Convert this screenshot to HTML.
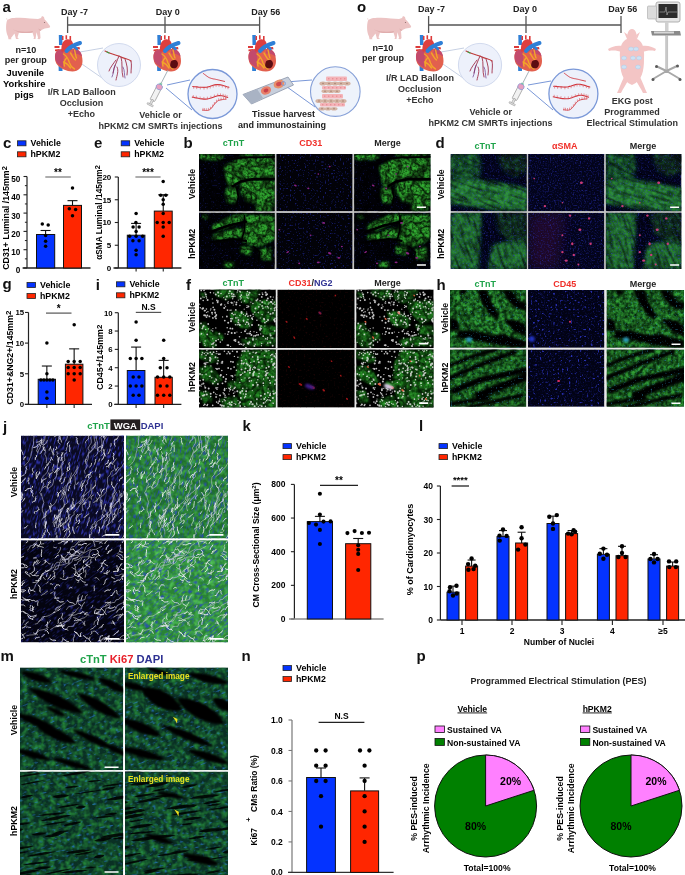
<!DOCTYPE html>
<html><head><meta charset="utf-8"><title>Figure</title>
<style>html,body{margin:0;padding:0;background:#fff;} body{width:685px;height:875px;overflow:hidden;} svg{display:block;will-change:transform;}</style>
</head><body>
<svg width="685" height="875" viewBox="0 0 685 875" font-family='"Liberation Sans", sans-serif'>
<defs><clipPath id="c1"><rect x="199" y="154" width="75.80" height="57.30"/></clipPath><filter id="sp0" x="0" y="0" width="1" height="1" color-interpolation-filters="sRGB"><feTurbulence type="fractalNoise" baseFrequency="0.6" numOctaves="1" seed="11" result="n"/><feColorMatrix in="n" type="matrix" values="0 0 0 0 0 0 0 0 0 0 0 0 0 0 0 6 0 0 0 -3.5" result="a"/><feFlood flood-color="#2a36c8"/><feComposite in2="a" operator="in"/></filter><filter id="bl1" x="-0.2" y="-0.2" width="1.4" height="1.4"><feGaussianBlur stdDeviation="1.6"/></filter><filter id="ti2" x="-0.05" y="-0.05" width="1.1" height="1.1" color-interpolation-filters="sRGB"><feGaussianBlur in="SourceGraphic" stdDeviation="1.3" result="b"/><feTurbulence type="fractalNoise" baseFrequency="0.4" numOctaves="2" seed="3" result="n"/><feColorMatrix in="n" type="matrix" values="0 0 0 0 0 0 0 0 0 0 0 0 0 0 0 2.6 0 0 0 -0.65" result="a"/><feComposite in="b" in2="a" operator="in"/><feGaussianBlur stdDeviation="0.45"/></filter><filter id="vn3" x="0" y="0" width="1" height="1" color-interpolation-filters="sRGB"><feTurbulence type="fractalNoise" baseFrequency="0.09" numOctaves="2" seed="7" result="n"/><feColorMatrix in="n" type="matrix" values="0 0 0 0 0 0 0 0 0 0 0 0 0 0 0 1 0 0 0 0" result="a0"/><feComponentTransfer in="a0" result="a"><feFuncA type="table" tableValues="0 0 0 0 0.2 1 0.2 0 0 0 0"/></feComponentTransfer><feFlood flood-color="#000"/><feComposite in2="a" operator="in"/></filter><filter id="bl4" x="-0.2" y="-0.2" width="1.4" height="1.4"><feGaussianBlur stdDeviation="0.7"/></filter><clipPath id="c2"><rect x="199" y="212.8" width="75.80" height="56.20"/></clipPath><filter id="sp5" x="0" y="0" width="1" height="1" color-interpolation-filters="sRGB"><feTurbulence type="fractalNoise" baseFrequency="0.6" numOctaves="1" seed="12" result="n"/><feColorMatrix in="n" type="matrix" values="0 0 0 0 0 0 0 0 0 0 0 0 0 0 0 6 0 0 0 -3.5" result="a"/><feFlood flood-color="#2a36c8"/><feComposite in2="a" operator="in"/></filter><filter id="ti6" x="-0.05" y="-0.05" width="1.1" height="1.1" color-interpolation-filters="sRGB"><feGaussianBlur in="SourceGraphic" stdDeviation="1.3" result="b"/><feTurbulence type="fractalNoise" baseFrequency="0.4" numOctaves="2" seed="4" result="n"/><feColorMatrix in="n" type="matrix" values="0 0 0 0 0 0 0 0 0 0 0 0 0 0 0 2.6 0 0 0 -0.65" result="a"/><feComposite in="b" in2="a" operator="in"/><feGaussianBlur stdDeviation="0.45"/></filter><filter id="vn7" x="0" y="0" width="1" height="1" color-interpolation-filters="sRGB"><feTurbulence type="fractalNoise" baseFrequency="0.09" numOctaves="2" seed="8" result="n"/><feColorMatrix in="n" type="matrix" values="0 0 0 0 0 0 0 0 0 0 0 0 0 0 0 1 0 0 0 0" result="a0"/><feComponentTransfer in="a0" result="a"><feFuncA type="table" tableValues="0 0 0 0 0.2 1 0.2 0 0 0 0"/></feComponentTransfer><feFlood flood-color="#000"/><feComposite in2="a" operator="in"/></filter><clipPath id="c3"><rect x="276.3" y="154" width="76.30" height="57.30"/></clipPath><filter id="sp8" x="0" y="0" width="1" height="1" color-interpolation-filters="sRGB"><feTurbulence type="fractalNoise" baseFrequency="0.6" numOctaves="1" seed="14" result="n"/><feColorMatrix in="n" type="matrix" values="0 0 0 0 0 0 0 0 0 0 0 0 0 0 0 6 0 0 0 -3.5" result="a"/><feFlood flood-color="#2a36c8"/><feComposite in2="a" operator="in"/></filter><clipPath id="c4"><rect x="276.3" y="212.8" width="76.30" height="56.20"/></clipPath><filter id="sp9" x="0" y="0" width="1" height="1" color-interpolation-filters="sRGB"><feTurbulence type="fractalNoise" baseFrequency="0.6" numOctaves="1" seed="15" result="n"/><feColorMatrix in="n" type="matrix" values="0 0 0 0 0 0 0 0 0 0 0 0 0 0 0 6 0 0 0 -3.5" result="a"/><feFlood flood-color="#2a36c8"/><feComposite in2="a" operator="in"/></filter><clipPath id="c5"><rect x="354.1" y="154" width="76.40" height="57.30"/></clipPath><filter id="sp10" x="0" y="0" width="1" height="1" color-interpolation-filters="sRGB"><feTurbulence type="fractalNoise" baseFrequency="0.6" numOctaves="1" seed="17" result="n"/><feColorMatrix in="n" type="matrix" values="0 0 0 0 0 0 0 0 0 0 0 0 0 0 0 6 0 0 0 -3.5" result="a"/><feFlood flood-color="#2a36c8"/><feComposite in2="a" operator="in"/></filter><clipPath id="c6"><rect x="354.1" y="212.8" width="76.40" height="56.20"/></clipPath><filter id="sp11" x="0" y="0" width="1" height="1" color-interpolation-filters="sRGB"><feTurbulence type="fractalNoise" baseFrequency="0.6" numOctaves="1" seed="18" result="n"/><feColorMatrix in="n" type="matrix" values="0 0 0 0 0 0 0 0 0 0 0 0 0 0 0 6 0 0 0 -3.5" result="a"/><feFlood flood-color="#2a36c8"/><feComposite in2="a" operator="in"/></filter><clipPath id="c7"><rect x="450.6" y="154" width="76.20" height="57.30"/></clipPath><filter id="bl12" x="-0.2" y="-0.2" width="1.4" height="1.4"><feGaussianBlur stdDeviation="2.5"/></filter><filter id="ti13" x="-0.05" y="-0.05" width="1.1" height="1.1" color-interpolation-filters="sRGB"><feGaussianBlur in="SourceGraphic" stdDeviation="1.8" result="b"/><feTurbulence type="fractalNoise" baseFrequency="0.2" numOctaves="2" seed="4" result="n"/><feColorMatrix in="n" type="matrix" values="0 0 0 0 0 0 0 0 0 0 0 0 0 0 0 2.4 0 0 0 -1.1" result="a"/><feComposite in="b" in2="a" operator="in"/><feGaussianBlur stdDeviation="0.45"/></filter><filter id="ti14" x="-0.05" y="-0.05" width="1.1" height="1.1" color-interpolation-filters="sRGB"><feGaussianBlur in="SourceGraphic" stdDeviation="1.5" result="b"/><feTurbulence type="fractalNoise" baseFrequency="0.22" numOctaves="2" seed="5" result="n"/><feColorMatrix in="n" type="matrix" values="0 0 0 0 0 0 0 0 0 0 0 0 0 0 0 2.4 0 0 0 -0.85" result="a"/><feComposite in="b" in2="a" operator="in"/><feGaussianBlur stdDeviation="0.45"/></filter><filter id="bl15" x="-0.2" y="-0.2" width="1.4" height="1.4"><feGaussianBlur stdDeviation="2"/></filter><filter id="ti16" x="-0.05" y="-0.05" width="1.1" height="1.1" color-interpolation-filters="sRGB"><feGaussianBlur in="SourceGraphic" stdDeviation="1.5" result="b"/><feTurbulence type="fractalNoise" baseFrequency="0.22" numOctaves="2" seed="6" result="n"/><feColorMatrix in="n" type="matrix" values="0 0 0 0 0 0 0 0 0 0 0 0 0 0 0 2.4 0 0 0 -0.6" result="a"/><feComposite in="b" in2="a" operator="in"/><feGaussianBlur stdDeviation="0.45"/></filter><filter id="as17" x="0" y="0" width="1" height="1" color-interpolation-filters="sRGB"><feTurbulence type="fractalNoise" baseFrequency="0.05 0.35" numOctaves="1" seed="17" result="n"/><feColorMatrix in="n" type="matrix" values="0 0 0 0 0 0 0 0 0 0 0 0 0 0 0 4 0 0 0 -1.9" result="a"/><feFlood flood-color="#000"/><feComposite in2="a" operator="in"/></filter><filter id="sp18" x="0" y="0" width="1" height="1" color-interpolation-filters="sRGB"><feTurbulence type="fractalNoise" baseFrequency="0.7" numOctaves="1" seed="21" result="n"/><feColorMatrix in="n" type="matrix" values="0 0 0 0 0 0 0 0 0 0 0 0 0 0 0 4 0 0 0 -2.0" result="a"/><feFlood flood-color="#2228b0"/><feComposite in2="a" operator="in"/></filter><filter id="sp19" x="0" y="0" width="1" height="1" color-interpolation-filters="sRGB"><feTurbulence type="fractalNoise" baseFrequency="0.6" numOctaves="1" seed="27" result="n"/><feColorMatrix in="n" type="matrix" values="0 0 0 0 0 0 0 0 0 0 0 0 0 0 0 6 0 0 0 -3.6" result="a"/><feFlood flood-color="#3a44e0"/><feComposite in2="a" operator="in"/></filter><clipPath id="c8"><rect x="450.6" y="212.8" width="76.20" height="56.20"/></clipPath><filter id="ti20" x="-0.05" y="-0.05" width="1.1" height="1.1" color-interpolation-filters="sRGB"><feGaussianBlur in="SourceGraphic" stdDeviation="1.2" result="b"/><feTurbulence type="fractalNoise" baseFrequency="0.25" numOctaves="2" seed="8" result="n"/><feColorMatrix in="n" type="matrix" values="0 0 0 0 0 0 0 0 0 0 0 0 0 0 0 2.4 0 0 0 -1.05" result="a"/><feComposite in="b" in2="a" operator="in"/><feGaussianBlur stdDeviation="0.45"/></filter><filter id="ti21" x="-0.05" y="-0.05" width="1.1" height="1.1" color-interpolation-filters="sRGB"><feGaussianBlur in="SourceGraphic" stdDeviation="1.5" result="b"/><feTurbulence type="fractalNoise" baseFrequency="0.22" numOctaves="2" seed="7" result="n"/><feColorMatrix in="n" type="matrix" values="0 0 0 0 0 0 0 0 0 0 0 0 0 0 0 2.4 0 0 0 -0.65" result="a"/><feComposite in="b" in2="a" operator="in"/><feGaussianBlur stdDeviation="0.45"/></filter><filter id="as22" x="0" y="0" width="1" height="1" color-interpolation-filters="sRGB"><feTurbulence type="fractalNoise" baseFrequency="0.05 0.35" numOctaves="1" seed="18" result="n"/><feColorMatrix in="n" type="matrix" values="0 0 0 0 0 0 0 0 0 0 0 0 0 0 0 4 0 0 0 -1.9" result="a"/><feFlood flood-color="#000"/><feComposite in2="a" operator="in"/></filter><filter id="sp23" x="0" y="0" width="1" height="1" color-interpolation-filters="sRGB"><feTurbulence type="fractalNoise" baseFrequency="0.7" numOctaves="1" seed="22" result="n"/><feColorMatrix in="n" type="matrix" values="0 0 0 0 0 0 0 0 0 0 0 0 0 0 0 4 0 0 0 -2.0" result="a"/><feFlood flood-color="#2228b0"/><feComposite in2="a" operator="in"/></filter><filter id="sp24" x="0" y="0" width="1" height="1" color-interpolation-filters="sRGB"><feTurbulence type="fractalNoise" baseFrequency="0.6" numOctaves="1" seed="28" result="n"/><feColorMatrix in="n" type="matrix" values="0 0 0 0 0 0 0 0 0 0 0 0 0 0 0 6 0 0 0 -3.6" result="a"/><feFlood flood-color="#3a44e0"/><feComposite in2="a" operator="in"/></filter><clipPath id="c9"><rect x="528.1" y="154" width="76.20" height="57.30"/></clipPath><filter id="sp25" x="0" y="0" width="1" height="1" color-interpolation-filters="sRGB"><feTurbulence type="fractalNoise" baseFrequency="0.7" numOctaves="1" seed="24" result="n"/><feColorMatrix in="n" type="matrix" values="0 0 0 0 0 0 0 0 0 0 0 0 0 0 0 4 0 0 0 -2.0" result="a"/><feFlood flood-color="#2228b0"/><feComposite in2="a" operator="in"/></filter><filter id="sp26" x="0" y="0" width="1" height="1" color-interpolation-filters="sRGB"><feTurbulence type="fractalNoise" baseFrequency="0.6" numOctaves="1" seed="30" result="n"/><feColorMatrix in="n" type="matrix" values="0 0 0 0 0 0 0 0 0 0 0 0 0 0 0 6 0 0 0 -3.6" result="a"/><feFlood flood-color="#3a44e0"/><feComposite in2="a" operator="in"/></filter><filter id="bl27" x="-0.2" y="-0.2" width="1.4" height="1.4"><feGaussianBlur stdDeviation="0.6"/></filter><clipPath id="c10"><rect x="528.1" y="212.8" width="76.20" height="56.20"/></clipPath><filter id="bl28" x="-0.2" y="-0.2" width="1.4" height="1.4"><feGaussianBlur stdDeviation="6"/></filter><filter id="sp29" x="0" y="0" width="1" height="1" color-interpolation-filters="sRGB"><feTurbulence type="fractalNoise" baseFrequency="0.7" numOctaves="1" seed="25" result="n"/><feColorMatrix in="n" type="matrix" values="0 0 0 0 0 0 0 0 0 0 0 0 0 0 0 4 0 0 0 -2.0" result="a"/><feFlood flood-color="#2228b0"/><feComposite in2="a" operator="in"/></filter><filter id="sp30" x="0" y="0" width="1" height="1" color-interpolation-filters="sRGB"><feTurbulence type="fractalNoise" baseFrequency="0.6" numOctaves="1" seed="31" result="n"/><feColorMatrix in="n" type="matrix" values="0 0 0 0 0 0 0 0 0 0 0 0 0 0 0 6 0 0 0 -3.6" result="a"/><feFlood flood-color="#3a44e0"/><feComposite in2="a" operator="in"/></filter><clipPath id="c11"><rect x="605.8" y="154" width="75.60" height="57.30"/></clipPath><filter id="sp31" x="0" y="0" width="1" height="1" color-interpolation-filters="sRGB"><feTurbulence type="fractalNoise" baseFrequency="0.7" numOctaves="1" seed="27" result="n"/><feColorMatrix in="n" type="matrix" values="0 0 0 0 0 0 0 0 0 0 0 0 0 0 0 4 0 0 0 -2.0" result="a"/><feFlood flood-color="#2228b0"/><feComposite in2="a" operator="in"/></filter><filter id="sp32" x="0" y="0" width="1" height="1" color-interpolation-filters="sRGB"><feTurbulence type="fractalNoise" baseFrequency="0.6" numOctaves="1" seed="33" result="n"/><feColorMatrix in="n" type="matrix" values="0 0 0 0 0 0 0 0 0 0 0 0 0 0 0 6 0 0 0 -3.6" result="a"/><feFlood flood-color="#3a44e0"/><feComposite in2="a" operator="in"/></filter><clipPath id="c12"><rect x="605.8" y="212.8" width="75.60" height="56.20"/></clipPath><filter id="sp33" x="0" y="0" width="1" height="1" color-interpolation-filters="sRGB"><feTurbulence type="fractalNoise" baseFrequency="0.7" numOctaves="1" seed="28" result="n"/><feColorMatrix in="n" type="matrix" values="0 0 0 0 0 0 0 0 0 0 0 0 0 0 0 4 0 0 0 -2.0" result="a"/><feFlood flood-color="#2228b0"/><feComposite in2="a" operator="in"/></filter><filter id="sp34" x="0" y="0" width="1" height="1" color-interpolation-filters="sRGB"><feTurbulence type="fractalNoise" baseFrequency="0.6" numOctaves="1" seed="34" result="n"/><feColorMatrix in="n" type="matrix" values="0 0 0 0 0 0 0 0 0 0 0 0 0 0 0 6 0 0 0 -3.6" result="a"/><feFlood flood-color="#3a44e0"/><feComposite in2="a" operator="in"/></filter><clipPath id="c13"><rect x="199" y="289.6" width="76.80" height="58.50"/></clipPath><filter id="bl35" x="-0.2" y="-0.2" width="1.4" height="1.4"><feGaussianBlur stdDeviation="1.3"/></filter><filter id="ti36" x="-0.05" y="-0.05" width="1.1" height="1.1" color-interpolation-filters="sRGB"><feGaussianBlur in="SourceGraphic" stdDeviation="0.9" result="b"/><feTurbulence type="fractalNoise" baseFrequency="0.3" numOctaves="2" seed="31" result="n"/><feColorMatrix in="n" type="matrix" values="0 0 0 0 0 0 0 0 0 0 0 0 0 0 0 2.4 0 0 0 -0.75" result="a"/><feComposite in="b" in2="a" operator="in"/><feGaussianBlur stdDeviation="0.45"/></filter><filter id="vn37" x="0" y="0" width="1" height="1" color-interpolation-filters="sRGB"><feTurbulence type="fractalNoise" baseFrequency="0.1" numOctaves="2" seed="37" result="n"/><feColorMatrix in="n" type="matrix" values="0 0 0 0 0 0 0 0 0 0 0 0 0 0 0 1 0 0 0 0" result="a0"/><feComponentTransfer in="a0" result="a"><feFuncA type="table" tableValues="0 0 0 0 0.3 1 0.3 0 0 0 0"/></feComponentTransfer><feFlood flood-color="#000"/><feComposite in2="a" operator="in"/></filter><clipPath id="c14"><rect x="199" y="349.6" width="76.80" height="58.00"/></clipPath><filter id="ti38" x="-0.05" y="-0.05" width="1.1" height="1.1" color-interpolation-filters="sRGB"><feGaussianBlur in="SourceGraphic" stdDeviation="0.9" result="b"/><feTurbulence type="fractalNoise" baseFrequency="0.3" numOctaves="2" seed="32" result="n"/><feColorMatrix in="n" type="matrix" values="0 0 0 0 0 0 0 0 0 0 0 0 0 0 0 2.4 0 0 0 -0.75" result="a"/><feComposite in="b" in2="a" operator="in"/><feGaussianBlur stdDeviation="0.45"/></filter><filter id="vn39" x="0" y="0" width="1" height="1" color-interpolation-filters="sRGB"><feTurbulence type="fractalNoise" baseFrequency="0.1" numOctaves="2" seed="38" result="n"/><feColorMatrix in="n" type="matrix" values="0 0 0 0 0 0 0 0 0 0 0 0 0 0 0 1 0 0 0 0" result="a0"/><feComponentTransfer in="a0" result="a"><feFuncA type="table" tableValues="0 0 0 0 0.3 1 0.3 0 0 0 0"/></feComponentTransfer><feFlood flood-color="#000"/><feComposite in2="a" operator="in"/></filter><clipPath id="c15"><rect x="277.3" y="289.6" width="77.40" height="58.50"/></clipPath><filter id="sp40" x="0" y="0" width="1" height="1" color-interpolation-filters="sRGB"><feTurbulence type="fractalNoise" baseFrequency="0.5" numOctaves="1" seed="51" result="n"/><feColorMatrix in="n" type="matrix" values="0 0 0 0 0 0 0 0 0 0 0 0 0 0 0 5 0 0 0 -3" result="a"/><feFlood flood-color="#300a0a"/><feComposite in2="a" operator="in"/></filter><filter id="bl41" x="-0.2" y="-0.2" width="1.4" height="1.4"><feGaussianBlur stdDeviation="0.9"/></filter><clipPath id="c16"><rect x="277.3" y="349.6" width="77.40" height="58.00"/></clipPath><filter id="sp42" x="0" y="0" width="1" height="1" color-interpolation-filters="sRGB"><feTurbulence type="fractalNoise" baseFrequency="0.5" numOctaves="1" seed="52" result="n"/><feColorMatrix in="n" type="matrix" values="0 0 0 0 0 0 0 0 0 0 0 0 0 0 0 5 0 0 0 -3" result="a"/><feFlood flood-color="#300a0a"/><feComposite in2="a" operator="in"/></filter><clipPath id="c17"><rect x="356.2" y="289.6" width="77.40" height="58.50"/></clipPath><clipPath id="c18"><rect x="356.2" y="349.6" width="77.40" height="58.00"/></clipPath><clipPath id="c19"><rect x="450" y="290" width="76.20" height="57.80"/></clipPath><filter id="ti43" x="-0.05" y="-0.05" width="1.1" height="1.1" color-interpolation-filters="sRGB"><feGaussianBlur in="SourceGraphic" stdDeviation="0.9" result="b"/><feTurbulence type="fractalNoise" baseFrequency="0.28" numOctaves="2" seed="61" result="n"/><feColorMatrix in="n" type="matrix" values="0 0 0 0 0 0 0 0 0 0 0 0 0 0 0 2.6 0 0 0 -0.8" result="a"/><feComposite in="b" in2="a" operator="in"/><feGaussianBlur stdDeviation="0.45"/></filter><filter id="vn44" x="0" y="0" width="1" height="1" color-interpolation-filters="sRGB"><feTurbulence type="fractalNoise" baseFrequency="0.08" numOctaves="2" seed="65" result="n"/><feColorMatrix in="n" type="matrix" values="0 0 0 0 0 0 0 0 0 0 0 0 0 0 0 1 0 0 0 0" result="a0"/><feComponentTransfer in="a0" result="a"><feFuncA type="table" tableValues="0 0 0 0 0.3 1 0.3 0 0 0 0"/></feComponentTransfer><feFlood flood-color="#000"/><feComposite in2="a" operator="in"/></filter><filter id="bl45" x="-0.2" y="-0.2" width="1.4" height="1.4"><feGaussianBlur stdDeviation="0.8"/></filter><filter id="sp46" x="0" y="0" width="1" height="1" color-interpolation-filters="sRGB"><feTurbulence type="fractalNoise" baseFrequency="0.55" numOctaves="1" seed="71" result="n"/><feColorMatrix in="n" type="matrix" values="0 0 0 0 0 0 0 0 0 0 0 0 0 0 0 6 0 0 0 -3.7" result="a"/><feFlood flood-color="#2a8ab8"/><feComposite in2="a" operator="in"/></filter><filter id="bl47" x="-0.2" y="-0.2" width="1.4" height="1.4"><feGaussianBlur stdDeviation="1.0"/></filter><clipPath id="c20"><rect x="450" y="349.5" width="76.20" height="57.30"/></clipPath><filter id="ti48" x="-0.05" y="-0.05" width="1.1" height="1.1" color-interpolation-filters="sRGB"><feGaussianBlur in="SourceGraphic" stdDeviation="0.9" result="b"/><feTurbulence type="fractalNoise" baseFrequency="0.28" numOctaves="2" seed="62" result="n"/><feColorMatrix in="n" type="matrix" values="0 0 0 0 0 0 0 0 0 0 0 0 0 0 0 2.6 0 0 0 -0.8" result="a"/><feComposite in="b" in2="a" operator="in"/><feGaussianBlur stdDeviation="0.45"/></filter><filter id="vn49" x="0" y="0" width="1" height="1" color-interpolation-filters="sRGB"><feTurbulence type="fractalNoise" baseFrequency="0.08" numOctaves="2" seed="66" result="n"/><feColorMatrix in="n" type="matrix" values="0 0 0 0 0 0 0 0 0 0 0 0 0 0 0 1 0 0 0 0" result="a0"/><feComponentTransfer in="a0" result="a"><feFuncA type="table" tableValues="0 0 0 0 0.3 1 0.3 0 0 0 0"/></feComponentTransfer><feFlood flood-color="#000"/><feComposite in2="a" operator="in"/></filter><filter id="sp50" x="0" y="0" width="1" height="1" color-interpolation-filters="sRGB"><feTurbulence type="fractalNoise" baseFrequency="0.55" numOctaves="1" seed="72" result="n"/><feColorMatrix in="n" type="matrix" values="0 0 0 0 0 0 0 0 0 0 0 0 0 0 0 6 0 0 0 -3.7" result="a"/><feFlood flood-color="#2a8ab8"/><feComposite in2="a" operator="in"/></filter><clipPath id="c21"><rect x="528" y="290" width="76.40" height="57.80"/></clipPath><filter id="sp51" x="0" y="0" width="1" height="1" color-interpolation-filters="sRGB"><feTurbulence type="fractalNoise" baseFrequency="0.7" numOctaves="1" seed="81" result="n"/><feColorMatrix in="n" type="matrix" values="0 0 0 0 0 0 0 0 0 0 0 0 0 0 0 4 0 0 0 -2.0" result="a"/><feFlood flood-color="#1c22a0"/><feComposite in2="a" operator="in"/></filter><filter id="sp52" x="0" y="0" width="1" height="1" color-interpolation-filters="sRGB"><feTurbulence type="fractalNoise" baseFrequency="0.45" numOctaves="1" seed="85" result="n"/><feColorMatrix in="n" type="matrix" values="0 0 0 0 0 0 0 0 0 0 0 0 0 0 0 7 0 0 0 -4.3" result="a"/><feFlood flood-color="#3a44f0"/><feComposite in2="a" operator="in"/></filter><filter id="bl53" x="-0.2" y="-0.2" width="1.4" height="1.4"><feGaussianBlur stdDeviation="0.4"/></filter><clipPath id="c22"><rect x="528" y="349.5" width="76.40" height="57.30"/></clipPath><filter id="sp54" x="0" y="0" width="1" height="1" color-interpolation-filters="sRGB"><feTurbulence type="fractalNoise" baseFrequency="0.7" numOctaves="1" seed="82" result="n"/><feColorMatrix in="n" type="matrix" values="0 0 0 0 0 0 0 0 0 0 0 0 0 0 0 4 0 0 0 -2.0" result="a"/><feFlood flood-color="#1c22a0"/><feComposite in2="a" operator="in"/></filter><filter id="sp55" x="0" y="0" width="1" height="1" color-interpolation-filters="sRGB"><feTurbulence type="fractalNoise" baseFrequency="0.45" numOctaves="1" seed="86" result="n"/><feColorMatrix in="n" type="matrix" values="0 0 0 0 0 0 0 0 0 0 0 0 0 0 0 7 0 0 0 -4.3" result="a"/><feFlood flood-color="#3a44f0"/><feComposite in2="a" operator="in"/></filter><clipPath id="c23"><rect x="606.6" y="290" width="77.40" height="57.80"/></clipPath><clipPath id="c24"><rect x="606.6" y="349.5" width="77.40" height="57.30"/></clipPath><clipPath id="c25"><rect x="21" y="435.6" width="103.00" height="102.80"/></clipPath><filter id="as56" x="0" y="0" width="1" height="1" color-interpolation-filters="sRGB"><feTurbulence type="fractalNoise" baseFrequency="0.2 0.7" numOctaves="1" seed="100" result="n"/><feColorMatrix in="n" type="matrix" values="0 0 0 0 0 0 0 0 0 0 0 0 0 0 0 5 0 0 0 -2.5" result="a"/><feFlood flood-color="#3034b0"/><feComposite in2="a" operator="in"/></filter><filter id="bl57" x="-0.2" y="-0.2" width="1.4" height="1.4"><feGaussianBlur stdDeviation="0.25"/></filter><filter id="bl58" x="-0.2" y="-0.2" width="1.4" height="1.4"><feGaussianBlur stdDeviation="0.15"/></filter><clipPath id="c26"><rect x="21" y="540.2" width="103.00" height="102.20"/></clipPath><filter id="as59" x="0" y="0" width="1" height="1" color-interpolation-filters="sRGB"><feTurbulence type="fractalNoise" baseFrequency="0.2 0.7" numOctaves="1" seed="101" result="n"/><feColorMatrix in="n" type="matrix" values="0 0 0 0 0 0 0 0 0 0 0 0 0 0 0 5 0 0 0 -2.7" result="a"/><feFlood flood-color="#2a2e98"/><feComposite in2="a" operator="in"/></filter><clipPath id="c27"><rect x="126" y="435.6" width="102.00" height="102.80"/></clipPath><filter id="ti60" x="-0.05" y="-0.05" width="1.1" height="1.1" color-interpolation-filters="sRGB"><feGaussianBlur in="SourceGraphic" stdDeviation="1.0" result="b"/><feTurbulence type="fractalNoise" baseFrequency="0.2" numOctaves="2" seed="91" result="n"/><feColorMatrix in="n" type="matrix" values="0 0 0 0 0 0 0 0 0 0 0 0 0 0 0 2.2 0 0 0 -0.8" result="a"/><feComposite in="b" in2="a" operator="in"/><feGaussianBlur stdDeviation="0.45"/></filter><filter id="as61" x="0" y="0" width="1" height="1" color-interpolation-filters="sRGB"><feTurbulence type="fractalNoise" baseFrequency="0.2 0.7" numOctaves="1" seed="110" result="n"/><feColorMatrix in="n" type="matrix" values="0 0 0 0 0 0 0 0 0 0 0 0 0 0 0 5 0 0 0 -2.6" result="a"/><feFlood flood-color="#2a48c0"/><feComposite in2="a" operator="in"/></filter><clipPath id="c28"><rect x="126" y="540.2" width="102.00" height="102.20"/></clipPath><filter id="ti62" x="-0.05" y="-0.05" width="1.1" height="1.1" color-interpolation-filters="sRGB"><feGaussianBlur in="SourceGraphic" stdDeviation="1.0" result="b"/><feTurbulence type="fractalNoise" baseFrequency="0.2" numOctaves="2" seed="92" result="n"/><feColorMatrix in="n" type="matrix" values="0 0 0 0 0 0 0 0 0 0 0 0 0 0 0 2.2 0 0 0 -0.8" result="a"/><feComposite in="b" in2="a" operator="in"/><feGaussianBlur stdDeviation="0.45"/></filter><filter id="as63" x="0" y="0" width="1" height="1" color-interpolation-filters="sRGB"><feTurbulence type="fractalNoise" baseFrequency="0.2 0.7" numOctaves="1" seed="111" result="n"/><feColorMatrix in="n" type="matrix" values="0 0 0 0 0 0 0 0 0 0 0 0 0 0 0 5 0 0 0 -2.6" result="a"/><feFlood flood-color="#2a48c0"/><feComposite in2="a" operator="in"/></filter><clipPath id="c29"><rect x="20" y="667.4" width="103.20" height="102.80"/></clipPath><filter id="ti64" x="-0.05" y="-0.05" width="1.1" height="1.1" color-interpolation-filters="sRGB"><feGaussianBlur in="SourceGraphic" stdDeviation="1.2" result="b"/><feTurbulence type="fractalNoise" baseFrequency="0.18" numOctaves="2" seed="121" result="n"/><feColorMatrix in="n" type="matrix" values="0 0 0 0 0 0 0 0 0 0 0 0 0 0 0 2.2 0 0 0 -0.8" result="a"/><feComposite in="b" in2="a" operator="in"/><feGaussianBlur stdDeviation="0.45"/></filter><filter id="as65" x="0" y="0" width="1" height="1" color-interpolation-filters="sRGB"><feTurbulence type="fractalNoise" baseFrequency="0.25 0.5" numOctaves="1" seed="131" result="n"/><feColorMatrix in="n" type="matrix" values="0 0 0 0 0 0 0 0 0 0 0 0 0 0 0 6 0 0 0 -3.6" result="a"/><feFlood flood-color="#2a7ad8"/><feComposite in2="a" operator="in"/></filter><clipPath id="c30"><rect x="20" y="771.6" width="103.20" height="103.40"/></clipPath><filter id="ti66" x="-0.05" y="-0.05" width="1.1" height="1.1" color-interpolation-filters="sRGB"><feGaussianBlur in="SourceGraphic" stdDeviation="1.2" result="b"/><feTurbulence type="fractalNoise" baseFrequency="0.18" numOctaves="2" seed="122" result="n"/><feColorMatrix in="n" type="matrix" values="0 0 0 0 0 0 0 0 0 0 0 0 0 0 0 2.2 0 0 0 -0.8" result="a"/><feComposite in="b" in2="a" operator="in"/><feGaussianBlur stdDeviation="0.45"/></filter><filter id="as67" x="0" y="0" width="1" height="1" color-interpolation-filters="sRGB"><feTurbulence type="fractalNoise" baseFrequency="0.25 0.5" numOctaves="1" seed="132" result="n"/><feColorMatrix in="n" type="matrix" values="0 0 0 0 0 0 0 0 0 0 0 0 0 0 0 6 0 0 0 -3.6" result="a"/><feFlood flood-color="#2a7ad8"/><feComposite in2="a" operator="in"/></filter><clipPath id="c31"><rect x="125" y="667.4" width="103.00" height="102.80"/></clipPath><filter id="ti68" x="-0.05" y="-0.05" width="1.1" height="1.1" color-interpolation-filters="sRGB"><feGaussianBlur in="SourceGraphic" stdDeviation="1.2" result="b"/><feTurbulence type="fractalNoise" baseFrequency="0.18" numOctaves="2" seed="123" result="n"/><feColorMatrix in="n" type="matrix" values="0 0 0 0 0 0 0 0 0 0 0 0 0 0 0 2.2 0 0 0 -0.8" result="a"/><feComposite in="b" in2="a" operator="in"/><feGaussianBlur stdDeviation="0.45"/></filter><filter id="as69" x="0" y="0" width="1" height="1" color-interpolation-filters="sRGB"><feTurbulence type="fractalNoise" baseFrequency="0.25 0.5" numOctaves="1" seed="133" result="n"/><feColorMatrix in="n" type="matrix" values="0 0 0 0 0 0 0 0 0 0 0 0 0 0 0 6 0 0 0 -3.6" result="a"/><feFlood flood-color="#2a7ad8"/><feComposite in2="a" operator="in"/></filter><clipPath id="c32"><rect x="125" y="771.6" width="103.00" height="103.40"/></clipPath><filter id="ti70" x="-0.05" y="-0.05" width="1.1" height="1.1" color-interpolation-filters="sRGB"><feGaussianBlur in="SourceGraphic" stdDeviation="1.2" result="b"/><feTurbulence type="fractalNoise" baseFrequency="0.18" numOctaves="2" seed="124" result="n"/><feColorMatrix in="n" type="matrix" values="0 0 0 0 0 0 0 0 0 0 0 0 0 0 0 2.2 0 0 0 -0.8" result="a"/><feComposite in="b" in2="a" operator="in"/><feGaussianBlur stdDeviation="0.45"/></filter><filter id="as71" x="0" y="0" width="1" height="1" color-interpolation-filters="sRGB"><feTurbulence type="fractalNoise" baseFrequency="0.25 0.5" numOctaves="1" seed="134" result="n"/><feColorMatrix in="n" type="matrix" values="0 0 0 0 0 0 0 0 0 0 0 0 0 0 0 6 0 0 0 -3.6" result="a"/><feFlood flood-color="#2a7ad8"/><feComposite in2="a" operator="in"/></filter></defs><rect width="685" height="875" fill="#fff"/>
<rect x="17.5" y="140.8" width="8.5" height="5" fill="#0433FF" stroke="#222" stroke-width="0.8" />
<rect x="17.5" y="151.8" width="8.5" height="5" fill="#FF2600" stroke="#222" stroke-width="0.8" />
<text x="30.5" y="146.4" font-size="8.8" font-weight="bold" fill="#000" text-anchor="start" >Vehicle</text>
<text x="30.5" y="157.4" font-size="8.8" font-weight="bold" fill="#000" text-anchor="start" >hPKM2</text>
<line x1="27" y1="176.5" x2="27" y2="268" stroke="#222" stroke-width="1.2"/>
<line x1="23.5" y1="268.0" x2="27" y2="268.0" stroke="#222" stroke-width="1.1"/>
<line x1="23.5" y1="249.7" x2="27" y2="249.7" stroke="#222" stroke-width="1.1"/>
<line x1="23.5" y1="231.4" x2="27" y2="231.4" stroke="#222" stroke-width="1.1"/>
<line x1="23.5" y1="213.1" x2="27" y2="213.1" stroke="#222" stroke-width="1.1"/>
<line x1="23.5" y1="194.8" x2="27" y2="194.8" stroke="#222" stroke-width="1.1"/>
<line x1="23.5" y1="176.5" x2="27" y2="176.5" stroke="#222" stroke-width="1.1"/>
<line x1="24.9" y1="258.85" x2="27" y2="258.85" stroke="#222" stroke-width="1.0"/>
<line x1="24.9" y1="240.55" x2="27" y2="240.55" stroke="#222" stroke-width="1.0"/>
<line x1="24.9" y1="222.25" x2="27" y2="222.25" stroke="#222" stroke-width="1.0"/>
<line x1="24.9" y1="203.95" x2="27" y2="203.95" stroke="#222" stroke-width="1.0"/>
<line x1="24.9" y1="185.64999999999998" x2="27" y2="185.64999999999998" stroke="#222" stroke-width="1.0"/>
<line x1="22.6" y1="268" x2="90.5" y2="268" stroke="#222" stroke-width="1.3"/>
<rect x="36.5" y="234.5" width="18.200000000000003" height="33.5" fill="#0433FF" stroke="#111" stroke-width="1"/>
<line x1="45.6" y1="234.511" x2="45.6" y2="230.485" stroke="#111" stroke-width="1.1"/>
<line x1="40.6" y1="230.485" x2="50.6" y2="230.485" stroke="#111" stroke-width="1.1"/>
<circle cx="42.3" cy="224.1" r="1.75" fill="#000"/>
<circle cx="48.2" cy="225.0" r="1.75" fill="#000"/>
<circle cx="45.6" cy="235.6" r="1.75" fill="#000"/>
<circle cx="45.6" cy="241.3" r="1.75" fill="#000"/>
<circle cx="45.6" cy="246.2" r="1.75" fill="#000"/>
<rect x="63.5" y="205.4" width="18.0" height="62.6" fill="#FF2600" stroke="#111" stroke-width="1"/>
<line x1="72.5" y1="205.414" x2="72.5" y2="200.656" stroke="#111" stroke-width="1.1"/>
<line x1="67.5" y1="200.656" x2="77.5" y2="200.656" stroke="#111" stroke-width="1.1"/>
<circle cx="72.5" cy="188.0" r="1.75" fill="#000"/>
<circle cx="69.3" cy="208.7" r="1.75" fill="#000"/>
<circle cx="75.6" cy="209.4" r="1.75" fill="#000"/>
<circle cx="72.5" cy="215.7" r="1.75" fill="#000"/>
<text x="20.3" y="273.452" font-size="8.2" font-weight="bold" fill="#000" text-anchor="end" >0</text>
<text x="20.3" y="255.152" font-size="8.2" font-weight="bold" fill="#000" text-anchor="end" >10</text>
<text x="20.3" y="236.852" font-size="8.2" font-weight="bold" fill="#000" text-anchor="end" >20</text>
<text x="20.3" y="218.552" font-size="8.2" font-weight="bold" fill="#000" text-anchor="end" >30</text>
<text x="20.3" y="200.252" font-size="8.2" font-weight="bold" fill="#000" text-anchor="end" >40</text>
<text x="20.3" y="181.952" font-size="8.2" font-weight="bold" fill="#000" text-anchor="end" >50</text>
<line x1="45.3" y1="177" x2="70.8" y2="177" stroke="#777" stroke-width="1.2"/>
<text x="58" y="175.5" font-size="10" font-weight="bold" fill="#000" text-anchor="middle" >**</text>
<text transform="translate(8.6,218) rotate(-90)" font-size="8.85" font-weight="bold" text-anchor="middle">CD31+ Luminal /145mm<tspan dy="-1.4" font-size="7.5">2</tspan></text>
<rect x="121.2" y="140.8" width="8.5" height="5" fill="#0433FF" stroke="#222" stroke-width="0.8" />
<rect x="121.2" y="151.8" width="8.5" height="5" fill="#FF2600" stroke="#222" stroke-width="0.8" />
<text x="134.2" y="146.4" font-size="8.8" font-weight="bold" fill="#000" text-anchor="start" >Vehicle</text>
<text x="134.2" y="157.4" font-size="8.8" font-weight="bold" fill="#000" text-anchor="start" >hPKM2</text>
<line x1="118.3" y1="177.0" x2="118.3" y2="268" stroke="#222" stroke-width="1.2"/>
<line x1="114.8" y1="268.0" x2="118.3" y2="268.0" stroke="#222" stroke-width="1.1"/>
<line x1="114.8" y1="245.25" x2="118.3" y2="245.25" stroke="#222" stroke-width="1.1"/>
<line x1="114.8" y1="222.5" x2="118.3" y2="222.5" stroke="#222" stroke-width="1.1"/>
<line x1="114.8" y1="199.75" x2="118.3" y2="199.75" stroke="#222" stroke-width="1.1"/>
<line x1="114.8" y1="177.0" x2="118.3" y2="177.0" stroke="#222" stroke-width="1.1"/>
<line x1="113.5" y1="268" x2="181.4" y2="268" stroke="#222" stroke-width="1.3"/>
<rect x="127.3" y="235.2" width="17.60000000000001" height="32.8" fill="#0433FF" stroke="#111" stroke-width="1"/>
<line x1="136.1" y1="235.24" x2="136.1" y2="223.41" stroke="#111" stroke-width="1.1"/>
<line x1="131.1" y1="223.41" x2="141.1" y2="223.41" stroke="#111" stroke-width="1.1"/>
<circle cx="136.1" cy="213.4" r="1.75" fill="#000"/>
<circle cx="135.9" cy="222.5" r="1.75" fill="#000"/>
<circle cx="133.1" cy="227.1" r="1.75" fill="#000"/>
<circle cx="139.1" cy="227.1" r="1.75" fill="#000"/>
<circle cx="136.1" cy="231.6" r="1.75" fill="#000"/>
<circle cx="129.6" cy="236.2" r="1.75" fill="#000"/>
<circle cx="136.1" cy="236.2" r="1.75" fill="#000"/>
<circle cx="142.6" cy="236.2" r="1.75" fill="#000"/>
<circle cx="132.9" cy="240.7" r="1.75" fill="#000"/>
<circle cx="139.1" cy="240.7" r="1.75" fill="#000"/>
<circle cx="136.1" cy="250.3" r="1.75" fill="#000"/>
<circle cx="136.1" cy="254.8" r="1.75" fill="#000"/>
<line x1="136.1" y1="268" x2="136.1" y2="271.5" stroke="#222" stroke-width="1.1"/>
<rect x="154.3" y="211.1" width="17.899999999999977" height="56.9" fill="#FF2600" stroke="#111" stroke-width="1"/>
<line x1="163.25" y1="211.125" x2="163.25" y2="194.745" stroke="#111" stroke-width="1.1"/>
<line x1="158.25" y1="194.745" x2="168.25" y2="194.745" stroke="#111" stroke-width="1.1"/>
<circle cx="163.2" cy="181.6" r="1.75" fill="#000"/>
<circle cx="160.7" cy="195.2" r="1.75" fill="#000"/>
<circle cx="165.8" cy="195.2" r="1.75" fill="#000"/>
<circle cx="163.2" cy="199.8" r="1.75" fill="#000"/>
<circle cx="163.2" cy="204.3" r="1.75" fill="#000"/>
<circle cx="163.2" cy="213.4" r="1.75" fill="#000"/>
<circle cx="157.2" cy="222.5" r="1.75" fill="#000"/>
<circle cx="163.2" cy="222.5" r="1.75" fill="#000"/>
<circle cx="169.2" cy="222.5" r="1.75" fill="#000"/>
<circle cx="163.2" cy="227.1" r="1.75" fill="#000"/>
<circle cx="163.2" cy="236.2" r="1.75" fill="#000"/>
<line x1="163.25" y1="268" x2="163.25" y2="271.5" stroke="#222" stroke-width="1.1"/>
<text x="111.3" y="270.88" font-size="8" font-weight="bold" fill="#000" text-anchor="end" >0</text>
<text x="111.3" y="248.13" font-size="8" font-weight="bold" fill="#000" text-anchor="end" >5</text>
<text x="111.3" y="225.38" font-size="8" font-weight="bold" fill="#000" text-anchor="end" >10</text>
<text x="111.3" y="202.63" font-size="8" font-weight="bold" fill="#000" text-anchor="end" >15</text>
<text x="111.3" y="179.88" font-size="8" font-weight="bold" fill="#000" text-anchor="end" >20</text>
<line x1="135.4" y1="177" x2="160.6" y2="177" stroke="#777" stroke-width="1.2"/>
<text x="148" y="175.5" font-size="10" font-weight="bold" fill="#000" text-anchor="middle" >***</text>
<text transform="translate(101.8,212.5) rotate(-90)" font-size="8.3" font-weight="bold" text-anchor="middle">αSMA Luminal /145mm<tspan dy="-1.5" font-size="7.5">2</tspan></text>
<rect x="27" y="282.5" width="8.5" height="5" fill="#0433FF" stroke="#222" stroke-width="0.8" />
<rect x="27" y="293.5" width="8.5" height="5" fill="#FF2600" stroke="#222" stroke-width="0.8" />
<text x="40.0" y="288.1" font-size="8.8" font-weight="bold" fill="#000" text-anchor="start" >Vehicle</text>
<text x="40.0" y="299.1" font-size="8.8" font-weight="bold" fill="#000" text-anchor="start" >hPKM2</text>
<line x1="28.5" y1="312.45" x2="28.5" y2="404.4" stroke="#222" stroke-width="1.2"/>
<line x1="25.0" y1="404.4" x2="28.5" y2="404.4" stroke="#222" stroke-width="1.1"/>
<line x1="25.0" y1="373.75" x2="28.5" y2="373.75" stroke="#222" stroke-width="1.1"/>
<line x1="25.0" y1="343.09999999999997" x2="28.5" y2="343.09999999999997" stroke="#222" stroke-width="1.1"/>
<line x1="25.0" y1="312.45" x2="28.5" y2="312.45" stroke="#222" stroke-width="1.1"/>
<line x1="24.8" y1="404.4" x2="92" y2="404.4" stroke="#222" stroke-width="1.3"/>
<rect x="38.2" y="379.3" width="17.299999999999997" height="25.1" fill="#0433FF" stroke="#111" stroke-width="1"/>
<line x1="46.85" y1="379.267" x2="46.85" y2="366.02619999999996" stroke="#111" stroke-width="1.1"/>
<line x1="41.85" y1="366.02619999999996" x2="51.85" y2="366.02619999999996" stroke="#111" stroke-width="1.1"/>
<circle cx="46.9" cy="343.1" r="1.75" fill="#000"/>
<circle cx="46.9" cy="373.8" r="1.75" fill="#000"/>
<circle cx="46.9" cy="392.1" r="1.75" fill="#000"/>
<circle cx="46.9" cy="398.3" r="1.75" fill="#000"/>
<circle cx="40.9" cy="379.9" r="1.75" fill="#000"/>
<circle cx="43.9" cy="379.9" r="1.75" fill="#000"/>
<circle cx="46.9" cy="379.9" r="1.75" fill="#000"/>
<circle cx="49.9" cy="379.9" r="1.75" fill="#000"/>
<circle cx="52.9" cy="379.9" r="1.75" fill="#000"/>
<line x1="46.85" y1="404.4" x2="46.85" y2="407.9" stroke="#222" stroke-width="1.1"/>
<rect x="65.4" y="364.2" width="17.5" height="40.2" fill="#FF2600" stroke="#111" stroke-width="1"/>
<line x1="74.15" y1="364.18719999999996" x2="74.15" y2="348.8622" stroke="#111" stroke-width="1.1"/>
<line x1="69.15" y1="348.8622" x2="79.15" y2="348.8622" stroke="#111" stroke-width="1.1"/>
<circle cx="74.2" cy="324.7" r="1.75" fill="#000"/>
<circle cx="68.2" cy="361.5" r="1.75" fill="#000"/>
<circle cx="74.2" cy="361.5" r="1.75" fill="#000"/>
<circle cx="80.2" cy="361.5" r="1.75" fill="#000"/>
<circle cx="68.2" cy="367.6" r="1.75" fill="#000"/>
<circle cx="74.2" cy="367.6" r="1.75" fill="#000"/>
<circle cx="80.2" cy="367.6" r="1.75" fill="#000"/>
<circle cx="68.2" cy="373.8" r="1.75" fill="#000"/>
<circle cx="74.2" cy="373.8" r="1.75" fill="#000"/>
<circle cx="80.2" cy="373.8" r="1.75" fill="#000"/>
<circle cx="74.2" cy="379.9" r="1.75" fill="#000"/>
<line x1="74.15" y1="404.4" x2="74.15" y2="407.9" stroke="#222" stroke-width="1.1"/>
<text x="24.2" y="407.20799999999997" font-size="7.8" font-weight="bold" fill="#000" text-anchor="end" >0</text>
<text x="24.2" y="376.558" font-size="7.8" font-weight="bold" fill="#000" text-anchor="end" >5</text>
<text x="24.2" y="345.90799999999996" font-size="7.8" font-weight="bold" fill="#000" text-anchor="end" >10</text>
<text x="24.2" y="315.258" font-size="7.8" font-weight="bold" fill="#000" text-anchor="end" >15</text>
<line x1="46" y1="313.1" x2="71.5" y2="313.1" stroke="#555" stroke-width="1.2"/>
<text x="58.7" y="311.5" font-size="10" font-weight="bold" fill="#000" text-anchor="middle" >*</text>
<text transform="translate(12.6,357.6) rotate(-90)" font-size="8.75" font-weight="bold" text-anchor="middle">CD31+&amp;NG2+/145mm<tspan dy="-1.5" font-size="8">2</tspan></text>
<rect x="116.4" y="281.8" width="8.5" height="5" fill="#0433FF" stroke="#222" stroke-width="0.8" />
<rect x="116.4" y="292.8" width="8.5" height="5" fill="#FF2600" stroke="#222" stroke-width="0.8" />
<text x="129.4" y="287.40000000000003" font-size="8.8" font-weight="bold" fill="#000" text-anchor="start" >Vehicle</text>
<text x="129.4" y="298.40000000000003" font-size="8.8" font-weight="bold" fill="#000" text-anchor="start" >hPKM2</text>
<line x1="118.3" y1="312.7" x2="118.3" y2="404.4" stroke="#222" stroke-width="1.2"/>
<line x1="114.8" y1="404.4" x2="118.3" y2="404.4" stroke="#222" stroke-width="1.1"/>
<line x1="114.8" y1="386.06" x2="118.3" y2="386.06" stroke="#222" stroke-width="1.1"/>
<line x1="114.8" y1="367.71999999999997" x2="118.3" y2="367.71999999999997" stroke="#222" stroke-width="1.1"/>
<line x1="114.8" y1="349.38" x2="118.3" y2="349.38" stroke="#222" stroke-width="1.1"/>
<line x1="114.8" y1="331.03999999999996" x2="118.3" y2="331.03999999999996" stroke="#222" stroke-width="1.1"/>
<line x1="114.8" y1="312.7" x2="118.3" y2="312.7" stroke="#222" stroke-width="1.1"/>
<line x1="114.2" y1="404.4" x2="181.4" y2="404.4" stroke="#222" stroke-width="1.3"/>
<rect x="127.3" y="370.5" width="17.60000000000001" height="33.9" fill="#0433FF" stroke="#111" stroke-width="1"/>
<line x1="136.1" y1="370.471" x2="136.1" y2="347.0875" stroke="#111" stroke-width="1.1"/>
<line x1="131.1" y1="347.0875" x2="141.1" y2="347.0875" stroke="#111" stroke-width="1.1"/>
<circle cx="136.1" cy="321.9" r="1.75" fill="#000"/>
<circle cx="136.1" cy="340.2" r="1.75" fill="#000"/>
<circle cx="130.3" cy="358.5" r="1.75" fill="#000"/>
<circle cx="136.1" cy="358.5" r="1.75" fill="#000"/>
<circle cx="141.9" cy="358.5" r="1.75" fill="#000"/>
<circle cx="133.2" cy="376.9" r="1.75" fill="#000"/>
<circle cx="139.0" cy="376.9" r="1.75" fill="#000"/>
<circle cx="130.3" cy="386.1" r="1.75" fill="#000"/>
<circle cx="136.1" cy="386.1" r="1.75" fill="#000"/>
<circle cx="141.9" cy="386.1" r="1.75" fill="#000"/>
<circle cx="133.2" cy="395.2" r="1.75" fill="#000"/>
<circle cx="139.0" cy="395.2" r="1.75" fill="#000"/>
<line x1="136.1" y1="404.4" x2="136.1" y2="407.9" stroke="#222" stroke-width="1.1"/>
<rect x="155" y="377.3" width="17.30000000000001" height="27.1" fill="#FF2600" stroke="#111" stroke-width="1"/>
<line x1="163.65" y1="377.3485" x2="163.65" y2="360.38399999999996" stroke="#111" stroke-width="1.1"/>
<line x1="158.65" y1="360.38399999999996" x2="168.65" y2="360.38399999999996" stroke="#111" stroke-width="1.1"/>
<circle cx="163.7" cy="340.2" r="1.75" fill="#000"/>
<circle cx="163.7" cy="358.5" r="1.75" fill="#000"/>
<circle cx="160.3" cy="367.7" r="1.75" fill="#000"/>
<circle cx="167.0" cy="367.7" r="1.75" fill="#000"/>
<circle cx="157.5" cy="376.9" r="1.75" fill="#000"/>
<circle cx="163.7" cy="376.9" r="1.75" fill="#000"/>
<circle cx="169.8" cy="376.9" r="1.75" fill="#000"/>
<circle cx="160.3" cy="386.1" r="1.75" fill="#000"/>
<circle cx="167.0" cy="386.1" r="1.75" fill="#000"/>
<circle cx="157.5" cy="395.2" r="1.75" fill="#000"/>
<circle cx="163.7" cy="395.2" r="1.75" fill="#000"/>
<circle cx="169.8" cy="395.2" r="1.75" fill="#000"/>
<line x1="163.65" y1="404.4" x2="163.65" y2="407.9" stroke="#222" stroke-width="1.1"/>
<text x="112.6" y="407.20799999999997" font-size="7.8" font-weight="bold" fill="#000" text-anchor="end" >0</text>
<text x="112.6" y="388.868" font-size="7.8" font-weight="bold" fill="#000" text-anchor="end" >2</text>
<text x="112.6" y="370.52799999999996" font-size="7.8" font-weight="bold" fill="#000" text-anchor="end" >4</text>
<text x="112.6" y="352.188" font-size="7.8" font-weight="bold" fill="#000" text-anchor="end" >6</text>
<text x="112.6" y="333.84799999999996" font-size="7.8" font-weight="bold" fill="#000" text-anchor="end" >8</text>
<text x="112.6" y="315.508" font-size="7.8" font-weight="bold" fill="#000" text-anchor="end" >10</text>
<line x1="135.8" y1="312.4" x2="161.2" y2="312.4" stroke="#555" stroke-width="1.2"/>
<text x="148.5" y="309.5" font-size="8.5" font-weight="bold" fill="#000" text-anchor="middle" >N.S</text>
<text transform="translate(103,357.3) rotate(-90)" font-size="8.9" font-weight="bold" text-anchor="middle">CD45+/145mm<tspan dy="-1.5" font-size="8">2</tspan></text>
<rect x="283" y="443.6" width="8.5" height="5" fill="#0433FF" stroke="#222" stroke-width="0.8" />
<rect x="283" y="454.6" width="8.5" height="5" fill="#FF2600" stroke="#222" stroke-width="0.8" />
<text x="296.0" y="449.20000000000005" font-size="8.8" font-weight="bold" fill="#000" text-anchor="start" >Vehicle</text>
<text x="296.0" y="460.20000000000005" font-size="8.8" font-weight="bold" fill="#000" text-anchor="start" >hPKM2</text>
<line x1="294.4" y1="484.4" x2="294.4" y2="619" stroke="#222" stroke-width="1.2"/>
<line x1="290.9" y1="619.0" x2="294.4" y2="619.0" stroke="#222" stroke-width="1.1"/>
<line x1="290.9" y1="585.35" x2="294.4" y2="585.35" stroke="#222" stroke-width="1.1"/>
<line x1="290.9" y1="551.7" x2="294.4" y2="551.7" stroke="#222" stroke-width="1.1"/>
<line x1="290.9" y1="518.05" x2="294.4" y2="518.05" stroke="#222" stroke-width="1.1"/>
<line x1="290.9" y1="484.4" x2="294.4" y2="484.4" stroke="#222" stroke-width="1.1"/>
<line x1="289" y1="619" x2="383.6" y2="619" stroke="#888" stroke-width="1.3"/>
<rect x="307.3" y="521.6" width="25.19999999999999" height="97.4" fill="#0433FF" stroke="#111" stroke-width="1"/>
<line x1="319.9" y1="521.58325" x2="319.9" y2="516.3675" stroke="#111" stroke-width="1.1"/>
<line x1="314.9" y1="516.3675" x2="324.9" y2="516.3675" stroke="#111" stroke-width="1.1"/>
<circle cx="319.9" cy="493.7" r="2.05" fill="#000"/>
<circle cx="319.9" cy="514.6" r="2.05" fill="#000"/>
<circle cx="308.9" cy="523.0" r="2.05" fill="#000"/>
<circle cx="316.0" cy="524.6" r="2.05" fill="#000"/>
<circle cx="323.5" cy="521.6" r="2.05" fill="#000"/>
<circle cx="330.6" cy="521.4" r="2.05" fill="#000"/>
<circle cx="319.9" cy="529.9" r="2.05" fill="#000"/>
<circle cx="319.9" cy="544.0" r="2.05" fill="#000"/>
<rect x="345.6" y="543.7" width="25.19999999999999" height="75.3" fill="#FF2600" stroke="#111" stroke-width="1"/>
<line x1="358.20000000000005" y1="543.708125" x2="358.20000000000005" y2="538.492375" stroke="#111" stroke-width="1.1"/>
<line x1="353.20000000000005" y1="538.492375" x2="363.20000000000005" y2="538.492375" stroke="#111" stroke-width="1.1"/>
<circle cx="347.4" cy="533.1" r="2.05" fill="#000"/>
<circle cx="354.6" cy="531.1" r="2.05" fill="#000"/>
<circle cx="361.9" cy="533.0" r="2.05" fill="#000"/>
<circle cx="369.0" cy="532.8" r="2.05" fill="#000"/>
<circle cx="358.2" cy="545.2" r="2.05" fill="#000"/>
<circle cx="358.2" cy="549.8" r="2.05" fill="#000"/>
<circle cx="358.2" cy="553.9" r="2.05" fill="#000"/>
<circle cx="358.2" cy="570.0" r="2.05" fill="#000"/>
<text x="285.5" y="622.06" font-size="8.5" font-weight="bold" fill="#000" text-anchor="end" >0</text>
<text x="285.5" y="588.41" font-size="8.5" font-weight="bold" fill="#000" text-anchor="end" >200</text>
<text x="285.5" y="554.76" font-size="8.5" font-weight="bold" fill="#000" text-anchor="end" >400</text>
<text x="285.5" y="521.1099999999999" font-size="8.5" font-weight="bold" fill="#000" text-anchor="end" >600</text>
<text x="285.5" y="487.46" font-size="8.5" font-weight="bold" fill="#000" text-anchor="end" >800</text>
<line x1="320" y1="485.4" x2="358" y2="485.4" stroke="#222" stroke-width="1.2"/>
<text x="339" y="483.5" font-size="10" font-weight="bold" fill="#000" text-anchor="middle" >**</text>
<text transform="translate(259,545) rotate(-90)" font-size="8.6" font-weight="bold" text-anchor="middle">CM Cross-Sectional Size (μm<tspan dy="-3.5" font-size="6">2</tspan><tspan dy="3.5">)</tspan></text>
<rect x="439" y="443.6" width="8.5" height="5" fill="#0433FF" stroke="#222" stroke-width="0.8" />
<rect x="439" y="454.6" width="8.5" height="5" fill="#FF2600" stroke="#222" stroke-width="0.8" />
<text x="452.0" y="449.20000000000005" font-size="8.8" font-weight="bold" fill="#000" text-anchor="start" >Vehicle</text>
<text x="452.0" y="460.20000000000005" font-size="8.8" font-weight="bold" fill="#000" text-anchor="start" >hPKM2</text>
<line x1="440.4" y1="486.0" x2="440.4" y2="620" stroke="#222" stroke-width="1.2"/>
<line x1="436.9" y1="620.0" x2="440.4" y2="620.0" stroke="#222" stroke-width="1.1"/>
<text x="433" y="623.0" font-size="8.5" font-weight="bold" fill="#000" text-anchor="end" >0</text>
<line x1="436.9" y1="586.5" x2="440.4" y2="586.5" stroke="#222" stroke-width="1.1"/>
<text x="433" y="589.5" font-size="8.5" font-weight="bold" fill="#000" text-anchor="end" >10</text>
<line x1="436.9" y1="553.0" x2="440.4" y2="553.0" stroke="#222" stroke-width="1.1"/>
<text x="433" y="556.0" font-size="8.5" font-weight="bold" fill="#000" text-anchor="end" >20</text>
<line x1="436.9" y1="519.5" x2="440.4" y2="519.5" stroke="#222" stroke-width="1.1"/>
<text x="433" y="522.5" font-size="8.5" font-weight="bold" fill="#000" text-anchor="end" >30</text>
<line x1="436.9" y1="486.0" x2="440.4" y2="486.0" stroke="#222" stroke-width="1.1"/>
<text x="433" y="489.0" font-size="8.5" font-weight="bold" fill="#000" text-anchor="end" >40</text>
<line x1="440.4" y1="620" x2="685" y2="620" stroke="#222" stroke-width="1.3"/>
<rect x="447" y="592.2" width="12" height="27.8" fill="#0433FF" stroke="#111" stroke-width="1"/>
<line x1="453" y1="592.195" x2="453" y2="586.165" stroke="#111" stroke-width="1.1"/>
<line x1="449" y1="586.165" x2="457" y2="586.165" stroke="#111" stroke-width="1.1"/>
<circle cx="450.0" cy="587.2" r="2.2" fill="#000"/>
<circle cx="456.5" cy="585.8" r="2.2" fill="#000"/>
<circle cx="453.0" cy="595.5" r="2.2" fill="#000"/>
<circle cx="449.5" cy="591.2" r="2.2" fill="#000"/>
<circle cx="456.8" cy="593.5" r="2.2" fill="#000"/>
<rect x="465.6" y="566.1" width="12" height="53.9" fill="#FF2600" stroke="#111" stroke-width="1"/>
<line x1="471.6" y1="566.0649999999999" x2="471.6" y2="560.035" stroke="#111" stroke-width="1.1"/>
<line x1="467.6" y1="560.035" x2="475.6" y2="560.035" stroke="#111" stroke-width="1.1"/>
<circle cx="471.6" cy="558.4" r="2.2" fill="#000"/>
<circle cx="468.1" cy="564.1" r="2.2" fill="#000"/>
<circle cx="475.2" cy="565.7" r="2.2" fill="#000"/>
<circle cx="468.4" cy="569.8" r="2.2" fill="#000"/>
<circle cx="473.6" cy="569.1" r="2.2" fill="#000"/>
<line x1="462" y1="620" x2="462" y2="625" stroke="#222" stroke-width="1.1"/>
<text x="462" y="634" font-size="8.5" font-weight="bold" fill="#000" text-anchor="middle" >1</text>
<rect x="497" y="536.6" width="12" height="83.4" fill="#0433FF" stroke="#111" stroke-width="1"/>
<line x1="503" y1="536.585" x2="503" y2="530.5550000000001" stroke="#111" stroke-width="1.1"/>
<line x1="499" y1="530.5550000000001" x2="507" y2="530.5550000000001" stroke="#111" stroke-width="1.1"/>
<circle cx="503.0" cy="529.5" r="2.2" fill="#000"/>
<circle cx="499.5" cy="535.6" r="2.2" fill="#000"/>
<circle cx="506.6" cy="535.9" r="2.2" fill="#000"/>
<circle cx="499.7" cy="540.6" r="2.2" fill="#000"/>
<rect x="515.6" y="543.0" width="12" height="77.0" fill="#FF2600" stroke="#111" stroke-width="1"/>
<line x1="521.6" y1="542.95" x2="521.6" y2="532.23" stroke="#111" stroke-width="1.1"/>
<line x1="517.6" y1="532.23" x2="525.6" y2="532.23" stroke="#111" stroke-width="1.1"/>
<circle cx="521.6" cy="527.2" r="2.2" fill="#000"/>
<circle cx="521.6" cy="538.3" r="2.2" fill="#000"/>
<circle cx="525.4" cy="544.6" r="2.2" fill="#000"/>
<circle cx="518.1" cy="549.6" r="2.2" fill="#000"/>
<line x1="512" y1="620" x2="512" y2="625" stroke="#222" stroke-width="1.1"/>
<text x="512" y="634" font-size="8.5" font-weight="bold" fill="#000" text-anchor="middle" >2</text>
<rect x="547" y="523.5" width="12" height="96.5" fill="#0433FF" stroke="#111" stroke-width="1"/>
<line x1="553" y1="523.52" x2="553" y2="516.15" stroke="#111" stroke-width="1.1"/>
<line x1="549" y1="516.15" x2="557" y2="516.15" stroke="#111" stroke-width="1.1"/>
<circle cx="549.3" cy="516.8" r="2.2" fill="#000"/>
<circle cx="556.8" cy="515.1" r="2.2" fill="#000"/>
<circle cx="553.0" cy="523.5" r="2.2" fill="#000"/>
<circle cx="553.0" cy="528.9" r="2.2" fill="#000"/>
<rect x="565.6" y="533.6" width="12" height="86.4" fill="#FF2600" stroke="#111" stroke-width="1"/>
<line x1="571.6" y1="533.5699999999999" x2="571.6" y2="530.5550000000001" stroke="#111" stroke-width="1.1"/>
<line x1="567.6" y1="530.5550000000001" x2="575.6" y2="530.5550000000001" stroke="#111" stroke-width="1.1"/>
<circle cx="568.1" cy="533.6" r="2.2" fill="#000"/>
<circle cx="575.1" cy="531.6" r="2.2" fill="#000"/>
<circle cx="571.6" cy="534.2" r="2.2" fill="#000"/>
<circle cx="573.6" cy="530.2" r="2.2" fill="#000"/>
<line x1="562" y1="620" x2="562" y2="625" stroke="#222" stroke-width="1.1"/>
<text x="562" y="634" font-size="8.5" font-weight="bold" fill="#000" text-anchor="middle" >3</text>
<rect x="597.4" y="554.3" width="12" height="65.7" fill="#0433FF" stroke="#111" stroke-width="1"/>
<line x1="603.4" y1="554.34" x2="603.4" y2="548.645" stroke="#111" stroke-width="1.1"/>
<line x1="599.4" y1="548.645" x2="607.4" y2="548.645" stroke="#111" stroke-width="1.1"/>
<circle cx="603.4" cy="548.6" r="2.2" fill="#000"/>
<circle cx="599.8" cy="553.7" r="2.2" fill="#000"/>
<circle cx="607.0" cy="554.7" r="2.2" fill="#000"/>
<circle cx="603.4" cy="558.7" r="2.2" fill="#000"/>
<rect x="616.0" y="555.7" width="12" height="64.3" fill="#FF2600" stroke="#111" stroke-width="1"/>
<line x1="622.0" y1="555.6800000000001" x2="622.0" y2="546.3" stroke="#111" stroke-width="1.1"/>
<line x1="618.0" y1="546.3" x2="626.0" y2="546.3" stroke="#111" stroke-width="1.1"/>
<circle cx="622.0" cy="546.3" r="2.2" fill="#000"/>
<circle cx="622.0" cy="553.0" r="2.2" fill="#000"/>
<circle cx="618.4" cy="557.0" r="2.2" fill="#000"/>
<circle cx="625.6" cy="557.0" r="2.2" fill="#000"/>
<line x1="612.4" y1="620" x2="612.4" y2="625" stroke="#222" stroke-width="1.1"/>
<text x="612.4" y="634" font-size="8.5" font-weight="bold" fill="#000" text-anchor="middle" >4</text>
<rect x="648" y="559.0" width="12" height="61.0" fill="#0433FF" stroke="#111" stroke-width="1"/>
<line x1="654" y1="559.03" x2="654" y2="554.675" stroke="#111" stroke-width="1.1"/>
<line x1="650" y1="554.675" x2="658" y2="554.675" stroke="#111" stroke-width="1.1"/>
<circle cx="654.0" cy="554.0" r="2.2" fill="#000"/>
<circle cx="650.4" cy="559.0" r="2.2" fill="#000"/>
<circle cx="657.6" cy="559.0" r="2.2" fill="#000"/>
<circle cx="654.0" cy="562.4" r="2.2" fill="#000"/>
<rect x="666.6" y="566.1" width="12" height="53.9" fill="#FF2600" stroke="#111" stroke-width="1"/>
<line x1="672.6" y1="566.0649999999999" x2="672.6" y2="562.045" stroke="#111" stroke-width="1.1"/>
<line x1="668.6" y1="562.045" x2="676.6" y2="562.045" stroke="#111" stroke-width="1.1"/>
<circle cx="669.0" cy="561.4" r="2.2" fill="#000"/>
<circle cx="676.2" cy="561.4" r="2.2" fill="#000"/>
<circle cx="669.3" cy="567.1" r="2.2" fill="#000"/>
<circle cx="675.9" cy="567.1" r="2.2" fill="#000"/>
<line x1="663" y1="620" x2="663" y2="625" stroke="#222" stroke-width="1.1"/>
<text x="663" y="634" font-size="8.5" font-weight="bold" fill="#000" text-anchor="middle" >≥5</text>
<text x="559" y="645" font-size="8.5" font-weight="bold" fill="#000" text-anchor="middle" >Number of Nuclei</text>
<line x1="451.6" y1="486" x2="469" y2="486" stroke="#111" stroke-width="1.2"/>
<text x="460.3" y="483" font-size="9.5" font-weight="bold" fill="#000" text-anchor="middle" >****</text>
<text transform="translate(412.5,549.5) rotate(-90)" font-size="9.0" font-weight="bold" fill="#000" text-anchor="middle" >% of Cardiomyocytes</text>
<rect x="283" y="665.6" width="8.5" height="5" fill="#0433FF" stroke="#222" stroke-width="0.8" />
<rect x="283" y="676.6" width="8.5" height="5" fill="#FF2600" stroke="#222" stroke-width="0.8" />
<text x="296.0" y="671.2" font-size="8.8" font-weight="bold" fill="#000" text-anchor="start" >Vehicle</text>
<text x="296.0" y="682.2" font-size="8.8" font-weight="bold" fill="#000" text-anchor="start" >hPKM2</text>
<line x1="292" y1="720.0" x2="292" y2="872.4" stroke="#777" stroke-width="1.2"/>
<line x1="288.5" y1="872.4" x2="292" y2="872.4" stroke="#777" stroke-width="1.1"/>
<line x1="288.5" y1="841.92" x2="292" y2="841.92" stroke="#777" stroke-width="1.1"/>
<line x1="288.5" y1="811.4399999999999" x2="292" y2="811.4399999999999" stroke="#777" stroke-width="1.1"/>
<line x1="288.5" y1="780.96" x2="292" y2="780.96" stroke="#777" stroke-width="1.1"/>
<line x1="288.5" y1="750.48" x2="292" y2="750.48" stroke="#777" stroke-width="1.1"/>
<line x1="288.5" y1="720.0" x2="292" y2="720.0" stroke="#777" stroke-width="1.1"/>
<line x1="288" y1="872.4" x2="393.6" y2="872.4" stroke="#333" stroke-width="1.3"/>
<rect x="306.6" y="777.5" width="28.799999999999955" height="94.9" fill="#0433FF" stroke="#111" stroke-width="1"/>
<line x1="321.0" y1="777.4548" x2="321.0" y2="768.006" stroke="#111" stroke-width="1.1"/>
<line x1="316.0" y1="768.006" x2="326.0" y2="768.006" stroke="#111" stroke-width="1.1"/>
<circle cx="316.2" cy="750.5" r="2.15" fill="#000"/>
<circle cx="325.6" cy="750.5" r="2.15" fill="#000"/>
<circle cx="316.2" cy="765.7" r="2.15" fill="#000"/>
<circle cx="325.6" cy="765.7" r="2.15" fill="#000"/>
<circle cx="316.2" cy="781.0" r="2.15" fill="#000"/>
<circle cx="325.6" cy="781.0" r="2.15" fill="#000"/>
<circle cx="321.0" cy="796.2" r="2.15" fill="#000"/>
<circle cx="321.0" cy="826.7" r="2.15" fill="#000"/>
<rect x="350.6" y="790.9" width="28.0" height="81.5" fill="#FF2600" stroke="#111" stroke-width="1"/>
<line x1="364.6" y1="790.866" x2="364.6" y2="777.912" stroke="#111" stroke-width="1.1"/>
<line x1="359.6" y1="777.912" x2="369.6" y2="777.912" stroke="#111" stroke-width="1.1"/>
<circle cx="360.0" cy="750.5" r="2.15" fill="#000"/>
<circle cx="369.4" cy="750.5" r="2.15" fill="#000"/>
<circle cx="364.6" cy="765.7" r="2.15" fill="#000"/>
<circle cx="364.6" cy="781.0" r="2.15" fill="#000"/>
<circle cx="364.6" cy="796.2" r="2.15" fill="#000"/>
<circle cx="364.6" cy="811.4" r="2.15" fill="#000"/>
<circle cx="364.6" cy="826.7" r="2.15" fill="#000"/>
<circle cx="364.6" cy="841.9" r="2.15" fill="#000"/>
<text x="282.8" y="875.4599999999999" font-size="8.5" font-weight="bold" fill="#000" text-anchor="end" >0.0</text>
<text x="282.8" y="844.9799999999999" font-size="8.5" font-weight="bold" fill="#000" text-anchor="end" >0.2</text>
<text x="282.8" y="814.4999999999999" font-size="8.5" font-weight="bold" fill="#000" text-anchor="end" >0.4</text>
<text x="282.8" y="784.02" font-size="8.5" font-weight="bold" fill="#000" text-anchor="end" >0.6</text>
<text x="282.8" y="753.54" font-size="8.5" font-weight="bold" fill="#000" text-anchor="end" >0.8</text>
<text x="282.8" y="723.06" font-size="8.5" font-weight="bold" fill="#000" text-anchor="end" >1.0</text>
<line x1="318.6" y1="722.4" x2="364.4" y2="722.4" stroke="#222" stroke-width="1.2"/>
<text x="341.5" y="718.5" font-size="8.5" font-weight="bold" fill="#000" text-anchor="middle" >N.S</text>
<text transform="translate(256.6,845.5) rotate(-90)" font-size="8.2" font-weight="bold" fill="#000" text-anchor="start" >Ki67</text>
<text transform="translate(251.3,819.5) rotate(-90)" font-size="7.5" font-weight="bold" fill="#000" text-anchor="middle" >+</text>
<text transform="translate(256.6,811.9) rotate(-90)" font-size="8.46" font-weight="bold" fill="#000" text-anchor="start" >CMs Ratio (%)</text>
<circle cx="485.6" cy="806" r="51" fill="#008000" stroke="#111" stroke-width="1"/>
<path d="M485.6,806 L485.6,755 A51,51 0 0 1 534.10,790.24 Z" fill="#FF80FF" stroke="#111" stroke-width="1"/>
<text x="510.6" y="785" font-size="10.5" font-weight="bold" fill="#000" text-anchor="middle" >20%</text>
<text x="475.6" y="829.5" font-size="10.5" font-weight="bold" fill="#000" text-anchor="middle" >80%</text>
<text x="487.1" y="871" font-size="8.6" font-weight="bold" fill="#000" text-anchor="middle" >Total=100%</text>
<circle cx="631" cy="806" r="51" fill="#008000" stroke="#111" stroke-width="1"/>
<path d="M631,806 L631,755 A51,51 0 0 1 679.50,790.24 Z" fill="#FF80FF" stroke="#111" stroke-width="1"/>
<text x="656" y="785" font-size="10.5" font-weight="bold" fill="#000" text-anchor="middle" >20%</text>
<text x="621" y="829.5" font-size="10.5" font-weight="bold" fill="#000" text-anchor="middle" >80%</text>
<text x="632.5" y="871" font-size="8.6" font-weight="bold" fill="#000" text-anchor="middle" >Total=100%</text>
<text x="558.5" y="683.5" font-size="9" font-weight="bold" fill="#222" text-anchor="middle" >Programmed Electrical Stimulation (PES)</text>
<text x="472.3" y="711.5" font-size="8.6" font-weight="bold" fill="#000" text-anchor="middle" text-decoration="underline">Vehicle</text>
<rect x="435" y="726" width="9.4" height="6.6" fill="#FF80FF" stroke="#111" stroke-width="0.8" />
<rect x="435" y="738.4" width="9.4" height="7" fill="#008000" stroke="#111" stroke-width="0.8" />
<text x="447" y="733" font-size="8.6" font-weight="bold" fill="#000" text-anchor="start" >Sustained VA</text>
<text x="447" y="745.5" font-size="8.6" font-weight="bold" fill="#000" text-anchor="start" >Non-sustained VA</text>
<text x="597.2" y="711.5" font-size="8.6" font-weight="bold" fill="#000" text-anchor="middle" text-decoration="underline">hPKM2</text>
<rect x="580.4" y="726" width="9.4" height="6.6" fill="#FF80FF" stroke="#111" stroke-width="0.8" />
<rect x="580.4" y="738.4" width="9.4" height="7" fill="#008000" stroke="#111" stroke-width="0.8" />
<text x="592.4" y="733" font-size="8.6" font-weight="bold" fill="#000" text-anchor="start" >Sustained VA</text>
<text x="592.4" y="745.5" font-size="8.6" font-weight="bold" fill="#000" text-anchor="start" >Non-sustained VA</text>
<text transform="translate(417,808.5) rotate(-90)" font-size="8.8" font-weight="bold" fill="#000" text-anchor="middle" >% PES-induced</text>
<text transform="translate(428.5,808.3) rotate(-90)" font-size="8.8" font-weight="bold" fill="#000" text-anchor="middle" >Arrhythmic Incidence</text>
<text transform="translate(562.5,808.5) rotate(-90)" font-size="8.8" font-weight="bold" fill="#000" text-anchor="middle" >% PES-induced</text>
<text transform="translate(573.5,808.3) rotate(-90)" font-size="8.8" font-weight="bold" fill="#000" text-anchor="middle" >Arrhythmic Incidence</text>
<rect x="199" y="154" width="231.5" height="115" fill="#c4c4c4" />
<g clip-path="url(#c1)">
<rect x="199" y="154" width="75.80000000000001" height="57.30000000000001" fill="#020208" />
<rect x="199" y="154" width="75.80" height="57.30" fill="#000" filter="url(#sp0)" opacity="0.35"/>
<g fill="#0c400e" filter="url(#bl1)"><polygon points="224,166.6 236.9,159.7 252.1,158.0 274.8,158.0 274.8,178.6 252.1,178.1 240.7,180.4 233.1,187.2 227.8,185.5 225.5,174.1"/><polygon points="240.7,182.7 252.1,180.4 274.8,180.4 274.8,206.7 259.6,204.4 246,201.0 240.7,191.2"/><polygon points="226.3,188.4 234.6,187.2 238.4,195.3 234.6,203.3 227.8,202.7 225.5,195.3"/><polygon points="199,154.0 224,154.0 221.7,159.7 202.8,159.7 199,157.4"/><polygon points="240.7,154.0 274.8,154.0 274.8,156.3 240.7,156.3"/><polygon points="255.9,205.6 271,204.4 272.5,211.3 255.9,211.3"/></g>
<g fill="#32aa32" filter="url(#ti2)"><polygon points="224,166.6 236.9,159.7 252.1,158.0 274.8,158.0 274.8,178.6 252.1,178.1 240.7,180.4 233.1,187.2 227.8,185.5 225.5,174.1"/><polygon points="240.7,182.7 252.1,180.4 274.8,180.4 274.8,206.7 259.6,204.4 246,201.0 240.7,191.2"/><polygon points="226.3,188.4 234.6,187.2 238.4,195.3 234.6,203.3 227.8,202.7 225.5,195.3"/><polygon points="199,154.0 224,154.0 221.7,159.7 202.8,159.7 199,157.4"/><polygon points="240.7,154.0 274.8,154.0 274.8,156.3 240.7,156.3"/><polygon points="255.9,205.6 271,204.4 272.5,211.3 255.9,211.3"/></g>
<rect x="199" y="154" width="75.80" height="57.30" fill="#000" filter="url(#vn3)" opacity="0.7"/>
<g fill="none" stroke="#000" stroke-linecap="round" stroke-linejoin="round" filter="url(#bl4)"><polyline points="233.1,186.1 240.7,181.5 252.1,179.2 276.3,179.2" stroke-width="2.6"/><polyline points="236.9,188.4 238.4,197.0 236.9,205.6" stroke-width="1.8"/><polyline points="221.7,160.3 244.5,157.4 276.3,156.9" stroke-width="1.8"/></g>
</g>
<g clip-path="url(#c2)">
<rect x="199" y="212.8" width="75.80000000000001" height="56.19999999999999" fill="#020208" />
<rect x="199" y="212.8" width="75.80" height="56.20" fill="#000" filter="url(#sp5)" opacity="0.35"/>
<g fill="#0c400e" filter="url(#bl1)"><polygon points="212.6,225.2 233.1,215.6 246,213.9 244.5,219.5 221.7,229.7 212.6,229.7"/><polygon points="212.6,235.3 236.9,228.5 250.5,229.7 244.5,236.4 221.7,239.8 212.6,239.2"/><polygon points="246,215.6 274.8,215.0 274.8,238.1 267.2,243.7 255.9,246.5 243,242.0 244.5,229.7"/><polygon points="240.7,246.5 252.1,247.6 250.5,254.9 240.7,253.3"/><polygon points="259.6,249.3 271,247.6 271,260.6 261.2,258.9"/><polygon points="224,262.3 233.9,262.3 233.1,267.3 224,266.8"/><polygon points="202.8,215.6 208.1,215.6 208.1,218.4 202.8,218.4"/></g>
<g fill="#32aa32" filter="url(#ti6)"><polygon points="212.6,225.2 233.1,215.6 246,213.9 244.5,219.5 221.7,229.7 212.6,229.7"/><polygon points="212.6,235.3 236.9,228.5 250.5,229.7 244.5,236.4 221.7,239.8 212.6,239.2"/><polygon points="246,215.6 274.8,215.0 274.8,238.1 267.2,243.7 255.9,246.5 243,242.0 244.5,229.7"/><polygon points="240.7,246.5 252.1,247.6 250.5,254.9 240.7,253.3"/><polygon points="259.6,249.3 271,247.6 271,260.6 261.2,258.9"/><polygon points="224,262.3 233.9,262.3 233.1,267.3 224,266.8"/><polygon points="202.8,215.6 208.1,215.6 208.1,218.4 202.8,218.4"/></g>
<rect x="199" y="212.8" width="75.80" height="56.20" fill="#000" filter="url(#vn7)" opacity="0.7"/>
<g fill="none" stroke="#000" stroke-linecap="round" stroke-linejoin="round" filter="url(#bl4)"><polyline points="210.4,231.9 229.3,225.2 246,221.8" stroke-width="2.6"/><polyline points="210.4,242.0 233.1,239.2 246,240.9" stroke-width="2.2"/><polyline points="244.5,215.6 244.5,229.7 241.4,240.9" stroke-width="1.6"/><polyline points="253.6,246.5 259.6,252.1 258.1,263.4" stroke-width="1.6"/></g>
</g>
<g clip-path="url(#c3)">
<rect x="276.3" y="154" width="76.30000000000001" height="57.30000000000001" fill="#020208" />
<rect x="276.3" y="154" width="76.30" height="57.30" fill="#000" filter="url(#sp8)" opacity="0.5"/>
<g fill="#8a2282" filter="url(#bl4)"><ellipse cx="295.4" cy="185.5" rx="1.5" ry="0.8" transform="rotate(30 295.4 185.5)"/><ellipse cx="308.3" cy="188.4" rx="1" ry="0.8" transform="rotate(0 308.3 188.4)"/><ellipse cx="329.7" cy="166.6" rx="1" ry="0.8" transform="rotate(0 329.7 166.6)"/><ellipse cx="318.3" cy="174.1" rx="0.8" ry="0.8" transform="rotate(0 318.3 174.1)"/></g>
</g>
<g clip-path="url(#c4)">
<rect x="276.3" y="212.8" width="76.30000000000001" height="56.19999999999999" fill="#020208" />
<rect x="276.3" y="212.8" width="76.30" height="56.20" fill="#000" filter="url(#sp9)" opacity="0.5"/>
<g fill="#8a2282" filter="url(#bl4)"><ellipse cx="287.7" cy="252.1" rx="1.5" ry="0.8" transform="rotate(-30 287.7 252.1)"/><ellipse cx="310.6" cy="235.3" rx="1" ry="0.8" transform="rotate(0 310.6 235.3)"/><ellipse cx="323.6" cy="222.9" rx="1.5" ry="0.9" transform="rotate(0 323.6 222.9)"/><ellipse cx="329.7" cy="253.3" rx="1.8" ry="1" transform="rotate(20 329.7 253.3)"/><ellipse cx="318.3" cy="262.3" rx="1.5" ry="0.9" transform="rotate(0 318.3 262.3)"/><ellipse cx="338.9" cy="257.8" rx="1.5" ry="0.9" transform="rotate(0 338.9 257.8)"/><ellipse cx="279.4" cy="229.7" rx="1" ry="0.8" transform="rotate(0 279.4 229.7)"/><ellipse cx="341.9" cy="246.5" rx="1" ry="0.8" transform="rotate(0 341.9 246.5)"/><ellipse cx="299.2" cy="263.4" rx="1" ry="0.8" transform="rotate(0 299.2 263.4)"/></g>
</g>
<g clip-path="url(#c5)">
<rect x="354.1" y="154" width="76.39999999999998" height="57.30000000000001" fill="#020208" />
<rect x="354.1" y="154" width="76.40" height="57.30" fill="#000" filter="url(#sp10)" opacity="0.35"/>
<g fill="#0c400e" filter="url(#bl1)"><polygon points="379.3,166.6 392.3,159.7 407.6,158.0 430.5,158.0 430.5,178.6 407.6,178.1 396.1,180.4 388.5,187.2 383.1,185.5 380.8,174.1"/><polygon points="396.1,182.7 407.6,180.4 430.5,180.4 430.5,206.7 415.2,204.4 401.5,201.0 396.1,191.2"/><polygon points="381.6,188.4 390,187.2 393.8,195.3 390,203.3 383.1,202.7 380.8,195.3"/><polygon points="354.1,154.0 379.3,154.0 377,159.7 357.9,159.7 354.1,157.4"/><polygon points="396.1,154.0 430.5,154.0 430.5,156.3 396.1,156.3"/><polygon points="411.4,205.6 426.7,204.4 428.2,211.3 411.4,211.3"/></g>
<g fill="#32aa32" filter="url(#ti2)"><polygon points="379.3,166.6 392.3,159.7 407.6,158.0 430.5,158.0 430.5,178.6 407.6,178.1 396.1,180.4 388.5,187.2 383.1,185.5 380.8,174.1"/><polygon points="396.1,182.7 407.6,180.4 430.5,180.4 430.5,206.7 415.2,204.4 401.5,201.0 396.1,191.2"/><polygon points="381.6,188.4 390,187.2 393.8,195.3 390,203.3 383.1,202.7 380.8,195.3"/><polygon points="354.1,154.0 379.3,154.0 377,159.7 357.9,159.7 354.1,157.4"/><polygon points="396.1,154.0 430.5,154.0 430.5,156.3 396.1,156.3"/><polygon points="411.4,205.6 426.7,204.4 428.2,211.3 411.4,211.3"/></g>
<rect x="354.1" y="154" width="76.40" height="57.30" fill="#000" filter="url(#vn3)" opacity="0.7"/>
<g fill="none" stroke="#000" stroke-linecap="round" stroke-linejoin="round" filter="url(#bl4)"><polyline points="388.5,186.1 396.1,181.5 407.6,179.2 432,179.2" stroke-width="2.6"/><polyline points="392.3,188.4 393.8,197.0 392.3,205.6" stroke-width="1.8"/><polyline points="377,160.3 399.9,157.4 432,156.9" stroke-width="1.8"/></g>
<g fill="#8a2282" filter="url(#bl4)"><ellipse cx="373.2" cy="185.5" rx="1.5" ry="0.8" transform="rotate(30 373.2 185.5)"/><ellipse cx="386.2" cy="188.4" rx="1" ry="0.8" transform="rotate(0 386.2 188.4)"/><ellipse cx="407.6" cy="166.6" rx="1" ry="0.8" transform="rotate(0 407.6 166.6)"/><ellipse cx="396.1" cy="174.1" rx="0.8" ry="0.8" transform="rotate(0 396.1 174.1)"/></g>
<line x1="416.916" y1="207.3" x2="425.916" y2="207.3" stroke="#fff" stroke-width="1.6"/>
</g>
<g clip-path="url(#c6)">
<rect x="354.1" y="212.8" width="76.39999999999998" height="56.19999999999999" fill="#020208" />
<rect x="354.1" y="212.8" width="76.40" height="56.20" fill="#000" filter="url(#sp11)" opacity="0.35"/>
<g fill="#0c400e" filter="url(#bl1)"><polygon points="367.9,225.2 388.5,215.6 401.5,213.9 399.9,219.5 377,229.7 367.9,229.7"/><polygon points="367.9,235.3 392.3,228.5 406.1,229.7 399.9,236.4 377,239.8 367.9,239.2"/><polygon points="401.5,215.6 430.5,215.0 430.5,238.1 422.9,243.7 411.4,246.5 398.4,242.0 399.9,229.7"/><polygon points="396.1,246.5 407.6,247.6 406.1,254.9 396.1,253.3"/><polygon points="415.2,249.3 426.7,247.6 426.7,260.6 416.7,258.9"/><polygon points="379.3,262.3 389.2,262.3 388.5,267.3 379.3,266.8"/><polygon points="357.9,215.6 363.3,215.6 363.3,218.4 357.9,218.4"/></g>
<g fill="#32aa32" filter="url(#ti6)"><polygon points="367.9,225.2 388.5,215.6 401.5,213.9 399.9,219.5 377,229.7 367.9,229.7"/><polygon points="367.9,235.3 392.3,228.5 406.1,229.7 399.9,236.4 377,239.8 367.9,239.2"/><polygon points="401.5,215.6 430.5,215.0 430.5,238.1 422.9,243.7 411.4,246.5 398.4,242.0 399.9,229.7"/><polygon points="396.1,246.5 407.6,247.6 406.1,254.9 396.1,253.3"/><polygon points="415.2,249.3 426.7,247.6 426.7,260.6 416.7,258.9"/><polygon points="379.3,262.3 389.2,262.3 388.5,267.3 379.3,266.8"/><polygon points="357.9,215.6 363.3,215.6 363.3,218.4 357.9,218.4"/></g>
<rect x="354.1" y="212.8" width="76.40" height="56.20" fill="#000" filter="url(#vn7)" opacity="0.7"/>
<g fill="none" stroke="#000" stroke-linecap="round" stroke-linejoin="round" filter="url(#bl4)"><polyline points="365.6,231.9 384.7,225.2 401.5,221.8" stroke-width="2.6"/><polyline points="365.6,242.0 388.5,239.2 401.5,240.9" stroke-width="2.2"/><polyline points="399.9,215.6 399.9,229.7 396.9,240.9" stroke-width="1.6"/><polyline points="409.1,246.5 415.2,252.1 413.7,263.4" stroke-width="1.6"/></g>
<g fill="#8a2282" filter="url(#bl4)"><ellipse cx="365.6" cy="252.1" rx="1.5" ry="0.8" transform="rotate(-30 365.6 252.1)"/><ellipse cx="388.5" cy="235.3" rx="1" ry="0.8" transform="rotate(0 388.5 235.3)"/><ellipse cx="401.5" cy="222.9" rx="1.5" ry="0.9" transform="rotate(0 401.5 222.9)"/><ellipse cx="407.6" cy="253.3" rx="1.8" ry="1" transform="rotate(20 407.6 253.3)"/><ellipse cx="396.1" cy="262.3" rx="1.5" ry="0.9" transform="rotate(0 396.1 262.3)"/><ellipse cx="416.7" cy="257.8" rx="1.5" ry="0.9" transform="rotate(0 416.7 257.8)"/><ellipse cx="357.2" cy="229.7" rx="1" ry="0.8" transform="rotate(0 357.2 229.7)"/><ellipse cx="419.8" cy="246.5" rx="1" ry="0.8" transform="rotate(0 419.8 246.5)"/><ellipse cx="377.0" cy="263.4" rx="1" ry="0.8" transform="rotate(0 377.0 263.4)"/></g>
<line x1="416.916" y1="265.0" x2="425.916" y2="265.0" stroke="#fff" stroke-width="1.6"/>
</g>
<rect x="450.6" y="154" width="231" height="115" fill="#c4c4c4" />
<g clip-path="url(#c7)">
<rect x="450.6" y="154" width="76.19999999999993" height="57.30000000000001" fill="#03041a" />
<g fill="#0a2418" filter="url(#bl12)"><polygon points="497.8,154.0 526.8,154.0 526.8,171.2 515.4,176.9 503.9,171.2 499.4,162.6"/></g>
<g fill="#1a5a28" filter="url(#ti13)"><polygon points="497.8,154.0 526.8,154.0 526.8,171.2 515.4,176.9 503.9,171.2 499.4,162.6"/></g>
<g fill="#103e1a" filter="url(#bl12)"><polygon points="450.6,154.0 478,154.0 481.1,165.5 478,179.2 450.6,180.4"/></g>
<g fill="#24762e" filter="url(#ti14)"><polygon points="450.6,154.0 478,154.0 481.1,165.5 478,179.2 450.6,180.4"/></g>
<g fill="#145a22" filter="url(#bl15)"><polygon points="450.6,180.4 473.5,179.2 496.3,182.7 526.8,188.4 526.8,211.3 496.3,209.6 473.5,206.7 450.6,203.3"/></g>
<g fill="#2e9238" filter="url(#ti16)"><polygon points="450.6,180.4 473.5,179.2 496.3,182.7 526.8,188.4 526.8,211.3 496.3,209.6 473.5,206.7 450.6,203.3"/></g>
<rect x="431.6" y="125.5" width="114.3" height="114.3" fill="#000" filter="url(#as17)" opacity="0.55" transform="rotate(20 488.7 182.7)"/>
<rect x="450.6" y="154" width="76.20" height="57.30" fill="#000" filter="url(#sp18)" opacity="0.3"/>
<rect x="450.6" y="154" width="76.20" height="57.30" fill="#000" filter="url(#sp19)" opacity="0.4"/>
</g>
<g clip-path="url(#c8)">
<rect x="450.6" y="212.8" width="76.19999999999993" height="56.19999999999999" fill="#03041a" />
<g fill="#0a2616" filter="url(#bl12)"><polygon points="494.8,212.8 526.8,212.8 526.8,242.0 511.6,242.0 499.4,232.5"/></g>
<g fill="#1a5a26" filter="url(#ti20)"><polygon points="494.8,212.8 526.8,212.8 526.8,242.0 511.6,242.0 499.4,232.5"/></g>
<g fill="#125220" filter="url(#bl12)"><polygon points="450.6,212.8 481.1,212.8 479.6,240.9 478,269.0 450.6,269.0"/><polygon points="492.5,245.4 511.6,240.9 526.8,240.9 526.8,269.0 488.7,269.0"/></g>
<g fill="#2a8834" filter="url(#ti21)"><polygon points="450.6,212.8 481.1,212.8 479.6,240.9 478,269.0 450.6,269.0"/><polygon points="492.5,245.4 511.6,240.9 526.8,240.9 526.8,269.0 488.7,269.0"/></g>
<rect x="431.6" y="183.8" width="114.3" height="114.3" fill="#000" filter="url(#as22)" opacity="0.55" transform="rotate(70 488.7 240.9)"/>
<rect x="450.6" y="212.8" width="76.20" height="56.20" fill="#000" filter="url(#sp23)" opacity="0.3"/>
<rect x="450.6" y="212.8" width="76.20" height="56.20" fill="#000" filter="url(#sp24)" opacity="0.4"/>
</g>
<g clip-path="url(#c9)">
<rect x="528.1" y="154" width="76.19999999999993" height="57.30000000000001" fill="#03041a" />
<rect x="528.1" y="154" width="76.20" height="57.30" fill="#000" filter="url(#sp25)" opacity="0.38"/>
<rect x="528.1" y="154" width="76.20" height="57.30" fill="#000" filter="url(#sp26)" opacity="0.4"/>
<g fill="#c83a78" filter="url(#bl27)"><ellipse cx="581.4" cy="182.7" rx="1.5" ry="1.2" transform="rotate(0 581.4 182.7)"/><ellipse cx="534.2" cy="178.6" rx="0.8" ry="0.8" transform="rotate(0 534.2 178.6)"/><ellipse cx="544.9" cy="206.1" rx="1.2" ry="1.2" transform="rotate(0 544.9 206.1)"/><ellipse cx="562.4" cy="202.7" rx="0.8" ry="0.8" transform="rotate(0 562.4 202.7)"/></g>
</g>
<g clip-path="url(#c10)">
<rect x="528.1" y="212.8" width="76.19999999999993" height="56.19999999999999" fill="#03041a" />
<g fill="#3a0c36" opacity="0.5" filter="url(#bl28)"><polygon points="528.1,212.8 566.2,212.8 558.6,269.0 528.1,269.0"/></g>
<rect x="528.1" y="212.8" width="76.20" height="56.20" fill="#000" filter="url(#sp29)" opacity="0.38"/>
<rect x="528.1" y="212.8" width="76.20" height="56.20" fill="#000" filter="url(#sp30)" opacity="0.4"/>
<g fill="#c83a78" filter="url(#bl27)"><ellipse cx="570.0" cy="215.6" rx="1.2" ry="1.2" transform="rotate(0 570.0 215.6)"/><ellipse cx="589.1" cy="218.4" rx="1.2" ry="1.2" transform="rotate(0 589.1 218.4)"/><ellipse cx="579.9" cy="229.7" rx="1.5" ry="1.2" transform="rotate(0 579.9 229.7)"/><ellipse cx="562.4" cy="235.3" rx="1" ry="1" transform="rotate(0 562.4 235.3)"/><ellipse cx="572.3" cy="243.7" rx="1.2" ry="1.5" transform="rotate(0 572.3 243.7)"/><ellipse cx="590.6" cy="243.7" rx="1.2" ry="1.2" transform="rotate(0 590.6 243.7)"/><ellipse cx="562.4" cy="252.1" rx="1.2" ry="1.2" transform="rotate(0 562.4 252.1)"/><ellipse cx="566.2" cy="260.6" rx="1.5" ry="1.2" transform="rotate(0 566.2 260.6)"/><ellipse cx="573.8" cy="254.9" rx="1.2" ry="1.2" transform="rotate(0 573.8 254.9)"/><ellipse cx="578.4" cy="264.5" rx="1" ry="1" transform="rotate(0 578.4 264.5)"/></g>
</g>
<g clip-path="url(#c11)">
<rect x="605.8" y="154" width="75.60000000000002" height="57.30000000000001" fill="#03041a" />
<g fill="#0a2418" filter="url(#bl12)"><polygon points="652.7,154.0 681.4,154.0 681.4,171.2 670.1,176.9 658.7,171.2 654.2,162.6"/></g>
<g fill="#1a5a28" filter="url(#ti13)"><polygon points="652.7,154.0 681.4,154.0 681.4,171.2 670.1,176.9 658.7,171.2 654.2,162.6"/></g>
<g fill="#103e1a" filter="url(#bl12)"><polygon points="605.8,154.0 633,154.0 636,165.5 633,179.2 605.8,180.4"/></g>
<g fill="#24762e" filter="url(#ti14)"><polygon points="605.8,154.0 633,154.0 636,165.5 633,179.2 605.8,180.4"/></g>
<g fill="#145a22" filter="url(#bl15)"><polygon points="605.8,180.4 628.5,179.2 651.2,182.7 681.4,188.4 681.4,211.3 651.2,209.6 628.5,206.7 605.8,203.3"/></g>
<g fill="#2e9238" filter="url(#ti16)"><polygon points="605.8,180.4 628.5,179.2 651.2,182.7 681.4,188.4 681.4,211.3 651.2,209.6 628.5,206.7 605.8,203.3"/></g>
<rect x="586.9" y="125.9" width="113.4" height="113.4" fill="#000" filter="url(#as17)" opacity="0.55" transform="rotate(20 643.6 182.7)"/>
<rect x="605.8" y="154" width="75.60" height="57.30" fill="#000" filter="url(#sp31)" opacity="0.3"/>
<rect x="605.8" y="154" width="75.60" height="57.30" fill="#000" filter="url(#sp32)" opacity="0.4"/>
<g fill="#c83a78" filter="url(#bl27)"><ellipse cx="658.7" cy="182.7" rx="1.5" ry="1.2" transform="rotate(0 658.7 182.7)"/><ellipse cx="611.8" cy="178.6" rx="0.8" ry="0.8" transform="rotate(0 611.8 178.6)"/><ellipse cx="622.4" cy="206.1" rx="1.2" ry="1.2" transform="rotate(0 622.4 206.1)"/><ellipse cx="639.8" cy="202.7" rx="0.8" ry="0.8" transform="rotate(0 639.8 202.7)"/></g>
<line x1="670.132" y1="207.3" x2="679.132" y2="207.3" stroke="#fff" stroke-width="1.6"/>
</g>
<g clip-path="url(#c12)">
<rect x="605.8" y="212.8" width="75.60000000000002" height="56.19999999999999" fill="#03041a" />
<g fill="#0a2616" filter="url(#bl12)"><polygon points="649.6,212.8 681.4,212.8 681.4,242.0 666.3,242.0 654.2,232.5"/></g>
<g fill="#1a5a26" filter="url(#ti20)"><polygon points="649.6,212.8 681.4,212.8 681.4,242.0 666.3,242.0 654.2,232.5"/></g>
<g fill="#125220" filter="url(#bl12)"><polygon points="605.8,212.8 636,212.8 634.5,240.9 633,269.0 605.8,269.0"/><polygon points="647.4,245.4 666.3,240.9 681.4,240.9 681.4,269.0 643.6,269.0"/></g>
<g fill="#2a8834" filter="url(#ti21)"><polygon points="605.8,212.8 636,212.8 634.5,240.9 633,269.0 605.8,269.0"/><polygon points="647.4,245.4 666.3,240.9 681.4,240.9 681.4,269.0 643.6,269.0"/></g>
<rect x="586.9" y="184.2" width="113.4" height="113.4" fill="#000" filter="url(#as22)" opacity="0.55" transform="rotate(70 643.6 240.9)"/>
<rect x="605.8" y="212.8" width="75.60" height="56.20" fill="#000" filter="url(#sp33)" opacity="0.3"/>
<rect x="605.8" y="212.8" width="75.60" height="56.20" fill="#000" filter="url(#sp34)" opacity="0.4"/>
<g fill="#c83a78" filter="url(#bl27)"><ellipse cx="647.4" cy="215.6" rx="1.2" ry="1.2" transform="rotate(0 647.4 215.6)"/><ellipse cx="666.3" cy="218.4" rx="1.2" ry="1.2" transform="rotate(0 666.3 218.4)"/><ellipse cx="657.2" cy="229.7" rx="1.5" ry="1.2" transform="rotate(0 657.2 229.7)"/><ellipse cx="639.8" cy="235.3" rx="1" ry="1" transform="rotate(0 639.8 235.3)"/><ellipse cx="649.6" cy="243.7" rx="1.2" ry="1.5" transform="rotate(0 649.6 243.7)"/><ellipse cx="667.8" cy="243.7" rx="1.2" ry="1.2" transform="rotate(0 667.8 243.7)"/><ellipse cx="639.8" cy="252.1" rx="1.2" ry="1.2" transform="rotate(0 639.8 252.1)"/><ellipse cx="643.6" cy="260.6" rx="1.5" ry="1.2" transform="rotate(0 643.6 260.6)"/><ellipse cx="651.2" cy="254.9" rx="1.2" ry="1.2" transform="rotate(0 651.2 254.9)"/><ellipse cx="655.7" cy="264.5" rx="1" ry="1" transform="rotate(0 655.7 264.5)"/></g>
<line x1="670.132" y1="265.0" x2="679.132" y2="265.0" stroke="#fff" stroke-width="1.6"/>
</g>
<rect x="199" y="289.6" width="234.6" height="118" fill="#e8e8e8" />
<g clip-path="url(#c13)">
<rect x="199" y="289.6" width="76.80000000000001" height="58.5" fill="#000" />
<g fill="#0f4c0f" filter="url(#bl35)"><polygon points="214.4,289.6 233.6,289.6 233.6,296.6 225.9,300.1 215.9,295.5"/><polygon points="235.9,291.9 260.4,289.6 255.8,300.1 245.1,303.6 237.4,298.4"/><polygon points="249.7,303.6 265,300.1 275.8,301.3 275.8,320.0 263.5,323.5 252.8,313.0"/><polygon points="229.7,311.8 241.2,310.7 252.8,320.0 249.7,328.2 238.9,327.0 231.3,320.0"/><polygon points="257.4,324.7 275.8,325.9 275.8,335.2 262,334.1"/><polygon points="241.2,339.9 260.4,336.4 275.8,337.6 275.8,345.2 245.1,346.3"/><polygon points="199,323.5 205.1,322.4 214.4,336.4 215.9,346.9 206.7,348.1 199,341.1"/><polygon points="214.4,331.7 222,334.1 223.6,339.9 215.9,339.9"/><polygon points="200.5,292.5 206.7,294.3 205.1,297.8 200.5,296.6"/></g>
<g fill="#2a922a" filter="url(#ti36)"><polygon points="214.4,289.6 233.6,289.6 233.6,296.6 225.9,300.1 215.9,295.5"/><polygon points="235.9,291.9 260.4,289.6 255.8,300.1 245.1,303.6 237.4,298.4"/><polygon points="249.7,303.6 265,300.1 275.8,301.3 275.8,320.0 263.5,323.5 252.8,313.0"/><polygon points="229.7,311.8 241.2,310.7 252.8,320.0 249.7,328.2 238.9,327.0 231.3,320.0"/><polygon points="257.4,324.7 275.8,325.9 275.8,335.2 262,334.1"/><polygon points="241.2,339.9 260.4,336.4 275.8,337.6 275.8,345.2 245.1,346.3"/><polygon points="199,323.5 205.1,322.4 214.4,336.4 215.9,346.9 206.7,348.1 199,341.1"/><polygon points="214.4,331.7 222,334.1 223.6,339.9 215.9,339.9"/><polygon points="200.5,292.5 206.7,294.3 205.1,297.8 200.5,296.6"/></g>
<rect x="199" y="289.6" width="76.80" height="58.50" fill="#000" filter="url(#vn37)" opacity="0.6"/>
<g fill="#e4e4e4" opacity="0.85"><circle cx="228.3" cy="303.1" r="0.7"/><circle cx="268.3" cy="312.2" r="0.8"/><circle cx="241.5" cy="312.0" r="1.0"/><circle cx="199.7" cy="304.2" r="0.6"/><circle cx="232.7" cy="298.7" r="0.7"/><circle cx="274.3" cy="308.3" r="0.8"/><circle cx="249.3" cy="325.9" r="0.6"/><circle cx="208.2" cy="324.0" r="0.9"/><circle cx="265.6" cy="338.8" r="0.7"/><circle cx="204.6" cy="310.7" r="0.9"/><circle cx="208.6" cy="328.8" r="0.6"/><circle cx="206.6" cy="298.0" r="0.7"/><circle cx="203.1" cy="308.2" r="1.0"/><circle cx="201.0" cy="323.4" r="0.9"/><circle cx="267.2" cy="339.1" r="0.8"/><circle cx="229.7" cy="295.8" r="0.6"/><circle cx="230.3" cy="328.4" r="0.9"/><circle cx="265.0" cy="303.1" r="0.6"/><circle cx="209.4" cy="316.4" r="0.9"/><circle cx="231.7" cy="333.1" r="1.0"/><circle cx="201.2" cy="290.4" r="0.9"/><circle cx="223.7" cy="297.7" r="0.6"/><circle cx="254.0" cy="331.7" r="0.6"/><circle cx="274.8" cy="330.9" r="0.9"/><circle cx="249.3" cy="333.5" r="1.0"/><circle cx="239.6" cy="324.8" r="0.6"/><circle cx="272.9" cy="303.7" r="0.9"/><circle cx="226.9" cy="316.5" r="0.9"/><circle cx="259.6" cy="294.5" r="0.8"/><circle cx="240.6" cy="343.9" r="0.7"/><circle cx="220.3" cy="342.1" r="0.8"/><circle cx="261.0" cy="326.0" r="0.8"/><circle cx="256.7" cy="332.4" r="0.7"/><circle cx="241.4" cy="302.1" r="0.7"/><circle cx="212.9" cy="328.6" r="0.6"/><circle cx="274.9" cy="321.6" r="1.0"/><circle cx="210.9" cy="308.9" r="0.7"/><circle cx="228.5" cy="331.8" r="0.9"/><circle cx="245.0" cy="331.3" r="1.0"/><circle cx="258.4" cy="312.6" r="0.8"/><circle cx="267.6" cy="337.7" r="0.6"/><circle cx="212.7" cy="331.0" r="0.7"/><circle cx="248.0" cy="319.6" r="0.7"/><circle cx="230.6" cy="346.5" r="0.6"/><circle cx="202.2" cy="328.6" r="0.8"/><circle cx="215.4" cy="313.0" r="0.8"/><circle cx="220.8" cy="304.8" r="0.9"/><circle cx="246.0" cy="338.1" r="0.8"/><circle cx="246.7" cy="314.0" r="0.9"/><circle cx="260.2" cy="330.1" r="0.7"/><circle cx="206.5" cy="317.1" r="0.9"/><circle cx="216.9" cy="300.3" r="0.9"/><circle cx="221.4" cy="304.1" r="0.9"/><circle cx="271.2" cy="337.9" r="0.6"/><circle cx="245.9" cy="348.0" r="1.0"/><circle cx="201.1" cy="334.1" r="0.7"/><circle cx="230.7" cy="318.8" r="0.8"/><circle cx="243.5" cy="314.6" r="0.6"/><circle cx="216.0" cy="340.7" r="1.0"/><circle cx="229.8" cy="291.2" r="1.0"/><circle cx="239.8" cy="291.2" r="0.8"/><circle cx="246.8" cy="322.2" r="1.0"/><circle cx="254.8" cy="312.2" r="0.7"/><circle cx="202.4" cy="308.7" r="1.0"/><circle cx="252.0" cy="318.2" r="1.0"/><circle cx="240.3" cy="291.9" r="0.8"/><circle cx="212.9" cy="317.9" r="0.9"/><circle cx="200.3" cy="307.8" r="0.8"/><circle cx="228.9" cy="293.5" r="0.8"/><circle cx="250.4" cy="333.6" r="0.8"/><circle cx="238.3" cy="300.1" r="0.6"/><circle cx="227.5" cy="310.1" r="0.9"/><circle cx="212.3" cy="298.9" r="0.6"/><circle cx="204.0" cy="290.4" r="0.8"/><circle cx="268.4" cy="307.9" r="0.6"/><circle cx="214.0" cy="342.4" r="0.6"/><circle cx="267.8" cy="343.1" r="0.8"/><circle cx="239.4" cy="344.3" r="0.8"/><circle cx="225.6" cy="299.4" r="0.9"/><circle cx="258.2" cy="334.8" r="0.9"/><circle cx="236.2" cy="304.4" r="1.0"/><circle cx="239.9" cy="305.5" r="0.7"/><circle cx="268.4" cy="304.0" r="0.6"/><circle cx="256.9" cy="320.2" r="0.7"/><circle cx="262.9" cy="308.4" r="0.8"/><circle cx="218.3" cy="339.5" r="0.8"/><circle cx="221.0" cy="293.5" r="0.8"/><circle cx="275.4" cy="307.5" r="0.9"/><circle cx="266.3" cy="321.6" r="0.6"/><circle cx="227.7" cy="345.3" r="0.8"/><circle cx="270.4" cy="313.9" r="0.9"/><circle cx="231.2" cy="302.5" r="0.7"/><circle cx="203.7" cy="325.3" r="0.6"/><circle cx="212.3" cy="314.2" r="0.6"/><circle cx="238.2" cy="322.4" r="0.9"/><circle cx="264.8" cy="326.0" r="0.6"/><circle cx="247.7" cy="316.4" r="0.6"/><circle cx="241.2" cy="332.4" r="0.6"/><circle cx="261.4" cy="345.7" r="0.6"/><circle cx="205.7" cy="329.5" r="0.8"/><circle cx="233.7" cy="314.8" r="0.8"/><circle cx="267.8" cy="298.6" r="1.0"/><circle cx="248.4" cy="343.8" r="1.0"/><circle cx="230.1" cy="310.3" r="0.7"/><circle cx="227.5" cy="345.5" r="0.6"/><circle cx="268.0" cy="320.0" r="1.0"/><circle cx="211.2" cy="330.1" r="0.7"/><circle cx="213.1" cy="347.2" r="0.8"/><circle cx="260.3" cy="318.0" r="0.6"/><circle cx="217.8" cy="302.7" r="0.6"/><circle cx="262.7" cy="294.4" r="0.8"/><circle cx="270.9" cy="308.7" r="0.7"/><circle cx="272.4" cy="299.8" r="0.8"/><circle cx="210.4" cy="310.1" r="0.6"/><circle cx="259.1" cy="294.3" r="0.6"/><circle cx="241.7" cy="344.2" r="0.8"/><circle cx="248.7" cy="294.9" r="0.8"/><circle cx="227.0" cy="345.1" r="0.7"/><circle cx="266.7" cy="294.5" r="0.7"/><circle cx="256.4" cy="300.5" r="0.9"/><circle cx="217.6" cy="302.0" r="0.9"/><circle cx="215.8" cy="294.5" r="1.0"/><circle cx="264.0" cy="318.7" r="0.9"/><circle cx="235.8" cy="309.9" r="0.9"/><circle cx="247.0" cy="307.4" r="0.6"/><circle cx="200.8" cy="298.5" r="0.9"/><circle cx="235.5" cy="339.9" r="0.9"/><circle cx="261.7" cy="343.5" r="0.7"/><circle cx="205.8" cy="294.4" r="1.0"/><circle cx="221.2" cy="304.8" r="0.7"/><circle cx="274.4" cy="302.1" r="0.6"/><circle cx="238.6" cy="342.2" r="1.0"/><circle cx="234.4" cy="340.2" r="1.0"/><circle cx="231.7" cy="293.7" r="1.0"/><circle cx="234.8" cy="332.9" r="1.0"/><circle cx="231.9" cy="313.4" r="0.7"/><circle cx="241.3" cy="295.1" r="0.9"/><circle cx="244.6" cy="301.0" r="0.8"/><circle cx="273.0" cy="312.9" r="0.9"/><circle cx="267.5" cy="306.6" r="0.9"/><circle cx="201.6" cy="333.6" r="0.8"/><circle cx="214.4" cy="309.8" r="1.0"/><circle cx="247.4" cy="291.6" r="0.8"/><circle cx="243.2" cy="345.4" r="0.6"/><circle cx="265.6" cy="292.5" r="1.0"/><circle cx="235.1" cy="314.2" r="0.7"/><circle cx="250.5" cy="315.6" r="0.9"/><circle cx="232.1" cy="296.3" r="0.9"/><circle cx="237.8" cy="290.8" r="0.7"/><circle cx="210.4" cy="292.6" r="0.8"/><circle cx="260.4" cy="328.3" r="1.0"/><circle cx="239.0" cy="324.3" r="0.9"/><circle cx="272.7" cy="338.0" r="0.8"/><circle cx="227.5" cy="302.9" r="0.6"/><circle cx="270.5" cy="301.6" r="0.6"/><circle cx="232.3" cy="313.1" r="0.6"/><circle cx="253.2" cy="316.4" r="0.6"/><circle cx="239.9" cy="325.1" r="1.0"/><circle cx="275.1" cy="318.4" r="0.9"/><circle cx="202.8" cy="326.5" r="0.6"/><circle cx="247.1" cy="297.3" r="0.7"/><circle cx="246.0" cy="329.7" r="0.7"/><circle cx="207.2" cy="334.4" r="0.9"/><circle cx="257.8" cy="298.8" r="0.6"/><circle cx="212.6" cy="346.9" r="0.6"/><circle cx="240.3" cy="296.6" r="0.8"/><circle cx="205.0" cy="345.3" r="0.8"/><circle cx="203.2" cy="300.5" r="0.8"/><circle cx="261.8" cy="296.9" r="0.9"/><circle cx="225.6" cy="306.7" r="0.6"/><circle cx="204.2" cy="315.2" r="1.0"/><circle cx="264.3" cy="319.4" r="0.9"/><circle cx="224.8" cy="304.9" r="0.6"/><circle cx="247.8" cy="343.3" r="1.0"/><circle cx="219.3" cy="333.8" r="1.0"/><circle cx="248.1" cy="316.0" r="0.7"/><circle cx="270.1" cy="334.0" r="0.7"/><circle cx="215.8" cy="327.9" r="0.7"/><circle cx="237.8" cy="317.8" r="0.6"/><circle cx="248.0" cy="298.3" r="0.7"/><circle cx="250.9" cy="302.2" r="0.6"/><circle cx="248.4" cy="306.4" r="1.0"/><circle cx="216.0" cy="345.1" r="0.9"/><circle cx="247.1" cy="333.6" r="0.8"/><circle cx="245.4" cy="315.6" r="0.8"/><circle cx="270.6" cy="335.6" r="1.0"/><circle cx="272.1" cy="313.8" r="0.6"/><circle cx="231.7" cy="302.7" r="1.0"/><circle cx="254.4" cy="345.9" r="1.0"/><circle cx="251.4" cy="335.1" r="1.0"/><circle cx="243.6" cy="321.2" r="0.6"/><circle cx="275.0" cy="304.7" r="0.8"/><circle cx="255.4" cy="308.5" r="1.0"/><circle cx="260.1" cy="300.7" r="0.8"/><circle cx="205.2" cy="310.4" r="0.7"/><circle cx="213.7" cy="292.9" r="0.7"/><circle cx="263.2" cy="336.2" r="0.9"/><circle cx="261.4" cy="328.8" r="0.8"/><circle cx="262.2" cy="302.2" r="1.0"/><circle cx="212.0" cy="312.8" r="1.0"/><circle cx="205.4" cy="315.5" r="1.0"/><circle cx="262.1" cy="305.9" r="0.9"/><circle cx="255.2" cy="335.7" r="1.0"/><circle cx="207.4" cy="315.4" r="0.9"/><circle cx="239.7" cy="324.4" r="0.6"/><circle cx="241.6" cy="313.0" r="1.0"/><circle cx="202.8" cy="327.7" r="0.8"/><circle cx="204.1" cy="297.3" r="0.6"/><circle cx="218.2" cy="300.9" r="0.7"/><circle cx="271.0" cy="301.9" r="0.9"/><circle cx="233.3" cy="305.0" r="0.6"/><circle cx="269.1" cy="302.9" r="0.7"/><circle cx="231.2" cy="310.1" r="0.7"/><circle cx="241.2" cy="298.0" r="0.7"/><circle cx="253.0" cy="339.8" r="1.0"/><circle cx="271.3" cy="302.4" r="0.8"/><circle cx="204.2" cy="343.3" r="0.6"/><circle cx="253.0" cy="338.3" r="0.8"/><circle cx="257.7" cy="289.6" r="0.6"/><circle cx="248.6" cy="324.0" r="0.9"/><circle cx="215.1" cy="316.7" r="1.0"/><circle cx="249.3" cy="342.2" r="1.0"/><circle cx="266.8" cy="300.3" r="0.9"/><circle cx="264.9" cy="322.6" r="0.9"/><circle cx="253.1" cy="314.3" r="0.8"/><circle cx="247.0" cy="305.5" r="0.6"/><circle cx="216.3" cy="314.9" r="0.9"/><circle cx="252.5" cy="319.4" r="0.7"/><circle cx="232.9" cy="303.1" r="0.6"/><circle cx="228.2" cy="345.2" r="1.0"/><circle cx="246.7" cy="294.1" r="0.7"/><circle cx="245.5" cy="324.2" r="0.7"/><circle cx="256.1" cy="339.1" r="0.6"/><circle cx="252.9" cy="303.5" r="0.8"/><circle cx="224.8" cy="320.6" r="0.9"/><circle cx="274.6" cy="310.3" r="1.0"/><circle cx="273.3" cy="297.0" r="0.6"/><circle cx="231.2" cy="321.0" r="0.7"/><circle cx="265.7" cy="306.8" r="0.6"/><circle cx="253.5" cy="336.0" r="0.7"/><circle cx="232.2" cy="313.6" r="0.8"/><circle cx="250.4" cy="331.5" r="0.7"/><circle cx="205.1" cy="340.9" r="0.7"/><circle cx="215.1" cy="312.5" r="0.9"/><circle cx="212.6" cy="344.1" r="0.7"/><circle cx="222.3" cy="339.9" r="0.7"/><circle cx="207.9" cy="311.7" r="0.7"/><circle cx="235.4" cy="324.7" r="0.7"/><circle cx="260.7" cy="333.9" r="0.6"/><circle cx="206.4" cy="309.0" r="0.8"/><circle cx="257.6" cy="299.8" r="0.7"/><circle cx="246.7" cy="312.0" r="0.6"/><circle cx="216.1" cy="315.7" r="0.9"/><circle cx="270.3" cy="342.6" r="0.9"/><circle cx="203.5" cy="326.0" r="1.0"/><circle cx="237.2" cy="324.7" r="0.7"/><circle cx="274.1" cy="319.7" r="0.9"/><circle cx="233.7" cy="294.4" r="0.9"/><circle cx="234.3" cy="301.8" r="0.6"/><circle cx="262.1" cy="314.5" r="0.7"/><circle cx="199.9" cy="342.4" r="0.6"/><circle cx="244.0" cy="344.3" r="0.8"/><circle cx="206.2" cy="296.4" r="0.7"/><circle cx="248.0" cy="322.4" r="0.6"/><circle cx="244.2" cy="309.2" r="0.6"/><circle cx="211.7" cy="344.2" r="0.7"/><circle cx="224.2" cy="307.9" r="1.0"/><circle cx="212.9" cy="303.1" r="0.8"/><circle cx="235.9" cy="317.8" r="0.9"/><circle cx="227.2" cy="327.7" r="0.8"/><circle cx="271.5" cy="301.9" r="0.9"/><circle cx="258.7" cy="325.0" r="0.9"/><circle cx="236.9" cy="332.0" r="0.6"/><circle cx="228.8" cy="331.6" r="0.6"/><circle cx="260.1" cy="304.6" r="0.6"/><circle cx="249.5" cy="292.7" r="1.0"/><circle cx="202.9" cy="296.9" r="0.6"/><circle cx="218.1" cy="292.4" r="1.0"/><circle cx="239.8" cy="315.5" r="0.6"/><circle cx="260.0" cy="329.7" r="0.9"/><circle cx="226.8" cy="296.4" r="1.0"/><circle cx="207.6" cy="299.9" r="1.0"/><circle cx="222.6" cy="316.9" r="0.6"/><circle cx="258.8" cy="306.8" r="0.9"/><circle cx="262.2" cy="292.9" r="0.6"/><circle cx="235.5" cy="341.2" r="0.8"/><circle cx="247.0" cy="295.5" r="0.8"/><circle cx="228.2" cy="301.5" r="0.6"/><circle cx="233.1" cy="296.4" r="1.0"/><circle cx="213.2" cy="307.4" r="0.8"/><circle cx="206.5" cy="312.3" r="0.6"/><circle cx="267.0" cy="294.3" r="1.0"/><circle cx="218.6" cy="295.9" r="0.8"/><circle cx="274.5" cy="320.5" r="1.0"/><circle cx="213.2" cy="343.4" r="1.0"/><circle cx="212.6" cy="338.8" r="0.6"/><circle cx="272.7" cy="345.8" r="1.0"/><circle cx="205.0" cy="292.9" r="0.7"/><circle cx="225.1" cy="333.8" r="0.6"/><circle cx="231.0" cy="321.2" r="1.0"/><circle cx="255.2" cy="344.2" r="0.7"/><circle cx="217.9" cy="292.1" r="0.7"/><circle cx="252.0" cy="325.0" r="1.0"/><circle cx="243.5" cy="320.5" r="0.9"/><circle cx="232.4" cy="328.7" r="0.9"/><circle cx="216.0" cy="318.4" r="0.9"/><circle cx="237.2" cy="292.1" r="0.7"/><circle cx="266.7" cy="321.4" r="0.7"/><circle cx="232.0" cy="318.7" r="0.9"/><circle cx="227.8" cy="334.3" r="0.8"/><circle cx="240.3" cy="299.1" r="0.7"/><circle cx="256.8" cy="335.1" r="0.8"/><circle cx="236.5" cy="302.4" r="0.9"/><circle cx="228.2" cy="322.8" r="1.0"/><circle cx="270.6" cy="296.8" r="0.9"/><circle cx="266.1" cy="295.0" r="1.0"/><circle cx="239.5" cy="336.8" r="0.8"/><circle cx="238.5" cy="320.1" r="1.0"/><circle cx="246.9" cy="307.3" r="0.6"/><circle cx="234.9" cy="296.2" r="0.8"/></g>
</g>
<g clip-path="url(#c14)">
<rect x="199" y="349.6" width="76.80000000000001" height="58.0" fill="#000" />
<g fill="#0f4c0f" filter="url(#bl35)"><polygon points="237.4,362.4 243.5,350.8 275.8,349.6 275.8,407.6 243.5,407.6 238.9,394.8 235.9,378.6"/><polygon points="199,350.8 214.4,351.9 219,361.2 209.8,362.4 199,358.3"/><polygon points="199,367.0 209.8,365.8 222,379.8 215.9,385.6 199,377.4"/><polygon points="220.5,399.5 235.9,396.0 241.2,407.6 223.6,407.6"/><polygon points="228.2,381.5 238.9,382.1 237.4,389.0 228.2,387.9"/><polygon points="199,390.2 208.2,391.4 212.8,401.8 202.8,403.0"/></g>
<g fill="#2a922a" filter="url(#ti38)"><polygon points="237.4,362.4 243.5,350.8 275.8,349.6 275.8,407.6 243.5,407.6 238.9,394.8 235.9,378.6"/><polygon points="199,350.8 214.4,351.9 219,361.2 209.8,362.4 199,358.3"/><polygon points="199,367.0 209.8,365.8 222,379.8 215.9,385.6 199,377.4"/><polygon points="220.5,399.5 235.9,396.0 241.2,407.6 223.6,407.6"/><polygon points="228.2,381.5 238.9,382.1 237.4,389.0 228.2,387.9"/><polygon points="199,390.2 208.2,391.4 212.8,401.8 202.8,403.0"/></g>
<rect x="199" y="349.6" width="76.80" height="58.00" fill="#000" filter="url(#vn39)" opacity="0.6"/>
<g fill="#e4e4e4" opacity="0.85"><circle cx="248.1" cy="351.1" r="0.8"/><circle cx="217.8" cy="357.7" r="0.6"/><circle cx="251.0" cy="401.3" r="0.6"/><circle cx="244.3" cy="351.4" r="0.6"/><circle cx="215.8" cy="378.9" r="0.6"/><circle cx="242.1" cy="391.1" r="1.0"/><circle cx="231.2" cy="375.7" r="0.8"/><circle cx="261.2" cy="350.0" r="0.7"/><circle cx="252.6" cy="369.3" r="0.7"/><circle cx="215.5" cy="393.9" r="0.6"/><circle cx="206.1" cy="355.2" r="0.8"/><circle cx="245.4" cy="396.4" r="0.9"/><circle cx="240.2" cy="406.0" r="0.9"/><circle cx="205.1" cy="366.6" r="1.0"/><circle cx="267.0" cy="370.6" r="0.7"/><circle cx="253.1" cy="352.3" r="0.7"/><circle cx="258.4" cy="406.7" r="0.7"/><circle cx="265.5" cy="371.6" r="0.9"/><circle cx="247.8" cy="370.8" r="0.8"/><circle cx="226.3" cy="388.5" r="0.6"/><circle cx="245.8" cy="359.5" r="0.7"/><circle cx="211.5" cy="371.6" r="1.0"/><circle cx="215.9" cy="368.4" r="0.6"/><circle cx="216.6" cy="351.5" r="0.8"/><circle cx="229.8" cy="353.4" r="1.0"/><circle cx="266.3" cy="367.9" r="0.9"/><circle cx="229.4" cy="402.6" r="0.9"/><circle cx="210.0" cy="357.7" r="1.0"/><circle cx="240.4" cy="392.9" r="0.9"/><circle cx="268.0" cy="372.8" r="0.7"/><circle cx="275.6" cy="357.6" r="0.9"/><circle cx="206.0" cy="352.3" r="0.6"/><circle cx="210.7" cy="358.9" r="0.9"/><circle cx="244.8" cy="371.9" r="1.0"/><circle cx="275.5" cy="380.3" r="1.0"/><circle cx="265.1" cy="350.3" r="0.6"/><circle cx="251.4" cy="380.7" r="0.8"/><circle cx="258.0" cy="369.3" r="0.8"/><circle cx="232.4" cy="375.9" r="0.8"/><circle cx="273.6" cy="393.8" r="1.0"/><circle cx="269.1" cy="400.1" r="0.8"/><circle cx="263.6" cy="379.0" r="0.7"/><circle cx="210.7" cy="393.8" r="1.0"/><circle cx="272.2" cy="403.1" r="0.6"/><circle cx="245.0" cy="377.9" r="0.6"/><circle cx="270.4" cy="400.6" r="0.8"/><circle cx="217.4" cy="363.6" r="1.0"/><circle cx="271.7" cy="354.6" r="0.9"/><circle cx="261.7" cy="406.3" r="1.0"/><circle cx="257.8" cy="357.0" r="0.9"/><circle cx="271.7" cy="359.2" r="1.0"/><circle cx="266.0" cy="374.1" r="0.7"/><circle cx="270.3" cy="393.4" r="0.7"/><circle cx="253.8" cy="372.7" r="0.8"/><circle cx="232.6" cy="379.6" r="0.6"/><circle cx="218.0" cy="353.3" r="0.6"/><circle cx="244.2" cy="362.9" r="0.7"/><circle cx="199.6" cy="390.7" r="0.6"/><circle cx="216.6" cy="402.1" r="0.8"/><circle cx="204.4" cy="363.4" r="0.9"/><circle cx="215.5" cy="357.3" r="1.0"/><circle cx="243.3" cy="363.7" r="0.9"/><circle cx="261.0" cy="360.6" r="0.6"/><circle cx="249.6" cy="370.1" r="0.9"/><circle cx="234.9" cy="391.9" r="0.6"/><circle cx="203.7" cy="391.8" r="0.6"/><circle cx="218.1" cy="360.6" r="0.9"/><circle cx="209.8" cy="360.2" r="0.9"/><circle cx="218.2" cy="403.1" r="0.9"/><circle cx="261.1" cy="399.2" r="0.6"/><circle cx="202.9" cy="407.6" r="0.6"/><circle cx="273.4" cy="403.3" r="0.7"/><circle cx="211.8" cy="377.8" r="0.7"/><circle cx="265.4" cy="401.9" r="0.7"/><circle cx="228.1" cy="406.7" r="0.8"/><circle cx="270.2" cy="395.1" r="0.8"/><circle cx="231.5" cy="405.1" r="1.0"/><circle cx="249.8" cy="377.8" r="0.7"/><circle cx="221.8" cy="405.8" r="1.0"/><circle cx="255.5" cy="353.1" r="0.8"/><circle cx="203.4" cy="383.5" r="1.0"/><circle cx="269.6" cy="380.4" r="0.6"/><circle cx="272.8" cy="354.2" r="0.7"/><circle cx="204.3" cy="353.5" r="0.7"/><circle cx="230.0" cy="404.2" r="1.0"/><circle cx="217.9" cy="384.1" r="1.0"/><circle cx="205.3" cy="387.7" r="1.0"/><circle cx="239.1" cy="403.8" r="0.7"/><circle cx="250.4" cy="367.8" r="0.8"/><circle cx="229.4" cy="388.6" r="0.8"/><circle cx="234.1" cy="403.5" r="0.6"/><circle cx="199.7" cy="385.6" r="1.0"/><circle cx="275.5" cy="353.8" r="0.7"/><circle cx="237.9" cy="357.3" r="0.8"/><circle cx="266.7" cy="400.6" r="0.8"/><circle cx="220.9" cy="375.0" r="1.0"/><circle cx="253.0" cy="385.1" r="1.0"/><circle cx="199.6" cy="397.0" r="0.8"/><circle cx="270.6" cy="355.6" r="0.7"/><circle cx="219.3" cy="401.2" r="1.0"/><circle cx="210.9" cy="365.9" r="0.7"/><circle cx="254.1" cy="361.4" r="0.8"/><circle cx="237.8" cy="364.2" r="0.6"/><circle cx="206.1" cy="374.2" r="0.8"/><circle cx="202.4" cy="368.9" r="0.7"/><circle cx="247.9" cy="364.8" r="0.9"/><circle cx="241.4" cy="374.4" r="0.6"/><circle cx="207.6" cy="404.4" r="0.7"/><circle cx="240.9" cy="398.0" r="1.0"/><circle cx="241.4" cy="374.5" r="0.6"/><circle cx="222.7" cy="401.7" r="0.6"/><circle cx="268.0" cy="361.8" r="0.7"/><circle cx="250.2" cy="370.1" r="1.0"/><circle cx="266.9" cy="373.2" r="1.0"/><circle cx="256.6" cy="403.3" r="0.7"/><circle cx="265.4" cy="406.2" r="0.7"/><circle cx="266.7" cy="351.0" r="0.8"/><circle cx="259.1" cy="373.5" r="0.7"/><circle cx="219.5" cy="395.3" r="0.6"/><circle cx="228.4" cy="351.8" r="0.9"/><circle cx="216.1" cy="397.0" r="0.9"/><circle cx="225.9" cy="397.2" r="0.7"/><circle cx="216.1" cy="387.9" r="0.9"/><circle cx="224.2" cy="399.7" r="0.8"/><circle cx="226.0" cy="379.1" r="1.0"/><circle cx="224.4" cy="351.2" r="0.8"/><circle cx="212.7" cy="405.4" r="0.8"/><circle cx="201.9" cy="384.2" r="0.8"/><circle cx="255.0" cy="367.8" r="1.0"/><circle cx="274.6" cy="356.3" r="1.0"/><circle cx="213.6" cy="352.2" r="0.9"/><circle cx="199.1" cy="403.3" r="1.0"/><circle cx="251.8" cy="404.1" r="0.7"/><circle cx="227.0" cy="353.7" r="0.8"/><circle cx="246.9" cy="388.1" r="0.6"/><circle cx="254.3" cy="367.0" r="0.8"/><circle cx="250.2" cy="368.5" r="0.8"/><circle cx="241.6" cy="360.7" r="0.9"/><circle cx="251.0" cy="402.0" r="1.0"/><circle cx="242.7" cy="373.2" r="0.6"/><circle cx="222.3" cy="361.8" r="1.0"/><circle cx="245.6" cy="368.3" r="0.9"/><circle cx="233.0" cy="362.0" r="0.9"/><circle cx="260.0" cy="405.3" r="0.7"/><circle cx="249.6" cy="366.1" r="1.0"/><circle cx="224.7" cy="397.1" r="0.7"/><circle cx="250.7" cy="362.6" r="0.7"/><circle cx="210.3" cy="352.3" r="0.9"/><circle cx="245.9" cy="394.2" r="0.9"/><circle cx="230.8" cy="386.1" r="0.7"/><circle cx="254.2" cy="371.9" r="0.9"/><circle cx="217.7" cy="387.7" r="0.6"/><circle cx="267.6" cy="399.5" r="0.6"/><circle cx="258.8" cy="362.3" r="1.0"/><circle cx="234.7" cy="381.9" r="0.6"/><circle cx="234.1" cy="396.1" r="1.0"/><circle cx="274.9" cy="384.1" r="0.9"/><circle cx="246.1" cy="391.3" r="1.0"/><circle cx="231.8" cy="402.2" r="0.9"/><circle cx="267.9" cy="392.7" r="0.9"/><circle cx="233.6" cy="393.2" r="0.8"/><circle cx="257.8" cy="379.8" r="0.7"/><circle cx="220.1" cy="354.1" r="0.8"/><circle cx="217.0" cy="369.1" r="1.0"/><circle cx="205.2" cy="358.3" r="0.9"/><circle cx="252.3" cy="390.6" r="0.6"/><circle cx="230.9" cy="368.8" r="0.9"/><circle cx="230.9" cy="361.6" r="0.9"/><circle cx="228.9" cy="394.2" r="0.6"/><circle cx="264.8" cy="394.0" r="0.9"/><circle cx="235.6" cy="404.3" r="0.8"/><circle cx="256.9" cy="399.1" r="0.9"/><circle cx="240.3" cy="392.2" r="1.0"/><circle cx="268.0" cy="377.9" r="0.8"/><circle cx="232.5" cy="351.3" r="0.8"/><circle cx="250.4" cy="395.9" r="0.7"/><circle cx="263.6" cy="402.9" r="1.0"/><circle cx="240.0" cy="402.2" r="1.0"/><circle cx="242.3" cy="351.2" r="0.9"/><circle cx="209.4" cy="376.4" r="0.6"/><circle cx="219.0" cy="368.6" r="0.9"/><circle cx="224.1" cy="393.8" r="0.9"/><circle cx="220.4" cy="404.8" r="0.9"/><circle cx="218.4" cy="354.4" r="0.6"/><circle cx="256.5" cy="352.6" r="0.8"/><circle cx="216.2" cy="353.6" r="0.6"/><circle cx="256.9" cy="404.7" r="0.7"/><circle cx="263.5" cy="385.6" r="0.7"/><circle cx="208.7" cy="388.4" r="1.0"/><circle cx="271.8" cy="376.6" r="0.8"/><circle cx="257.9" cy="359.3" r="1.0"/><circle cx="273.0" cy="391.3" r="0.7"/><circle cx="273.1" cy="355.9" r="0.6"/><circle cx="270.3" cy="383.0" r="0.9"/><circle cx="229.5" cy="391.1" r="0.6"/><circle cx="244.5" cy="397.8" r="0.7"/><circle cx="206.8" cy="394.4" r="1.0"/><circle cx="260.9" cy="395.8" r="1.0"/><circle cx="259.1" cy="369.7" r="0.9"/><circle cx="249.8" cy="353.6" r="0.8"/><circle cx="200.0" cy="374.0" r="0.9"/><circle cx="207.1" cy="405.3" r="0.9"/><circle cx="253.3" cy="374.9" r="1.0"/><circle cx="273.1" cy="365.3" r="1.0"/><circle cx="258.5" cy="376.6" r="1.0"/><circle cx="219.6" cy="399.0" r="0.6"/><circle cx="220.4" cy="375.7" r="0.9"/><circle cx="242.8" cy="388.4" r="0.8"/><circle cx="201.2" cy="399.0" r="0.7"/><circle cx="236.4" cy="370.2" r="0.8"/><circle cx="225.1" cy="400.7" r="0.8"/><circle cx="241.7" cy="379.6" r="0.7"/><circle cx="205.6" cy="391.4" r="0.9"/><circle cx="241.6" cy="363.5" r="0.9"/><circle cx="248.6" cy="378.1" r="0.6"/><circle cx="206.1" cy="362.5" r="0.7"/><circle cx="222.5" cy="383.3" r="0.9"/><circle cx="241.5" cy="369.5" r="1.0"/><circle cx="224.4" cy="390.4" r="0.8"/><circle cx="222.5" cy="363.0" r="0.7"/><circle cx="223.2" cy="392.7" r="0.7"/><circle cx="213.7" cy="392.4" r="0.8"/><circle cx="254.6" cy="406.2" r="1.0"/><circle cx="244.8" cy="406.5" r="0.7"/><circle cx="221.8" cy="370.5" r="0.8"/><circle cx="200.1" cy="380.6" r="0.8"/><circle cx="202.5" cy="352.8" r="0.8"/><circle cx="252.6" cy="356.9" r="0.9"/><circle cx="206.9" cy="350.3" r="0.8"/><circle cx="235.0" cy="375.1" r="0.7"/><circle cx="273.2" cy="364.2" r="0.9"/><circle cx="207.8" cy="353.4" r="0.9"/><circle cx="204.7" cy="386.1" r="0.6"/><circle cx="210.7" cy="396.6" r="0.8"/><circle cx="205.5" cy="364.0" r="1.0"/><circle cx="257.7" cy="384.8" r="1.0"/><circle cx="216.3" cy="379.9" r="0.9"/><circle cx="268.8" cy="366.8" r="1.0"/><circle cx="275.0" cy="367.3" r="1.0"/><circle cx="203.6" cy="405.3" r="0.6"/><circle cx="271.8" cy="361.7" r="0.7"/><circle cx="219.3" cy="354.3" r="0.7"/><circle cx="212.3" cy="354.0" r="0.6"/><circle cx="230.4" cy="389.6" r="0.9"/><circle cx="221.4" cy="363.0" r="0.8"/><circle cx="253.0" cy="375.9" r="0.7"/><circle cx="270.0" cy="395.3" r="1.0"/><circle cx="249.8" cy="403.8" r="0.9"/><circle cx="207.8" cy="362.6" r="0.7"/><circle cx="268.8" cy="397.5" r="0.6"/><circle cx="203.6" cy="395.6" r="1.0"/><circle cx="256.5" cy="382.6" r="0.8"/><circle cx="232.7" cy="376.8" r="0.8"/><circle cx="252.7" cy="404.3" r="1.0"/><circle cx="240.5" cy="375.0" r="1.0"/><circle cx="202.1" cy="374.7" r="0.8"/><circle cx="245.4" cy="351.1" r="0.7"/><circle cx="272.9" cy="398.1" r="1.0"/><circle cx="244.1" cy="350.8" r="0.8"/><circle cx="243.3" cy="393.9" r="0.7"/><circle cx="235.1" cy="387.4" r="0.8"/><circle cx="212.9" cy="383.5" r="0.9"/><circle cx="273.4" cy="376.9" r="0.9"/><circle cx="224.6" cy="388.5" r="0.7"/><circle cx="224.3" cy="389.8" r="0.8"/><circle cx="249.9" cy="372.8" r="1.0"/><circle cx="201.8" cy="354.7" r="0.8"/><circle cx="223.8" cy="405.9" r="0.9"/><circle cx="265.4" cy="397.4" r="0.6"/><circle cx="249.5" cy="381.1" r="0.9"/><circle cx="203.2" cy="379.7" r="1.0"/><circle cx="257.1" cy="385.9" r="0.6"/><circle cx="214.6" cy="381.5" r="0.8"/><circle cx="232.6" cy="390.1" r="0.6"/><circle cx="201.2" cy="386.1" r="0.7"/><circle cx="253.5" cy="367.6" r="0.6"/><circle cx="241.4" cy="355.0" r="0.6"/><circle cx="234.4" cy="356.4" r="0.7"/><circle cx="237.3" cy="391.2" r="1.0"/><circle cx="253.2" cy="373.7" r="0.9"/><circle cx="274.3" cy="363.7" r="1.0"/><circle cx="210.1" cy="360.7" r="1.0"/><circle cx="238.0" cy="400.6" r="0.6"/><circle cx="220.2" cy="395.4" r="0.9"/><circle cx="225.1" cy="395.3" r="0.8"/><circle cx="262.0" cy="366.0" r="0.8"/><circle cx="263.3" cy="383.2" r="0.9"/><circle cx="265.5" cy="375.5" r="0.9"/><circle cx="225.5" cy="381.6" r="1.0"/><circle cx="228.0" cy="403.7" r="0.7"/><circle cx="274.3" cy="363.5" r="0.9"/><circle cx="216.9" cy="394.6" r="0.6"/><circle cx="223.4" cy="377.0" r="0.9"/><circle cx="228.7" cy="388.1" r="0.7"/><circle cx="237.0" cy="351.7" r="1.0"/><circle cx="273.1" cy="368.9" r="0.6"/><circle cx="266.1" cy="375.1" r="1.0"/><circle cx="268.9" cy="350.5" r="0.7"/><circle cx="230.5" cy="387.6" r="0.7"/><circle cx="204.7" cy="394.9" r="0.8"/><circle cx="225.0" cy="389.8" r="0.6"/><circle cx="264.4" cy="399.0" r="1.0"/><circle cx="228.2" cy="368.0" r="0.9"/><circle cx="266.0" cy="351.7" r="0.6"/><circle cx="217.0" cy="389.3" r="0.8"/><circle cx="275.6" cy="392.9" r="0.9"/><circle cx="274.1" cy="393.7" r="0.6"/><circle cx="233.1" cy="389.9" r="0.6"/><circle cx="202.5" cy="395.8" r="0.8"/><circle cx="226.5" cy="374.6" r="0.7"/><circle cx="239.8" cy="382.4" r="0.7"/><circle cx="212.1" cy="354.2" r="0.9"/><circle cx="246.6" cy="363.6" r="1.0"/><circle cx="210.0" cy="376.3" r="0.8"/><circle cx="234.3" cy="388.3" r="0.9"/><circle cx="268.2" cy="388.9" r="0.7"/><circle cx="204.7" cy="404.4" r="1.0"/><circle cx="222.0" cy="405.4" r="0.8"/><circle cx="234.1" cy="367.1" r="0.9"/><circle cx="264.5" cy="355.8" r="0.9"/></g>
</g>
<g clip-path="url(#c15)">
<rect x="277.3" y="289.6" width="77.39999999999998" height="58.5" fill="#000" />
<rect x="277.3" y="289.6" width="77.40" height="58.50" fill="#000" filter="url(#sp40)" opacity="0.5"/>
<g fill="#a01418" filter="url(#bl27)"><ellipse cx="319.9" cy="313.0" rx="1.8" ry="1" transform="rotate(40 319.9 313.0)"/><ellipse cx="306.7" cy="318.9" rx="1.2" ry="0.8" transform="rotate(40 306.7 318.9)"/><ellipse cx="294.3" cy="337.6" rx="1.5" ry="0.8" transform="rotate(60 294.3 337.6)"/><ellipse cx="286.6" cy="321.8" rx="1.2" ry="0.8" transform="rotate(40 286.6 321.8)"/><ellipse cx="335.4" cy="295.5" rx="1" ry="0.7" transform="rotate(50 335.4 295.5)"/></g>
<g fill="#3a1a88" filter="url(#bl41)"><ellipse cx="319.9" cy="313.0" rx="1.2" ry="1" transform="rotate(0 319.9 313.0)"/></g>
</g>
<g clip-path="url(#c16)">
<rect x="277.3" y="349.6" width="77.39999999999998" height="58.0" fill="#000" />
<rect x="277.3" y="349.6" width="77.40" height="58.00" fill="#000" filter="url(#sp42)" opacity="0.5"/>
<g fill="#a01418" filter="url(#bl27)"><ellipse cx="312.1" cy="387.3" rx="3" ry="1.4" transform="rotate(20 312.1 387.3)"/><ellipse cx="300.5" cy="384.4" rx="2" ry="1" transform="rotate(30 300.5 384.4)"/><ellipse cx="323.7" cy="390.2" rx="1.5" ry="1" transform="rotate(40 323.7 390.2)"/><ellipse cx="288.9" cy="367.0" rx="1.2" ry="0.8" transform="rotate(40 288.9 367.0)"/><ellipse cx="340.8" cy="375.7" rx="1.2" ry="0.7" transform="rotate(50 340.8 375.7)"/><ellipse cx="347.0" cy="398.9" rx="1.2" ry="0.8" transform="rotate(40 347.0 398.9)"/><ellipse cx="331.5" cy="361.2" rx="1" ry="0.7" transform="rotate(40 331.5 361.2)"/></g>
<g fill="#3a1a88" filter="url(#bl41)"><ellipse cx="309.8" cy="386.7" rx="5" ry="2.2" transform="rotate(20 309.8 386.7)"/></g>
</g>
<g clip-path="url(#c17)">
<rect x="356.2" y="289.6" width="77.40000000000003" height="58.5" fill="#000" />
<g fill="#0f4c0f" filter="url(#bl35)"><polygon points="371.7,289.6 391,289.6 391,296.6 383.3,300.1 373.2,295.5"/><polygon points="393.4,291.9 418.1,289.6 413.5,300.1 402.6,303.6 394.9,298.4"/><polygon points="407.3,303.6 422.8,300.1 433.6,301.3 433.6,320.0 421.2,323.5 410.4,313.0"/><polygon points="387.2,311.8 398.8,310.7 410.4,320.0 407.3,328.2 396.4,327.0 388.7,320.0"/><polygon points="415,324.7 433.6,325.9 433.6,335.2 419.7,334.1"/><polygon points="398.8,339.9 418.1,336.4 433.6,337.6 433.6,345.2 402.6,346.3"/><polygon points="356.2,323.5 362.4,322.4 371.7,336.4 373.2,346.9 363.9,348.1 356.2,341.1"/><polygon points="371.7,331.7 379.4,334.1 381,339.9 373.2,339.9"/><polygon points="357.7,292.5 363.9,294.3 362.4,297.8 357.7,296.6"/></g>
<g fill="#2a922a" filter="url(#ti36)"><polygon points="371.7,289.6 391,289.6 391,296.6 383.3,300.1 373.2,295.5"/><polygon points="393.4,291.9 418.1,289.6 413.5,300.1 402.6,303.6 394.9,298.4"/><polygon points="407.3,303.6 422.8,300.1 433.6,301.3 433.6,320.0 421.2,323.5 410.4,313.0"/><polygon points="387.2,311.8 398.8,310.7 410.4,320.0 407.3,328.2 396.4,327.0 388.7,320.0"/><polygon points="415,324.7 433.6,325.9 433.6,335.2 419.7,334.1"/><polygon points="398.8,339.9 418.1,336.4 433.6,337.6 433.6,345.2 402.6,346.3"/><polygon points="356.2,323.5 362.4,322.4 371.7,336.4 373.2,346.9 363.9,348.1 356.2,341.1"/><polygon points="371.7,331.7 379.4,334.1 381,339.9 373.2,339.9"/><polygon points="357.7,292.5 363.9,294.3 362.4,297.8 357.7,296.6"/></g>
<rect x="356.2" y="289.6" width="77.40" height="58.50" fill="#000" filter="url(#vn37)" opacity="0.6"/>
<g fill="#e4e4e4" opacity="0.85"><circle cx="385.7" cy="303.1" r="0.7"/><circle cx="426.0" cy="312.2" r="0.8"/><circle cx="399.0" cy="312.0" r="1.0"/><circle cx="356.9" cy="304.2" r="0.6"/><circle cx="390.2" cy="298.7" r="0.7"/><circle cx="432.0" cy="308.3" r="0.8"/><circle cx="406.9" cy="325.9" r="0.6"/><circle cx="365.5" cy="324.0" r="0.9"/><circle cx="423.3" cy="338.8" r="0.7"/><circle cx="361.8" cy="310.7" r="0.9"/><circle cx="365.9" cy="328.8" r="0.6"/><circle cx="363.8" cy="298.0" r="0.7"/><circle cx="360.3" cy="308.2" r="1.0"/><circle cx="358.2" cy="323.4" r="0.9"/><circle cx="424.9" cy="339.1" r="0.8"/><circle cx="387.1" cy="295.8" r="0.6"/><circle cx="387.7" cy="328.4" r="0.9"/><circle cx="422.7" cy="303.1" r="0.6"/><circle cx="366.6" cy="316.4" r="0.9"/><circle cx="389.1" cy="333.1" r="1.0"/><circle cx="358.4" cy="290.4" r="0.9"/><circle cx="381.1" cy="297.7" r="0.6"/><circle cx="411.6" cy="331.7" r="0.6"/><circle cx="432.6" cy="330.9" r="0.9"/><circle cx="406.9" cy="333.5" r="1.0"/><circle cx="397.1" cy="324.8" r="0.6"/><circle cx="430.6" cy="303.7" r="0.9"/><circle cx="384.3" cy="316.5" r="0.9"/><circle cx="417.3" cy="294.5" r="0.8"/><circle cx="398.2" cy="343.9" r="0.7"/><circle cx="377.6" cy="342.1" r="0.8"/><circle cx="418.7" cy="326.0" r="0.8"/><circle cx="414.3" cy="332.4" r="0.7"/><circle cx="398.9" cy="302.1" r="0.7"/><circle cx="370.2" cy="328.6" r="0.6"/><circle cx="432.7" cy="321.6" r="1.0"/><circle cx="368.2" cy="308.9" r="0.7"/><circle cx="385.9" cy="331.8" r="0.9"/><circle cx="402.5" cy="331.3" r="1.0"/><circle cx="416.1" cy="312.6" r="0.8"/><circle cx="425.4" cy="337.7" r="0.6"/><circle cx="370.0" cy="331.0" r="0.7"/><circle cx="405.6" cy="319.6" r="0.7"/><circle cx="388.0" cy="346.5" r="0.6"/><circle cx="359.4" cy="328.6" r="0.8"/><circle cx="372.8" cy="313.0" r="0.8"/><circle cx="378.2" cy="304.8" r="0.9"/><circle cx="403.6" cy="338.1" r="0.8"/><circle cx="404.3" cy="314.0" r="0.9"/><circle cx="417.9" cy="330.1" r="0.7"/><circle cx="363.8" cy="317.1" r="0.9"/><circle cx="374.2" cy="300.3" r="0.9"/><circle cx="378.8" cy="304.1" r="0.9"/><circle cx="429.0" cy="337.9" r="0.6"/><circle cx="403.5" cy="348.0" r="1.0"/><circle cx="358.3" cy="334.1" r="0.7"/><circle cx="388.1" cy="318.8" r="0.8"/><circle cx="401.1" cy="314.6" r="0.6"/><circle cx="373.4" cy="340.7" r="1.0"/><circle cx="387.2" cy="291.2" r="1.0"/><circle cx="397.3" cy="291.2" r="0.8"/><circle cx="404.3" cy="322.2" r="1.0"/><circle cx="412.5" cy="312.2" r="0.7"/><circle cx="359.6" cy="308.7" r="1.0"/><circle cx="409.6" cy="318.2" r="1.0"/><circle cx="397.8" cy="291.9" r="0.8"/><circle cx="370.2" cy="317.9" r="0.9"/><circle cx="357.5" cy="307.8" r="0.8"/><circle cx="386.3" cy="293.5" r="0.8"/><circle cx="408.0" cy="333.6" r="0.8"/><circle cx="395.8" cy="300.1" r="0.6"/><circle cx="384.9" cy="310.1" r="0.9"/><circle cx="369.6" cy="298.9" r="0.6"/><circle cx="361.3" cy="290.4" r="0.8"/><circle cx="426.1" cy="307.9" r="0.6"/><circle cx="371.3" cy="342.4" r="0.6"/><circle cx="425.6" cy="343.1" r="0.8"/><circle cx="396.9" cy="344.3" r="0.8"/><circle cx="383.0" cy="299.4" r="0.9"/><circle cx="415.9" cy="334.8" r="0.9"/><circle cx="393.6" cy="304.4" r="1.0"/><circle cx="397.4" cy="305.5" r="0.7"/><circle cx="426.2" cy="304.0" r="0.6"/><circle cx="414.5" cy="320.2" r="0.7"/><circle cx="420.6" cy="308.4" r="0.8"/><circle cx="375.6" cy="339.5" r="0.8"/><circle cx="378.3" cy="293.5" r="0.8"/><circle cx="433.2" cy="307.5" r="0.9"/><circle cx="424.0" cy="321.6" r="0.6"/><circle cx="385.1" cy="345.3" r="0.8"/><circle cx="428.1" cy="313.9" r="0.9"/><circle cx="388.7" cy="302.5" r="0.7"/><circle cx="360.9" cy="325.3" r="0.6"/><circle cx="369.6" cy="314.2" r="0.6"/><circle cx="395.7" cy="322.4" r="0.9"/><circle cx="422.5" cy="326.0" r="0.6"/><circle cx="405.3" cy="316.4" r="0.6"/><circle cx="398.8" cy="332.4" r="0.6"/><circle cx="419.1" cy="345.7" r="0.6"/><circle cx="362.9" cy="329.5" r="0.8"/><circle cx="391.2" cy="314.8" r="0.8"/><circle cx="425.5" cy="298.6" r="1.0"/><circle cx="406.0" cy="343.8" r="1.0"/><circle cx="387.5" cy="310.3" r="0.7"/><circle cx="384.9" cy="345.5" r="0.6"/><circle cx="425.7" cy="320.0" r="1.0"/><circle cx="368.5" cy="330.1" r="0.7"/><circle cx="370.5" cy="347.2" r="0.8"/><circle cx="418.0" cy="318.0" r="0.6"/><circle cx="375.1" cy="302.7" r="0.6"/><circle cx="420.4" cy="294.4" r="0.8"/><circle cx="428.7" cy="308.7" r="0.7"/><circle cx="430.1" cy="299.8" r="0.8"/><circle cx="367.7" cy="310.1" r="0.6"/><circle cx="416.8" cy="294.3" r="0.6"/><circle cx="399.2" cy="344.2" r="0.8"/><circle cx="406.3" cy="294.9" r="0.8"/><circle cx="384.4" cy="345.1" r="0.7"/><circle cx="424.4" cy="294.5" r="0.7"/><circle cx="414.0" cy="300.5" r="0.9"/><circle cx="374.9" cy="302.0" r="0.9"/><circle cx="373.1" cy="294.5" r="1.0"/><circle cx="421.7" cy="318.7" r="0.9"/><circle cx="393.3" cy="309.9" r="0.9"/><circle cx="404.5" cy="307.4" r="0.6"/><circle cx="358.0" cy="298.5" r="0.9"/><circle cx="393.0" cy="339.9" r="0.9"/><circle cx="419.4" cy="343.5" r="0.7"/><circle cx="363.1" cy="294.4" r="1.0"/><circle cx="378.6" cy="304.8" r="0.7"/><circle cx="432.2" cy="302.1" r="0.6"/><circle cx="396.1" cy="342.2" r="1.0"/><circle cx="391.9" cy="340.2" r="1.0"/><circle cx="389.1" cy="293.7" r="1.0"/><circle cx="392.2" cy="332.9" r="1.0"/><circle cx="389.4" cy="313.4" r="0.7"/><circle cx="398.8" cy="295.1" r="0.9"/><circle cx="402.2" cy="301.0" r="0.8"/><circle cx="430.8" cy="312.9" r="0.9"/><circle cx="425.3" cy="306.6" r="0.9"/><circle cx="358.8" cy="333.6" r="0.8"/><circle cx="371.7" cy="309.8" r="1.0"/><circle cx="405.0" cy="291.6" r="0.8"/><circle cx="400.7" cy="345.4" r="0.6"/><circle cx="423.3" cy="292.5" r="1.0"/><circle cx="392.5" cy="314.2" r="0.7"/><circle cx="408.1" cy="315.6" r="0.9"/><circle cx="389.6" cy="296.3" r="0.9"/><circle cx="395.3" cy="290.8" r="0.7"/><circle cx="367.7" cy="292.6" r="0.8"/><circle cx="418.1" cy="328.3" r="1.0"/><circle cx="396.5" cy="324.3" r="0.9"/><circle cx="430.5" cy="338.0" r="0.8"/><circle cx="385.0" cy="302.9" r="0.6"/><circle cx="428.3" cy="301.6" r="0.6"/><circle cx="389.7" cy="313.1" r="0.6"/><circle cx="410.9" cy="316.4" r="0.6"/><circle cx="397.4" cy="325.1" r="1.0"/><circle cx="432.9" cy="318.4" r="0.9"/><circle cx="360.0" cy="326.5" r="0.6"/><circle cx="404.7" cy="297.3" r="0.7"/><circle cx="403.6" cy="329.7" r="0.7"/><circle cx="364.4" cy="334.4" r="0.9"/><circle cx="415.4" cy="298.8" r="0.6"/><circle cx="369.9" cy="346.9" r="0.6"/><circle cx="397.8" cy="296.6" r="0.8"/><circle cx="362.2" cy="345.3" r="0.8"/><circle cx="360.4" cy="300.5" r="0.8"/><circle cx="419.5" cy="296.9" r="0.9"/><circle cx="383.0" cy="306.7" r="0.6"/><circle cx="361.4" cy="315.2" r="1.0"/><circle cx="422.0" cy="319.4" r="0.9"/><circle cx="382.2" cy="304.9" r="0.6"/><circle cx="405.4" cy="343.3" r="1.0"/><circle cx="376.7" cy="333.8" r="1.0"/><circle cx="405.7" cy="316.0" r="0.7"/><circle cx="427.9" cy="334.0" r="0.7"/><circle cx="373.2" cy="327.9" r="0.7"/><circle cx="395.3" cy="317.8" r="0.6"/><circle cx="405.6" cy="298.3" r="0.7"/><circle cx="408.6" cy="302.2" r="0.6"/><circle cx="406.0" cy="306.4" r="1.0"/><circle cx="373.3" cy="345.1" r="0.9"/><circle cx="404.7" cy="333.6" r="0.8"/><circle cx="402.9" cy="315.6" r="0.8"/><circle cx="428.3" cy="335.6" r="1.0"/><circle cx="429.8" cy="313.8" r="0.6"/><circle cx="389.1" cy="302.7" r="1.0"/><circle cx="412.0" cy="345.9" r="1.0"/><circle cx="409.0" cy="335.1" r="1.0"/><circle cx="401.2" cy="321.2" r="0.6"/><circle cx="432.8" cy="304.7" r="0.8"/><circle cx="413.1" cy="308.5" r="1.0"/><circle cx="417.8" cy="300.7" r="0.8"/><circle cx="362.5" cy="310.4" r="0.7"/><circle cx="371.1" cy="292.9" r="0.7"/><circle cx="420.9" cy="336.2" r="0.9"/><circle cx="419.1" cy="328.8" r="0.8"/><circle cx="419.8" cy="302.2" r="1.0"/><circle cx="369.3" cy="312.8" r="1.0"/><circle cx="362.7" cy="315.5" r="1.0"/><circle cx="419.8" cy="305.9" r="0.9"/><circle cx="412.8" cy="335.7" r="1.0"/><circle cx="364.7" cy="315.4" r="0.9"/><circle cx="397.2" cy="324.4" r="0.6"/><circle cx="399.1" cy="313.0" r="1.0"/><circle cx="360.0" cy="327.7" r="0.8"/><circle cx="361.3" cy="297.3" r="0.6"/><circle cx="375.6" cy="300.9" r="0.7"/><circle cx="428.8" cy="301.9" r="0.9"/><circle cx="390.7" cy="305.0" r="0.6"/><circle cx="426.8" cy="302.9" r="0.7"/><circle cx="388.6" cy="310.1" r="0.7"/><circle cx="398.7" cy="298.0" r="0.7"/><circle cx="410.6" cy="339.8" r="1.0"/><circle cx="429.1" cy="302.4" r="0.8"/><circle cx="361.5" cy="343.3" r="0.6"/><circle cx="410.6" cy="338.3" r="0.8"/><circle cx="415.4" cy="289.6" r="0.6"/><circle cx="406.2" cy="324.0" r="0.9"/><circle cx="372.5" cy="316.7" r="1.0"/><circle cx="406.9" cy="342.2" r="1.0"/><circle cx="424.6" cy="300.3" r="0.9"/><circle cx="422.6" cy="322.6" r="0.9"/><circle cx="410.7" cy="314.3" r="0.8"/><circle cx="404.6" cy="305.5" r="0.6"/><circle cx="373.6" cy="314.9" r="0.9"/><circle cx="410.2" cy="319.4" r="0.7"/><circle cx="390.3" cy="303.1" r="0.6"/><circle cx="385.6" cy="345.2" r="1.0"/><circle cx="404.3" cy="294.1" r="0.7"/><circle cx="403.1" cy="324.2" r="0.7"/><circle cx="413.8" cy="339.1" r="0.6"/><circle cx="410.6" cy="303.5" r="0.8"/><circle cx="382.2" cy="320.6" r="0.9"/><circle cx="432.4" cy="310.3" r="1.0"/><circle cx="431.1" cy="297.0" r="0.6"/><circle cx="388.6" cy="321.0" r="0.7"/><circle cx="423.4" cy="306.8" r="0.6"/><circle cx="411.1" cy="336.0" r="0.7"/><circle cx="389.7" cy="313.6" r="0.8"/><circle cx="408.0" cy="331.5" r="0.7"/><circle cx="362.3" cy="340.9" r="0.7"/><circle cx="372.4" cy="312.5" r="0.9"/><circle cx="369.9" cy="344.1" r="0.7"/><circle cx="379.7" cy="339.9" r="0.7"/><circle cx="365.1" cy="311.7" r="0.7"/><circle cx="392.9" cy="324.7" r="0.7"/><circle cx="418.3" cy="333.9" r="0.6"/><circle cx="363.7" cy="309.0" r="0.8"/><circle cx="415.3" cy="299.8" r="0.7"/><circle cx="404.3" cy="312.0" r="0.6"/><circle cx="373.5" cy="315.7" r="0.9"/><circle cx="428.0" cy="342.6" r="0.9"/><circle cx="360.7" cy="326.0" r="1.0"/><circle cx="394.7" cy="324.7" r="0.7"/><circle cx="431.9" cy="319.7" r="0.9"/><circle cx="391.1" cy="294.4" r="0.9"/><circle cx="391.8" cy="301.8" r="0.6"/><circle cx="419.8" cy="314.5" r="0.7"/><circle cx="357.1" cy="342.4" r="0.6"/><circle cx="401.5" cy="344.3" r="0.8"/><circle cx="363.4" cy="296.4" r="0.7"/><circle cx="405.6" cy="322.4" r="0.6"/><circle cx="401.8" cy="309.2" r="0.6"/><circle cx="369.0" cy="344.2" r="0.7"/><circle cx="381.6" cy="307.9" r="1.0"/><circle cx="370.3" cy="303.1" r="0.8"/><circle cx="393.4" cy="317.8" r="0.9"/><circle cx="384.6" cy="327.7" r="0.8"/><circle cx="429.2" cy="301.9" r="0.9"/><circle cx="416.4" cy="325.0" r="0.9"/><circle cx="394.4" cy="332.0" r="0.6"/><circle cx="386.2" cy="331.6" r="0.6"/><circle cx="417.8" cy="304.6" r="0.6"/><circle cx="407.1" cy="292.7" r="1.0"/><circle cx="360.2" cy="296.9" r="0.6"/><circle cx="375.4" cy="292.4" r="1.0"/><circle cx="397.3" cy="315.5" r="0.6"/><circle cx="417.7" cy="329.7" r="0.9"/><circle cx="384.2" cy="296.4" r="1.0"/><circle cx="364.9" cy="299.9" r="1.0"/><circle cx="379.9" cy="316.9" r="0.6"/><circle cx="416.5" cy="306.8" r="0.9"/><circle cx="419.9" cy="292.9" r="0.6"/><circle cx="392.9" cy="341.2" r="0.8"/><circle cx="404.5" cy="295.5" r="0.8"/><circle cx="385.6" cy="301.5" r="0.6"/><circle cx="390.5" cy="296.4" r="1.0"/><circle cx="370.5" cy="307.4" r="0.8"/><circle cx="363.7" cy="312.3" r="0.6"/><circle cx="424.8" cy="294.3" r="1.0"/><circle cx="375.9" cy="295.9" r="0.8"/><circle cx="432.3" cy="320.5" r="1.0"/><circle cx="370.5" cy="343.4" r="1.0"/><circle cx="369.9" cy="338.8" r="0.6"/><circle cx="430.5" cy="345.8" r="1.0"/><circle cx="362.2" cy="292.9" r="0.7"/><circle cx="382.5" cy="333.8" r="0.6"/><circle cx="388.5" cy="321.2" r="1.0"/><circle cx="412.8" cy="344.2" r="0.7"/><circle cx="375.3" cy="292.1" r="0.7"/><circle cx="409.6" cy="325.0" r="1.0"/><circle cx="401.0" cy="320.5" r="0.9"/><circle cx="389.8" cy="328.7" r="0.9"/><circle cx="373.3" cy="318.4" r="0.9"/><circle cx="394.7" cy="292.1" r="0.7"/><circle cx="424.5" cy="321.4" r="0.7"/><circle cx="389.4" cy="318.7" r="0.9"/><circle cx="385.2" cy="334.3" r="0.8"/><circle cx="397.8" cy="299.1" r="0.7"/><circle cx="414.4" cy="335.1" r="0.8"/><circle cx="394.0" cy="302.4" r="0.9"/><circle cx="385.6" cy="322.8" r="1.0"/><circle cx="428.4" cy="296.8" r="0.9"/><circle cx="423.8" cy="295.0" r="1.0"/><circle cx="397.1" cy="336.8" r="0.8"/><circle cx="396.0" cy="320.1" r="1.0"/><circle cx="404.5" cy="307.3" r="0.6"/><circle cx="392.4" cy="296.2" r="0.8"/></g>
<g fill="#e06040" filter="url(#bl27)"><ellipse cx="398.8" cy="313.0" rx="1.8" ry="1" transform="rotate(40 398.8 313.0)"/><ellipse cx="385.6" cy="318.9" rx="1.2" ry="0.8" transform="rotate(40 385.6 318.9)"/><ellipse cx="373.2" cy="337.6" rx="1.5" ry="0.8" transform="rotate(60 373.2 337.6)"/><ellipse cx="365.5" cy="321.8" rx="1.2" ry="0.8" transform="rotate(40 365.5 321.8)"/><ellipse cx="414.2" cy="295.5" rx="1" ry="0.7" transform="rotate(50 414.2 295.5)"/></g>
<g fill="#d8c8e8" filter="url(#bl41)"><ellipse cx="398.8" cy="313.0" rx="1.2" ry="1" transform="rotate(0 398.8 313.0)"/></g>
<line x1="419.182" y1="343.6" x2="428.182" y2="343.6" stroke="#fff" stroke-width="1.6"/>
</g>
<g clip-path="url(#c18)">
<rect x="356.2" y="349.6" width="77.40000000000003" height="58.0" fill="#000" />
<g fill="#0f4c0f" filter="url(#bl35)"><polygon points="394.9,362.4 401.1,350.8 433.6,349.6 433.6,407.6 401.1,407.6 396.4,394.8 393.4,378.6"/><polygon points="356.2,350.8 371.7,351.9 376.3,361.2 367,362.4 356.2,358.3"/><polygon points="356.2,367.0 367,365.8 379.4,379.8 373.2,385.6 356.2,377.4"/><polygon points="377.9,399.5 393.4,396.0 398.8,407.6 381,407.6"/><polygon points="385.6,381.5 396.4,382.1 394.9,389.0 385.6,387.9"/><polygon points="356.2,390.2 365.5,391.4 370.1,401.8 360.1,403.0"/></g>
<g fill="#2a922a" filter="url(#ti38)"><polygon points="394.9,362.4 401.1,350.8 433.6,349.6 433.6,407.6 401.1,407.6 396.4,394.8 393.4,378.6"/><polygon points="356.2,350.8 371.7,351.9 376.3,361.2 367,362.4 356.2,358.3"/><polygon points="356.2,367.0 367,365.8 379.4,379.8 373.2,385.6 356.2,377.4"/><polygon points="377.9,399.5 393.4,396.0 398.8,407.6 381,407.6"/><polygon points="385.6,381.5 396.4,382.1 394.9,389.0 385.6,387.9"/><polygon points="356.2,390.2 365.5,391.4 370.1,401.8 360.1,403.0"/></g>
<rect x="356.2" y="349.6" width="77.40" height="58.00" fill="#000" filter="url(#vn39)" opacity="0.6"/>
<g fill="#e4e4e4" opacity="0.85"><circle cx="405.7" cy="351.1" r="0.8"/><circle cx="375.2" cy="357.7" r="0.6"/><circle cx="408.6" cy="401.3" r="0.6"/><circle cx="401.9" cy="351.4" r="0.6"/><circle cx="373.1" cy="378.9" r="0.6"/><circle cx="399.6" cy="391.1" r="1.0"/><circle cx="388.7" cy="375.7" r="0.8"/><circle cx="418.8" cy="350.0" r="0.7"/><circle cx="410.2" cy="369.3" r="0.7"/><circle cx="372.9" cy="393.9" r="0.6"/><circle cx="363.4" cy="355.2" r="0.8"/><circle cx="402.9" cy="396.4" r="0.9"/><circle cx="397.7" cy="406.0" r="0.9"/><circle cx="362.3" cy="366.6" r="1.0"/><circle cx="424.7" cy="370.6" r="0.7"/><circle cx="410.7" cy="352.3" r="0.7"/><circle cx="416.0" cy="406.7" r="0.7"/><circle cx="423.3" cy="371.6" r="0.9"/><circle cx="405.4" cy="370.8" r="0.8"/><circle cx="383.7" cy="388.5" r="0.6"/><circle cx="403.3" cy="359.5" r="0.7"/><circle cx="368.8" cy="371.6" r="1.0"/><circle cx="373.2" cy="368.4" r="0.6"/><circle cx="373.9" cy="351.5" r="0.8"/><circle cx="387.3" cy="353.4" r="1.0"/><circle cx="424.0" cy="367.9" r="0.9"/><circle cx="386.8" cy="402.6" r="0.9"/><circle cx="367.3" cy="357.7" r="1.0"/><circle cx="397.9" cy="392.9" r="0.9"/><circle cx="425.7" cy="372.8" r="0.7"/><circle cx="433.4" cy="357.6" r="0.9"/><circle cx="363.2" cy="352.3" r="0.6"/><circle cx="368.0" cy="358.9" r="0.9"/><circle cx="402.4" cy="371.9" r="1.0"/><circle cx="433.3" cy="380.3" r="1.0"/><circle cx="422.8" cy="350.3" r="0.6"/><circle cx="409.0" cy="380.7" r="0.8"/><circle cx="415.7" cy="369.3" r="0.8"/><circle cx="389.9" cy="375.9" r="0.8"/><circle cx="431.4" cy="393.8" r="1.0"/><circle cx="426.8" cy="400.1" r="0.8"/><circle cx="421.3" cy="379.0" r="0.7"/><circle cx="368.0" cy="393.8" r="1.0"/><circle cx="430.0" cy="403.1" r="0.6"/><circle cx="402.6" cy="377.9" r="0.6"/><circle cx="428.1" cy="400.6" r="0.8"/><circle cx="374.7" cy="363.6" r="1.0"/><circle cx="429.5" cy="354.6" r="0.9"/><circle cx="419.4" cy="406.3" r="1.0"/><circle cx="415.5" cy="357.0" r="0.9"/><circle cx="429.5" cy="359.2" r="1.0"/><circle cx="423.7" cy="374.1" r="0.7"/><circle cx="428.1" cy="393.4" r="0.7"/><circle cx="411.4" cy="372.7" r="0.8"/><circle cx="390.1" cy="379.6" r="0.6"/><circle cx="375.4" cy="353.3" r="0.6"/><circle cx="401.7" cy="362.9" r="0.7"/><circle cx="356.8" cy="390.7" r="0.6"/><circle cx="373.9" cy="402.1" r="0.8"/><circle cx="361.7" cy="363.4" r="0.9"/><circle cx="372.8" cy="357.3" r="1.0"/><circle cx="400.8" cy="363.7" r="0.9"/><circle cx="418.7" cy="360.6" r="0.6"/><circle cx="407.2" cy="370.1" r="0.9"/><circle cx="392.3" cy="391.9" r="0.6"/><circle cx="360.9" cy="391.8" r="0.6"/><circle cx="375.4" cy="360.6" r="0.9"/><circle cx="367.1" cy="360.2" r="0.9"/><circle cx="375.5" cy="403.1" r="0.9"/><circle cx="418.7" cy="399.2" r="0.6"/><circle cx="360.1" cy="407.6" r="0.6"/><circle cx="431.2" cy="403.3" r="0.7"/><circle cx="369.1" cy="377.8" r="0.7"/><circle cx="423.1" cy="401.9" r="0.7"/><circle cx="385.5" cy="406.7" r="0.8"/><circle cx="427.9" cy="395.1" r="0.8"/><circle cx="388.9" cy="405.1" r="1.0"/><circle cx="407.4" cy="377.8" r="0.7"/><circle cx="379.2" cy="405.8" r="1.0"/><circle cx="413.1" cy="353.1" r="0.8"/><circle cx="360.6" cy="383.5" r="1.0"/><circle cx="427.4" cy="380.4" r="0.6"/><circle cx="430.6" cy="354.2" r="0.7"/><circle cx="361.5" cy="353.5" r="0.7"/><circle cx="387.5" cy="404.2" r="1.0"/><circle cx="375.3" cy="384.1" r="1.0"/><circle cx="362.5" cy="387.7" r="1.0"/><circle cx="396.7" cy="403.8" r="0.7"/><circle cx="408.0" cy="367.8" r="0.8"/><circle cx="386.8" cy="388.6" r="0.8"/><circle cx="391.6" cy="403.5" r="0.6"/><circle cx="356.9" cy="385.6" r="1.0"/><circle cx="433.3" cy="353.8" r="0.7"/><circle cx="395.4" cy="357.3" r="0.8"/><circle cx="424.4" cy="400.6" r="0.8"/><circle cx="378.3" cy="375.0" r="1.0"/><circle cx="410.7" cy="385.1" r="1.0"/><circle cx="356.8" cy="397.0" r="0.8"/><circle cx="428.3" cy="355.6" r="0.7"/><circle cx="376.7" cy="401.2" r="1.0"/><circle cx="368.2" cy="365.9" r="0.7"/><circle cx="411.7" cy="361.4" r="0.8"/><circle cx="395.3" cy="364.2" r="0.6"/><circle cx="363.3" cy="374.2" r="0.8"/><circle cx="359.6" cy="368.9" r="0.7"/><circle cx="405.5" cy="364.8" r="0.9"/><circle cx="398.9" cy="374.4" r="0.6"/><circle cx="364.9" cy="404.4" r="0.7"/><circle cx="398.4" cy="398.0" r="1.0"/><circle cx="399.0" cy="374.5" r="0.6"/><circle cx="380.1" cy="401.7" r="0.6"/><circle cx="425.8" cy="361.8" r="0.7"/><circle cx="407.8" cy="370.1" r="1.0"/><circle cx="424.6" cy="373.2" r="1.0"/><circle cx="414.2" cy="403.3" r="0.7"/><circle cx="423.1" cy="406.2" r="0.7"/><circle cx="424.4" cy="351.0" r="0.8"/><circle cx="416.8" cy="373.5" r="0.7"/><circle cx="376.9" cy="395.3" r="0.6"/><circle cx="385.8" cy="351.8" r="0.9"/><circle cx="373.4" cy="397.0" r="0.9"/><circle cx="383.3" cy="397.2" r="0.7"/><circle cx="373.5" cy="387.9" r="0.9"/><circle cx="381.6" cy="399.7" r="0.8"/><circle cx="383.4" cy="379.1" r="1.0"/><circle cx="381.8" cy="351.2" r="0.8"/><circle cx="370.0" cy="405.4" r="0.8"/><circle cx="359.2" cy="384.2" r="0.8"/><circle cx="412.6" cy="367.8" r="1.0"/><circle cx="432.4" cy="356.3" r="1.0"/><circle cx="370.9" cy="352.2" r="0.9"/><circle cx="356.3" cy="403.3" r="1.0"/><circle cx="409.4" cy="404.1" r="0.7"/><circle cx="384.4" cy="353.7" r="0.8"/><circle cx="404.4" cy="388.1" r="0.6"/><circle cx="411.9" cy="367.0" r="0.8"/><circle cx="407.8" cy="368.5" r="0.8"/><circle cx="399.1" cy="360.7" r="0.9"/><circle cx="408.6" cy="402.0" r="1.0"/><circle cx="400.2" cy="373.2" r="0.6"/><circle cx="379.7" cy="361.8" r="1.0"/><circle cx="403.2" cy="368.3" r="0.9"/><circle cx="390.4" cy="362.0" r="0.9"/><circle cx="417.6" cy="405.3" r="0.7"/><circle cx="407.2" cy="366.1" r="1.0"/><circle cx="382.1" cy="397.1" r="0.7"/><circle cx="408.3" cy="362.6" r="0.7"/><circle cx="367.6" cy="352.3" r="0.9"/><circle cx="403.5" cy="394.2" r="0.9"/><circle cx="388.3" cy="386.1" r="0.7"/><circle cx="411.8" cy="371.9" r="0.9"/><circle cx="375.1" cy="387.7" r="0.6"/><circle cx="425.3" cy="399.5" r="0.6"/><circle cx="416.4" cy="362.3" r="1.0"/><circle cx="392.2" cy="381.9" r="0.6"/><circle cx="391.5" cy="396.1" r="1.0"/><circle cx="432.7" cy="384.1" r="0.9"/><circle cx="403.6" cy="391.3" r="1.0"/><circle cx="389.2" cy="402.2" r="0.9"/><circle cx="425.6" cy="392.7" r="0.9"/><circle cx="391.0" cy="393.2" r="0.8"/><circle cx="415.5" cy="379.8" r="0.7"/><circle cx="377.5" cy="354.1" r="0.8"/><circle cx="374.3" cy="369.1" r="1.0"/><circle cx="362.4" cy="358.3" r="0.9"/><circle cx="409.9" cy="390.6" r="0.6"/><circle cx="388.3" cy="368.8" r="0.9"/><circle cx="388.4" cy="361.6" r="0.9"/><circle cx="386.3" cy="394.2" r="0.6"/><circle cx="422.5" cy="394.0" r="0.9"/><circle cx="393.1" cy="404.3" r="0.8"/><circle cx="414.5" cy="399.1" r="0.9"/><circle cx="397.9" cy="392.2" r="1.0"/><circle cx="425.7" cy="377.9" r="0.8"/><circle cx="389.9" cy="351.3" r="0.8"/><circle cx="408.0" cy="395.9" r="0.7"/><circle cx="421.3" cy="402.9" r="1.0"/><circle cx="397.5" cy="402.2" r="1.0"/><circle cx="399.9" cy="351.2" r="0.9"/><circle cx="366.7" cy="376.4" r="0.6"/><circle cx="376.3" cy="368.6" r="0.9"/><circle cx="381.5" cy="393.8" r="0.9"/><circle cx="377.7" cy="404.8" r="0.9"/><circle cx="375.7" cy="354.4" r="0.6"/><circle cx="414.2" cy="352.6" r="0.8"/><circle cx="373.6" cy="353.6" r="0.6"/><circle cx="414.6" cy="404.7" r="0.7"/><circle cx="421.2" cy="385.6" r="0.7"/><circle cx="366.0" cy="388.4" r="1.0"/><circle cx="429.6" cy="376.6" r="0.8"/><circle cx="415.6" cy="359.3" r="1.0"/><circle cx="430.8" cy="391.3" r="0.7"/><circle cx="430.9" cy="355.9" r="0.6"/><circle cx="428.1" cy="383.0" r="0.9"/><circle cx="386.9" cy="391.1" r="0.6"/><circle cx="402.0" cy="397.8" r="0.7"/><circle cx="364.1" cy="394.4" r="1.0"/><circle cx="418.5" cy="395.8" r="1.0"/><circle cx="416.8" cy="369.7" r="0.9"/><circle cx="407.4" cy="353.6" r="0.8"/><circle cx="357.2" cy="374.0" r="0.9"/><circle cx="364.4" cy="405.3" r="0.9"/><circle cx="410.9" cy="374.9" r="1.0"/><circle cx="430.9" cy="365.3" r="1.0"/><circle cx="416.2" cy="376.6" r="1.0"/><circle cx="377.0" cy="399.0" r="0.6"/><circle cx="377.8" cy="375.7" r="0.9"/><circle cx="400.3" cy="388.4" r="0.8"/><circle cx="358.4" cy="399.0" r="0.7"/><circle cx="393.9" cy="370.2" r="0.8"/><circle cx="382.5" cy="400.7" r="0.8"/><circle cx="399.2" cy="379.6" r="0.7"/><circle cx="362.8" cy="391.4" r="0.9"/><circle cx="399.2" cy="363.5" r="0.9"/><circle cx="406.2" cy="378.1" r="0.6"/><circle cx="363.4" cy="362.5" r="0.7"/><circle cx="379.9" cy="383.3" r="0.9"/><circle cx="399.0" cy="369.5" r="1.0"/><circle cx="381.8" cy="390.4" r="0.8"/><circle cx="379.9" cy="363.0" r="0.7"/><circle cx="380.6" cy="392.7" r="0.7"/><circle cx="371.0" cy="392.4" r="0.8"/><circle cx="412.3" cy="406.2" r="1.0"/><circle cx="402.4" cy="406.5" r="0.7"/><circle cx="379.1" cy="370.5" r="0.8"/><circle cx="357.3" cy="380.6" r="0.8"/><circle cx="359.7" cy="352.8" r="0.8"/><circle cx="410.2" cy="356.9" r="0.9"/><circle cx="364.1" cy="350.3" r="0.8"/><circle cx="392.5" cy="375.1" r="0.7"/><circle cx="430.9" cy="364.2" r="0.9"/><circle cx="365.0" cy="353.4" r="0.9"/><circle cx="361.9" cy="386.1" r="0.6"/><circle cx="367.9" cy="396.6" r="0.8"/><circle cx="362.8" cy="364.0" r="1.0"/><circle cx="415.4" cy="384.8" r="1.0"/><circle cx="373.7" cy="379.9" r="0.9"/><circle cx="426.5" cy="366.8" r="1.0"/><circle cx="432.8" cy="367.3" r="1.0"/><circle cx="360.9" cy="405.3" r="0.6"/><circle cx="429.5" cy="361.7" r="0.7"/><circle cx="376.7" cy="354.3" r="0.7"/><circle cx="369.7" cy="354.0" r="0.6"/><circle cx="387.8" cy="389.6" r="0.9"/><circle cx="378.7" cy="363.0" r="0.8"/><circle cx="410.6" cy="375.9" r="0.7"/><circle cx="427.7" cy="395.3" r="1.0"/><circle cx="407.4" cy="403.8" r="0.9"/><circle cx="365.1" cy="362.6" r="0.7"/><circle cx="426.5" cy="397.5" r="0.6"/><circle cx="360.8" cy="395.6" r="1.0"/><circle cx="414.2" cy="382.6" r="0.8"/><circle cx="390.2" cy="376.8" r="0.8"/><circle cx="410.4" cy="404.3" r="1.0"/><circle cx="398.0" cy="375.0" r="1.0"/><circle cx="359.3" cy="374.7" r="0.8"/><circle cx="402.9" cy="351.1" r="0.7"/><circle cx="430.7" cy="398.1" r="1.0"/><circle cx="401.6" cy="350.8" r="0.8"/><circle cx="400.8" cy="393.9" r="0.7"/><circle cx="392.6" cy="387.4" r="0.8"/><circle cx="370.2" cy="383.5" r="0.9"/><circle cx="431.2" cy="376.9" r="0.9"/><circle cx="382.0" cy="388.5" r="0.7"/><circle cx="381.7" cy="389.8" r="0.8"/><circle cx="407.5" cy="372.8" r="1.0"/><circle cx="359.0" cy="354.7" r="0.8"/><circle cx="381.2" cy="405.9" r="0.9"/><circle cx="423.1" cy="397.4" r="0.6"/><circle cx="407.1" cy="381.1" r="0.9"/><circle cx="360.4" cy="379.7" r="1.0"/><circle cx="414.7" cy="385.9" r="0.6"/><circle cx="372.0" cy="381.5" r="0.8"/><circle cx="390.1" cy="390.1" r="0.6"/><circle cx="358.4" cy="386.1" r="0.7"/><circle cx="411.1" cy="367.6" r="0.6"/><circle cx="398.9" cy="355.0" r="0.6"/><circle cx="391.9" cy="356.4" r="0.7"/><circle cx="394.8" cy="391.2" r="1.0"/><circle cx="410.8" cy="373.7" r="0.9"/><circle cx="432.1" cy="363.7" r="1.0"/><circle cx="367.4" cy="360.7" r="1.0"/><circle cx="395.5" cy="400.6" r="0.6"/><circle cx="377.6" cy="395.4" r="0.9"/><circle cx="382.5" cy="395.3" r="0.8"/><circle cx="419.7" cy="366.0" r="0.8"/><circle cx="421.0" cy="383.2" r="0.9"/><circle cx="423.2" cy="375.5" r="0.9"/><circle cx="382.9" cy="381.6" r="1.0"/><circle cx="385.4" cy="403.7" r="0.7"/><circle cx="432.1" cy="363.5" r="0.9"/><circle cx="374.3" cy="394.6" r="0.6"/><circle cx="380.8" cy="377.0" r="0.9"/><circle cx="386.1" cy="388.1" r="0.7"/><circle cx="394.5" cy="351.7" r="1.0"/><circle cx="430.9" cy="368.9" r="0.6"/><circle cx="423.9" cy="375.1" r="1.0"/><circle cx="426.7" cy="350.5" r="0.7"/><circle cx="387.9" cy="387.6" r="0.7"/><circle cx="362.0" cy="394.9" r="0.8"/><circle cx="382.4" cy="389.8" r="0.6"/><circle cx="422.1" cy="399.0" r="1.0"/><circle cx="385.6" cy="368.0" r="0.9"/><circle cx="423.7" cy="351.7" r="0.6"/><circle cx="374.4" cy="389.3" r="0.8"/><circle cx="433.4" cy="392.9" r="0.9"/><circle cx="431.9" cy="393.7" r="0.6"/><circle cx="390.5" cy="389.9" r="0.6"/><circle cx="359.8" cy="395.8" r="0.8"/><circle cx="383.9" cy="374.6" r="0.7"/><circle cx="397.3" cy="382.4" r="0.7"/><circle cx="369.4" cy="354.2" r="0.9"/><circle cx="404.2" cy="363.6" r="1.0"/><circle cx="367.3" cy="376.3" r="0.8"/><circle cx="391.8" cy="388.3" r="0.9"/><circle cx="426.0" cy="388.9" r="0.7"/><circle cx="361.9" cy="404.4" r="1.0"/><circle cx="379.4" cy="405.4" r="0.8"/><circle cx="391.6" cy="367.1" r="0.9"/><circle cx="422.2" cy="355.8" r="0.9"/></g>
<g fill="#e06040" filter="url(#bl27)"><ellipse cx="391.0" cy="387.3" rx="3" ry="1.4" transform="rotate(20 391.0 387.3)"/><ellipse cx="379.4" cy="384.4" rx="2" ry="1" transform="rotate(30 379.4 384.4)"/><ellipse cx="402.6" cy="390.2" rx="1.5" ry="1" transform="rotate(40 402.6 390.2)"/><ellipse cx="367.8" cy="367.0" rx="1.2" ry="0.8" transform="rotate(40 367.8 367.0)"/><ellipse cx="419.7" cy="375.7" rx="1.2" ry="0.7" transform="rotate(50 419.7 375.7)"/><ellipse cx="425.9" cy="398.9" rx="1.2" ry="0.8" transform="rotate(40 425.9 398.9)"/><ellipse cx="410.4" cy="361.2" rx="1" ry="0.7" transform="rotate(40 410.4 361.2)"/></g>
<g fill="#d8c8e8" filter="url(#bl41)"><ellipse cx="388.7" cy="386.7" rx="5" ry="2.2" transform="rotate(20 388.7 386.7)"/></g>
<line x1="419.182" y1="403.1" x2="428.182" y2="403.1" stroke="#fff" stroke-width="1.6"/>
</g>
<rect x="450" y="290" width="234" height="117" fill="#e8e8e8" />
<g clip-path="url(#c19)">
<rect x="450" y="290" width="76.20000000000005" height="57.80000000000001" fill="#0b3c13" />
<g fill="#32a236" filter="url(#ti43)"><polygon points="450,290.0 526.2,290.0 526.2,347.8 450,347.8"/></g>
<rect x="450" y="290" width="76.20" height="57.80" fill="#000" filter="url(#vn44)" opacity="0.4"/>
<g fill="#000" opacity="1" filter="url(#bl45)"><polygon points="476.7,290.0 487.3,290.0 491.1,301.6 498.8,314.3 497.2,320.1 488.1,313.1 481.2,301.6"/><polygon points="457.6,330.5 472.9,330.5 491.9,335.1 503.3,333.9 515.5,338.0 526.2,340.9 526.2,347.8 511,347.2 491.9,343.8 472.9,339.7 457.6,338.0"/><polygon points="503.3,318.9 518.6,320.6 526.2,325.8 526.2,336.2 514,331.6"/><polygon points="502.6,290.0 511.7,290.0 518.6,300.4 526.2,302.7 526.2,310.8 514,307.3 506.4,298.7"/><polygon points="450,317.7 457.6,320.6 459.9,330.5 450,330.5"/><polygon points="459.1,290.0 468.3,290.0 465.2,294.6 459.1,293.5"/></g>
<rect x="450" y="290" width="76.20" height="57.80" fill="#000" filter="url(#sp46)" opacity="0.6"/>
<g fill="#2a98b8" filter="url(#bl47)"><ellipse cx="469.1" cy="339.7" rx="3" ry="2.5" transform="rotate(0 469.1 339.7)"/></g>
</g>
<g clip-path="url(#c20)">
<rect x="450" y="349.5" width="76.20000000000005" height="57.30000000000001" fill="#0b3c13" />
<g fill="#32a236" filter="url(#ti48)"><polygon points="450,349.5 526.2,349.5 526.2,406.8 450,406.8"/></g>
<rect x="450" y="349.5" width="76.20" height="57.30" fill="#000" filter="url(#vn49)" opacity="0.4"/>
<g fill="none" stroke="#000" stroke-linecap="round" stroke-linejoin="round" filter="url(#bl45)"><polyline points="450,365.5 472.9,356.4 495.7,349.5" stroke-width="4"/><polyline points="450,378.1 484.3,363.3 514.8,351.8" stroke-width="4.5"/><polyline points="453.8,390.8 480.5,379.9 526.2,370.1" stroke-width="6"/><polyline points="479,395.3 503.3,385.6 527.7,376.4" stroke-width="8"/><polyline points="450,403.9 488.1,398.2" stroke-width="4"/><polyline points="466.8,407.9 503.3,399.4 522.4,395.3" stroke-width="4"/></g>
<rect x="450" y="349.5" width="76.20" height="57.30" fill="#000" filter="url(#sp50)" opacity="0.6"/>
</g>
<g clip-path="url(#c21)">
<rect x="528" y="290" width="76.39999999999998" height="57.80000000000001" fill="#020314" />
<rect x="528" y="290" width="76.40" height="57.80" fill="#000" filter="url(#sp51)" opacity="0.3"/>
<rect x="528" y="290" width="76.40" height="57.80" fill="#000" filter="url(#sp52)" opacity="0.7"/>
<g fill="#e03060" filter="url(#bl53)"><ellipse cx="570.0" cy="321.8" rx="1" ry="1" transform="rotate(0 570.0 321.8)"/></g>
<g fill="#2030c0" filter="url(#bl47)"><ellipse cx="531.8" cy="339.1" rx="3" ry="3" transform="rotate(0 531.8 339.1)"/></g>
</g>
<g clip-path="url(#c22)">
<rect x="528" y="349.5" width="76.39999999999998" height="57.30000000000001" fill="#020314" />
<rect x="528" y="349.5" width="76.40" height="57.30" fill="#000" filter="url(#sp54)" opacity="0.3"/>
<rect x="528" y="349.5" width="76.40" height="57.30" fill="#000" filter="url(#sp55)" opacity="0.7"/>
<g fill="#e03060" filter="url(#bl53)"><ellipse cx="558.6" cy="381.0" rx="1.5" ry="1" transform="rotate(0 558.6 381.0)"/></g>
</g>
<g clip-path="url(#c23)">
<rect x="606.6" y="290" width="77.39999999999998" height="57.80000000000001" fill="#0b3c13" />
<g fill="#32a236" filter="url(#ti43)"><polygon points="606.6,290.0 684,290.0 684,347.8 606.6,347.8"/></g>
<rect x="606.6" y="290" width="77.40" height="57.80" fill="#000" filter="url(#vn44)" opacity="0.4"/>
<g fill="#000" opacity="1" filter="url(#bl45)"><polygon points="633.7,290.0 644.5,290.0 648.4,301.6 656.1,314.3 654.6,320.1 645.3,313.1 638.3,301.6"/><polygon points="614.3,330.5 629.8,330.5 649.2,335.1 660.8,333.9 673.2,338.0 684,340.9 684,347.8 668.5,347.2 649.2,343.8 629.8,339.7 614.3,338.0"/><polygon points="660.8,318.9 676.3,320.6 684,325.8 684,336.2 671.6,331.6"/><polygon points="660,290.0 669.3,290.0 676.3,300.4 684,302.7 684,310.8 671.6,307.3 663.9,298.7"/><polygon points="606.6,317.7 614.3,320.6 616.7,330.5 606.6,330.5"/><polygon points="615.9,290.0 625.2,290.0 622.1,294.6 615.9,293.5"/></g>
<rect x="606.6" y="290" width="77.40" height="57.80" fill="#000" filter="url(#sp46)" opacity="0.6"/>
<g fill="#2a98b8" filter="url(#bl47)"><ellipse cx="626.0" cy="339.7" rx="3" ry="2.5" transform="rotate(0 626.0 339.7)"/></g>
<line x1="671.517" y1="344.3" x2="680.517" y2="344.3" stroke="#fff" stroke-width="1.6"/>
</g>
<g clip-path="url(#c24)">
<rect x="606.6" y="349.5" width="77.39999999999998" height="57.30000000000001" fill="#0b3c13" />
<g fill="#32a236" filter="url(#ti48)"><polygon points="606.6,349.5 684,349.5 684,406.8 606.6,406.8"/></g>
<rect x="606.6" y="349.5" width="77.40" height="57.30" fill="#000" filter="url(#vn49)" opacity="0.4"/>
<g fill="none" stroke="#000" stroke-linecap="round" stroke-linejoin="round" filter="url(#bl45)"><polyline points="606.6,365.5 629.8,356.4 653,349.5" stroke-width="4"/><polyline points="606.6,378.1 641.4,363.3 672.4,351.8" stroke-width="4.5"/><polyline points="610.5,390.8 637.6,379.9 684,370.1" stroke-width="6"/><polyline points="636,395.3 660.8,385.6 685.5,376.4" stroke-width="8"/><polyline points="606.6,403.9 645.3,398.2" stroke-width="4"/><polyline points="623.6,407.9 660.8,399.4 680.1,395.3" stroke-width="4"/></g>
<rect x="606.6" y="349.5" width="77.40" height="57.30" fill="#000" filter="url(#sp50)" opacity="0.6"/>
<line x1="671.517" y1="403.3" x2="680.517" y2="403.3" stroke="#fff" stroke-width="1.6"/>
</g>
<rect x="21" y="435.6" width="207" height="207" fill="#ffffff" />
<g clip-path="url(#c25)">
<rect x="21" y="435.6" width="103" height="102.79999999999995" fill="#0a0a22" />
<rect x="-4.8" y="409.8" width="154.5" height="154.5" fill="#000" filter="url(#as56)" opacity="0.9" transform="rotate(-74 72.5 487.0)"/>
<g fill="none" stroke="#c8c8dc" stroke-linecap="round" stroke-linejoin="round" filter="url(#bl57)"><polyline points="60.2,534.1 60.2,531.1 59,527.8 58.2,525.2 59.3,522.3 59.8,519.2 60.3,516.0 60.4,513.3 60.4,509.9" stroke-width="0.55"/><polyline points="41.3,495.5 39.8,492.6 41.5,489.9 42.2,486.9 43.8,484.5 42.9,481.9 41.4,478.9 42.8,476.8 44.8,474.6 47,472.6 48.1,469.6 48.6,466.9" stroke-width="0.55"/><polyline points="47.1,489.1 49.8,487.4 52.3,485.5 53.4,482.1 53.6,479.4 56,477.5 56.7,474.8 57.1,472.2 57.5,469.2 57.3,466.3 57.9,463.2 58.8,460.3 59.9,457.9" stroke-width="0.55"/><polyline points="105.4,533.1 105.1,530.5 107.2,528.5 106.2,526.1 109,524.1 111.1,521.6 113,519.0 112.5,515.7 112,512.7 111.9,510.1 111.4,507.1 113.9,505.5 115.9,502.8 118.1,501.4" stroke-width="0.55"/><polyline points="125.1,527.6 126.2,524.9 127.8,522.8 129.6,519.8 131.5,518.2 133.4,516.1 135.4,513.7 135.1,510.3 137,508.2" stroke-width="0.55"/><polyline points="111.8,476.5 114.3,474.5 117.1,472.5 118.6,469.5 120.9,467.8 122.4,465.7 124,462.8 125.8,460.4 128.1,458.7 128,456.2" stroke-width="0.55"/><polyline points="108,433.0 107,429.7 107,426.8 108.7,424.8 110.7,421.9 109.6,419.0 109.8,415.5 110.4,413.1 109.6,410.4" stroke-width="0.55"/><polyline points="89.9,541.2 89.5,538.3 89.4,535.4 91.8,533.8 91.1,531.3 92.1,529.0 93.9,527.0 96.9,525.2 96.6,522.1 98.6,520.5 101.2,519.1 101.7,516.5 102.9,513.7 102.9,511.2 104.4,508.1" stroke-width="0.55"/><polyline points="85.7,463.3 85.2,460.4 86.7,457.3 88.1,454.5 90,451.6 92.3,449.8 91.8,446.9 94.3,444.5 95.8,442.4" stroke-width="0.55"/><polyline points="94.6,456.5 97.2,454.2 98.2,451.4 97.3,449.1 97.2,445.7 97.5,443.0 96.5,439.7 96.2,436.8 96.8,433.4 96.2,430.2 97.1,427.8 96.6,424.6 96.7,421.3 97.5,418.5 98.5,415.3" stroke-width="0.55"/><polyline points="59.8,480.7 60.9,477.5 61.7,474.3 61.9,471.5 61.3,468.8 61.6,465.7 63.2,463.6 62.5,460.4 62,457.8 61.2,454.8 63.5,452.8" stroke-width="0.55"/><polyline points="60.6,499.7 62.4,497.2 61.7,494.4 62.8,492.1 64.9,490.0 64.8,486.6 66.9,484.5 69.4,482.7 70.5,479.6 71.9,476.5 74.1,473.9 75.5,471.1 76.9,468.7 77.4,465.9" stroke-width="0.55"/><polyline points="83,502.1 83.8,499.4 83,496.7 85.2,495.1 86.8,493.1 88.9,491.8 90.9,489.6 90.9,486.7 91.2,484.2" stroke-width="0.55"/><polyline points="56.8,474.6 56.2,471.8 58.6,470.5 60.1,468.1 61.1,464.8 63,462.0 64.9,460.1 64.4,457.5 64.3,454.1 66.9,452.6" stroke-width="0.55"/><polyline points="52.8,522.4 54.2,520.1 55.4,517.7 57.7,515.9 59.7,514.4 61,511.4 60.9,508.8 63.3,507.0 64.5,504.3" stroke-width="0.55"/><polyline points="65.4,504.5 67.6,502.2 67.1,499.3 66.1,496.0 65.6,492.9 66.3,490.0 66.3,487.1 67.6,484.3 68.9,481.3 69.5,478.8 70.6,476.3 71.5,473.0" stroke-width="0.55"/><polyline points="24.8,465.6 26.9,463.3 28.7,461.3 29.6,458.8 30.8,456.3 31.2,453.1 32,450.5 32.3,447.3 33.7,444.2 33.4,440.8 33.9,437.7 34,434.4" stroke-width="0.55"/><polyline points="89.8,452.7 92.3,450.4 94.1,448.0 95,445.4 95.2,442.3 94.3,439.2 94.2,436.7 92.8,433.5 91.6,430.4 92,427.5 94.1,425.8" stroke-width="0.55"/><polyline points="66,440.9 67.2,438.0 67.6,434.7 66.3,432.3 66.8,429.9 65.8,427.6 67.4,425.6 66.6,422.8 67.2,420.2 66.5,417.6 68.6,415.0 70.6,412.8" stroke-width="0.55"/><polyline points="69.8,521.8 70.6,518.4 71.9,516.1 74.2,514.6 73.9,511.9 76.3,510.0 78,507.6 79.9,504.8 81.8,503.1 83.5,501.0 85.4,498.3" stroke-width="0.55"/><polyline points="102.1,527.0 103.7,525.0 104.5,521.7 107,520.2 106.9,517.6 108.3,514.9 110.7,513.6 110.3,511.0 109.8,508.0 111,505.3 112.3,502.8 112.8,499.6 113.9,496.6 115.4,494.3 116.7,492.2" stroke-width="0.55"/><polyline points="57.9,521.6 59.6,519.8 58.4,517.4 59.8,514.4 61.5,511.6 62.5,508.9 64.4,506.1 64.2,502.8 63.2,499.5 64.5,497.2 63.4,494.9 61.9,491.9 63.9,489.9 62.8,487.3" stroke-width="0.55"/><polyline points="75.8,504.2 78.4,502.3 80.9,500.0 81.3,496.7 83.4,494.7 85,491.9 86,489.1 85.2,485.7 87.7,483.6 87,480.9 88.8,478.9 91.4,476.7 90.4,473.8 92.5,471.2" stroke-width="0.55"/><polyline points="103.9,523.6 104,520.1 105.8,518.4 107.6,515.9 107.6,513.3 109.2,511.4 110.5,508.7 110.5,505.4 111.5,502.5 113.7,499.9 112.9,497.0 112,494.4 114.1,492.7 114.6,489.7 114.1,487.2" stroke-width="0.55"/><polyline points="83.1,510.7 82.3,508.1 82.3,504.7 84.6,503.1 86.1,500.1 88.5,498.1 90.2,496.0 91.6,493.7 91.6,491.1 92.1,488.3 95.1,486.6 95.6,483.7 95.1,480.4" stroke-width="0.55"/><polyline points="109.7,517.5 109.3,514.8 111.1,512.4 110.1,509.6 111,507.0 112.7,504.7 113.4,502.2 115.2,500.3 114.6,497.2 113.2,494.2 115.4,491.5 114.3,488.4 115.8,485.6 117.5,483.4" stroke-width="0.55"/><polyline points="101.3,452.1 101.9,449.6 101.2,446.6 103.2,444.0 103.5,441.1 105.3,438.4 106.7,435.2 105.9,432.6 106.3,429.7 106.4,426.9 104.9,424.0 104.2,421.1" stroke-width="0.55"/><polyline points="100,506.3 100.8,502.9 100.2,500.1 100.1,497.4 102.5,496.0 104.5,494.0 106.6,491.5 106.4,488.0 108.3,486.3 107.6,483.5 107.5,480.3 107.8,477.1 110.2,474.7 111.2,471.7 113.5,470.2" stroke-width="0.55"/><polyline points="54.9,531.8 55.8,529.0 57,526.3 56,523.9 54.9,520.7 56.9,518.1 58.8,515.6 59,512.5 58.4,509.6" stroke-width="0.55"/><polyline points="74.6,488.8 74.4,486.2 75.4,483.6 75.2,480.8 75.2,478.0 74.6,475.5 76.7,473.3 76.9,470.3 78.1,467.3" stroke-width="0.55"/><polyline points="113.5,507.7 114.8,505.3 116.5,502.5 118.7,500.5 119.7,497.8 122.6,496.2 123.2,493.7 123.6,491.1 126.1,489.3 125.5,485.9 128.3,484.5 130,482.5 130,479.8" stroke-width="0.55"/><polyline points="63.9,537.4 65.3,535.0 66.5,532.2 67.6,529.2 69,526.1 68.5,523.2 70.3,520.5 69.6,518.0 68.4,515.1 68.1,512.3 69.8,510.1 70,506.8 72,505.0 73,502.6" stroke-width="0.55"/><polyline points="112.7,522.4 112.7,519.5 115.4,517.5 116.8,514.9 117.9,512.1 118.5,509.1 121.1,507.4 120.2,504.4 119.5,501.2 118.7,498.8 119.3,496.3 120.2,493.7 119.2,490.5" stroke-width="0.55"/><polyline points="37.5,453.1 38.6,450.2 40,447.8 40.7,444.9 42.5,443.1 44.7,440.3 45.1,437.1 45.3,434.3 47.2,432.0 48.1,429.2 50.5,427.6 50.9,424.5 51.1,421.9" stroke-width="0.55"/><polyline points="46.3,462.7 46.5,459.8 46.2,457.3 44.8,454.2 45.7,451.0 44.9,448.6 43.4,445.6 43,442.3 43.6,439.6" stroke-width="0.55"/><polyline points="69.8,435.4 71.2,433.2 70.7,430.3 71.5,427.2 73.1,424.4 72.6,421.8 72.7,418.3 74.2,416.2 74.1,413.4 72.4,410.4 72.6,407.4 74.4,405.2" stroke-width="0.55"/><polyline points="43.9,525.1 44.4,522.1 45.3,519.0 44.9,516.5 45.6,513.7 46.8,511.5 49.3,509.5 50.8,506.5 53.4,505.0 55.6,502.3 56.6,499.6" stroke-width="0.55"/><polyline points="99.3,451.5 101.7,449.3 101.1,446.2 101.9,443.5 101.6,440.1 100.8,437.2 102.6,435.2 101.9,432.2 103.3,429.9 104.9,426.8 104.4,424.1 106.7,421.5 107.7,418.5" stroke-width="0.55"/><polyline points="42.3,519.1 43.8,516.7 44,514.0 42.3,510.9 42.3,508.3 42.9,505.4 43.9,502.5 42.9,499.6 42.1,496.9 41.5,493.6" stroke-width="0.55"/><polyline points="85.1,473.4 84.3,470.4 86.2,468.6 87.3,465.5 85.9,463.0 87.7,460.1 88.5,456.9 88.3,453.5 89.3,450.8 88,448.1 89.7,445.2 91.2,443.1 91.3,440.0 90.3,437.3" stroke-width="0.55"/></g>
<g fill="none" stroke="#ececf4" stroke-linecap="round" stroke-linejoin="round" filter="url(#bl58)"><polyline points="23,454.7 22.7,453.0 21.8,451.5 21.4,449.9" stroke-width="0.75"/><polyline points="48.3,482.6 49.7,481.6 50.5,480.9" stroke-width="0.75"/><polyline points="43.1,535.5 43.4,533.7 44,532.7" stroke-width="0.6"/><polyline points="59.8,521.8 60.8,520.6 61.8,520.0 62,518.3" stroke-width="0.9"/><polyline points="99.7,495.7 98.8,494.5 98,493.5 97.5,492.5" stroke-width="0.9"/><polyline points="52.6,460.0 51.6,458.5 51.1,457.2" stroke-width="0.9"/><polyline points="125.1,447.9 126.5,447.5 127.7,447.0" stroke-width="0.6"/><polyline points="100.8,502.8 101.9,501.7 101.7,500.0" stroke-width="0.75"/><polyline points="41.1,538.3 42.7,537.4 42.9,535.6" stroke-width="0.9"/><polyline points="49.8,475.3 50.5,473.6 52.2,472.8" stroke-width="0.75"/><polyline points="33.7,447.5 35,447.2 36.5,446.7 37.3,445.8 37.6,444.8 38.5,444.2" stroke-width="0.9"/><polyline points="29.6,434.9 29.8,433.2 30.3,431.5" stroke-width="0.6"/><polyline points="127,501.7 126.3,500.7 126.8,498.8 125.6,497.6" stroke-width="0.9"/><polyline points="55.5,449.8 56.8,448.4 56.5,447.0" stroke-width="0.9"/><polyline points="101.5,436.1 103.1,435.7 104.9,435.5 106.4,434.5 107.3,432.8 108.8,432.4" stroke-width="0.75"/><polyline points="28.6,480.5 28.9,479.4 28.8,477.9" stroke-width="0.9"/><polyline points="60.4,526.6 61,525.6 62.3,524.9 62.9,523.4 64.6,522.8 66,521.6" stroke-width="0.75"/><polyline points="36.6,478.3 37.1,477.0 37.9,475.5 37.9,474.4 39.6,473.6 39.6,471.9" stroke-width="0.9"/><polyline points="56.5,539.0 56.1,537.3 56.8,535.6 56,534.3 56.3,532.7" stroke-width="0.6"/><polyline points="88.8,540.2 89.9,539.4 89.7,537.6 89.8,536.0 89.7,534.7" stroke-width="0.9"/><polyline points="47.2,488.0 47.2,486.4 48,485.3 48.4,483.9 49.7,483.0 50.5,482.4" stroke-width="0.9"/><polyline points="114.3,440.2 115.4,439.9 117,439.2 117.8,437.5 118.3,436.3" stroke-width="0.75"/><polyline points="35.6,527.7 35.4,526.0 35.8,524.7 36.1,523.0" stroke-width="0.75"/><polyline points="57,516.3 58,516.0 58.6,515.0 59.9,513.6 60.7,512.2 61.4,511.1" stroke-width="0.6"/><polyline points="113.6,459.4 113.6,457.9 113.1,456.4 113.8,455.2 114,454.1 113.2,453.1" stroke-width="0.9"/><polyline points="53.9,454.4 53,452.8 52,452.0 51.8,450.5 50.9,448.9 50.5,447.5" stroke-width="0.6"/><polyline points="40,453.5 41.3,452.9 41.4,451.3 42.9,450.5 43.3,448.6 44.1,447.4" stroke-width="0.6"/><polyline points="105.5,464.2 106.8,463.4 108,462.8 108,461.7 108.5,460.2" stroke-width="0.9"/><polyline points="105.2,511.3 104.7,509.4 104.3,507.7 105,506.1 105.4,504.3" stroke-width="0.75"/><polyline points="60.1,481.7 59.8,480.4 60.5,479.7 61.5,477.9" stroke-width="0.75"/><polyline points="62.8,530.0 63.8,528.6 63.2,526.9 63.1,525.7 63.9,524.4" stroke-width="0.6"/><polyline points="28.8,483.7 28.7,482.6 27.7,480.9" stroke-width="0.75"/><polyline points="34.6,513.3 34.4,512.2 35.3,511.2" stroke-width="0.9"/><polyline points="58,440.6 58.8,439.7 59.3,438.6" stroke-width="0.75"/><polyline points="32.4,474.5 32.6,473.3 33.4,472.4 32.7,470.8 32.3,469.8 32.9,468.2" stroke-width="0.75"/><polyline points="108.7,467.4 109,465.6 109.8,464.1 109.9,463.0 111.3,462.1" stroke-width="0.75"/><polyline points="98.6,533.1 99.4,531.5 99.6,530.0 99.7,528.6 99.1,526.9" stroke-width="0.9"/><polyline points="61.3,483.4 62.8,482.8 63.7,482.0 64.3,480.5 64.7,478.7 65.2,477.2" stroke-width="0.75"/><polyline points="96.1,513.6 96.6,512.5 97.8,511.4" stroke-width="0.75"/><polyline points="118.9,521.5 119.9,520.4 121,518.8 122.3,518.3" stroke-width="0.75"/><polyline points="98.9,461.2 99.2,459.9 99.7,458.8" stroke-width="0.75"/><polyline points="61.2,476.5 62.2,475.5 62.9,474.1 63.5,473.2" stroke-width="0.6"/><polyline points="58.5,495.6 58.5,493.7 57.3,492.2" stroke-width="0.75"/><polyline points="65.8,450.7 66.5,449.6 66.7,447.8 67.7,446.6 67.2,445.0 67.6,443.6" stroke-width="0.6"/><polyline points="20.7,511.7 20.5,510.0 21.3,508.8" stroke-width="0.75"/><polyline points="108.4,517.4 107.5,516.4 106.7,515.0 106.9,514.0 107.2,512.8" stroke-width="0.75"/><polyline points="84,504.6 84.2,503.3 86,502.7" stroke-width="0.9"/><polyline points="75.1,523.1 76.6,522.4 77,521.4 78.3,520.8 79.4,519.8" stroke-width="0.6"/><polyline points="23.8,459.4 24.2,457.5 25.7,456.9" stroke-width="0.9"/><polyline points="85.4,442.9 85.9,441.3 87.1,439.9 88.5,438.9 88.4,437.3 88.8,435.6" stroke-width="0.6"/><polyline points="60,444.0 59.3,443.1 58.2,442.2 58.3,440.6" stroke-width="0.6"/><polyline points="76.3,528.1 77.3,527.2 78,526.2" stroke-width="0.6"/><polyline points="87.6,509.0 88.5,507.7 89.5,506.8 89.6,505.3 89.9,503.3 90,501.5" stroke-width="0.75"/><polyline points="118.2,529.7 118.5,528.2 119.2,526.7 119.6,525.6 120,524.7" stroke-width="0.75"/><polyline points="74.3,533.5 73.7,531.6 73,530.0 72.9,528.2 72.8,527.0" stroke-width="0.9"/><polyline points="58.9,438.1 59.2,436.5 59.2,434.8 58.7,433.5" stroke-width="0.75"/><polyline points="95.3,528.8 95.7,527.6 95.5,525.8 95,524.0 94.7,522.2 95.4,521.4" stroke-width="0.6"/><polyline points="91.5,499.2 91,497.8 91.8,496.1 93.4,495.1" stroke-width="0.6"/><polyline points="57.9,496.8 57.9,495.1 58,493.8 59.3,492.7 60.7,491.6 60.9,490.6" stroke-width="0.9"/><polyline points="101.7,459.9 102.9,458.9 103.7,457.2 103.9,456.2 104.4,455.2 104.6,453.6" stroke-width="0.9"/><polyline points="102.6,536.2 103.8,535.5 105,535.0 106.4,534.8" stroke-width="0.9"/><polyline points="54.5,472.6 55.6,472.1 55.9,470.5 56.9,470.2 57.4,468.6 58.5,468.5" stroke-width="0.9"/><polyline points="122.6,537.3 123.5,536.7 123.8,535.5 124.3,534.3 124.4,532.9" stroke-width="0.75"/><polyline points="104.4,516.7 103.5,515.5 102.5,514.6" stroke-width="0.6"/><polyline points="72.7,507.8 73.1,506.8 73.2,504.8" stroke-width="0.9"/><polyline points="44.4,450.5 43.5,448.8 43.4,447.8 42.8,446.8" stroke-width="0.9"/><polyline points="50.5,512.0 51,511.1 50.5,509.4 49.8,507.6 49.3,506.0" stroke-width="0.9"/><polyline points="99.6,477.2 100,475.3 99.9,474.2" stroke-width="0.9"/><polyline points="36.7,511.7 37.5,510.4 38.6,509.7" stroke-width="0.9"/><polyline points="77,517.6 77.9,516.8 78.6,516.1 78.8,514.8 79.8,514.5 81.5,513.8" stroke-width="0.6"/><polyline points="63.8,494.4 63.4,493.3 64.5,492.1" stroke-width="0.9"/><polyline points="19.7,464.8 20.1,463.8 19.4,462.7 19.6,461.5" stroke-width="0.6"/><polyline points="121.2,496.5 120.8,494.9 121.5,493.7" stroke-width="0.9"/><polyline points="67.6,537.2 68.5,536.2 69.4,535.2 70.1,533.5 69.8,532.4 69.4,530.8" stroke-width="0.9"/><polyline points="55.8,518.7 54.5,517.2 54.5,516.0 54.8,514.8" stroke-width="0.9"/><polyline points="60.7,526.1 59.9,524.6 60.5,523.1 59.9,521.5 59.9,519.6" stroke-width="0.75"/><polyline points="25.4,473.5 25.9,472.0 25.7,470.9 26.9,469.4 26,467.7 26.2,466.6" stroke-width="0.75"/><polyline points="21.7,512.5 22,511.1 23.1,510.7" stroke-width="0.6"/><polyline points="57.5,539.2 57.2,537.3 57.1,535.9" stroke-width="0.6"/><polyline points="40.1,445.8 39.5,444.0 40.7,442.5 41.6,440.8 41.7,439.0" stroke-width="0.75"/><polyline points="113.3,519.6 113.4,518.6 114.3,517.2 115.2,515.6 114.7,513.7" stroke-width="0.9"/><polyline points="36.6,442.2 38.3,441.9 39.7,441.8 40,440.8 41,440.2" stroke-width="0.75"/><polyline points="114.7,444.1 114.7,442.6 114.5,440.8 115.1,439.7 116.2,438.5" stroke-width="0.6"/><polyline points="21,502.2 19.5,501.1 19.1,499.3 18.4,498.6" stroke-width="0.75"/><polyline points="82.6,497.0 83.3,496.2 84,494.8" stroke-width="0.6"/><polyline points="123.8,441.4 124.8,440.8 125.2,439.7 125.8,438.2" stroke-width="0.75"/><polyline points="85.8,477.6 86.4,476.3 87.6,474.8 89,474.3" stroke-width="0.9"/><polyline points="49.2,450.3 49.2,449.0 50.3,447.9 50.5,446.3" stroke-width="0.6"/><polyline points="119.8,512.8 120.7,511.7 120.5,510.7" stroke-width="0.6"/><polyline points="49.8,534.8 49.4,533.5 48.5,532.7 47.6,531.6 47.4,529.8 46.3,528.7" stroke-width="0.75"/><polyline points="94.6,464.2 94.9,463.0 95.5,461.4 95.4,460.3 95.7,459.3" stroke-width="0.75"/><polyline points="76.4,484.3 77.4,483.9 78.2,482.2" stroke-width="0.6"/><polyline points="78.3,523.8 79.2,522.7 79.7,521.8 79.5,520.5" stroke-width="0.9"/><polyline points="107,525.4 107.6,524.3 108.7,523.3 108.9,521.5 109.5,520.1 109.8,518.4" stroke-width="0.6"/><polyline points="76.5,520.5 76.4,519.3 76,517.8 76.9,516.9 76.7,515.8 77.6,514.4" stroke-width="0.75"/><polyline points="125.8,527.1 124.5,526.1 124,524.9" stroke-width="0.75"/><polyline points="101.5,492.3 102.4,491.5 102.8,489.8 104.4,489.1" stroke-width="0.9"/><polyline points="121.4,541.1 123.1,540.3 124.5,539.5 125.9,539.1" stroke-width="0.75"/><polyline points="87.5,525.5 87.4,524.5 88,522.6 89.1,521.0 89,519.5 89.3,517.6" stroke-width="0.6"/><polyline points="68.8,529.6 69,528.6 69.6,527.2 68.3,526.1 68.3,524.9 68.1,523.9" stroke-width="0.9"/><polyline points="88.9,434.3 90.3,434.2 91.9,433.6 93.5,432.8" stroke-width="0.6"/><polyline points="22.6,501.3 23.8,500.1 24,499.0 24.9,498.4" stroke-width="0.9"/><polyline points="32.3,502.3 33.5,501.4 35.1,501.1 35.4,499.9 35.9,498.5" stroke-width="0.9"/><polyline points="25.2,490.6 26.3,490.4 27.4,488.8 29.3,488.5 30.6,488.3" stroke-width="0.9"/><polyline points="58.2,462.2 58.3,460.8 58.2,459.3 58.1,457.4 57.1,455.8" stroke-width="0.9"/><polyline points="41.5,434.4 42.2,432.7 42.9,431.5 44.3,431.2" stroke-width="0.75"/><polyline points="35.3,459.5 35.3,457.7 36.6,456.9 36.3,455.3" stroke-width="0.9"/><polyline points="109.9,506.7 110.5,505.3 111.1,504.1 111.6,503.1" stroke-width="0.6"/><polyline points="79.7,487.0 80.6,485.9 80.7,484.7 81.2,483.5 81.6,481.8 82.4,480.8" stroke-width="0.6"/><polyline points="33.4,496.7 32.3,495.9 32.7,494.6 33.1,493.3 31.7,492.2 32.4,490.4" stroke-width="0.75"/><polyline points="42.2,444.5 41.3,443.3 41.7,441.5 42,440.1" stroke-width="0.75"/><polyline points="73.2,504.3 72.9,503.2 72.8,501.3 73.4,500.1 73,498.4" stroke-width="0.75"/><polyline points="125.5,442.1 126.8,441.4 127.8,440.8 129.2,440.6 130.7,440.0" stroke-width="0.75"/><polyline points="101.3,509.2 101.5,507.6 101.4,505.7 101.7,504.4 101.9,502.8" stroke-width="0.75"/><polyline points="45.1,527.1 45.1,526.0 45.6,524.8 45.5,523.5 45.6,522.4 46,521.3" stroke-width="0.9"/><polyline points="119.5,480.8 119.8,479.3 121,478.3 122.1,478.2 122.3,477.0" stroke-width="0.9"/><polyline points="71.1,509.7 71.3,508.2 72.5,507.5 73.7,507.1 74.6,506.2 74.8,504.9" stroke-width="0.9"/><polyline points="116.5,532.5 118.3,532.4 119.5,531.2 119.8,530.2" stroke-width="0.6"/><polyline points="95.3,471.4 95.9,469.7 96.3,467.8" stroke-width="0.6"/><polyline points="68.7,490.8 68.3,489.7 69.2,488.4 69.2,486.7 70,485.6" stroke-width="0.9"/><polyline points="96.8,501.7 97.2,500.5 97.6,499.5 96.5,497.9" stroke-width="0.6"/><polyline points="67.3,443.9 67.7,442.9 69.1,441.7" stroke-width="0.9"/><polyline points="89.6,467.0 90.9,466.0 91.3,464.9 91.5,463.3" stroke-width="0.75"/><polyline points="115.5,446.0 114.7,445.3 114.3,443.6" stroke-width="0.75"/><polyline points="50.8,507.3 51,505.6 51.1,504.2 50.3,503.2" stroke-width="0.75"/><polyline points="122.8,484.5 124,484.0 124.6,482.6 126.4,481.9" stroke-width="0.75"/><polyline points="104.5,436.6 105.5,435.4 106.6,434.9 107.8,434.7" stroke-width="0.6"/><polyline points="82,487.2 83,485.7 82.8,484.7 83.3,483.6 84.1,482.3 84.9,480.7" stroke-width="0.6"/><polyline points="54.3,436.7 56,436.0 57.4,434.8 58.2,433.8" stroke-width="0.6"/><polyline points="64.9,495.1 65.2,493.4 65.3,492.4 63.9,491.0 62.7,489.7" stroke-width="0.6"/><polyline points="110.7,446.3 111.2,445.2 111.1,443.3" stroke-width="0.6"/><polyline points="126.5,478.2 127.3,477.4 128.2,476.9 127.7,475.1" stroke-width="0.75"/><polyline points="92.1,526.9 91.8,525.7 92.7,525.0 93.2,523.9" stroke-width="0.6"/><polyline points="54.4,526.6 54.2,524.9 53.9,523.8 54.2,522.5" stroke-width="0.75"/><polyline points="125.5,486.9 125.3,485.9 125.4,484.5 125.8,482.8 126.8,481.4" stroke-width="0.9"/><polyline points="50.1,462.6 49.7,461.6 50.7,460.2 50.2,458.9" stroke-width="0.6"/><polyline points="97.8,450.3 98,448.5 99,447.0 100.2,446.6" stroke-width="0.75"/><polyline points="49.4,477.4 49,476.0 49.6,475.1 49.1,474.2 48.8,473.0" stroke-width="0.75"/><polyline points="39.3,509.7 38.5,508.3 37.9,507.0" stroke-width="0.6"/><polyline points="20.8,471.5 20,470.5 20.2,468.8" stroke-width="0.9"/><polyline points="42.9,487.8 44.2,486.8 45.6,486.2" stroke-width="0.6"/><polyline points="95.6,448.3 95,447.4 95.2,445.7 95.1,444.4" stroke-width="0.6"/><polyline points="68.5,470.5 69.9,469.2 69.1,467.4 69.3,465.7 68.8,464.0 69.3,462.6" stroke-width="0.9"/><polyline points="64.4,531.7 64.9,530.8 66.5,529.8 66.9,528.6" stroke-width="0.75"/><polyline points="117.8,501.9 119.1,500.4 119.2,499.4" stroke-width="0.75"/><polyline points="21.6,498.1 22.1,496.5 21.5,495.4 21.3,493.9 21.9,492.2" stroke-width="0.6"/><polyline points="53.3,471.6 52.6,470.8 53,468.9 52.6,467.3 53.5,466.0 53.7,464.3" stroke-width="0.6"/><polyline points="105.6,456.2 105,454.7 103.6,453.5 104.4,451.7 103.7,451.0 103.6,449.2" stroke-width="0.6"/><polyline points="43.7,445.0 45.1,444.2 46,443.2 46.6,442.1 47.3,440.3" stroke-width="0.6"/><polyline points="57.8,460.1 58.5,458.7 59.5,457.5" stroke-width="0.6"/><polyline points="101.7,455.3 102.9,454.4 103.9,453.4 103.9,451.5 104.1,450.3 105,449.6" stroke-width="0.6"/><polyline points="101.9,528.3 102.8,526.6 103.3,525.0" stroke-width="0.6"/><polyline points="115.9,469.8 114.9,468.6 114.3,467.4 114.6,465.5" stroke-width="0.6"/><polyline points="107.8,453.7 108.8,453.2 108.8,451.8 109.9,451.0 110,449.1" stroke-width="0.75"/><polyline points="37.2,451.9 36.6,450.2 37.2,449.4 37.4,448.4 37.8,447.3 38.4,446.2" stroke-width="0.6"/><polyline points="88.8,477.9 88.5,476.2 89.3,474.9 90.3,473.3 90.8,472.3" stroke-width="0.9"/><polyline points="35.2,498.9 35.4,497.8 35.9,496.5" stroke-width="0.6"/><polyline points="31.8,434.8 32.9,434.7 34.2,434.6 35.6,433.9 37,433.5" stroke-width="0.75"/><polyline points="55.9,519.0 56.4,518.0 56.4,516.8 55.9,515.3" stroke-width="0.6"/><polyline points="64.9,523.1 66,522.5 65.7,520.6 66.1,519.2 66.5,517.4" stroke-width="0.6"/><polyline points="56.1,523.1 56.3,521.5 57.3,520.1 57.6,518.8 57.7,517.3 59.3,516.7" stroke-width="0.9"/><polyline points="78.1,444.1 77.2,442.3 77.1,440.5 76.8,439.3 77.1,438.3 76.3,437.5" stroke-width="0.9"/><polyline points="81.5,490.6 82.2,489.4 81.4,488.0 82,486.5 82.2,484.8 83.1,483.3" stroke-width="0.9"/><polyline points="61.6,455.8 62.3,453.9 62.1,452.6" stroke-width="0.9"/><polyline points="46.7,464.4 48.5,463.8 49,462.2" stroke-width="0.6"/><polyline points="53.2,455.1 52.9,453.7 53.2,452.6 53,451.5 53.3,450.2 53.6,448.6" stroke-width="0.75"/><polyline points="57.1,434.7 57.2,433.3 58.4,432.1 59.1,431.4" stroke-width="0.9"/><polyline points="61,460.6 61.2,459.6 61.6,458.3 62.1,457.3" stroke-width="0.9"/><polyline points="111.4,508.0 111.2,506.9 111.1,505.0 111.5,504.1 110.5,503.0" stroke-width="0.6"/><polyline points="113.8,487.9 112.9,487.1 112.4,485.7 111.6,485.0 111.9,483.0 111.8,482.0" stroke-width="0.9"/><polyline points="66.6,521.2 67.4,520.4 68.4,518.9 68.2,517.1 68.7,515.9 69.9,514.5" stroke-width="0.75"/><polyline points="43.9,517.4 44.9,516.8 46.1,515.8 45.7,514.1 45.8,513.1 46.2,511.3" stroke-width="0.75"/><polyline points="58.6,510.6 60.4,509.8 61.8,509.1 62.5,508.3" stroke-width="0.6"/><polyline points="66.5,511.9 67.4,510.9 68.2,509.9 68.5,508.4" stroke-width="0.9"/><polyline points="93,488.8 93.5,487.2 94.3,486.3 95.6,485.2" stroke-width="0.75"/><polyline points="67.7,512.3 67.4,511.4 67,509.7 67.9,508.0" stroke-width="0.9"/><polyline points="85.1,461.5 85.5,460.6 86.4,459.2" stroke-width="0.6"/><polyline points="102.2,448.0 102.6,446.4 102.7,445.2" stroke-width="0.9"/><polyline points="72.8,508.7 71.7,507.2 71.2,506.0 71.1,504.9" stroke-width="0.75"/><polyline points="124.9,463.7 124.8,462.4 124.2,461.3 124.1,460.2 124.4,458.8" stroke-width="0.6"/><polyline points="113.2,514.7 114.3,513.7 114.9,511.9 115.1,510.1 116.5,509.4 116.9,508.4" stroke-width="0.6"/><polyline points="112.8,464.4 112.7,463.4 113.4,462.3 114.3,461.1 115.5,459.7 116.2,458.9" stroke-width="0.75"/><polyline points="93.6,502.4 95.1,501.8 96.1,500.3 97.6,499.5 98.7,498.1 99.5,496.7" stroke-width="0.6"/><polyline points="21,483.0 22.5,481.8 23.2,480.1 24.5,479.8 25.3,478.1" stroke-width="0.75"/><polyline points="123.7,510.1 123.4,508.4 124.5,507.0 123.8,505.2 123.2,503.4 124.2,502.4" stroke-width="0.75"/><polyline points="44.4,469.0 45.5,468.1 45.6,466.8 46.7,466.0 47.8,464.9 48.1,463.9" stroke-width="0.9"/><polyline points="90.3,528.8 91.6,528.0 92.4,526.9" stroke-width="0.75"/><polyline points="57.2,454.4 57.8,453.5 57.1,452.7 57,451.7" stroke-width="0.6"/><polyline points="61.5,442.1 61.2,441.1 61.1,440.1 60.3,439.0 60.3,437.5 60,436.5" stroke-width="0.75"/><polyline points="19.7,468.0 20.4,467.0 21.1,466.2" stroke-width="0.6"/><polyline points="67.1,471.4 67.6,470.5 67.2,469.0 67.7,467.2" stroke-width="0.9"/><polyline points="100.7,519.4 101.5,518.3 102.4,517.6 103.7,516.9 104.3,515.6 105.1,514.6" stroke-width="0.6"/><polyline points="31.5,492.3 30.8,490.5 31.3,489.5 31.2,488.4 32.2,487.4 32.5,486.3" stroke-width="0.9"/><polyline points="44.6,534.7 44.3,533.1 45.2,532.1 45.3,530.1" stroke-width="0.75"/><polyline points="70.8,483.2 70.1,482.4 70.6,480.7 70.5,479.6 71.1,478.0" stroke-width="0.75"/><polyline points="41.5,482.5 41.7,480.7 41.8,479.6" stroke-width="0.75"/><polyline points="106.3,466.7 107.8,466.4 109,464.8 109.8,463.3 111.7,463.1" stroke-width="0.75"/><polyline points="45,528.3 45.6,526.9 45.2,525.3 46.1,524.0 46.4,522.1" stroke-width="0.9"/><polyline points="20.9,500.2 21.8,499.4 22.2,498.3 21.7,496.6 22.6,495.2 22.6,493.8" stroke-width="0.9"/><polyline points="42.1,481.3 42.8,480.5 44,479.5 45,479.2 46.3,478.3" stroke-width="0.75"/><polyline points="115.5,471.0 116.3,469.9 116.9,468.8 118.1,467.4" stroke-width="0.75"/><polyline points="24.2,528.1 25.6,527.5 26.8,526.5 27.5,525.7" stroke-width="0.9"/><polyline points="57.6,527.7 58.6,526.7 58.6,525.4 60.3,524.5 61.3,522.9" stroke-width="0.6"/><polyline points="69.6,451.5 69.7,449.9 69.8,448.0 69.5,446.2 69.6,445.1" stroke-width="0.75"/><polyline points="36.3,478.4 36.3,476.6 36.1,474.7 36.3,472.9 37.1,471.9" stroke-width="0.9"/><polyline points="100.9,495.5 101.4,493.7 101.3,492.2 100.6,490.8 100.9,489.0" stroke-width="0.6"/><polyline points="104.7,438.2 103.5,437.4 103.9,435.9" stroke-width="0.9"/><polyline points="84.1,517.3 85.8,516.7 86.1,515.7 87.4,515.2 88.6,513.8" stroke-width="0.75"/><polyline points="79.4,503.6 80.5,503.3 81.1,501.6 82.4,500.3 82.5,499.0" stroke-width="0.6"/><polyline points="18.9,479.6 19.7,477.9 19.8,476.9 21.2,476.3 22.6,475.6 24.2,474.9" stroke-width="0.75"/></g>
<line x1="105.365" y1="534.9" x2="119.365" y2="534.9" stroke="#fff" stroke-width="1.6"/>
</g>
<g clip-path="url(#c26)">
<rect x="21" y="540.2" width="103" height="102.19999999999993" fill="#040410" />
<rect x="-4.8" y="514.0" width="154.5" height="154.5" fill="#000" filter="url(#as59)" opacity="0.75" transform="rotate(-38 72.5 591.3)"/>
<g fill="none" stroke="#c8c8dc" stroke-linecap="round" stroke-linejoin="round" filter="url(#bl57)"><polyline points="66.5,578.6 69.5,577.5 72.2,577.2 74.4,575.7 75.3,572.7 78.1,572.1 79.5,569.9 82.2,568.5 85.4,567.5 87,564.8 89.7,564.5 90.8,562.2" stroke-width="0.55"/><polyline points="96.3,612.3 99.4,612.2 100.7,609.5 102.7,607.1 106,606.1 109,604.7 111.8,602.7 114.7,602.4 116,599.8 118.9,599.3 120.3,597.1 123.3,595.4" stroke-width="0.55"/><polyline points="42.6,575.7 43.8,572.5 46.2,571.8 48.5,570.2 50.8,568.3 53.7,567.5 55,564.4 56.8,562.3 60,562.2" stroke-width="0.55"/><polyline points="35.2,624.1 37.7,623.4 38.9,620.9 41.1,619.2 42.7,616.6 45.5,616.5 48.1,615.9 51,614.5 53.7,612.5 55.8,610.4 58.2,608.6 60.6,606.6 62.4,604.4 65,603.0" stroke-width="0.55"/><polyline points="27.5,550.0 29.4,548.3 30.2,546.0 33.4,545.1 35.9,542.8 37.6,540.3 39.1,537.9 42.2,536.7 44.7,536.2" stroke-width="0.55"/><polyline points="93.9,624.8 94.5,621.6 97,619.8 99.9,617.9 100.4,615.4 103.2,613.9 105.4,611.2 105.9,608.3 109.2,607.6 110,605.2" stroke-width="0.55"/><polyline points="53,571.2 54.9,569.1 55.9,566.4 59,565.2 62.1,565.0 64.9,564.0 67.9,563.1 69.4,560.9 70.8,558.7 71.6,555.8 73.4,553.4 76.1,552.0 78.4,550.3" stroke-width="0.55"/><polyline points="30.5,590.9 33.1,589.9 34.6,587.8 35.7,584.7 37.8,582.0 38.7,579.6 40.9,577.3 42.6,574.6 45,572.1 47.6,571.0 50.8,569.8 51.6,566.7 52.9,563.7" stroke-width="0.55"/><polyline points="61.5,562.8 63.4,560.3 66.5,558.9 69,558.7 70.8,556.1 73.7,555.8 76.5,555.3 79.1,555.4 80.8,552.6 83.8,552.4 84.8,549.9 85.8,547.1 88,544.9 90.3,543.6" stroke-width="0.55"/><polyline points="76.7,544.5 79,542.2 81.5,541.0 84.8,540.9 87.5,538.8 90,538.6 93.2,538.1 95,535.2 96.7,533.3 99.2,530.9 100.6,528.0 101.7,525.3 103.5,523.4 104.9,520.6" stroke-width="0.55"/><polyline points="60,560.6 61.5,557.8 64.7,557.8 66.8,555.3 68.6,552.9 70.4,550.0 71.4,547.1 74.8,546.2 76.1,544.0 77.8,542.2 79.7,540.3 83,540.3 83.6,537.8 87.1,537.7" stroke-width="0.55"/><polyline points="63.7,562.6 65.1,560.0 68.2,559.2 69.8,556.9 72.5,554.9 75.2,553.7 76.2,551.0 79.2,551.2 82.3,551.3" stroke-width="0.55"/><polyline points="115.2,575.4 118.5,575.6 121.2,574.1 123.8,574.2 126.1,572.7 129,571.7 130.5,569.0 133.9,568.2 136,566.7 137.5,563.9 138.6,561.7 141.7,561.2 143.3,558.7" stroke-width="0.55"/><polyline points="74.5,565.1 77.1,564.2 78,561.6 80.8,560.2 81.9,557.2 85.4,556.9 88.6,556.7 89.4,553.6 90.1,551.1 92.5,549.6 96,549.3 98.7,547.9 101.7,546.4" stroke-width="0.55"/><polyline points="50.7,629.4 53.3,627.8 55.4,626.4 58.5,625.9 61.2,625.0 64.1,623.4 66.2,621.3 68.3,618.9 70.3,616.4 72.8,615.4 75.3,614.9 77.9,613.6 81.3,612.9" stroke-width="0.55"/><polyline points="64.9,567.8 67.2,565.3 70.1,563.6 72.2,561.3 72.8,558.5 75.9,558.3 77.9,556.8 80.8,555.7 83.2,553.4 85.6,552.2 88.5,550.4 90.8,549.4" stroke-width="0.55"/><polyline points="117.7,620.6 118.6,618.0 120,615.0 123.4,614.9 125.1,613.0 127.9,611.2 130.7,609.6 132.8,607.8 133.7,605.1 136.8,603.6 140,603.9 141.3,601.6 143.9,600.6 146.7,600.6 150,600.2" stroke-width="0.55"/><polyline points="26.8,635.8 29.7,635.0 33.2,634.8 35.8,634.7 37.5,631.9 39.9,630.2 42.8,629.8 45.3,629.1 48.3,627.6" stroke-width="0.55"/><polyline points="126.2,560.7 128.9,559.1 132.1,558.2 134.4,556.6 135.7,553.9 138.5,553.2 139.9,550.5 142,549.0 144.2,546.7 147,545.6 149,543.8 151.3,541.9" stroke-width="0.55"/><polyline points="54.9,569.7 57.8,568.7 58.8,565.6 60,562.4 61.8,559.6 64.4,559.2 67.6,559.3 69.1,556.5 71.7,556.5 74.2,555.6 75.3,552.7 77.4,551.0 79.8,549.3 81.6,547.5" stroke-width="0.55"/><polyline points="108.6,612.2 111.1,611.0 114,610.3 116,608.7 117.1,605.5 120,604.0 122.5,602.8 125.6,601.6 127.4,599.5 128.2,596.3" stroke-width="0.55"/><polyline points="55.4,626.9 58.4,626.3 59.4,623.5 62.5,621.9 65.9,621.6 68.7,620.9 70.2,618.6 71.5,615.6 72.4,612.7 75,612.5 76.4,610.0 78.5,607.7" stroke-width="0.55"/><polyline points="99.7,543.4 101.3,541.1 104.4,540.1 106.5,537.9 109.1,536.7 111.5,535.3 113.2,532.6 113.8,529.5 115.7,526.9 118.2,526.2" stroke-width="0.55"/><polyline points="66.6,629.5 68.2,626.6 70.8,626.4 73.4,626.3 74.6,623.2 77.5,622.5 78.7,620.1 81.5,618.5 84.8,617.7 87,615.5" stroke-width="0.55"/><polyline points="66.5,609.5 68.5,606.8 71.4,606.0 73.9,605.2 76.4,604.1 76.9,600.8 80,600.5 82.5,600.2 85,599.5 85.6,596.4 87.7,594.7" stroke-width="0.55"/></g>
<g fill="none" stroke="#ececf4" stroke-linecap="round" stroke-linejoin="round" filter="url(#bl58)"><polyline points="25.3,572.4 26.4,573.7 27.9,574.3 28.8,575.5 30,576.3" stroke-width="0.9"/><polyline points="125.3,544.0 126.2,544.7 128.1,544.6 129.6,544.4" stroke-width="0.9"/><polyline points="21.3,599.5 23,600.2 24.5,599.9 26,600.0 27.3,600.1 28.5,601.1" stroke-width="0.75"/><polyline points="38.4,581.7 38.2,580.4 39,579.6 39.1,578.4 40.5,577.6 40.7,576.5" stroke-width="0.75"/><polyline points="55.3,558.0 56.3,556.8 57.2,555.5 58.5,555.2" stroke-width="0.9"/><polyline points="37.5,545.6 38.5,545.8 39.8,546.5 41.6,546.8 43.3,547.4" stroke-width="0.75"/><polyline points="116.6,555.8 117.7,555.8 119.1,557.1 120,557.6 120.7,559.4 122.7,559.4" stroke-width="0.75"/><polyline points="40.4,592.1 39.8,591.1 40,589.3 40,587.4 39.1,586.1 38.4,585.0" stroke-width="0.9"/><polyline points="22.4,635.4 23.3,634.4 24.6,634.0 25.4,633.0" stroke-width="0.6"/><polyline points="93.6,540.4 94.6,540.8 96.1,541.4 97.5,541.5 98.5,541.3" stroke-width="0.6"/><polyline points="95,578.0 96.8,577.6 98,578.9 99.1,579.9" stroke-width="0.6"/><polyline points="42.5,564.9 43.8,563.6 45.2,562.3" stroke-width="0.6"/><polyline points="18.1,557.6 19.1,558.1 20.3,557.3 21.8,557.2 23.5,556.4" stroke-width="0.9"/><polyline points="58.6,543.4 60,543.0 61.1,542.7 61.9,541.6 63.8,541.0 64.3,540.0" stroke-width="0.6"/><polyline points="67.4,600.2 68.8,601.6 69.6,602.3 71,602.6 73,602.9 74.5,604.1" stroke-width="0.75"/><polyline points="117.7,571.6 117.9,569.9 116.9,568.5 117.2,567.4 116.9,565.7" stroke-width="0.9"/><polyline points="113.5,635.2 114.3,634.4 115.4,633.7 116.3,632.7 117.6,632.2 118.3,630.8" stroke-width="0.9"/><polyline points="35,563.2 35.3,562.1 36.7,561.7 37.2,559.9" stroke-width="0.9"/><polyline points="25.3,599.7 26.7,600.2 27.8,600.1 29.2,601.4" stroke-width="0.9"/><polyline points="80.2,636.3 80.6,634.8 80.4,633.3 81.2,632.8" stroke-width="0.9"/><polyline points="122.1,576.5 123.1,576.1 124.1,576.4 125.4,575.8 127,575.8" stroke-width="0.9"/><polyline points="30.8,610.6 30.1,609.6 30.9,608.6 30,607.6 30.3,606.6 30.4,605.4" stroke-width="0.75"/><polyline points="50.3,583.9 51.5,583.8 52.5,584.6" stroke-width="0.75"/><polyline points="94.7,613.6 94.6,611.9 95.3,610.1" stroke-width="0.9"/><polyline points="57.6,553.6 58.4,552.7 59.4,551.4 60,550.0 60.5,548.5 60.3,547.3" stroke-width="0.6"/><polyline points="101.7,566.6 101.9,564.7 102.5,562.9 103.5,562.4 104,560.8 105.8,560.2" stroke-width="0.9"/><polyline points="37.7,605.4 37.6,604.2 37.7,603.1 38.2,601.8 37.2,600.5" stroke-width="0.75"/><polyline points="126,617.5 126.8,616.7 126.7,614.9 126.9,613.0 126.4,611.2" stroke-width="0.9"/><polyline points="61.3,542.1 62.3,541.5 63.7,541.6 65.4,542.1 67.2,541.5" stroke-width="0.75"/><polyline points="108.2,551.7 109,550.9 110.1,551.0 111.1,550.6 111.9,549.3" stroke-width="0.9"/><polyline points="45.3,579.6 44.1,578.3 43.4,577.2" stroke-width="0.6"/><polyline points="40.6,579.4 40.8,577.5 41.3,575.8 41.9,574.4 42.8,573.4" stroke-width="0.9"/><polyline points="101,608.4 102,609.3 103.4,610.4 104.3,611.6 105.1,613.2 106.2,614.6" stroke-width="0.75"/><polyline points="37.5,562.6 38,561.6 38.7,560.4" stroke-width="0.6"/><polyline points="31.3,574.5 32,575.3 33.2,575.4 35.1,575.5 36.5,575.9 38.4,575.6" stroke-width="0.75"/><polyline points="125.4,600.1 126.9,601.1 128.3,600.4" stroke-width="0.6"/><polyline points="127,631.6 128,630.7 128.7,629.8 129.6,628.2 130,627.3" stroke-width="0.6"/><polyline points="22.7,597.4 24.2,598.6 25.4,599.1 26.6,599.7 28.1,599.6 29.7,599.5" stroke-width="0.9"/><polyline points="105.2,602.8 106.5,602.5 108,602.2 109.3,602.8 110.4,602.6" stroke-width="0.75"/><polyline points="84.9,644.8 84.5,643.5 85.1,641.9 85.6,640.3" stroke-width="0.6"/><polyline points="23.3,564.0 24.9,564.9 25.9,565.1 26.9,565.7 27.7,566.6" stroke-width="0.75"/><polyline points="118.2,569.0 118.9,567.6 119.7,566.4 120.7,565.3 120.8,564.2 122,563.8" stroke-width="0.9"/><polyline points="121.4,568.7 122.9,569.6 124.7,568.9" stroke-width="0.9"/><polyline points="45.2,630.8 46.4,630.4 47.7,629.4" stroke-width="0.6"/><polyline points="78.6,603.9 79.6,604.5 81.1,605.6" stroke-width="0.9"/><polyline points="58,623.2 58.4,622.2 58.2,621.2 58.3,619.9 59.1,618.7 60,618.2" stroke-width="0.75"/><polyline points="41.5,556.5 41.2,555.2 41.4,553.3 41.7,551.8 41.7,549.8" stroke-width="0.9"/><polyline points="18.4,588.2 19.2,588.9 20.5,590.4 21.4,591.8 22.7,592.0 24.2,591.6" stroke-width="0.9"/><polyline points="84.8,584.3 85.6,585.0 87.4,584.8" stroke-width="0.75"/><polyline points="78.4,544.8 79.8,544.7 81.6,545.0 83.3,544.1 84.7,543.4 86.5,543.7" stroke-width="0.9"/><polyline points="97.7,624.5 97.6,623.2 98,621.5 98.6,620.0 98,618.9 97.4,617.3" stroke-width="0.9"/><polyline points="77.9,602.3 77.3,601.4 78.1,599.7 77.7,597.9 78.4,596.2 79.5,594.7" stroke-width="0.6"/><polyline points="57.5,584.9 58.5,584.8 59.6,585.7" stroke-width="0.9"/><polyline points="57.7,610.6 59.2,609.9 60.1,608.9" stroke-width="0.9"/><polyline points="45.1,643.8 46.6,643.0 47.1,641.9" stroke-width="0.6"/><polyline points="75.4,571.4 75.9,570.3 75.2,568.6 75.4,566.9 74.7,565.8 74.8,564.4" stroke-width="0.6"/><polyline points="74.1,574.0 75.2,575.4 76.8,575.8 77.8,576.6 79,576.5" stroke-width="0.9"/><polyline points="75.1,574.2 75.9,572.6 76.1,571.3" stroke-width="0.6"/><polyline points="45.2,562.8 45.9,561.1 45.3,559.8" stroke-width="0.75"/><polyline points="74.6,620.5 75.6,620.1 76.6,620.6 78.2,619.6 79.3,620.1 81.2,620.2" stroke-width="0.9"/><polyline points="33.4,632.9 35.2,633.8 36.3,633.7 37.5,634.7" stroke-width="0.6"/><polyline points="103.9,639.9 104.7,639.0 105.4,638.1 106.9,637.3 108.1,636.8 109.4,636.9" stroke-width="0.9"/><polyline points="62.7,637.9 63.7,639.4 65.3,640.0 66,641.1 67,641.4 68.6,641.6" stroke-width="0.75"/><polyline points="62.9,560.0 62.9,558.4 61.9,557.2 61.4,555.7" stroke-width="0.75"/><polyline points="80.7,579.5 81.5,580.3 82.3,581.3 83.9,582.1 85.4,582.3" stroke-width="0.75"/><polyline points="71.2,556.3 70.6,555.3 69.7,554.2" stroke-width="0.6"/><polyline points="19.6,587.8 20.6,586.4 21.5,585.3 22.3,584.5 23.4,583.7 24.5,582.1" stroke-width="0.9"/><polyline points="117.8,594.3 116.9,593.1 116.9,591.3 116.5,590.4" stroke-width="0.75"/><polyline points="97.5,570.4 98.6,569.6 99.4,568.9 100.1,567.9 101,566.8" stroke-width="0.6"/><polyline points="45.7,625.4 46.8,624.7 47.8,623.7 49.1,622.4 49.7,621.5 50.4,620.4" stroke-width="0.6"/><polyline points="29.6,593.6 29,592.4 28.5,591.0 28.5,590.0 29.6,588.7 29.2,587.3" stroke-width="0.9"/><polyline points="21.6,567.8 23.6,567.7 24.5,566.9 25.7,567.4 26.9,567.4" stroke-width="0.9"/><polyline points="49.9,638.5 50.9,639.4 52.6,640.2 54.1,640.1 55.7,640.4" stroke-width="0.9"/><polyline points="48.5,633.4 47.9,632.0 46.9,631.0" stroke-width="0.9"/><polyline points="103.6,584.6 104.8,583.2 105.1,581.4 105.5,579.9 106.9,579.0" stroke-width="0.75"/><polyline points="103.9,573.2 105.8,573.3 107.2,572.9 108.6,571.9 109.7,570.9" stroke-width="0.9"/><polyline points="124.4,563.2 125,564.1 126.3,565.4 127.8,566.3" stroke-width="0.75"/><polyline points="79.7,572.0 80.2,570.3 81.1,569.1 82.4,568.1 82.7,566.9 83.3,565.9" stroke-width="0.6"/><polyline points="85.1,577.2 85.3,575.8 85.9,574.4 86.1,573.5 85.7,572.1 85.7,570.1" stroke-width="0.6"/><polyline points="84.5,561.3 85.8,560.7 86.7,559.9 87.8,559.0 88.7,558.4 89.1,557.2" stroke-width="0.75"/><polyline points="73.1,559.3 74.3,558.4 76.1,557.7 77.7,557.5" stroke-width="0.6"/><polyline points="122.4,542.6 123,541.2 124.1,540.2 124.9,538.8" stroke-width="0.75"/><polyline points="44,560.5 45.8,561.2 47,561.8 47.8,562.7 49,563.8 50.2,563.8" stroke-width="0.6"/><polyline points="82.6,611.7 84,612.4 85.1,613.9 86.5,614.8 87.8,614.7 88.9,615.1" stroke-width="0.6"/><polyline points="53.2,579.2 54.4,578.4 55,577.4 54.7,576.1 54.5,574.9 54.1,573.2" stroke-width="0.6"/><polyline points="30.3,616.8 32,616.2 33.2,616.3 34.2,615.7 36.1,615.9" stroke-width="0.75"/><polyline points="69,615.2 70.9,614.9 72,614.8 73.4,613.7" stroke-width="0.6"/><polyline points="122.6,579.5 121.9,577.6 122.3,576.3 123.7,574.9" stroke-width="0.9"/><polyline points="91.1,562.1 90.6,560.2 91.2,558.8" stroke-width="0.6"/><polyline points="33,582.6 35,582.5 36,582.1 37.2,582.0" stroke-width="0.6"/><polyline points="100.9,563.2 102.3,563.1 103.4,563.0 105,564.2 106.1,565.1 107.7,565.8" stroke-width="0.75"/><polyline points="26.3,542.9 27.6,541.6 27.1,540.3 26.3,538.7 27.1,537.2 27.3,535.6" stroke-width="0.9"/><polyline points="53.4,613.0 53.9,612.2 55.1,612.5 56,611.6" stroke-width="0.75"/><polyline points="65.6,562.3 65.2,560.8 64.6,559.2 63.8,557.8 62.5,556.6 61.3,555.0" stroke-width="0.75"/><polyline points="22.1,585.6 22.5,584.2 22,582.5 22.7,581.5 23.7,580.5" stroke-width="0.75"/><polyline points="91.4,607.9 92.3,606.8 92.7,605.3" stroke-width="0.6"/><polyline points="20.9,611.9 22.6,611.3 24,611.6 25,612.5 26,613.2" stroke-width="0.75"/><polyline points="32.9,571.7 34.4,570.8 34.4,569.1 34.4,567.7 34,566.8" stroke-width="0.75"/><polyline points="113.4,571.7 115,571.3 116.6,571.3 118,571.1 118.8,569.3" stroke-width="0.9"/><polyline points="101.7,626.8 102.6,625.1 103.4,624.3" stroke-width="0.9"/><polyline points="72.1,567.4 73,568.4 74.6,569.0" stroke-width="0.6"/><polyline points="26.4,627.3 27.5,626.9 29,627.4 30.7,627.5" stroke-width="0.6"/><polyline points="92.2,642.4 93.4,642.9 94.6,643.9" stroke-width="0.75"/><polyline points="101.4,644.9 102.3,644.2 103.3,643.5 104.3,643.2" stroke-width="0.6"/><polyline points="75.2,632.2 76.6,633.4 77.7,633.9 78.6,635.7 79.5,636.3 81,636.3" stroke-width="0.9"/><polyline points="69.1,588.4 70.5,587.3 72,587.9" stroke-width="0.75"/><polyline points="53.7,541.4 53.4,540.3 53.1,539.2 53.1,537.8 53.9,536.4" stroke-width="0.9"/><polyline points="117.7,553.8 119,554.2 120.1,554.3 121.5,555.0 122.5,556.4 122.9,557.6" stroke-width="0.6"/><polyline points="108.3,642.4 109.3,644.0 110.3,644.3 111.7,644.4 112.7,645.3" stroke-width="0.75"/><polyline points="22.8,622.8 24,621.6 24,620.1" stroke-width="0.6"/><polyline points="56.4,625.7 58.2,626.3 59.5,625.8 60.9,625.3 62.6,626.0 63.9,626.3" stroke-width="0.75"/><polyline points="119.7,550.6 120.1,549.1 120.8,548.1 120.2,546.4 120.5,545.0" stroke-width="0.6"/><polyline points="54.9,598.5 55.6,597.0 54.4,595.6 54.8,594.0 54.7,592.9 54.9,591.9" stroke-width="0.6"/><polyline points="21.4,604.9 23.4,604.9 25,606.0" stroke-width="0.75"/><polyline points="18.9,590.0 20.4,590.3 21.7,589.9 22.8,589.9 24.3,590.0 25.6,590.6" stroke-width="0.9"/><polyline points="41.6,636.8 42.7,636.6 43.4,635.0 44.7,634.5" stroke-width="0.6"/><polyline points="108.1,644.7 108.6,643.0 108.4,641.2 108.6,639.9" stroke-width="0.75"/><polyline points="62.6,627.4 62.7,626.3 61.6,625.5 61.4,624.4 60.5,622.7" stroke-width="0.9"/><polyline points="67.3,552.4 68.4,552.5 69.5,552.4 70.4,554.0 71.9,554.7 73.6,555.2" stroke-width="0.75"/><polyline points="54.7,588.9 54.7,587.1 56.2,585.9 56.6,584.6" stroke-width="0.75"/><polyline points="83.3,624.3 83.5,623.0 82.5,621.8" stroke-width="0.6"/><polyline points="83.5,635.7 84.8,636.5 85.8,637.2 86.4,638.3 87.6,638.2 88.8,639.1" stroke-width="0.9"/><polyline points="27.8,615.6 28.8,617.1 29.6,618.3 31.3,618.8 32.9,619.4" stroke-width="0.9"/><polyline points="59.2,643.3 60.5,642.6 61.8,642.1 62.2,641.0 62.8,639.1" stroke-width="0.6"/><polyline points="125.3,593.6 127,593.3 128.5,592.7" stroke-width="0.75"/><polyline points="64.1,544.3 65.5,543.1 67.3,542.4 67.7,541.1 68.7,540.2 70.2,539.6" stroke-width="0.9"/><polyline points="100,555.9 98.8,554.8 97.9,553.9 98.4,552.3 98,551.3 97,550.0" stroke-width="0.9"/><polyline points="19,639.9 20.2,638.7 21.5,638.8 22.8,638.2" stroke-width="0.9"/><polyline points="108.9,644.3 108.6,642.9 109.8,641.6 110.8,640.5 111.6,639.9 112.3,638.3" stroke-width="0.9"/><polyline points="34.2,575.2 35,574.4 36.1,573.3 37,572.5 37.6,571.6" stroke-width="0.9"/><polyline points="96.1,609.1 97.8,609.5 98.9,609.8 100.4,609.7 101.5,608.8" stroke-width="0.6"/><polyline points="50.6,593.3 52,592.8 53.1,591.7" stroke-width="0.6"/><polyline points="25.4,571.8 26.6,571.9 27.7,572.5" stroke-width="0.75"/><polyline points="125,556.2 125.6,557.1 126.9,557.1 128.3,557.2 129.6,556.9" stroke-width="0.75"/><polyline points="113.7,617.0 115,616.3 116,615.6 117.7,615.0 118.8,615.1 120.7,614.5" stroke-width="0.6"/><polyline points="96.7,556.7 98.2,555.7 99.4,555.5" stroke-width="0.6"/><polyline points="113.9,623.6 113.8,622.0 112.4,621.1" stroke-width="0.9"/><polyline points="29.8,573.8 31.1,573.2 32.6,572.3" stroke-width="0.75"/><polyline points="41.6,595.4 42.6,594.6 43.5,594.1 44.9,593.6 45.9,592.2 47.6,591.2" stroke-width="0.6"/><polyline points="104.7,591.6 106.2,590.6 107.9,589.9 109.6,590.2 110.5,589.6" stroke-width="0.9"/><polyline points="73.7,617.6 74.9,618.0 76.2,618.3 77.3,618.8" stroke-width="0.6"/><polyline points="77.8,582.7 78.5,581.7 79.1,580.6 79.8,579.5 80.5,577.9" stroke-width="0.6"/><polyline points="116.8,612.2 117.4,610.9 118.4,609.9 120,608.8" stroke-width="0.75"/><polyline points="32.7,547.6 33.9,546.9 34.7,546.1 34.8,545.0 36.4,543.9" stroke-width="0.9"/><polyline points="30.6,599.7 32,600.7 33.9,600.3 35.3,601.3 36.4,601.3" stroke-width="0.75"/><polyline points="107,574.4 106.9,572.8 107,571.3 107.7,570.3" stroke-width="0.75"/><polyline points="22.4,628.0 23.4,627.5 24.8,626.8 25.6,625.8" stroke-width="0.9"/><polyline points="23.7,612.3 25.1,613.1 26.9,613.5 28.4,614.6 29.7,615.5 30.7,616.7" stroke-width="0.75"/><polyline points="77.9,576.4 78.8,575.8 79.4,574.4 80.8,574.0 81.6,573.2" stroke-width="0.9"/><polyline points="33.4,544.3 34.8,543.7 36.3,545.0 37.6,545.1" stroke-width="0.6"/><polyline points="105.5,605.8 106.2,604.8 107.2,603.7 108.3,603.7 109.1,602.6 110.7,601.7" stroke-width="0.6"/><polyline points="81,608.7 81.4,607.3 82.4,605.9 82.7,604.5 83.9,603.6 84.5,602.2" stroke-width="0.6"/><polyline points="90.7,629.8 91.9,628.3 92.9,628.6 93.7,627.3 94.7,626.4 95.6,625.7" stroke-width="0.6"/><polyline points="30.1,589.4 30.8,590.6 32.7,590.1 33.5,591.0 34.9,591.5" stroke-width="0.75"/><polyline points="68.8,563.6 69,562.3 68.6,560.9 69,559.1" stroke-width="0.6"/><polyline points="108.1,637.9 108.7,636.3 109.1,635.4" stroke-width="0.9"/><polyline points="70.8,549.4 72.1,549.9 72.9,548.8" stroke-width="0.6"/><polyline points="124.2,605.4 123.5,604.4 123.7,603.3 123.8,601.6 124.2,600.4 124.9,599.4" stroke-width="0.75"/><polyline points="99.1,628.3 100,627.2 101.9,627.1" stroke-width="0.6"/><polyline points="94.8,546.5 94.8,545.3 94.2,543.5 93.9,542.0 92.6,540.4 92.9,539.2" stroke-width="0.6"/><polyline points="72.2,541.9 72.5,540.6 72.4,539.6 73.6,538.1" stroke-width="0.9"/><polyline points="119.9,617.9 120.5,616.5 121.8,615.7 122.4,613.9" stroke-width="0.9"/><polyline points="106.1,549.6 106.4,547.7 107.7,546.6 108.5,545.1" stroke-width="0.9"/><polyline points="77.3,573.4 77.9,574.5 79.6,575.5 80.2,577.1 81.5,577.7 82.7,578.9" stroke-width="0.9"/><polyline points="99.6,640.8 100.8,641.4 101.2,642.3 102.9,642.7 103.9,644.4 105.4,645.0" stroke-width="0.75"/><polyline points="57.5,626.1 59.3,625.8 61,626.1 62.5,626.1 63.8,625.3 64.8,624.9" stroke-width="0.9"/><polyline points="96,613.5 97.8,613.9 99.1,614.0 101,614.7 102.5,614.7 103.6,614.6" stroke-width="0.9"/><polyline points="95.6,560.1 95.3,558.5 96.2,557.1" stroke-width="0.75"/><polyline points="63.4,577.1 63.8,575.5 63.6,574.2 63.8,572.3 63.4,570.4" stroke-width="0.6"/><polyline points="31.8,610.4 32.8,608.9 33.4,607.9 34,607.1" stroke-width="0.9"/><polyline points="39.1,621.6 40.4,620.5 41.6,620.1 42.8,618.7 43.3,617.6 44.4,616.6" stroke-width="0.6"/><polyline points="86.3,564.5 86.7,563.6 88.1,562.3" stroke-width="0.75"/><polyline points="33.3,565.5 33.9,563.9 34.4,561.9" stroke-width="0.9"/><polyline points="73.3,549.1 74.3,550.4 75.3,551.7 77.1,551.8 78.4,552.3 79.5,553.8" stroke-width="0.9"/><polyline points="118.7,639.2 120,639.8 121.4,639.3 122.8,639.2 124.6,640.0" stroke-width="0.6"/><polyline points="92.2,643.1 91.2,642.3 89.9,640.8 89.3,639.6 89.7,638.5 89.9,637.1" stroke-width="0.75"/><polyline points="24.3,637.9 23.8,636.6 22.7,634.9 21.9,633.9" stroke-width="0.9"/><polyline points="25,624.4 26.4,624.0 26.9,622.5 28.4,621.9" stroke-width="0.6"/><polyline points="60.2,578.1 61.4,578.4 62.6,579.3 64.4,579.5 65.4,579.4" stroke-width="0.6"/><polyline points="18.5,624.9 18.8,623.5 19.5,622.3 19.3,621.2 19.2,619.5 20.4,618.2" stroke-width="0.9"/><polyline points="46.5,576.5 46.6,575.0 47.5,573.4" stroke-width="0.6"/><polyline points="47.8,579.0 49,578.0 50.1,576.4 50.5,575.0" stroke-width="0.75"/><polyline points="35.3,639.0 35.9,637.7 37.2,637.7 38.2,637.3 39.3,637.3" stroke-width="0.75"/><polyline points="92.4,555.6 93.5,554.2 95.3,554.8 96.3,554.3 97.2,553.8" stroke-width="0.9"/><polyline points="33.7,558.0 34.8,557.9 36.4,557.9" stroke-width="0.9"/><polyline points="74.4,631.5 75.7,632.3 77.1,633.0" stroke-width="0.9"/><polyline points="113.9,581.8 115.6,581.6 117,580.3 118.6,580.0 119.8,580.3 121,578.8" stroke-width="0.75"/><polyline points="94.2,590.8 94.4,589.7 94.1,587.8 94.3,586.0" stroke-width="0.75"/><polyline points="62.6,619.3 61.8,618.0 61.6,616.9 62.2,615.8 62.4,614.7 62.4,613.6" stroke-width="0.75"/><polyline points="111.5,577.1 113,577.9 114.5,578.7" stroke-width="0.75"/><polyline points="108.5,607.7 110.1,608.3 111.8,608.1 113.3,607.7 114.5,606.8 115.4,607.2" stroke-width="0.9"/><polyline points="50.4,579.6 51.2,578.7 52.3,578.0 53.2,576.4 54.9,576.0" stroke-width="0.75"/><polyline points="21,563.8 22.9,563.8 23.8,564.5 24.5,565.5" stroke-width="0.75"/><polyline points="56.9,600.1 58.7,600.8 59.8,602.2 60.9,602.0 62,601.9 63.3,601.7" stroke-width="0.9"/><polyline points="102.2,644.5 103.3,643.7 104.8,642.9 105.4,641.7 106.3,640.5 106.7,639.3" stroke-width="0.75"/><polyline points="81.1,600.0 81.4,598.9 81.8,597.5 82.4,595.7" stroke-width="0.75"/><polyline points="85.6,564.5 87,565.6 88.1,565.7 88.8,566.6 89.8,567.0" stroke-width="0.9"/><polyline points="99.4,541.9 101,542.5 102.4,543.3" stroke-width="0.6"/><polyline points="83.4,572.3 83.9,571.4 83.6,570.0 83.5,568.9 84.1,567.5" stroke-width="0.75"/><polyline points="107.2,553.3 108.4,553.1 109,551.8" stroke-width="0.9"/><polyline points="83.6,562.7 83.4,560.7 84.7,559.7" stroke-width="0.9"/><polyline points="33.3,611.8 32.6,610.6 33.3,609.4 32.5,608.3 32.9,607.1 32.2,605.9" stroke-width="0.9"/><polyline points="54.6,573.3 54.8,572.2 53.4,571.5" stroke-width="0.6"/><polyline points="111.1,623.1 112.9,622.9 113.9,623.2 114.9,624.9" stroke-width="0.6"/><polyline points="75.9,579.2 76.9,580.2 78.6,580.4" stroke-width="0.9"/><polyline points="18.4,564.6 18,562.9 17.3,561.6 16,560.4 16.5,559.1" stroke-width="0.9"/><polyline points="100.8,571.9 101.7,571.0 102.6,570.2 103.2,568.9 103.3,567.8" stroke-width="0.9"/><polyline points="93.2,631.3 95,631.0 96.2,632.1 97.1,632.7 98.1,634.3" stroke-width="0.6"/><polyline points="37.7,546.9 39,545.8 39.4,544.7 40.7,543.3 40.6,541.6" stroke-width="0.9"/><polyline points="118.9,552.1 119.6,551.4 121.1,551.9 122.3,552.2" stroke-width="0.75"/><polyline points="95.9,613.6 97.8,613.1 98.5,611.7" stroke-width="0.75"/><polyline points="62.5,627.5 63.1,628.3 64.2,628.8 64.9,629.5 66.5,629.1 67.7,630.3" stroke-width="0.9"/><polyline points="84.9,625.6 84.6,624.0 84.3,622.7 84.9,621.2" stroke-width="0.6"/><polyline points="46.2,583.5 47.1,582.5 48.2,581.9" stroke-width="0.6"/><polyline points="80.1,613.4 81.5,613.0 82.5,611.8" stroke-width="0.9"/><polyline points="89.4,556.1 90.9,557.4 92.7,557.6 94.3,557.0" stroke-width="0.75"/><polyline points="55.6,609.4 56.5,607.7 58.2,607.1 59.2,606.8 60.8,605.8" stroke-width="0.6"/><polyline points="74.5,560.1 76.5,560.1 77.4,559.5 79.3,559.1 80.3,557.6" stroke-width="0.6"/><polyline points="36.3,564.2 37.5,563.8 39,563.1 40.1,561.8" stroke-width="0.6"/><polyline points="104.9,543.5 105.4,542.3 106.4,541.5 107.3,540.4" stroke-width="0.9"/><polyline points="78.4,601.5 77.9,600.6 78,599.2 78.4,597.9" stroke-width="0.6"/><polyline points="41.1,544.3 42.4,543.8 43.8,543.7" stroke-width="0.6"/><polyline points="65.9,579.6 66.6,578.7 67.9,577.2" stroke-width="0.6"/><polyline points="121.1,609.7 122.2,608.2 123.1,606.7 124.5,606.4 125.7,605.4" stroke-width="0.9"/><polyline points="53.7,547.2 55.2,547.7 56.4,547.8" stroke-width="0.6"/><polyline points="110.9,595.5 112.2,595.5 112.7,594.4 113.2,593.4 114.5,591.9 114.9,590.9" stroke-width="0.9"/><polyline points="18.6,601.1 18.6,599.4 18.4,597.5 19.8,596.9 19.6,595.0" stroke-width="0.6"/><polyline points="32.4,619.5 33,617.6 34.7,616.9 35.6,616.2 36.2,614.9" stroke-width="0.6"/><polyline points="119.7,639.0 120.5,637.3 121.7,636.2 123,635.6 124.7,634.9 125.6,633.3" stroke-width="0.6"/><polyline points="47,627.0 47.1,625.7 47,624.5 47.4,623.6 47.6,622.0" stroke-width="0.9"/><polyline points="107.8,643.7 108.7,643.2 110.3,643.7 112.1,644.0" stroke-width="0.9"/><polyline points="35.8,580.6 37.8,580.6 39.5,580.4" stroke-width="0.75"/><polyline points="72.8,642.9 73.4,641.1 73.5,640.0 73.3,638.6 74.1,636.8 74.7,634.9" stroke-width="0.6"/><polyline points="98.8,640.9 99.7,639.4 99.9,638.1 100.5,636.3 101.4,635.9 102.7,635.6" stroke-width="0.75"/><polyline points="99.2,640.4 101.2,640.2 102.3,639.5 103.4,637.9 104.6,637.9 105.6,637.3" stroke-width="0.75"/><polyline points="54.8,598.0 56.4,598.2 57.6,598.0 58.7,598.0" stroke-width="0.9"/><polyline points="45.5,570.8 46.5,571.2 47.9,570.9 49,570.4" stroke-width="0.9"/><polyline points="84.4,614.3 85.6,614.1 85.8,612.8 87.4,612.8" stroke-width="0.75"/><polyline points="35.4,634.0 36.1,633.1 37,632.1 37.4,631.0 38.2,629.4" stroke-width="0.75"/><polyline points="90.8,634.4 91.9,633.2 91.8,631.6" stroke-width="0.75"/></g>
<line x1="105.365" y1="638.9" x2="119.365" y2="638.9" stroke="#fff" stroke-width="1.6"/>
</g>
<g clip-path="url(#c27)">
<rect x="126" y="435.6" width="102" height="102.79999999999995" fill="#20702c" />
<g fill="#40ac46" filter="url(#ti60)"><polygon points="126,435.6 228,435.6 228,538.4 126,538.4"/></g>
<rect x="99.9" y="409.9" width="154.2" height="154.2" fill="#000" filter="url(#as61)" opacity="0.8" transform="rotate(-74 177.0 487.0)"/>
<g fill="none" stroke="#c8c8dc" stroke-linecap="round" stroke-linejoin="round" filter="url(#bl57)"><polyline points="164.9,534.1 164.8,531.1 163.7,527.8 162.8,525.2 163.9,522.3 164.4,519.2 164.9,516.0 165,513.3 165,509.9" stroke-width="0.55"/><polyline points="146.1,495.5 144.7,492.6 146.3,489.9 146.9,486.9 148.5,484.5 147.7,481.9 146.2,478.9 147.6,476.8 149.6,474.6 151.8,472.6 152.8,469.6 153.3,466.9" stroke-width="0.55"/><polyline points="151.8,489.1 154.5,487.4 157,485.5 158.1,482.1 158.3,479.4 160.6,477.5 161.3,474.8 161.8,472.2 162.2,469.2 162,466.3 162.5,463.2 163.5,460.3 164.6,457.9" stroke-width="0.55"/><polyline points="209.6,533.1 209.3,530.5 211.3,528.5 210.4,526.1 213.1,524.1 215.2,521.6 217.1,519.0 216.6,515.7 216.1,512.7 216,510.1 215.6,507.1 218,505.5 220,502.8 222.1,501.4" stroke-width="0.55"/><polyline points="229.1,527.6 230.2,524.9 231.8,522.8 233.5,519.8 235.4,518.2 237.3,516.1 239.3,513.7 239,510.3 240.9,508.2" stroke-width="0.55"/><polyline points="215.9,476.5 218.4,474.5 221.1,472.5 222.6,469.5 225,467.8 226.4,465.7 228,462.8 229.7,460.4 232,458.7 231.9,456.2" stroke-width="0.55"/><polyline points="212.1,433.0 211.2,429.7 211.1,426.8 212.8,424.8 214.8,421.9 213.7,419.0 213.9,415.5 214.6,413.1 213.7,410.4" stroke-width="0.55"/><polyline points="194.3,541.2 193.8,538.3 193.7,535.4 196.1,533.8 195.4,531.3 196.4,529.0 198.2,527.0 201.1,525.2 200.8,522.1 202.9,520.5 205.4,519.1 205.9,516.5 207.1,513.7 207.1,511.2 208.6,508.1" stroke-width="0.55"/><polyline points="190.1,463.3 189.6,460.4 191.1,457.3 192.4,454.5 194.3,451.6 196.6,449.8 196.2,446.9 198.6,444.5 200.1,442.4" stroke-width="0.55"/><polyline points="198.9,456.5 201.4,454.2 202.5,451.4 201.6,449.1 201.5,445.7 201.8,443.0 200.8,439.7 200.5,436.8 201,433.4 200.5,430.2 201.4,427.8 200.8,424.6 201,421.3 201.7,418.5 202.7,415.3" stroke-width="0.55"/><polyline points="164.4,480.7 165.5,477.5 166.3,474.3 166.5,471.5 165.9,468.8 166.2,465.7 167.8,463.6 167.1,460.4 166.6,457.8 165.8,454.8 168.1,452.8" stroke-width="0.55"/><polyline points="165.3,499.7 167,497.2 166.3,494.4 167.4,492.1 169.5,490.0 169.4,486.6 171.4,484.5 173.9,482.7 175,479.6 176.5,476.5 178.6,473.9 180,471.1 181.3,468.7 181.9,465.9" stroke-width="0.55"/><polyline points="187.4,502.1 188.2,499.4 187.4,496.7 189.5,495.1 191.1,493.1 193.2,491.8 195.3,489.6 195.2,486.7 195.6,484.2" stroke-width="0.55"/><polyline points="161.4,474.6 160.8,471.8 163.3,470.5 164.7,468.1 165.7,464.8 167.6,462.0 169.5,460.1 169,457.5 168.8,454.1 171.5,452.6" stroke-width="0.55"/><polyline points="157.5,522.4 158.8,520.1 160,517.7 162.3,515.9 164.4,514.4 165.6,511.4 165.5,508.8 167.9,507.0 169.1,504.3" stroke-width="0.55"/><polyline points="170,504.5 172.2,502.2 171.7,499.3 170.7,496.0 170.2,492.9 170.9,490.0 170.8,487.1 172.2,484.3 173.5,481.3 174.1,478.8 175.1,476.3 176,473.0" stroke-width="0.55"/><polyline points="129.7,465.6 131.9,463.3 133.6,461.3 134.5,458.8 135.7,456.3 136.1,453.1 136.9,450.5 137.2,447.3 138.6,444.2 138.3,440.8 138.8,437.7 138.9,434.4" stroke-width="0.55"/><polyline points="194.2,452.7 196.7,450.4 198.4,448.0 199.2,445.4 199.4,442.3 198.6,439.2 198.5,436.7 197.1,433.5 195.9,430.4 196.3,427.5 198.4,425.8" stroke-width="0.55"/><polyline points="170.5,440.9 171.8,438.0 172.2,434.7 170.9,432.3 171.4,429.9 170.4,427.6 171.9,425.6 171.2,422.8 171.8,420.2 171.1,417.6 173.1,415.0 175.1,412.8" stroke-width="0.55"/><polyline points="174.3,521.8 175.1,518.4 176.4,516.1 178.7,514.6 178.4,511.9 180.8,510.0 182.5,507.6 184.3,504.8 186.2,503.1 187.9,501.0 189.8,498.3" stroke-width="0.55"/><polyline points="206.3,527.0 207.9,525.0 208.6,521.7 211.2,520.2 211.1,517.6 212.4,514.9 214.9,513.6 214.5,511.0 214,508.0 215.1,505.3 216.4,502.8 216.9,499.6 218,496.6 219.5,494.3 220.8,492.2" stroke-width="0.55"/><polyline points="162.5,521.6 164.3,519.8 163,517.4 164.4,514.4 166.1,511.6 167.1,508.9 169,506.1 168.8,502.8 167.8,499.5 169,497.2 167.9,494.9 166.5,491.9 168.4,489.9 167.4,487.3" stroke-width="0.55"/><polyline points="180.2,504.2 182.9,502.3 185.3,500.0 185.7,496.7 187.8,494.7 189.4,491.9 190.4,489.1 189.6,485.7 192,483.6 191.4,480.9 193.1,478.9 195.7,476.7 194.7,473.8 196.8,471.2" stroke-width="0.55"/><polyline points="208.1,523.6 208.2,520.1 210,518.4 211.8,515.9 211.8,513.3 213.4,511.4 214.6,508.7 214.6,505.4 215.6,502.5 217.8,499.9 217,497.0 216.1,494.4 218.2,492.7 218.7,489.7 218.2,487.2" stroke-width="0.55"/><polyline points="187.5,510.7 186.7,508.1 186.7,504.7 188.9,503.1 190.4,500.1 192.8,498.1 194.6,496.0 195.9,493.7 195.9,491.1 196.4,488.3 199.4,486.6 199.9,483.7 199.4,480.4" stroke-width="0.55"/><polyline points="213.8,517.5 213.5,514.8 215.2,512.4 214.2,509.6 215.1,507.0 216.8,504.7 217.5,502.2 219.3,500.3 218.7,497.2 217.3,494.2 219.5,491.5 218.4,488.4 219.8,485.6 221.6,483.4" stroke-width="0.55"/><polyline points="205.5,452.1 206.1,449.6 205.4,446.6 207.4,444.0 207.7,441.1 209.5,438.4 210.8,435.2 210.1,432.6 210.4,429.7 210.6,426.9 209,424.0 208.4,421.1" stroke-width="0.55"/><polyline points="204.3,506.3 205,502.9 204.5,500.1 204.3,497.4 206.7,496.0 208.7,494.0 210.8,491.5 210.6,488.0 212.5,486.3 211.7,483.5 211.6,480.3 212,477.1 214.3,474.7 215.4,471.7 217.6,470.2" stroke-width="0.55"/><polyline points="159.5,531.8 160.5,529.0 161.7,526.3 160.6,523.9 159.6,520.7 161.5,518.1 163.4,515.6 163.6,512.5 163,509.6" stroke-width="0.55"/><polyline points="179.1,488.8 178.9,486.2 179.9,483.6 179.7,480.8 179.7,478.0 179.1,475.5 181.2,473.3 181.4,470.3 182.6,467.3" stroke-width="0.55"/><polyline points="217.6,507.7 218.9,505.3 220.6,502.5 222.8,500.5 223.7,497.8 226.6,496.2 227.2,493.7 227.6,491.1 230.1,489.3 229.5,485.9 232.3,484.5 233.9,482.5 233.9,479.8" stroke-width="0.55"/><polyline points="168.5,537.4 169.9,535.0 171.1,532.2 172.2,529.2 173.5,526.1 173,523.2 174.9,520.5 174.1,518.0 173,515.1 172.6,512.3 174.3,510.1 174.5,506.8 176.5,505.0 177.5,502.6" stroke-width="0.55"/><polyline points="216.8,522.4 216.8,519.5 219.5,517.5 220.8,514.9 222,512.1 222.5,509.1 225.1,507.4 224.2,504.4 223.6,501.2 222.7,498.8 223.4,496.3 224.3,493.7 223.3,490.5" stroke-width="0.55"/><polyline points="142.3,453.1 143.4,450.2 144.8,447.8 145.5,444.9 147.3,443.1 149.4,440.3 149.9,437.1 150.1,434.3 152,432.0 152.8,429.2 155.2,427.6 155.6,424.5 155.8,421.9" stroke-width="0.55"/><polyline points="151.1,462.7 151.2,459.8 151,457.3 149.5,454.2 150.5,451.0 149.6,448.6 148.1,445.6 147.8,442.3 148.4,439.6" stroke-width="0.55"/><polyline points="174.3,435.4 175.8,433.2 175.3,430.3 176,427.2 177.6,424.4 177.1,421.8 177.2,418.3 178.7,416.2 178.6,413.4 176.9,410.4 177.1,407.4 178.9,405.2" stroke-width="0.55"/><polyline points="148.7,525.1 149.2,522.1 150.1,519.0 149.7,516.5 150.3,513.7 151.6,511.5 154,509.5 155.5,506.5 158.1,505.0 160.2,502.3 161.3,499.6" stroke-width="0.55"/><polyline points="203.5,451.5 205.9,449.3 205.3,446.2 206.1,443.5 205.9,440.1 205,437.2 206.8,435.2 206.1,432.2 207.5,429.9 209.1,426.8 208.6,424.1 210.9,421.5 211.8,418.5" stroke-width="0.55"/><polyline points="147.1,519.1 148.6,516.7 148.7,514.0 147.1,510.9 147.1,508.3 147.6,505.4 148.7,502.5 147.7,499.6 146.9,496.9 146.3,493.6" stroke-width="0.55"/><polyline points="189.5,473.4 188.7,470.4 190.6,468.6 191.7,465.5 190.3,463.0 192,460.1 192.9,456.9 192.7,453.5 193.6,450.8 192.4,448.1 194.1,445.2 195.5,443.1 195.6,440.0 194.6,437.3" stroke-width="0.55"/></g>
<g fill="none" stroke="#ececf4" stroke-linecap="round" stroke-linejoin="round" filter="url(#bl58)"><polyline points="128,454.7 127.7,453.0 126.8,451.5 126.4,449.9" stroke-width="0.75"/><polyline points="153.1,482.6 154.4,481.6 155.2,480.9" stroke-width="0.75"/><polyline points="147.8,535.5 148.2,533.7 148.8,532.7" stroke-width="0.6"/><polyline points="164.4,521.8 165.4,520.6 166.4,520.0 166.6,518.3" stroke-width="0.9"/><polyline points="203.9,495.7 203.1,494.5 202.3,493.5 201.8,492.5" stroke-width="0.9"/><polyline points="157.3,460.0 156.3,458.5 155.8,457.2" stroke-width="0.9"/><polyline points="229,447.9 230.4,447.5 231.7,447.0" stroke-width="0.6"/><polyline points="205,502.8 206.1,501.7 205.9,500.0" stroke-width="0.75"/><polyline points="145.9,538.3 147.5,537.4 147.7,535.6" stroke-width="0.9"/><polyline points="154.5,475.3 155.3,473.6 156.9,472.8" stroke-width="0.75"/><polyline points="138.5,447.5 139.9,447.2 141.4,446.7 142.2,445.8 142.4,444.8 143.3,444.2" stroke-width="0.9"/><polyline points="134.6,434.9 134.7,433.2 135.2,431.5" stroke-width="0.6"/><polyline points="230.9,501.7 230.3,500.7 230.8,498.8 229.6,497.6" stroke-width="0.9"/><polyline points="160.2,449.8 161.5,448.4 161.1,447.0" stroke-width="0.9"/><polyline points="205.7,436.1 207.3,435.7 209.1,435.5 210.6,434.5 211.5,432.8 212.9,432.4" stroke-width="0.75"/><polyline points="133.5,480.5 133.9,479.4 133.8,477.9" stroke-width="0.9"/><polyline points="165.1,526.6 165.7,525.6 166.9,524.9 167.5,523.4 169.2,522.8 170.5,521.6" stroke-width="0.75"/><polyline points="141.4,478.3 142,477.0 142.7,475.5 142.7,474.4 144.4,473.6 144.4,471.9" stroke-width="0.9"/><polyline points="161.2,539.0 160.8,537.3 161.4,535.6 160.7,534.3 160.9,532.7" stroke-width="0.6"/><polyline points="193.2,540.2 194.3,539.4 194,537.6 194.1,536.0 194,534.7" stroke-width="0.9"/><polyline points="152,488.0 151.9,486.4 152.8,485.3 153.2,483.9 154.4,483.0 155.2,482.4" stroke-width="0.9"/><polyline points="218.4,440.2 219.5,439.9 221,439.2 221.8,437.5 222.3,436.3" stroke-width="0.75"/><polyline points="140.5,527.7 140.3,526.0 140.7,524.7 141,523.0" stroke-width="0.75"/><polyline points="161.6,516.3 162.6,516.0 163.2,515.0 164.5,513.6 165.4,512.2 166,511.1" stroke-width="0.6"/><polyline points="217.7,459.4 217.7,457.9 217.2,456.4 217.9,455.2 218.1,454.1 217.3,453.1" stroke-width="0.9"/><polyline points="158.6,454.4 157.7,452.8 156.7,452.0 156.5,450.5 155.6,448.9 155.2,447.5" stroke-width="0.6"/><polyline points="144.8,453.5 146.1,452.9 146.2,451.3 147.7,450.5 148.1,448.6 148.8,447.4" stroke-width="0.6"/><polyline points="209.7,464.2 211,463.4 212.2,462.8 212.2,461.7 212.7,460.2" stroke-width="0.9"/><polyline points="209.4,511.3 208.8,509.4 208.5,507.7 209.2,506.1 209.6,504.3" stroke-width="0.75"/><polyline points="164.7,481.7 164.4,480.4 165.2,479.7 166.1,477.9" stroke-width="0.75"/><polyline points="167.4,530.0 168.4,528.6 167.8,526.9 167.7,525.7 168.5,524.4" stroke-width="0.6"/><polyline points="133.8,483.7 133.6,482.6 132.7,480.9" stroke-width="0.75"/><polyline points="139.4,513.3 139.3,512.2 140.2,511.2" stroke-width="0.9"/><polyline points="162.6,440.6 163.5,439.7 163.9,438.6" stroke-width="0.75"/><polyline points="137.2,474.5 137.5,473.3 138.3,472.4 137.6,470.8 137.2,469.8 137.8,468.2" stroke-width="0.75"/><polyline points="212.8,467.4 213.2,465.6 213.9,464.1 214.1,463.0 215.4,462.1" stroke-width="0.75"/><polyline points="202.9,533.1 203.6,531.5 203.8,530.0 203.9,528.6 203.3,526.9" stroke-width="0.9"/><polyline points="165.9,483.4 167.4,482.8 168.3,482.0 168.9,480.5 169.3,478.7 169.8,477.2" stroke-width="0.75"/><polyline points="200.4,513.6 200.9,512.5 202.1,511.4" stroke-width="0.75"/><polyline points="222.9,521.5 224,520.4 225,518.8 226.3,518.3" stroke-width="0.75"/><polyline points="203.1,461.2 203.4,459.9 203.9,458.8" stroke-width="0.75"/><polyline points="165.8,476.5 166.8,475.5 167.5,474.1 168.1,473.2" stroke-width="0.6"/><polyline points="163.1,495.6 163.2,493.7 161.9,492.2" stroke-width="0.75"/><polyline points="170.4,450.7 171.1,449.6 171.3,447.8 172.2,446.6 171.8,445.0 172.1,443.6" stroke-width="0.6"/><polyline points="125.7,511.7 125.5,510.0 126.3,508.8" stroke-width="0.75"/><polyline points="212.6,517.4 211.6,516.4 210.9,515.0 211.1,514.0 211.4,512.8" stroke-width="0.75"/><polyline points="188.4,504.6 188.6,503.3 190.4,502.7" stroke-width="0.9"/><polyline points="179.6,523.1 181.1,522.4 181.5,521.4 182.7,520.8 183.8,519.8" stroke-width="0.6"/><polyline points="128.7,459.4 129.2,457.5 130.6,456.9" stroke-width="0.9"/><polyline points="189.8,442.9 190.3,441.3 191.4,439.9 192.9,438.9 192.8,437.3 193.2,435.6" stroke-width="0.6"/><polyline points="164.6,444.0 164,443.1 162.8,442.2 162.9,440.6" stroke-width="0.6"/><polyline points="180.8,528.1 181.7,527.2 182.5,526.2" stroke-width="0.6"/><polyline points="192,509.0 192.9,507.7 193.9,506.8 193.9,505.3 194.2,503.3 194.3,501.5" stroke-width="0.75"/><polyline points="222.2,529.7 222.6,528.2 223.3,526.7 223.6,525.6 224.1,524.7" stroke-width="0.75"/><polyline points="178.8,533.5 178.2,531.6 177.5,530.0 177.4,528.2 177.3,527.0" stroke-width="0.9"/><polyline points="163.5,438.1 163.8,436.5 163.8,434.8 163.4,433.5" stroke-width="0.75"/><polyline points="199.6,528.8 200,527.6 199.7,525.8 199.3,524.0 199,522.2 199.7,521.4" stroke-width="0.6"/><polyline points="195.9,499.2 195.4,497.8 196.2,496.1 197.7,495.1" stroke-width="0.6"/><polyline points="162.5,496.8 162.5,495.1 162.7,493.8 163.9,492.7 165.4,491.6 165.6,490.6" stroke-width="0.9"/><polyline points="205.9,459.9 207.1,458.9 207.9,457.2 208.1,456.2 208.6,455.2 208.8,453.6" stroke-width="0.9"/><polyline points="206.8,536.2 208,535.5 209.2,535.0 210.6,534.8" stroke-width="0.9"/><polyline points="159.2,472.6 160.2,472.1 160.6,470.5 161.5,470.2 162.1,468.6 163.2,468.5" stroke-width="0.9"/><polyline points="226.6,537.3 227.5,536.7 227.8,535.5 228.3,534.3 228.4,532.9" stroke-width="0.75"/><polyline points="208.6,516.7 207.7,515.5 206.7,514.6" stroke-width="0.6"/><polyline points="177.2,507.8 177.6,506.8 177.7,504.8" stroke-width="0.9"/><polyline points="149.2,450.5 148.2,448.8 148.2,447.8 147.6,446.8" stroke-width="0.9"/><polyline points="155.2,512.0 155.7,511.1 155.2,509.4 154.5,507.6 154,506.0" stroke-width="0.9"/><polyline points="203.9,477.2 204.2,475.3 204.2,474.2" stroke-width="0.9"/><polyline points="141.5,511.7 142.4,510.4 143.4,509.7" stroke-width="0.9"/><polyline points="181.5,517.6 182.3,516.8 183.1,516.1 183.3,514.8 184.2,514.5 185.9,513.8" stroke-width="0.6"/><polyline points="168.4,494.4 168,493.3 169.1,492.1" stroke-width="0.9"/><polyline points="124.7,464.8 125.1,463.8 124.5,462.7 124.7,461.5" stroke-width="0.6"/><polyline points="225.2,496.5 224.9,494.9 225.6,493.7" stroke-width="0.9"/><polyline points="172.1,537.2 173.1,536.2 173.9,535.2 174.6,533.5 174.3,532.4 173.9,530.8" stroke-width="0.9"/><polyline points="160.4,518.7 159.2,517.2 159.2,516.0 159.5,514.8" stroke-width="0.9"/><polyline points="165.3,526.1 164.5,524.6 165.1,523.1 164.5,521.5 164.5,519.6" stroke-width="0.75"/><polyline points="130.4,473.5 130.9,472.0 130.7,470.9 131.9,469.4 130.9,467.7 131.1,466.6" stroke-width="0.75"/><polyline points="126.7,512.5 127,511.1 128.1,510.7" stroke-width="0.6"/><polyline points="162.1,539.2 161.9,537.3 161.8,535.9" stroke-width="0.6"/><polyline points="144.9,445.8 144.3,444.0 145.5,442.5 146.4,440.8 146.5,439.0" stroke-width="0.75"/><polyline points="217.4,519.6 217.5,518.6 218.4,517.2 219.3,515.6 218.7,513.7" stroke-width="0.9"/><polyline points="141.4,442.2 143.2,441.9 144.6,441.8 144.9,440.8 145.8,440.2" stroke-width="0.75"/><polyline points="218.8,444.1 218.7,442.6 218.6,440.8 219.2,439.7 220.2,438.5" stroke-width="0.6"/><polyline points="126,502.2 124.5,501.1 124.1,499.3 123.4,498.6" stroke-width="0.75"/><polyline points="187,497.0 187.7,496.2 188.4,494.8" stroke-width="0.6"/><polyline points="227.8,441.4 228.8,440.8 229.2,439.7 229.8,438.2" stroke-width="0.75"/><polyline points="190.2,477.6 190.7,476.3 191.9,474.8 193.3,474.3" stroke-width="0.9"/><polyline points="153.9,450.3 153.9,449.0 155,447.9 155.2,446.3" stroke-width="0.6"/><polyline points="223.8,512.8 224.7,511.7 224.5,510.7" stroke-width="0.6"/><polyline points="154.6,534.8 154.1,533.5 153.3,532.7 152.3,531.6 152.2,529.8 151,528.7" stroke-width="0.75"/><polyline points="198.8,464.2 199.2,463.0 199.8,461.4 199.7,460.3 200,459.3" stroke-width="0.75"/><polyline points="180.8,484.3 181.8,483.9 182.6,482.2" stroke-width="0.6"/><polyline points="182.7,523.8 183.6,522.7 184.1,521.8 184,520.5" stroke-width="0.9"/><polyline points="211.1,525.4 211.8,524.3 212.8,523.3 213,521.5 213.6,520.1 214,518.4" stroke-width="0.6"/><polyline points="181,520.5 180.8,519.3 180.4,517.8 181.4,516.9 181.2,515.8 182.1,514.4" stroke-width="0.75"/><polyline points="229.8,527.1 228.5,526.1 228,524.9" stroke-width="0.75"/><polyline points="205.7,492.3 206.6,491.5 207,489.8 208.6,489.1" stroke-width="0.9"/><polyline points="225.4,541.1 227.1,540.3 228.5,539.5 229.9,539.1" stroke-width="0.75"/><polyline points="191.8,525.5 191.7,524.5 192.4,522.6 193.5,521.0 193.3,519.5 193.6,517.6" stroke-width="0.6"/><polyline points="173.3,529.6 173.6,528.6 174.1,527.2 172.8,526.1 172.8,524.9 172.7,523.9" stroke-width="0.9"/><polyline points="193.3,434.3 194.6,434.2 196.2,433.6 197.8,432.8" stroke-width="0.6"/><polyline points="127.6,501.3 128.7,500.1 129,499.0 129.8,498.4" stroke-width="0.9"/><polyline points="137.2,502.3 138.3,501.4 139.9,501.1 140.3,499.9 140.7,498.5" stroke-width="0.9"/><polyline points="130.2,490.6 131.2,490.4 132.3,488.8 134.2,488.5 135.5,488.3" stroke-width="0.9"/><polyline points="162.8,462.2 162.9,460.8 162.9,459.3 162.7,457.4 161.7,455.8" stroke-width="0.9"/><polyline points="146.3,434.4 147,432.7 147.7,431.5 149.1,431.2" stroke-width="0.75"/><polyline points="140.2,459.5 140.1,457.7 141.5,456.9 141.1,455.3" stroke-width="0.9"/><polyline points="214,506.7 214.6,505.3 215.3,504.1 215.7,503.1" stroke-width="0.6"/><polyline points="184.1,487.0 185,485.9 185.1,484.7 185.6,483.5 186,481.8 186.8,480.8" stroke-width="0.6"/><polyline points="138.3,496.7 137.2,495.9 137.5,494.6 138,493.3 136.6,492.2 137.3,490.4" stroke-width="0.75"/><polyline points="147,444.5 146.1,443.3 146.5,441.5 146.8,440.1" stroke-width="0.75"/><polyline points="177.7,504.3 177.4,503.2 177.3,501.3 177.9,500.1 177.5,498.4" stroke-width="0.75"/><polyline points="229.5,442.1 230.8,441.4 231.8,440.8 233.2,440.6 234.6,440.0" stroke-width="0.75"/><polyline points="205.5,509.2 205.7,507.6 205.6,505.7 205.9,504.4 206.1,502.8" stroke-width="0.75"/><polyline points="149.8,527.1 149.9,526.0 150.4,524.8 150.2,523.5 150.3,522.4 150.8,521.3" stroke-width="0.9"/><polyline points="223.5,480.8 223.9,479.3 225,478.3 226.1,478.2 226.3,477.0" stroke-width="0.9"/><polyline points="175.6,509.7 175.8,508.2 177,507.5 178.2,507.1 179.1,506.2 179.3,504.9" stroke-width="0.9"/><polyline points="220.6,532.5 222.3,532.4 223.6,531.2 223.8,530.2" stroke-width="0.6"/><polyline points="199.6,471.4 200.1,469.7 200.5,467.8" stroke-width="0.6"/><polyline points="173.3,490.8 172.8,489.7 173.8,488.4 173.7,486.7 174.6,485.6" stroke-width="0.9"/><polyline points="201.1,501.7 201.4,500.5 201.8,499.5 200.7,497.9" stroke-width="0.6"/><polyline points="171.9,443.9 172.3,442.9 173.6,441.7" stroke-width="0.9"/><polyline points="193.9,467.0 195.3,466.0 195.6,464.9 195.8,463.3" stroke-width="0.75"/><polyline points="219.6,446.0 218.8,445.3 218.4,443.6" stroke-width="0.75"/><polyline points="155.5,507.3 155.7,505.6 155.8,504.2 155.1,503.2" stroke-width="0.75"/><polyline points="226.8,484.5 228,484.0 228.6,482.6 230.3,481.9" stroke-width="0.75"/><polyline points="208.7,436.6 209.7,435.4 210.8,434.9 212,434.7" stroke-width="0.6"/><polyline points="186.4,487.2 187.4,485.7 187.2,484.7 187.6,483.6 188.5,482.3 189.3,480.7" stroke-width="0.6"/><polyline points="159,436.7 160.7,436.0 162,434.8 162.9,433.8" stroke-width="0.6"/><polyline points="169.5,495.1 169.8,493.4 169.9,492.4 168.4,491.0 167.3,489.7" stroke-width="0.6"/><polyline points="214.8,446.3 215.4,445.2 215.3,443.3" stroke-width="0.6"/><polyline points="230.5,478.2 231.3,477.4 232.2,476.9 231.7,475.1" stroke-width="0.75"/><polyline points="196.4,526.9 196.1,525.7 197,525.0 197.5,523.9" stroke-width="0.6"/><polyline points="159.1,526.6 158.9,524.9 158.5,523.8 158.9,522.5" stroke-width="0.75"/><polyline points="229.5,486.9 229.3,485.9 229.4,484.5 229.7,482.8 230.7,481.4" stroke-width="0.9"/><polyline points="154.8,462.6 154.4,461.6 155.4,460.2 155,458.9" stroke-width="0.6"/><polyline points="202.1,450.3 202.3,448.5 203.3,447.0 204.4,446.6" stroke-width="0.75"/><polyline points="154.2,477.4 153.7,476.0 154.4,475.1 153.8,474.2 153.5,473.0" stroke-width="0.75"/><polyline points="144.2,509.7 143.4,508.3 142.8,507.0" stroke-width="0.6"/><polyline points="125.8,471.5 125,470.5 125.2,468.8" stroke-width="0.9"/><polyline points="147.7,487.8 149,486.8 150.4,486.2" stroke-width="0.6"/><polyline points="199.9,448.3 199.3,447.4 199.4,445.7 199.4,444.4" stroke-width="0.6"/><polyline points="173,470.5 174.5,469.2 173.6,467.4 173.9,465.7 173.4,464.0 173.8,462.6" stroke-width="0.9"/><polyline points="168.9,531.7 169.5,530.8 171.1,529.8 171.4,528.6" stroke-width="0.75"/><polyline points="221.9,501.9 223.2,500.4 223.2,499.4" stroke-width="0.75"/><polyline points="126.6,498.1 127.1,496.5 126.5,495.4 126.3,493.9 126.8,492.2" stroke-width="0.6"/><polyline points="157.9,471.6 157.3,470.8 157.7,468.9 157.3,467.3 158.1,466.0 158.4,464.3" stroke-width="0.6"/><polyline points="209.8,456.2 209.2,454.7 207.8,453.5 208.6,451.7 207.9,451.0 207.8,449.2" stroke-width="0.6"/><polyline points="148.5,445.0 149.9,444.2 150.7,443.2 151.4,442.1 152.1,440.3" stroke-width="0.6"/><polyline points="162.5,460.1 163.1,458.7 164.1,457.5" stroke-width="0.6"/><polyline points="205.9,455.3 207.1,454.4 208.1,453.4 208.1,451.5 208.3,450.3 209.2,449.6" stroke-width="0.6"/><polyline points="206.1,528.3 207,526.6 207.5,525.0" stroke-width="0.6"/><polyline points="219.9,469.8 219,468.6 218.4,467.4 218.7,465.5" stroke-width="0.6"/><polyline points="212,453.7 212.9,453.2 212.9,451.8 214.1,451.0 214.1,449.1" stroke-width="0.75"/><polyline points="142,451.9 141.4,450.2 142,449.4 142.2,448.4 142.6,447.3 143.2,446.2" stroke-width="0.6"/><polyline points="193.1,477.9 192.8,476.2 193.6,474.9 194.6,473.3 195.1,472.3" stroke-width="0.9"/><polyline points="140.1,498.9 140.3,497.8 140.7,496.5" stroke-width="0.6"/><polyline points="136.7,434.8 137.8,434.7 139.1,434.6 140.4,433.9 141.9,433.5" stroke-width="0.75"/><polyline points="160.6,519.0 161.1,518.0 161.1,516.8 160.6,515.3" stroke-width="0.6"/><polyline points="169.5,523.1 170.5,522.5 170.2,520.6 170.7,519.2 171.1,517.4" stroke-width="0.6"/><polyline points="160.8,523.1 161,521.5 161.9,520.1 162.2,518.8 162.4,517.3 163.9,516.7" stroke-width="0.9"/><polyline points="182.5,444.1 181.7,442.3 181.6,440.5 181.3,439.3 181.6,438.3 180.7,437.5" stroke-width="0.9"/><polyline points="185.9,490.6 186.6,489.4 185.9,488.0 186.4,486.5 186.6,484.8 187.5,483.3" stroke-width="0.9"/><polyline points="166.2,455.8 166.9,453.9 166.7,452.6" stroke-width="0.9"/><polyline points="151.5,464.4 153.3,463.8 153.8,462.2" stroke-width="0.6"/><polyline points="157.9,455.1 157.6,453.7 157.9,452.6 157.7,451.5 157.9,450.2 158.3,448.6" stroke-width="0.75"/><polyline points="161.7,434.7 161.9,433.3 163,432.1 163.8,431.4" stroke-width="0.9"/><polyline points="165.6,460.6 165.8,459.6 166.2,458.3 166.7,457.3" stroke-width="0.9"/><polyline points="215.5,508.0 215.3,506.9 215.2,505.0 215.6,504.1 214.7,503.0" stroke-width="0.6"/><polyline points="217.9,487.9 217,487.1 216.5,485.7 215.8,485.0 216,483.0 215.9,482.0" stroke-width="0.9"/><polyline points="171.2,521.2 172,520.4 172.9,518.9 172.7,517.1 173.2,515.9 174.4,514.5" stroke-width="0.75"/><polyline points="148.7,517.4 149.7,516.8 150.9,515.8 150.4,514.1 150.6,513.1 151,511.3" stroke-width="0.75"/><polyline points="163.2,510.6 165,509.8 166.4,509.1 167.1,508.3" stroke-width="0.6"/><polyline points="171.1,511.9 172,510.9 172.7,509.9 173,508.4" stroke-width="0.9"/><polyline points="197.3,488.8 197.8,487.2 198.5,486.3 199.9,485.2" stroke-width="0.75"/><polyline points="172.3,512.3 172,511.4 171.5,509.7 172.4,508.0" stroke-width="0.9"/><polyline points="189.4,461.5 189.9,460.6 190.7,459.2" stroke-width="0.6"/><polyline points="206.4,448.0 206.8,446.4 206.9,445.2" stroke-width="0.9"/><polyline points="177.3,508.7 176.2,507.2 175.7,506.0 175.6,504.9" stroke-width="0.75"/><polyline points="228.9,463.7 228.7,462.4 228.2,461.3 228.1,460.2 228.4,458.8" stroke-width="0.6"/><polyline points="217.3,514.7 218.4,513.7 219,511.9 219.2,510.1 220.6,509.4 221,508.4" stroke-width="0.6"/><polyline points="216.9,464.4 216.8,463.4 217.5,462.3 218.4,461.1 219.6,459.7 220.2,458.9" stroke-width="0.75"/><polyline points="197.9,502.4 199.4,501.8 200.4,500.3 201.9,499.5 202.9,498.1 203.7,496.7" stroke-width="0.6"/><polyline points="126,483.0 127.5,481.8 128.2,480.1 129.5,479.8 130.3,478.1" stroke-width="0.75"/><polyline points="227.7,510.1 227.4,508.4 228.5,507.0 227.8,505.2 227.2,503.4 228.2,502.4" stroke-width="0.75"/><polyline points="149.2,469.0 150.2,468.1 150.3,466.8 151.4,466.0 152.6,464.9 152.8,463.9" stroke-width="0.9"/><polyline points="194.6,528.8 195.9,528.0 196.7,526.9" stroke-width="0.75"/><polyline points="161.9,454.4 162.4,453.5 161.8,452.7 161.6,451.7" stroke-width="0.6"/><polyline points="166.2,442.1 165.8,441.1 165.7,440.1 164.9,439.0 164.9,437.5 164.6,436.5" stroke-width="0.75"/><polyline points="124.7,468.0 125.4,467.0 126.1,466.2" stroke-width="0.6"/><polyline points="171.7,471.4 172.1,470.5 171.7,469.0 172.3,467.2" stroke-width="0.9"/><polyline points="205,519.4 205.7,518.3 206.6,517.6 207.9,516.9 208.5,515.6 209.3,514.6" stroke-width="0.6"/><polyline points="136.4,492.3 135.7,490.5 136.2,489.5 136.1,488.4 137.1,487.4 137.4,486.3" stroke-width="0.9"/><polyline points="149.3,534.7 149.1,533.1 150,532.1 150.1,530.1" stroke-width="0.75"/><polyline points="175.3,483.2 174.6,482.4 175.2,480.7 175,479.6 175.6,478.0" stroke-width="0.75"/><polyline points="146.3,482.5 146.5,480.7 146.6,479.6" stroke-width="0.75"/><polyline points="210.5,466.7 212,466.4 213.2,464.8 214,463.3 215.8,463.1" stroke-width="0.75"/><polyline points="149.8,528.3 150.3,526.9 150,525.3 150.9,524.0 151.2,522.1" stroke-width="0.9"/><polyline points="125.9,500.2 126.8,499.4 127.1,498.3 126.7,496.6 127.6,495.2 127.5,493.8" stroke-width="0.9"/><polyline points="146.9,481.3 147.6,480.5 148.8,479.5 149.8,479.2 151,478.3" stroke-width="0.75"/><polyline points="219.6,471.0 220.3,469.9 221,468.8 222.2,467.4" stroke-width="0.75"/><polyline points="129.2,528.1 130.5,527.5 131.7,526.5 132.4,525.7" stroke-width="0.9"/><polyline points="162.3,527.7 163.3,526.7 163.2,525.4 164.9,524.5 165.9,522.9" stroke-width="0.6"/><polyline points="174.2,451.5 174.2,449.9 174.3,448.0 174,446.2 174.1,445.1" stroke-width="0.75"/><polyline points="141.2,478.4 141.2,476.6 141,474.7 141.2,472.9 141.9,471.9" stroke-width="0.9"/><polyline points="205.1,495.5 205.6,493.7 205.5,492.2 204.9,490.8 205.1,489.0" stroke-width="0.6"/><polyline points="208.9,438.2 207.7,437.4 208.1,435.9" stroke-width="0.9"/><polyline points="188.5,517.3 190.1,516.7 190.5,515.7 191.7,515.2 192.9,513.8" stroke-width="0.75"/><polyline points="183.8,503.6 184.9,503.3 185.5,501.6 186.8,500.3 186.9,499.0" stroke-width="0.6"/><polyline points="123.9,479.6 124.7,477.9 124.8,476.9 126.2,476.3 127.6,475.6 129.1,474.9" stroke-width="0.75"/></g>
<line x1="209.41" y1="534.9" x2="223.41" y2="534.9" stroke="#fff" stroke-width="1.6"/>
</g>
<g clip-path="url(#c28)">
<rect x="126" y="540.2" width="102" height="102.19999999999993" fill="#2a8434" />
<g fill="#50c056" filter="url(#ti62)"><polygon points="126,540.2 228,540.2 228,642.4 126,642.4"/></g>
<rect x="100.4" y="514.6" width="153.3" height="153.3" fill="#000" filter="url(#as63)" opacity="0.8" transform="rotate(-38 177.0 591.3)"/>
<g fill="none" stroke="#c8c8dc" stroke-linecap="round" stroke-linejoin="round" filter="url(#bl57)"><polyline points="171,578.6 174,577.5 176.7,577.2 178.9,575.7 179.8,572.7 182.5,572.1 183.9,569.9 186.6,568.5 189.8,567.5 191.3,564.8 194,564.5 195.1,562.2" stroke-width="0.55"/><polyline points="200.5,612.3 203.7,612.2 205,609.5 206.9,607.1 210.2,606.1 213.1,604.7 215.9,602.7 218.8,602.4 220,599.8 222.9,599.3 224.4,597.1 227.3,595.4" stroke-width="0.55"/><polyline points="147.4,575.7 148.5,572.5 151,571.8 153.2,570.2 155.5,568.3 158.3,567.5 159.7,564.4 161.5,562.3 164.6,562.2" stroke-width="0.55"/><polyline points="140,624.1 142.6,623.4 143.7,620.9 145.9,619.2 147.5,616.6 150.2,616.5 152.8,615.9 155.7,614.5 158.4,612.5 160.4,610.4 162.8,608.6 165.3,606.6 167,604.4 169.5,603.0" stroke-width="0.55"/><polyline points="132.4,550.0 134.4,548.3 135.1,546.0 138.3,545.1 140.7,542.8 142.4,540.3 143.9,537.9 147,536.7 149.4,536.2" stroke-width="0.55"/><polyline points="198.2,624.8 198.8,621.6 201.3,619.8 204.1,617.9 204.6,615.4 207.4,613.9 209.5,611.2 210,608.3 213.4,607.6 214.2,605.2" stroke-width="0.55"/><polyline points="157.7,571.2 159.6,569.1 160.6,566.4 163.6,565.2 166.7,565.0 169.5,564.0 172.5,563.1 174,560.9 175.3,558.7 176.1,555.8 177.9,553.4 180.6,552.0 182.8,550.3" stroke-width="0.55"/><polyline points="135.4,590.9 137.9,589.9 139.5,587.8 140.6,584.7 142.6,582.0 143.5,579.6 145.7,577.3 147.4,574.6 149.8,572.1 152.3,571.0 155.5,569.8 156.3,566.7 157.6,563.7" stroke-width="0.55"/><polyline points="166.1,562.8 168,560.3 171,558.9 173.5,558.7 175.3,556.1 178.2,555.8 181,555.3 183.6,555.4 185.2,552.6 188.2,552.4 189.2,549.9 190.2,547.1 192.3,544.9 194.6,543.6" stroke-width="0.55"/><polyline points="181.1,544.5 183.5,542.2 186,541.0 189.2,540.9 191.8,538.8 194.3,538.6 197.5,538.1 199.2,535.2 201,533.3 203.4,530.9 204.8,528.0 205.9,525.3 207.7,523.4 209.1,520.6" stroke-width="0.55"/><polyline points="164.6,560.6 166.2,557.8 169.3,557.8 171.4,555.3 173.2,552.9 174.9,550.0 176,547.1 179.3,546.2 180.5,544.0 182.2,542.2 184.1,540.3 187.4,540.3 188,537.8 191.4,537.7" stroke-width="0.55"/><polyline points="168.3,562.6 169.7,560.0 172.7,559.2 174.4,556.9 177,554.9 179.7,553.7 180.7,551.0 183.7,551.2 186.7,551.3" stroke-width="0.55"/><polyline points="219.3,575.4 222.6,575.6 225.3,574.1 227.8,574.2 230,572.7 233,571.7 234.4,569.0 237.8,568.2 239.9,566.7 241.4,563.9 242.5,561.7 245.6,561.2 247.1,558.7" stroke-width="0.55"/><polyline points="179,565.1 181.5,564.2 182.5,561.6 185.2,560.2 186.3,557.2 189.8,556.9 193,556.7 193.7,553.6 194.4,551.1 196.8,549.6 200.3,549.3 202.9,547.9 205.9,546.4" stroke-width="0.55"/><polyline points="155.4,629.4 158,627.8 160.1,626.4 163.1,625.9 165.8,625.0 168.7,623.4 170.7,621.3 172.8,618.9 174.8,616.4 177.3,615.4 179.8,614.9 182.3,613.6 185.7,612.9" stroke-width="0.55"/><polyline points="169.4,567.8 171.7,565.3 174.6,563.6 176.7,561.3 177.3,558.5 180.4,558.3 182.4,556.8 185.2,555.7 187.6,553.4 189.9,552.2 192.8,550.4 195.1,549.4" stroke-width="0.55"/><polyline points="221.7,620.6 222.6,618.0 224.1,615.0 227.4,614.9 229.1,613.0 231.9,611.2 234.6,609.6 236.7,607.8 237.6,605.1 240.7,603.6 243.8,603.9 245.2,601.6 247.7,600.6 250.5,600.6 253.7,600.2" stroke-width="0.55"/><polyline points="131.7,635.8 134.6,635.0 138.1,634.8 140.6,634.7 142.3,631.9 144.7,630.2 147.6,629.8 150.1,629.1 153,627.6" stroke-width="0.55"/><polyline points="230.1,560.7 232.9,559.1 236.1,558.2 238.3,556.6 239.6,553.9 242.3,553.2 243.7,550.5 245.8,549.0 248,546.7 250.7,545.6 252.7,543.8 255,541.9" stroke-width="0.55"/><polyline points="159.5,569.7 162.5,568.7 163.5,565.6 164.6,562.4 166.4,559.6 169,559.2 172.1,559.3 173.7,556.5 176.2,556.5 178.7,555.6 179.7,552.7 181.8,551.0 184.2,549.3 186.1,547.5" stroke-width="0.55"/><polyline points="212.7,612.2 215.3,611.0 218.1,610.3 220.1,608.7 221.1,605.5 224.1,604.0 226.6,602.8 229.6,601.6 231.4,599.5 232.2,596.3" stroke-width="0.55"/><polyline points="160,626.9 163,626.3 164.1,623.5 167.1,621.9 170.5,621.6 173.2,620.9 174.7,618.6 176,615.6 176.9,612.7 179.5,612.5 180.9,610.0 182.9,607.7" stroke-width="0.55"/><polyline points="203.9,543.4 205.6,541.1 208.6,540.1 210.7,537.9 213.2,536.7 215.7,535.3 217.3,532.6 217.9,529.5 219.8,526.9 222.3,526.2" stroke-width="0.55"/><polyline points="171.2,629.5 172.7,626.6 175.3,626.4 177.9,626.3 179.1,623.2 181.9,622.5 183.2,620.1 185.9,618.5 189.2,617.7 191.3,615.5" stroke-width="0.55"/><polyline points="171.1,609.5 173.1,606.8 175.9,606.0 178.4,605.2 180.9,604.1 181.3,600.8 184.4,600.5 186.9,600.2 189.4,599.5 190,596.4 192,594.7" stroke-width="0.55"/></g>
<g fill="none" stroke="#ececf4" stroke-linecap="round" stroke-linejoin="round" filter="url(#bl58)"><polyline points="130.3,572.4 131.3,573.7 132.8,574.3 133.7,575.5 134.9,576.3" stroke-width="0.9"/><polyline points="229.3,544.0 230.1,544.7 232.1,544.6 233.5,544.4" stroke-width="0.9"/><polyline points="126.3,599.5 128,600.2 129.5,599.9 130.9,600.0 132.2,600.1 133.4,601.1" stroke-width="0.75"/><polyline points="143.3,581.7 143.1,580.4 143.8,579.6 143.9,578.4 145.3,577.6 145.5,576.5" stroke-width="0.75"/><polyline points="160,558.0 161,556.8 161.8,555.5 163.1,555.2" stroke-width="0.9"/><polyline points="142.3,545.6 143.3,545.8 144.6,546.5 146.4,546.8 148.1,547.4" stroke-width="0.75"/><polyline points="220.7,555.8 221.8,555.8 223.2,557.1 224,557.6 224.7,559.4 226.7,559.4" stroke-width="0.75"/><polyline points="145.2,592.1 144.7,591.1 144.8,589.3 144.8,587.4 143.9,586.1 143.3,585.0" stroke-width="0.9"/><polyline points="127.4,635.4 128.3,634.4 129.6,634.0 130.4,633.0" stroke-width="0.6"/><polyline points="197.8,540.4 198.9,540.8 200.3,541.4 201.8,541.5 202.8,541.3" stroke-width="0.6"/><polyline points="199.3,578.0 201.1,577.6 202.3,578.9 203.4,579.9" stroke-width="0.6"/><polyline points="147.3,564.9 148.6,563.6 150,562.3" stroke-width="0.6"/><polyline points="123.1,557.6 124.1,558.1 125.3,557.3 126.8,557.2 128.5,556.4" stroke-width="0.9"/><polyline points="163.3,543.4 164.6,543.0 165.7,542.7 166.5,541.6 168.3,541.0 168.9,540.0" stroke-width="0.6"/><polyline points="171.9,600.2 173.3,601.6 174.1,602.3 175.6,602.6 177.5,602.9 179,604.1" stroke-width="0.75"/><polyline points="221.7,571.6 221.9,569.9 221,568.5 221.2,567.4 220.9,565.7" stroke-width="0.9"/><polyline points="217.6,635.2 218.4,634.4 219.5,633.7 220.4,632.7 221.6,632.2 222.3,630.8" stroke-width="0.9"/><polyline points="139.9,563.2 140.2,562.1 141.6,561.7 142,559.9" stroke-width="0.9"/><polyline points="130.3,599.7 131.7,600.2 132.7,600.1 134.1,601.4" stroke-width="0.9"/><polyline points="184.6,636.3 185,634.8 184.8,633.3 185.6,632.8" stroke-width="0.9"/><polyline points="226.2,576.5 227.1,576.1 228.1,576.4 229.4,575.8 230.9,575.8" stroke-width="0.9"/><polyline points="135.7,610.6 135.1,609.6 135.8,608.6 134.9,607.6 135.2,606.6 135.3,605.4" stroke-width="0.75"/><polyline points="155,583.9 156.2,583.8 157.2,584.6" stroke-width="0.75"/><polyline points="199,613.6 198.9,611.9 199.6,610.1" stroke-width="0.9"/><polyline points="162.3,553.6 163,552.7 164,551.4 164.6,550.0 165.1,548.5 164.9,547.3" stroke-width="0.6"/><polyline points="205.9,566.6 206.1,564.7 206.7,562.9 207.7,562.4 208.2,560.8 210,560.2" stroke-width="0.9"/><polyline points="142.5,605.4 142.5,604.2 142.5,603.1 143.1,601.8 142,600.5" stroke-width="0.75"/><polyline points="230,617.5 230.8,616.7 230.7,614.9 230.8,613.0 230.4,611.2" stroke-width="0.9"/><polyline points="166,542.1 166.9,541.5 168.3,541.6 169.9,542.1 171.8,541.5" stroke-width="0.75"/><polyline points="212.3,551.7 213.1,550.9 214.3,551.0 215.2,550.6 216.1,549.3" stroke-width="0.9"/><polyline points="150.1,579.6 148.9,578.3 148.2,577.2" stroke-width="0.6"/><polyline points="145.4,579.4 145.7,577.5 146.2,575.8 146.7,574.4 147.6,573.4" stroke-width="0.9"/><polyline points="205.2,608.4 206.2,609.3 207.6,610.4 208.5,611.6 209.3,613.2 210.4,614.6" stroke-width="0.75"/><polyline points="142.3,562.6 142.9,561.6 143.5,560.4" stroke-width="0.6"/><polyline points="136.2,574.5 136.9,575.3 138,575.4 139.9,575.5 141.3,575.9 143.2,575.6" stroke-width="0.75"/><polyline points="229.4,600.1 230.9,601.1 232.2,600.4" stroke-width="0.6"/><polyline points="230.9,631.6 231.9,630.7 232.6,629.8 233.6,628.2 234,627.3" stroke-width="0.6"/><polyline points="127.6,597.4 129.2,598.6 130.4,599.1 131.5,599.7 133,599.6 134.6,599.5" stroke-width="0.9"/><polyline points="209.4,602.8 210.7,602.5 212.2,602.2 213.4,602.8 214.6,602.6" stroke-width="0.75"/><polyline points="189.3,644.8 188.8,643.5 189.5,641.9 190,640.3" stroke-width="0.6"/><polyline points="128.2,564.0 129.8,564.9 130.8,565.1 131.8,565.7 132.7,566.6" stroke-width="0.75"/><polyline points="222.2,569.0 222.9,567.6 223.7,566.4 224.8,565.3 224.9,564.2 226,563.8" stroke-width="0.9"/><polyline points="225.4,568.7 226.9,569.6 228.7,568.9" stroke-width="0.9"/><polyline points="150,630.8 151.2,630.4 152.4,629.4" stroke-width="0.6"/><polyline points="183,603.9 184,604.5 185.5,605.6" stroke-width="0.9"/><polyline points="162.6,623.2 163.1,622.2 162.9,621.2 162.9,619.9 163.7,618.7 164.7,618.2" stroke-width="0.75"/><polyline points="146.3,556.5 146,555.2 146.2,553.3 146.5,551.8 146.5,549.8" stroke-width="0.9"/><polyline points="123.4,588.2 124.2,588.9 125.5,590.4 126.4,591.8 127.6,592.0 129.1,591.6" stroke-width="0.9"/><polyline points="189.1,584.3 190,585.0 191.8,584.8" stroke-width="0.75"/><polyline points="182.9,544.8 184.3,544.7 186,545.0 187.7,544.1 189.1,543.4 190.9,543.7" stroke-width="0.9"/><polyline points="201.9,624.5 201.9,623.2 202.3,621.5 202.8,620.0 202.3,618.9 201.6,617.3" stroke-width="0.9"/><polyline points="182.3,602.3 181.7,601.4 182.6,599.7 182.1,597.9 182.9,596.2 183.9,594.7" stroke-width="0.6"/><polyline points="162.1,584.9 163.2,584.8 164.3,585.7" stroke-width="0.9"/><polyline points="162.3,610.6 163.8,609.9 164.7,608.9" stroke-width="0.9"/><polyline points="149.8,643.8 151.3,643.0 151.9,641.9" stroke-width="0.6"/><polyline points="179.9,571.4 180.3,570.3 179.7,568.6 179.8,566.9 179.2,565.8 179.3,564.4" stroke-width="0.6"/><polyline points="178.6,574.0 179.6,575.4 181.2,575.8 182.3,576.6 183.4,576.5" stroke-width="0.9"/><polyline points="179.5,574.2 180.4,572.6 180.5,571.3" stroke-width="0.6"/><polyline points="150,562.8 150.6,561.1 150.1,559.8" stroke-width="0.75"/><polyline points="179,620.5 180.1,620.1 181.1,620.6 182.7,619.6 183.8,620.1 185.6,620.2" stroke-width="0.9"/><polyline points="138.3,632.9 140.1,633.8 141.1,633.7 142.4,634.7" stroke-width="0.6"/><polyline points="208.1,639.9 208.9,639.0 209.6,638.1 211.1,637.3 212.2,636.8 213.6,636.9" stroke-width="0.9"/><polyline points="167.3,637.9 168.2,639.4 169.8,640.0 170.5,641.1 171.6,641.4 173.2,641.6" stroke-width="0.75"/><polyline points="167.5,560.0 167.5,558.4 166.5,557.2 166,555.7" stroke-width="0.75"/><polyline points="185.1,579.5 185.9,580.3 186.7,581.3 188.3,582.1 189.8,582.3" stroke-width="0.75"/><polyline points="175.8,556.3 175.1,555.3 174.2,554.2" stroke-width="0.6"/><polyline points="124.6,587.8 125.6,586.4 126.5,585.3 127.3,584.5 128.4,583.7 129.5,582.1" stroke-width="0.9"/><polyline points="221.8,594.3 221,593.1 221,591.3 220.5,590.4" stroke-width="0.75"/><polyline points="201.7,570.4 202.9,569.6 203.6,568.9 204.4,567.9 205.2,566.8" stroke-width="0.6"/><polyline points="150.4,625.4 151.6,624.7 152.6,623.7 153.9,622.4 154.4,621.5 155.1,620.4" stroke-width="0.6"/><polyline points="134.5,593.6 134,592.4 133.4,591.0 133.4,590.0 134.6,588.7 134.1,587.3" stroke-width="0.9"/><polyline points="126.6,567.8 128.6,567.7 129.5,566.9 130.7,567.4 131.8,567.4" stroke-width="0.9"/><polyline points="154.6,638.5 155.6,639.4 157.3,640.2 158.8,640.1 160.4,640.4" stroke-width="0.9"/><polyline points="153.2,633.4 152.7,632.0 151.7,631.0" stroke-width="0.9"/><polyline points="207.8,584.6 209,583.2 209.2,581.4 209.7,579.9 211.1,579.0" stroke-width="0.75"/><polyline points="208.1,573.2 210,573.3 211.3,572.9 212.7,571.9 213.8,570.9" stroke-width="0.9"/><polyline points="228.4,563.2 229,564.1 230.3,565.4 231.8,566.3" stroke-width="0.75"/><polyline points="184.1,572.0 184.6,570.3 185.5,569.1 186.8,568.1 187.1,566.9 187.7,565.9" stroke-width="0.6"/><polyline points="189.5,577.2 189.7,575.8 190.3,574.4 190.5,573.5 190.1,572.1 190.1,570.1" stroke-width="0.6"/><polyline points="188.9,561.3 190.1,560.7 191.1,559.9 192.1,559.0 193,558.4 193.4,557.2" stroke-width="0.75"/><polyline points="177.6,559.3 178.7,558.4 180.6,557.7 182.2,557.5" stroke-width="0.6"/><polyline points="226.4,542.6 227,541.2 228.1,540.2 228.9,538.8" stroke-width="0.75"/><polyline points="148.7,560.5 150.5,561.2 151.8,561.8 152.5,562.7 153.8,563.8 154.9,563.8" stroke-width="0.6"/><polyline points="187,611.7 188.4,612.4 189.5,613.9 190.9,614.8 192.2,614.7 193.2,615.1" stroke-width="0.6"/><polyline points="157.9,579.2 159,578.4 159.7,577.4 159.3,576.1 159.2,574.9 158.8,573.2" stroke-width="0.6"/><polyline points="135.2,616.8 136.9,616.2 138.1,616.3 139,615.7 140.9,615.9" stroke-width="0.75"/><polyline points="173.5,615.2 175.4,614.9 176.5,614.8 177.9,613.7" stroke-width="0.6"/><polyline points="226.6,579.5 226,577.6 226.4,576.3 227.7,574.9" stroke-width="0.9"/><polyline points="195.4,562.1 194.9,560.2 195.6,558.8" stroke-width="0.6"/><polyline points="137.9,582.6 139.8,582.5 140.9,582.1 142,582.0" stroke-width="0.6"/><polyline points="205.1,563.2 206.5,563.1 207.6,563.0 209.2,564.2 210.3,565.1 211.9,565.8" stroke-width="0.75"/><polyline points="131.3,542.9 132.5,541.6 132,540.3 131.3,538.7 132,537.2 132.2,535.6" stroke-width="0.9"/><polyline points="158.1,613.0 158.6,612.2 159.8,612.5 160.6,611.6" stroke-width="0.75"/><polyline points="170.2,562.3 169.7,560.8 169.2,559.2 168.3,557.8 167.1,556.6 165.9,555.0" stroke-width="0.75"/><polyline points="127.1,585.6 127.5,584.2 127,582.5 127.7,581.5 128.7,580.5" stroke-width="0.75"/><polyline points="195.8,607.9 196.6,606.8 197,605.3" stroke-width="0.6"/><polyline points="125.9,611.9 127.6,611.3 128.9,611.6 129.9,612.5 130.9,613.2" stroke-width="0.75"/><polyline points="137.8,571.7 139.2,570.8 139.3,569.1 139.2,567.7 138.9,566.8" stroke-width="0.75"/><polyline points="217.5,571.7 219.1,571.3 220.6,571.3 222.1,571.1 222.8,569.3" stroke-width="0.9"/><polyline points="206,626.8 206.8,625.1 207.6,624.3" stroke-width="0.9"/><polyline points="176.6,567.4 177.5,568.4 179.1,569.0" stroke-width="0.6"/><polyline points="131.3,627.3 132.5,626.9 133.9,627.4 135.6,627.5" stroke-width="0.6"/><polyline points="196.5,642.4 197.7,642.9 198.9,643.9" stroke-width="0.75"/><polyline points="205.6,644.9 206.6,644.2 207.5,643.5 208.5,643.2" stroke-width="0.6"/><polyline points="179.7,632.2 181.1,633.4 182.2,633.9 183,635.7 183.9,636.3 185.4,636.3" stroke-width="0.9"/><polyline points="173.6,588.4 175.1,587.3 176.5,587.9" stroke-width="0.75"/><polyline points="158.4,541.4 158.1,540.3 157.8,539.2 157.8,537.8 158.5,536.4" stroke-width="0.9"/><polyline points="221.8,553.8 223.1,554.2 224.1,554.3 225.5,555.0 226.5,556.4 226.9,557.6" stroke-width="0.6"/><polyline points="212.4,642.4 213.4,644.0 214.4,644.3 215.8,644.4 216.8,645.3" stroke-width="0.75"/><polyline points="127.8,622.8 129,621.6 129,620.1" stroke-width="0.6"/><polyline points="161,625.7 162.8,626.3 164.2,625.8 165.5,625.3 167.2,626.0 168.5,626.3" stroke-width="0.75"/><polyline points="223.8,550.6 224.1,549.1 224.9,548.1 224.2,546.4 224.5,545.0" stroke-width="0.6"/><polyline points="159.6,598.5 160.3,597.0 159.1,595.6 159.5,594.0 159.4,592.9 159.6,591.9" stroke-width="0.6"/><polyline points="126.4,604.9 128.4,604.9 129.9,606.0" stroke-width="0.75"/><polyline points="123.9,590.0 125.4,590.3 126.7,589.9 127.8,589.9 129.3,590.0 130.6,590.6" stroke-width="0.9"/><polyline points="146.4,636.8 147.5,636.6 148.2,635.0 149.5,634.5" stroke-width="0.6"/><polyline points="212.3,644.7 212.7,643.0 212.6,641.2 212.7,639.9" stroke-width="0.75"/><polyline points="167.2,627.4 167.3,626.3 166.2,625.5 166,624.4 165.1,622.7" stroke-width="0.9"/><polyline points="171.8,552.4 172.9,552.5 174.1,552.4 174.9,554.0 176.4,554.7 178.1,555.2" stroke-width="0.75"/><polyline points="159.3,588.9 159.4,587.1 160.9,585.9 161.3,584.6" stroke-width="0.75"/><polyline points="187.7,624.3 187.9,623.0 186.9,621.8" stroke-width="0.6"/><polyline points="187.9,635.7 189.2,636.5 190.2,637.2 190.8,638.3 191.9,638.2 193.2,639.1" stroke-width="0.9"/><polyline points="132.7,615.6 133.7,617.1 134.5,618.3 136.2,618.8 137.8,619.4" stroke-width="0.9"/><polyline points="163.8,643.3 165.1,642.6 166.4,642.1 166.8,641.0 167.4,639.1" stroke-width="0.6"/><polyline points="229.3,593.6 231,593.3 232.5,592.7" stroke-width="0.75"/><polyline points="168.7,544.3 170.1,543.1 171.8,542.4 172.3,541.1 173.2,540.2 174.7,539.6" stroke-width="0.9"/><polyline points="204.2,555.9 203,554.8 202.2,553.9 202.7,552.3 202.3,551.3 201.2,550.0" stroke-width="0.9"/><polyline points="124,639.9 125.2,638.7 126.5,638.8 127.8,638.2" stroke-width="0.9"/><polyline points="213,644.3 212.8,642.9 213.9,641.6 214.9,640.5 215.7,639.9 216.5,638.3" stroke-width="0.9"/><polyline points="139.1,575.2 139.8,574.4 141,573.3 141.8,572.5 142.4,571.6" stroke-width="0.9"/><polyline points="200.4,609.1 202.1,609.5 203.1,609.8 204.6,609.7 205.7,608.8" stroke-width="0.6"/><polyline points="155.3,593.3 156.7,592.8 157.8,591.7" stroke-width="0.6"/><polyline points="130.3,571.8 131.6,571.9 132.7,572.5" stroke-width="0.75"/><polyline points="229,556.2 229.6,557.1 230.9,557.1 232.2,557.2 233.6,556.9" stroke-width="0.75"/><polyline points="217.8,617.0 219.1,616.3 220,615.6 221.8,615.0 222.9,615.1 224.7,614.5" stroke-width="0.6"/><polyline points="200.9,556.7 202.5,555.7 203.7,555.5" stroke-width="0.6"/><polyline points="218,623.6 217.9,622.0 216.5,621.1" stroke-width="0.9"/><polyline points="134.7,573.8 136,573.2 137.5,572.3" stroke-width="0.75"/><polyline points="146.4,595.4 147.4,594.6 148.3,594.1 149.7,593.6 150.7,592.2 152.3,591.2" stroke-width="0.6"/><polyline points="208.9,591.6 210.3,590.6 212.1,589.9 213.7,590.2 214.6,589.6" stroke-width="0.9"/><polyline points="178.2,617.6 179.4,618.0 180.6,618.3 181.7,618.8" stroke-width="0.6"/><polyline points="182.2,582.7 182.9,581.7 183.6,580.6 184.2,579.5 184.9,577.9" stroke-width="0.6"/><polyline points="220.8,612.2 221.5,610.9 222.4,609.9 224,608.8" stroke-width="0.75"/><polyline points="137.6,547.6 138.8,546.9 139.6,546.1 139.7,545.0 141.3,543.9" stroke-width="0.9"/><polyline points="135.5,599.7 136.9,600.7 138.8,600.3 140.2,601.3 141.3,601.3" stroke-width="0.75"/><polyline points="211.1,574.4 211,572.8 211.2,571.3 211.8,570.3" stroke-width="0.75"/><polyline points="127.3,628.0 128.3,627.5 129.8,626.8 130.5,625.8" stroke-width="0.9"/><polyline points="128.7,612.3 130,613.1 131.8,613.5 133.4,614.6 134.6,615.5 135.6,616.7" stroke-width="0.75"/><polyline points="182.4,576.4 183.3,575.8 183.9,574.4 185.2,574.0 186.1,573.2" stroke-width="0.9"/><polyline points="138.2,544.3 139.7,543.7 141.1,545.0 142.4,545.1" stroke-width="0.6"/><polyline points="209.7,605.8 210.4,604.8 211.4,603.7 212.5,603.7 213.3,602.6 214.8,601.7" stroke-width="0.6"/><polyline points="185.4,608.7 185.8,607.3 186.8,605.9 187.1,604.5 188.3,603.6 188.8,602.2" stroke-width="0.6"/><polyline points="195.1,629.8 196.2,628.3 197.3,628.6 198,627.3 199,626.4 199.9,625.7" stroke-width="0.6"/><polyline points="135,589.4 135.7,590.6 137.6,590.1 138.3,591.0 139.8,591.5" stroke-width="0.75"/><polyline points="173.4,563.6 173.5,562.3 173.2,560.9 173.5,559.1" stroke-width="0.6"/><polyline points="212.3,637.9 212.8,636.3 213.2,635.4" stroke-width="0.9"/><polyline points="175.3,549.4 176.6,549.9 177.4,548.8" stroke-width="0.6"/><polyline points="228.2,605.4 227.5,604.4 227.7,603.3 227.8,601.6 228.2,600.4 228.9,599.4" stroke-width="0.75"/><polyline points="203.4,628.3 204.3,627.2 206.1,627.1" stroke-width="0.6"/><polyline points="199.1,546.5 199.1,545.3 198.5,543.5 198.2,542.0 197,540.4 197.2,539.2" stroke-width="0.6"/><polyline points="176.7,541.9 177,540.6 176.9,539.6 178.1,538.1" stroke-width="0.9"/><polyline points="223.9,617.9 224.5,616.5 225.8,615.7 226.5,613.9" stroke-width="0.9"/><polyline points="210.2,549.6 210.6,547.7 211.9,546.6 212.7,545.1" stroke-width="0.9"/><polyline points="181.7,573.4 182.4,574.5 184.1,575.5 184.7,577.1 185.9,577.7 187.1,578.9" stroke-width="0.9"/><polyline points="203.9,640.8 205,641.4 205.4,642.3 207.1,642.7 208.1,644.4 209.5,645.0" stroke-width="0.75"/><polyline points="162.1,626.1 163.9,625.8 165.6,626.1 167.1,626.1 168.3,625.3 169.3,624.9" stroke-width="0.9"/><polyline points="200.3,613.5 202,613.9 203.4,614.0 205.2,614.7 206.7,614.7 207.8,614.6" stroke-width="0.9"/><polyline points="199.9,560.1 199.5,558.5 200.4,557.1" stroke-width="0.75"/><polyline points="168,577.1 168.4,575.5 168.1,574.2 168.4,572.3 168,570.4" stroke-width="0.6"/><polyline points="136.7,610.4 137.7,608.9 138.2,607.9 138.9,607.1" stroke-width="0.9"/><polyline points="144,621.6 145.2,620.5 146.4,620.1 147.5,618.7 148.1,617.6 149.2,616.6" stroke-width="0.6"/><polyline points="190.6,564.5 191,563.6 192.4,562.3" stroke-width="0.75"/><polyline points="138.2,565.5 138.8,563.9 139.3,561.9" stroke-width="0.9"/><polyline points="177.8,549.1 178.7,550.4 179.7,551.7 181.6,551.8 182.9,552.3 184,553.8" stroke-width="0.9"/><polyline points="222.8,639.2 224,639.8 225.5,639.3 226.8,639.2 228.6,640.0" stroke-width="0.6"/><polyline points="196.5,643.1 195.5,642.3 194.3,640.8 193.6,639.6 194,638.5 194.3,637.1" stroke-width="0.75"/><polyline points="129.2,637.9 128.8,636.6 127.7,634.9 126.9,633.9" stroke-width="0.9"/><polyline points="129.9,624.4 131.3,624.0 131.9,622.5 133.3,621.9" stroke-width="0.6"/><polyline points="164.8,578.1 166,578.4 167.2,579.3 169,579.5 170,579.4" stroke-width="0.6"/><polyline points="123.5,624.9 123.9,623.5 124.5,622.3 124.4,621.2 124.3,619.5 125.4,618.2" stroke-width="0.9"/><polyline points="151.2,576.5 151.3,575.0 152.2,573.4" stroke-width="0.6"/><polyline points="152.6,579.0 153.8,578.0 154.8,576.4 155.2,575.0" stroke-width="0.75"/><polyline points="140.2,639.0 140.8,637.7 142,637.7 143,637.3 144.1,637.3" stroke-width="0.75"/><polyline points="196.7,555.6 197.8,554.2 199.5,554.8 200.5,554.3 201.5,553.8" stroke-width="0.9"/><polyline points="138.6,558.0 139.6,557.9 141.2,557.9" stroke-width="0.9"/><polyline points="178.9,631.5 180.2,632.3 181.5,633.0" stroke-width="0.9"/><polyline points="218,581.8 219.7,581.6 221.1,580.3 222.6,580.0 223.8,580.3 225,578.8" stroke-width="0.75"/><polyline points="198.4,590.8 198.7,589.7 198.4,587.8 198.6,586.0" stroke-width="0.75"/><polyline points="167.2,619.3 166.4,618.0 166.2,616.9 166.8,615.8 167,614.7 167,613.6" stroke-width="0.75"/><polyline points="215.6,577.1 217.1,577.9 218.6,578.7" stroke-width="0.75"/><polyline points="212.6,607.7 214.3,608.3 215.9,608.1 217.4,607.7 218.5,606.8 219.5,607.2" stroke-width="0.9"/><polyline points="155.1,579.6 155.9,578.7 157,578.0 157.9,576.4 159.5,576.0" stroke-width="0.75"/><polyline points="126,563.8 127.8,563.8 128.8,564.5 129.4,565.5" stroke-width="0.75"/><polyline points="161.5,600.1 163.3,600.8 164.5,602.2 165.5,602.0 166.6,601.9 167.9,601.7" stroke-width="0.9"/><polyline points="206.4,644.5 207.5,643.7 209,642.9 209.6,641.7 210.4,640.5 210.9,639.3" stroke-width="0.75"/><polyline points="185.5,600.0 185.8,598.9 186.2,597.5 186.8,595.7" stroke-width="0.75"/><polyline points="190,564.5 191.3,565.6 192.5,565.7 193.1,566.6 194.2,567.0" stroke-width="0.9"/><polyline points="203.7,541.9 205.2,542.5 206.6,543.3" stroke-width="0.6"/><polyline points="187.8,572.3 188.3,571.4 188,570.0 187.9,568.9 188.5,567.5" stroke-width="0.75"/><polyline points="211.3,553.3 212.6,553.1 213.2,551.8" stroke-width="0.9"/><polyline points="188,562.7 187.8,560.7 189.1,559.7" stroke-width="0.9"/><polyline points="138.1,611.8 137.5,610.6 138.2,609.4 137.4,608.3 137.8,607.1 137.1,605.9" stroke-width="0.9"/><polyline points="159.3,573.3 159.5,572.2 158.1,571.5" stroke-width="0.6"/><polyline points="215.2,623.1 217,622.9 218,623.2 219,624.9" stroke-width="0.6"/><polyline points="180.4,579.2 181.3,580.2 183,580.4" stroke-width="0.9"/><polyline points="123.4,564.6 123,562.9 122.3,561.6 121,560.4 121.6,559.1" stroke-width="0.9"/><polyline points="205,571.9 205.9,571.0 206.8,570.2 207.4,568.9 207.5,567.8" stroke-width="0.9"/><polyline points="197.5,631.3 199.3,631.0 200.5,632.1 201.3,632.7 202.3,634.3" stroke-width="0.6"/><polyline points="142.5,546.9 143.8,545.8 144.2,544.7 145.5,543.3 145.4,541.6" stroke-width="0.9"/><polyline points="222.9,552.1 223.6,551.4 225.1,551.9 226.4,552.2" stroke-width="0.75"/><polyline points="200.2,613.6 202,613.1 202.7,611.7" stroke-width="0.75"/><polyline points="167.1,627.5 167.7,628.3 168.8,628.8 169.5,629.5 171,629.1 172.3,630.3" stroke-width="0.9"/><polyline points="189.3,625.6 188.9,624.0 188.6,622.7 189.3,621.2" stroke-width="0.6"/><polyline points="150.9,583.5 151.9,582.5 152.9,581.9" stroke-width="0.6"/><polyline points="184.5,613.4 185.9,613.0 186.9,611.8" stroke-width="0.9"/><polyline points="193.7,556.1 195.2,557.4 197,557.6 198.6,557.0" stroke-width="0.75"/><polyline points="160.3,609.4 161.1,607.7 162.9,607.1 163.8,606.8 165.4,605.8" stroke-width="0.6"/><polyline points="179,560.1 181,560.1 181.9,559.5 183.7,559.1 184.7,557.6" stroke-width="0.6"/><polyline points="141.2,564.2 142.4,563.8 143.8,563.1 144.9,561.8" stroke-width="0.6"/><polyline points="209.1,543.5 209.5,542.3 210.5,541.5 211.5,540.4" stroke-width="0.9"/><polyline points="182.8,601.5 182.3,600.6 182.5,599.2 182.8,597.9" stroke-width="0.6"/><polyline points="145.9,544.3 147.2,543.8 148.6,543.7" stroke-width="0.6"/><polyline points="170.4,579.6 171.1,578.7 172.5,577.2" stroke-width="0.6"/><polyline points="225.1,609.7 226.2,608.2 227.1,606.7 228.5,606.4 229.7,605.4" stroke-width="0.9"/><polyline points="158.4,547.2 159.8,547.7 161.1,547.8" stroke-width="0.6"/><polyline points="215.1,595.5 216.3,595.5 216.8,594.4 217.3,593.4 218.6,591.9 218.9,590.9" stroke-width="0.9"/><polyline points="123.7,601.1 123.6,599.4 123.4,597.5 124.8,596.9 124.6,595.0" stroke-width="0.6"/><polyline points="137.2,619.5 137.9,617.6 139.6,616.9 140.5,616.2 141,614.9" stroke-width="0.6"/><polyline points="223.7,639.0 224.6,637.3 225.7,636.2 227.1,635.6 228.7,634.9 229.6,633.3" stroke-width="0.6"/><polyline points="151.8,627.0 151.9,625.7 151.7,624.5 152.1,623.6 152.3,622.0" stroke-width="0.9"/><polyline points="212,643.7 212.9,643.2 214.5,643.7 216.3,644.0" stroke-width="0.9"/><polyline points="140.7,580.6 142.6,580.6 144.3,580.4" stroke-width="0.75"/><polyline points="177.3,642.9 177.9,641.1 177.9,640.0 177.8,638.6 178.6,636.8 179.2,634.9" stroke-width="0.6"/><polyline points="203,640.9 203.9,639.4 204.1,638.1 204.7,636.3 205.6,635.9 206.9,635.6" stroke-width="0.75"/><polyline points="203.5,640.4 205.4,640.2 206.5,639.5 207.6,637.9 208.8,637.9 209.8,637.3" stroke-width="0.75"/><polyline points="159.5,598.0 161.1,598.2 162.2,598.0 163.4,598.0" stroke-width="0.9"/><polyline points="150.3,570.8 151.3,571.2 152.7,570.9 153.7,570.4" stroke-width="0.9"/><polyline points="188.8,614.3 190,614.1 190.2,612.8 191.7,612.8" stroke-width="0.75"/><polyline points="140.2,634.0 140.9,633.1 141.9,632.1 142.2,631.0 143.1,629.4" stroke-width="0.75"/><polyline points="195.2,634.4 196.2,633.2 196.1,631.6" stroke-width="0.75"/></g>
<line x1="209.41" y1="638.9" x2="223.41" y2="638.9" stroke="#fff" stroke-width="1.6"/>
</g>
<rect x="20" y="667.4" width="208" height="207.6" fill="#ffffff" />
<g clip-path="url(#c29)">
<rect x="20" y="667.4" width="103.2" height="102.80000000000007" fill="#0a3024" />
<g fill="#238238" filter="url(#ti64)"><polygon points="20,667.4 123.2,667.4 123.2,770.2 20,770.2"/></g>
<rect x="-5.8" y="641.4" width="154.8" height="154.8" fill="#000" filter="url(#as65)" opacity="0.7" transform="rotate(-22 71.6 718.8)"/>
<g fill="#000" opacity="1" filter="url(#bl47)"><polygon points="20,671.5 23.4,674.9 27.2,677.4 31.1,679.4 35.2,681.1 39.4,682.3 43.7,683.0 48.2,683.4 53,682.8 53,682.8 49.6,679.4 45.8,676.9 41.9,674.9 37.9,673.3 33.7,672.1 29.3,671.3 24.8,670.9 20,671.5"/><polygon points="57.2,670.5 61.8,673.2 66.7,675.2 71.6,676.8 76.6,678.1 81.6,679.1 86.8,679.8 92,680.1 97.4,679.7 97.4,679.7 92.7,677.0 87.9,675.1 83,673.4 78,672.1 72.9,671.1 67.8,670.4 62.5,670.1 57.2,670.5"/><polygon points="28.3,688.0 34,693.8 40.3,698.4 46.9,702.5 53.7,705.9 60.8,708.9 68.2,711.3 75.8,713.1 84,713.7 84,713.7 78.2,707.8 71.9,703.2 65.3,699.2 58.5,695.7 51.4,692.7 44.1,690.4 36.4,688.6 28.3,688.0"/><polygon points="76.8,693.1 81,698.6 85.8,703.0 90.9,706.9 96.4,710.4 102,713.4 108,715.9 114.3,717.9 121.1,718.8 121.1,718.8 116.9,713.3 112.1,708.9 106.9,705.0 101.5,701.5 95.9,698.5 89.9,696.0 83.6,694.0 76.8,693.1"/><polygon points="97.4,677.7 100.3,681.5 103.7,684.4 107.3,686.9 111,689.1 115,690.8 119.2,692.1 123.5,693.1 128.4,693.1 128.4,693.1 125.4,689.3 122.1,686.4 118.5,683.8 114.7,681.7 110.8,680.0 106.6,678.6 102.2,677.7 97.4,677.7"/><polygon points="14.8,713.7 19.3,717.6 24,720.5 28.9,723.1 34,725.2 39.3,726.9 44.7,728.2 50.2,729.1 56.1,729.1 56.1,729.1 51.7,725.2 46.9,722.2 42,719.7 36.9,717.5 31.7,715.8 26.3,714.5 20.7,713.6 14.8,713.7"/><polygon points="35.5,725.0 39.6,729.7 44.1,733.3 49,736.3 54,738.9 59.3,741.0 64.8,742.5 70.5,743.6 76.8,743.5 76.8,743.5 72.7,738.8 68.1,735.2 63.3,732.1 58.2,729.5 53,727.5 47.5,725.9 41.7,724.9 35.5,725.0"/><polygon points="71.6,729.1 76.2,733.3 81.2,736.8 86.4,739.9 91.7,742.6 97.2,745.0 102.9,747.0 108.7,748.7 114.9,749.6 114.9,749.6 110.3,745.4 105.3,742.0 100.2,738.9 94.8,736.1 89.3,733.7 83.7,731.7 77.8,730.0 71.6,729.1"/><polygon points="14.8,749.6 18.8,752.7 23.1,754.9 27.4,756.8 31.9,758.2 36.5,759.3 41.2,760.1 45.9,760.4 51,759.9 51,759.9 47,756.9 42.7,754.6 38.4,752.8 33.9,751.3 29.3,750.2 24.6,749.5 19.9,749.2 14.8,749.6"/><polygon points="51,757.9 55.9,760.9 61.1,763.3 66.4,765.3 71.8,767.0 77.2,768.4 82.8,769.4 88.5,770.2 94.3,770.2 94.3,770.2 89.3,767.1 84.1,764.8 78.9,762.8 73.5,761.1 68,759.7 62.5,758.6 56.8,757.9 51,757.9"/><polygon points="102.6,743.5 105.1,746.4 108,748.7 111,750.7 114.1,752.4 117.4,753.8 120.9,754.9 124.5,755.7 128.4,755.8 128.4,755.8 125.8,752.8 123,750.5 120,748.6 116.8,746.9 113.5,745.5 110.1,744.4 106.5,743.6 102.6,743.5"/><polygon points="45.8,706.5 47.8,708.9 50.1,710.8 52.4,712.5 55,713.9 57.6,715.1 60.4,716.0 63.3,716.6 66.4,716.7 66.4,716.7 64.4,714.3 62.2,712.4 59.8,710.7 57.3,709.3 54.6,708.1 51.9,707.2 49,706.6 45.8,706.5"/></g>
<line x1="104.556" y1="767.2" x2="118.556" y2="767.2" stroke="#fff" stroke-width="1.6"/>
</g>
<g clip-path="url(#c30)">
<rect x="20" y="771.6" width="103.2" height="103.39999999999998" fill="#0a3024" />
<g fill="#238238" filter="url(#ti66)"><polygon points="20,771.6 123.2,771.6 123.2,875.0 20,875.0"/></g>
<rect x="-5.9" y="745.8" width="155.1" height="155.1" fill="#000" filter="url(#as67)" opacity="0.7" transform="rotate(-10 71.6 823.3)"/>
<g fill="#000" opacity="0.85" filter="url(#bl27)"><polygon points="75.5,808.0 76.8,808.5 78.2,808.8 79.5,808.8 80.8,808.7 82.1,808.5 83.3,808.1 84.5,807.5 85.7,806.6 85.7,806.6 84.3,806.0 83,805.8 81.7,805.7 80.4,805.8 79.1,806.1 77.9,806.5 76.6,807.0 75.5,808.0"/><polygon points="54.8,832.8 56.6,833.0 58.3,833.0 60.1,833.0 61.8,832.8 63.6,832.5 65.3,832.1 67,831.6 68.6,830.8 68.6,830.8 66.8,830.5 65.1,830.5 63.3,830.6 61.6,830.8 59.8,831.1 58.1,831.5 56.4,832.0 54.8,832.8"/><polygon points="21,797.6 22.6,797.9 24.2,797.9 25.8,797.7 27.3,797.5 28.8,797.1 30.3,796.7 31.8,796.1 33.2,795.2 33.2,795.2 31.6,794.9 30,794.9 28.4,795.0 26.9,795.3 25.3,795.6 23.8,796.1 22.4,796.7 21,797.6"/><polygon points="65.7,853.0 69,853.4 72.3,853.4 75.5,853.3 78.8,852.9 82,852.5 85.2,851.8 88.3,851.0 91.5,849.8 91.5,849.8 88.1,849.4 84.9,849.4 81.6,849.6 78.4,849.9 75.2,850.4 72,851.0 68.8,851.8 65.7,853.0"/><polygon points="70.6,872.5 72.7,872.6 74.8,872.5 76.8,872.4 78.9,872.1 80.9,871.8 83,871.5 85,871.0 87,870.4 87,870.4 84.9,870.3 82.8,870.4 80.8,870.5 78.7,870.8 76.7,871.1 74.6,871.5 72.6,871.9 70.6,872.5"/><polygon points="100,837.4 103.6,837.8 107.3,837.7 110.8,837.5 114.4,837.1 117.9,836.5 121.5,835.8 125,834.9 128.4,833.6 128.4,833.6 124.8,833.3 121.1,833.3 117.6,833.6 114,834.0 110.4,834.5 106.9,835.3 103.4,836.2 100,837.4"/><polygon points="93.7,857.5 95.2,858.0 96.7,858.2 98.1,858.2 99.5,858.0 100.8,857.7 102.1,857.2 103.4,856.5 104.6,855.4 104.6,855.4 103.1,854.8 101.6,854.7 100.2,854.7 98.9,854.9 97.5,855.2 96.2,855.7 94.9,856.4 93.7,857.5"/><polygon points="91.4,818.5 94.4,818.5 97.5,818.4 100.5,818.1 103.6,817.8 106.6,817.4 109.6,816.9 112.6,816.3 115.6,815.5 115.6,815.5 112.5,815.5 109.4,815.6 106.4,815.8 103.4,816.2 100.3,816.6 97.3,817.1 94.3,817.7 91.4,818.5"/><polygon points="110.5,839.2 114.3,839.3 118,839.2 121.8,838.9 125.6,838.5 129.3,838.0 133,837.4 136.8,836.7 140.5,835.7 140.5,835.7 136.6,835.6 132.9,835.8 129.1,836.1 125.3,836.4 121.6,836.9 117.9,837.5 114.1,838.3 110.5,839.2"/><polygon points="101.9,786.4 104.7,786.5 107.5,786.3 110.3,786.1 113,785.7 115.8,785.3 118.5,784.7 121.2,784.1 123.9,783.3 123.9,783.3 121.1,783.2 118.3,783.4 115.5,783.6 112.8,784.0 110,784.4 107.3,785.0 104.6,785.6 101.9,786.4"/><polygon points="93.9,841.0 96.4,841.4 98.9,841.4 101.3,841.2 103.7,840.9 106.1,840.4 108.4,839.7 110.8,838.8 113,837.5 113,837.5 110.5,837.2 108,837.2 105.5,837.3 103.1,837.7 100.8,838.2 98.4,838.9 96.1,839.8 93.9,841.0"/><polygon points="15.2,876.7 17.3,876.8 19.3,876.8 21.4,876.6 23.4,876.4 25.4,876.0 27.5,875.6 29.4,875.1 31.4,874.4 31.4,874.4 29.3,874.3 27.3,874.3 25.2,874.5 23.2,874.7 21.2,875.1 19.1,875.5 17.1,876.0 15.2,876.7"/><polygon points="10.7,831.2 12.5,831.8 14.2,831.9 15.8,831.9 17.4,831.8 19,831.4 20.6,830.9 22.1,830.2 23.6,829.1 23.6,829.1 21.9,828.6 20.2,828.4 18.5,828.4 16.9,828.6 15.3,829.0 13.8,829.5 12.2,830.2 10.7,831.2"/><polygon points="101.2,790.2 103.1,790.4 105,790.4 106.8,790.2 108.6,789.9 110.4,789.5 112.2,789.0 113.9,788.3 115.6,787.4 115.6,787.4 113.7,787.1 111.8,787.2 110,787.3 108.2,787.6 106.4,788.1 104.6,788.6 102.9,789.3 101.2,790.2"/><polygon points="122.5,809.8 125.4,809.8 128.4,809.6 131.3,809.3 134.2,808.9 137.1,808.5 139.9,808.0 142.8,807.4 145.7,806.6 145.7,806.6 142.7,806.7 139.8,806.9 136.9,807.2 134,807.5 131.1,808.0 128.2,808.5 125.3,809.1 122.5,809.8"/><polygon points="63.1,825.7 65.5,825.9 67.9,825.8 70.3,825.5 72.6,825.1 74.9,824.5 77.2,823.8 79.4,823.0 81.6,821.8 81.6,821.8 79.1,821.6 76.8,821.8 74.4,822.0 72.1,822.4 69.8,823.0 67.5,823.7 65.2,824.6 63.1,825.7"/><polygon points="26.6,772.1 28.2,772.4 29.8,772.4 31.3,772.4 32.9,772.2 34.4,772.0 35.9,771.7 37.4,771.4 38.9,770.8 38.9,770.8 37.4,770.6 35.8,770.6 34.2,770.6 32.7,770.7 31.2,770.9 29.6,771.2 28.1,771.6 26.6,772.1"/><polygon points="11.6,853.8 13.8,854.1 16,854.1 18.1,853.9 20.3,853.7 22.4,853.4 24.6,852.9 26.7,852.4 28.7,851.6 28.7,851.6 26.5,851.3 24.3,851.3 22.2,851.5 20,851.7 17.9,852.0 15.8,852.5 13.6,853.0 11.6,853.8"/><polygon points="57.6,807.6 60.4,807.7 63.2,807.5 65.9,807.2 68.7,806.8 71.4,806.3 74.1,805.7 76.8,805.1 79.5,804.2 79.5,804.2 76.7,804.1 73.9,804.3 71.1,804.6 68.4,805.0 65.7,805.5 63,806.0 60.3,806.7 57.6,807.6"/><polygon points="64.3,787.9 66.2,788.2 68.1,788.2 70,788.1 71.9,787.9 73.7,787.6 75.6,787.2 77.4,786.7 79.2,786.0 79.2,786.0 77.3,785.7 75.4,785.7 73.5,785.8 71.6,786.0 69.8,786.3 67.9,786.7 66.1,787.2 64.3,787.9"/><polygon points="41.2,825.6 44.4,825.4 47.7,825.1 50.9,824.7 54.1,824.3 57.3,823.7 60.5,823.1 63.7,822.4 66.9,821.5 66.9,821.5 63.6,821.6 60.4,821.9 57.1,822.3 53.9,822.8 50.7,823.3 47.5,824.0 44.3,824.7 41.2,825.6"/><polygon points="5.4,791.5 7.3,791.9 9.2,792.0 11,791.9 12.8,791.6 14.6,791.2 16.3,790.7 18,789.9 19.6,788.9 19.6,788.9 17.7,788.4 15.9,788.4 14.1,788.5 12.3,788.7 10.5,789.1 8.8,789.7 7.1,790.4 5.4,791.5"/><polygon points="26.9,856.4 30.7,856.4 34.4,856.1 38.2,855.6 41.9,855.1 45.6,854.4 49.2,853.6 52.9,852.6 56.5,851.4 56.5,851.4 52.7,851.4 48.9,851.7 45.2,852.1 41.5,852.7 37.8,853.4 34.1,854.2 30.5,855.1 26.9,856.4"/><polygon points="44.5,836.6 46.7,837.0 48.7,837.1 50.8,837.1 52.8,836.9 54.8,836.5 56.8,836.0 58.8,835.4 60.7,834.5 60.7,834.5 58.6,834.1 56.5,834.0 54.5,834.0 52.5,834.2 50.4,834.6 48.5,835.0 46.5,835.7 44.5,836.6"/><polygon points="34.1,868.7 36.4,869.1 38.6,869.2 40.8,869.2 43,869.1 45.2,868.8 47.3,868.4 49.5,867.8 51.6,866.9 51.6,866.9 49.3,866.5 47.1,866.4 44.9,866.4 42.7,866.6 40.6,866.9 38.4,867.3 36.2,867.9 34.1,868.7"/><polygon points="36.7,815.7 39.6,815.8 42.5,815.7 45.3,815.5 48.2,815.2 51,814.9 53.8,814.4 56.6,813.9 59.4,813.1 59.4,813.1 56.5,813.0 53.7,813.1 50.8,813.3 48,813.6 45.1,814.0 42.3,814.4 39.5,815.0 36.7,815.7"/><polygon points="84.4,868.2 86,868.4 87.6,868.5 89.1,868.4 90.7,868.3 92.2,868.1 93.8,867.8 95.3,867.5 96.8,866.9 96.8,866.9 95.2,866.7 93.6,866.7 92.1,866.7 90.5,866.8 89,867.0 87.5,867.3 85.9,867.6 84.4,868.2"/><polygon points="16.8,776.9 19.9,776.9 22.9,776.7 26,776.4 29,776.0 32,775.5 35,774.9 38,774.2 41,773.3 41,773.3 37.9,773.3 34.8,773.5 31.8,773.8 28.7,774.2 25.7,774.7 22.7,775.3 19.7,776.0 16.8,776.9"/><polygon points="48.4,815.5 50.6,815.5 52.9,815.3 55.1,815.0 57.3,814.6 59.5,814.2 61.7,813.7 63.9,813.1 66,812.3 66,812.3 63.7,812.3 61.5,812.5 59.3,812.8 57.1,813.2 54.9,813.6 52.7,814.1 50.5,814.7 48.4,815.5"/><polygon points="48,820.2 49.7,820.4 51.3,820.4 52.9,820.3 54.5,820.1 56.1,819.8 57.7,819.5 59.3,819.0 60.8,818.4 60.8,818.4 59.2,818.2 57.5,818.2 55.9,818.3 54.3,818.4 52.7,818.7 51.1,819.1 49.6,819.5 48,820.2"/><polygon points="87,781.8 88.9,781.9 90.7,781.9 92.6,781.9 94.4,781.7 96.3,781.5 98.1,781.2 100,780.8 101.8,780.2 101.8,780.2 99.9,780.1 98,780.1 96.2,780.2 94.3,780.3 92.5,780.5 90.6,780.8 88.8,781.2 87,781.8"/><polygon points="73.9,794.1 77.6,793.9 81.3,793.6 84.9,793.1 88.5,792.6 92.1,792.0 95.7,791.4 99.3,790.7 102.9,789.8 102.9,789.8 99.2,790.0 95.6,790.4 92,790.8 88.3,791.4 84.7,791.9 81.1,792.6 77.5,793.3 73.9,794.1"/><polygon points="44,874.3 47.5,873.9 51,873.4 54.5,872.9 58,872.2 61.4,871.5 64.9,870.6 68.3,869.7 71.7,868.6 71.7,868.6 68.1,869.0 64.6,869.5 61.1,870.0 57.7,870.7 54.2,871.4 50.8,872.3 47.4,873.2 44,874.3"/><polygon points="18.9,785.3 22.1,785.0 25.4,784.6 28.6,784.0 31.8,783.5 35,782.8 38.2,782.0 41.4,781.2 44.6,780.2 44.6,780.2 41.3,780.5 38,780.9 34.8,781.4 31.6,782.0 28.4,782.7 25.2,783.5 22,784.3 18.9,785.3"/><polygon points="14.5,824.9 16.7,825.2 18.8,825.2 20.9,825.1 22.9,824.9 25,824.5 27,824.1 29.1,823.5 31.1,822.7 31.1,822.7 28.9,822.4 26.8,822.4 24.7,822.6 22.6,822.8 20.6,823.1 18.5,823.6 16.5,824.1 14.5,824.9"/><polygon points="119,797.2 122.4,797.4 125.8,797.4 129.2,797.2 132.6,796.9 135.9,796.4 139.3,795.9 142.6,795.2 145.9,794.2 145.9,794.2 142.5,794.0 139.1,794.0 135.7,794.2 132.3,794.5 129,795.0 125.6,795.5 122.3,796.2 119,797.2"/><polygon points="61.3,775.9 65.3,775.9 69.3,775.5 73.3,775.1 77.2,774.4 81.1,773.7 85,772.8 88.8,771.8 92.6,770.6 92.6,770.6 88.6,770.6 84.6,771.0 80.7,771.4 76.8,772.1 72.9,772.8 69,773.7 65.1,774.7 61.3,775.9"/><polygon points="117.4,838.0 119,838.2 120.6,838.2 122.1,838.2 123.7,838.0 125.2,837.8 126.7,837.4 128.2,837.0 129.7,836.4 129.7,836.4 128.1,836.1 126.5,836.1 125,836.2 123.5,836.3 121.9,836.6 120.4,836.9 118.9,837.3 117.4,838.0"/><polygon points="121.9,868.7 125.3,868.6 128.6,868.3 131.9,867.9 135.2,867.3 138.5,866.6 141.7,865.8 144.9,864.9 148.1,863.7 148.1,863.7 144.7,863.8 141.4,864.1 138.1,864.5 134.8,865.1 131.5,865.8 128.3,866.6 125.1,867.5 121.9,868.7"/><polygon points="13.3,875.0 17,875.0 20.5,874.7 24.1,874.2 27.6,873.6 31,872.8 34.5,871.9 37.9,870.8 41.3,869.4 41.3,869.4 37.6,869.4 34.1,869.7 30.5,870.2 27,870.8 23.5,871.6 20.1,872.5 16.7,873.6 13.3,875.0"/><polygon points="51.9,834.7 53.6,835.1 55.3,835.2 56.9,835.1 58.5,834.9 60,834.5 61.5,833.9 63,833.2 64.4,832.1 64.4,832.1 62.7,831.7 61.1,831.6 59.4,831.7 57.9,831.9 56.3,832.3 54.8,832.9 53.3,833.6 51.9,834.7"/><polygon points="31.3,835.0 33.3,835.3 35.3,835.4 37.3,835.4 39.2,835.2 41.1,834.8 43,834.4 44.9,833.8 46.7,832.8 46.7,832.8 44.7,832.5 42.7,832.4 40.8,832.4 38.8,832.6 36.9,833.0 35,833.4 33.1,834.1 31.3,835.0"/><polygon points="40.5,821.0 44.5,821.0 48.4,820.6 52.3,820.1 56.2,819.4 60,818.5 63.9,817.5 67.7,816.4 71.4,814.9 71.4,814.9 67.4,815.0 63.4,815.3 59.5,815.9 55.6,816.6 51.8,817.4 48,818.4 44.2,819.6 40.5,821.0"/><polygon points="106.5,799.9 109.5,800.3 112.5,800.2 115.5,800.0 118.5,799.6 121.4,799.0 124.3,798.3 127.2,797.4 130,796.1 130,796.1 126.9,795.8 123.9,795.8 120.9,796.0 118,796.4 115,797.0 112.1,797.7 109.3,798.6 106.5,799.9"/><polygon points="9.3,849.9 12.5,850.0 15.6,849.8 18.7,849.5 21.8,849.1 24.9,848.6 28,847.9 31,847.1 34.1,846.1 34.1,846.1 30.9,846.0 27.7,846.2 24.6,846.5 21.5,846.9 18.4,847.4 15.3,848.1 12.3,848.9 9.3,849.9"/><polygon points="74,855.1 76.6,855.2 79.1,855.0 81.6,854.8 84.1,854.4 86.6,853.9 89.1,853.3 91.5,852.6 93.9,851.7 93.9,851.7 91.3,851.6 88.8,851.8 86.3,852.1 83.8,852.5 81.3,852.9 78.8,853.5 76.4,854.2 74,855.1"/><polygon points="112.8,836.3 116.6,836.6 120.4,836.6 124.2,836.3 127.9,835.9 131.7,835.4 135.4,834.6 139.1,833.7 142.7,832.5 142.7,832.5 138.9,832.2 135.1,832.2 131.3,832.5 127.6,832.9 123.8,833.5 120.1,834.2 116.4,835.1 112.8,836.3"/><polygon points="59.7,872.9 63.3,873.1 66.9,873.1 70.5,872.9 74.1,872.6 77.6,872.1 81.2,871.6 84.7,870.9 88.2,870.0 88.2,870.0 84.6,869.8 81,869.9 77.4,870.1 73.9,870.4 70.3,870.8 66.8,871.3 63.2,872.0 59.7,872.9"/><polygon points="52.2,797.0 54.4,797.6 56.5,797.9 58.7,798.0 60.8,797.8 62.9,797.6 65,797.1 67.1,796.4 69.2,795.4 69.2,795.4 67,794.8 64.8,794.5 62.6,794.5 60.5,794.6 58.4,794.9 56.3,795.3 54.2,796.0 52.2,797.0"/><polygon points="22.8,864.9 26.2,864.9 29.6,864.8 32.9,864.5 36.3,864.1 39.6,863.7 42.9,863.1 46.2,862.5 49.5,861.6 49.5,861.6 46.1,861.5 42.7,861.7 39.4,861.9 36.1,862.3 32.7,862.8 29.4,863.3 26.1,864.0 22.8,864.9"/><polygon points="103.8,815.1 105.6,815.5 107.3,815.6 109,815.6 110.7,815.4 112.4,815.1 114.1,814.7 115.7,814.1 117.3,813.2 117.3,813.2 115.5,812.8 113.8,812.7 112.1,812.7 110.4,812.9 108.7,813.2 107.1,813.7 105.4,814.3 103.8,815.1"/><polygon points="4.5,837.7 6.4,838.2 8.2,838.3 10,838.2 11.7,838.0 13.4,837.7 15.1,837.2 16.8,836.5 18.4,835.5 18.4,835.5 16.6,835.1 14.8,835.0 13,835.0 11.3,835.2 9.5,835.5 7.8,836.0 6.2,836.7 4.5,837.7"/></g>
<line x1="104.556" y1="872.0" x2="118.556" y2="872.0" stroke="#fff" stroke-width="1.6"/>
</g>
<g clip-path="url(#c31)">
<rect x="125" y="667.4" width="103" height="102.80000000000007" fill="#0a3024" />
<g fill="#238238" filter="url(#ti68)"><polygon points="125,667.4 228,667.4 228,770.2 125,770.2"/></g>
<rect x="99.2" y="641.5" width="154.5" height="154.5" fill="#000" filter="url(#as69)" opacity="0.7" transform="rotate(-22 176.5 718.8)"/>
<g fill="#000" opacity="1" filter="url(#bl47)"><polygon points="119.8,682.8 122.9,685.5 126.1,687.4 129.4,688.8 132.9,689.9 136.4,690.6 140,690.9 143.7,690.9 147.7,690.0 147.7,690.0 144.6,687.3 141.4,685.5 138.1,684.0 134.7,682.9 131.1,682.2 127.5,681.9 123.8,681.9 119.8,682.8"/><polygon points="140.4,688.0 143.7,694.5 148,699.3 152.6,703.3 157.7,706.5 163.2,709.0 169.1,710.6 175.4,711.4 182.7,710.6 182.7,710.6 179.4,704.0 175.2,699.2 170.5,695.2 165.5,692.0 160,689.6 154.1,687.9 147.7,687.1 140.4,688.0"/><polygon points="176.5,698.2 180.7,704.9 185.8,710.0 191.2,714.3 197.1,717.9 203.3,720.7 210,722.9 217,724.2 224.9,723.9 224.9,723.9 220.7,717.3 215.7,712.2 210.2,707.9 204.3,704.3 198.1,701.4 191.4,699.3 184.4,698.0 176.5,698.2"/><polygon points="186.8,673.6 191.7,676.9 196.9,679.3 202.1,681.2 207.5,682.7 212.9,683.8 218.5,684.4 224.2,684.6 230.1,683.8 230.1,683.8 225.1,680.5 220,678.1 214.7,676.2 209.4,674.7 203.9,673.6 198.4,673.0 192.7,672.8 186.8,673.6"/><polygon points="119.8,718.8 124.1,723.4 128.9,726.9 133.8,729.8 139,732.3 144.4,734.2 150,735.6 155.8,736.5 162.1,736.3 162.1,736.3 157.8,731.7 153.1,728.2 148.1,725.2 142.9,722.8 137.6,720.9 132,719.4 126.1,718.6 119.8,718.8"/><polygon points="161.1,725.0 166.8,729.6 173,733.3 179.3,736.7 185.7,739.6 192.4,742.1 199.2,744.1 206.2,745.8 213.6,746.6 213.6,746.6 207.8,741.9 201.7,738.2 195.4,734.9 188.9,732.0 182.2,729.5 175.4,727.4 168.4,725.7 161.1,725.0"/><polygon points="119.8,747.6 125.1,751.2 130.6,753.8 136.2,756.0 142,757.7 147.8,759.1 153.8,760.0 159.9,760.4 166.2,759.9 166.2,759.9 160.9,756.3 155.4,753.7 149.8,751.5 144.1,749.8 138.2,748.5 132.3,747.6 126.2,747.1 119.8,747.6"/><polygon points="186.8,749.6 191.5,753.4 196.6,756.3 201.8,758.7 207.1,760.7 212.6,762.3 218.2,763.5 224,764.2 230.1,764.0 230.1,764.0 225.3,760.2 220.3,757.4 215.1,754.9 209.7,752.9 204.3,751.3 198.6,750.2 192.9,749.4 186.8,749.6"/><polygon points="212.6,698.2 213.8,702.0 215.6,704.8 217.8,707.0 220.2,708.8 222.9,710.1 225.9,711.0 229.2,711.3 233.1,710.6 233.2,710.6 231.9,706.8 230.1,704.0 227.9,701.8 225.5,700.0 222.8,698.7 219.8,697.9 216.5,697.5 212.6,698.2"/><polygon points="145.6,667.4 148.4,669.7 151.4,671.4 154.5,672.8 157.7,674.0 161,674.9 164.3,675.5 167.7,675.8 171.3,675.6 171.4,675.6 168.5,673.3 165.5,671.6 162.4,670.2 159.3,669.1 156,668.2 152.7,667.5 149.2,667.2 145.6,667.4"/></g>
</g>
<g clip-path="url(#c32)">
<rect x="125" y="771.6" width="103" height="103.39999999999998" fill="#0a3024" />
<g fill="#238238" filter="url(#ti70)"><polygon points="125,771.6 228,771.6 228,875.0 125,875.0"/></g>
<rect x="99.0" y="745.8" width="155.1" height="155.1" fill="#000" filter="url(#as71)" opacity="0.7" transform="rotate(-10 176.5 823.3)"/>
<g fill="#000" opacity="0.85" filter="url(#bl27)"><polygon points="156.8,855.9 159.5,856.0 162.2,855.8 164.9,855.6 167.5,855.2 170.2,854.8 172.8,854.3 175.4,853.7 178,852.8 178,852.8 175.3,852.8 172.6,852.9 170,853.2 167.3,853.5 164.6,853.9 162,854.5 159.4,855.1 156.8,855.9"/><polygon points="188.7,798.5 192.8,798.8 196.9,798.8 200.9,798.6 204.9,798.2 208.9,797.6 212.9,796.9 216.9,796.0 220.8,794.7 220.8,794.7 216.7,794.4 212.6,794.4 208.6,794.6 204.6,795.0 200.6,795.5 196.6,796.3 192.6,797.2 188.7,798.5"/><polygon points="120.9,818.7 123.8,818.8 126.7,818.7 129.5,818.3 132.3,817.8 135.1,817.2 137.9,816.3 140.6,815.4 143.2,814.0 143.2,814.0 140.3,813.9 137.4,814.0 134.5,814.4 131.7,814.9 128.9,815.5 126.2,816.4 123.5,817.3 120.9,818.7"/><polygon points="146.3,838.4 150,838.7 153.8,838.7 157.5,838.6 161.2,838.2 164.9,837.8 168.6,837.1 172.2,836.3 175.8,835.2 175.8,835.2 172.1,834.8 168.3,834.8 164.6,835.0 160.9,835.3 157.2,835.8 153.5,836.4 149.9,837.2 146.3,838.4"/><polygon points="205.8,873.3 207.7,873.5 209.7,873.5 211.6,873.3 213.5,873.0 215.3,872.6 217.2,872.1 219,871.5 220.8,870.6 220.8,870.6 218.8,870.4 216.9,870.4 215,870.6 213.1,870.9 211.2,871.3 209.4,871.8 207.6,872.4 205.8,873.3"/><polygon points="222.7,852.8 224.2,853.3 225.6,853.4 226.9,853.4 228.3,853.2 229.6,852.8 230.8,852.3 232.1,851.7 233.2,850.7 233.2,850.7 231.8,850.2 230.4,850.1 229,850.1 227.7,850.3 226.4,850.7 225.1,851.2 223.9,851.8 222.7,852.8"/><polygon points="143.2,873.3 145,873.6 146.8,873.6 148.5,873.4 150.3,873.1 152,872.7 153.6,872.2 155.3,871.5 156.9,870.5 156.9,870.5 155,870.3 153.3,870.3 151.5,870.4 149.8,870.7 148.1,871.1 146.4,871.7 144.8,872.4 143.2,873.3"/><polygon points="112.4,857.1 114.6,857.3 116.8,857.3 119,857.2 121.1,857.1 123.3,856.8 125.5,856.5 127.6,856.1 129.8,855.4 129.8,855.4 127.5,855.3 125.3,855.2 123.2,855.3 121,855.5 118.8,855.8 116.7,856.1 114.5,856.5 112.4,857.1"/><polygon points="119.9,819.2 122,819.3 124.1,819.2 126.2,818.9 128.3,818.6 130.3,818.1 132.4,817.5 134.4,816.8 136.3,815.9 136.3,815.9 134.2,815.8 132.1,815.9 130,816.2 127.9,816.6 125.8,817.0 123.8,817.6 121.8,818.3 119.9,819.2"/><polygon points="122.2,772.0 125.5,772.5 128.9,772.6 132.2,772.5 135.4,772.3 138.7,771.9 141.9,771.3 145.2,770.5 148.4,769.4 148.4,769.4 145,768.9 141.7,768.8 138.4,768.8 135.1,769.1 131.9,769.5 128.6,770.1 125.4,770.9 122.2,772.0"/><polygon points="198.5,831.6 201.5,832.0 204.4,832.1 207.3,832.0 210.2,831.7 213.1,831.2 215.9,830.6 218.8,829.9 221.6,828.7 221.6,828.7 218.6,828.3 215.7,828.2 212.7,828.3 209.8,828.6 207,829.0 204.1,829.6 201.3,830.4 198.5,831.6"/><polygon points="146.2,786.9 149.3,787.1 152.2,787.0 155.1,786.7 158,786.2 160.9,785.6 163.7,784.7 166.5,783.7 169.2,782.4 169.2,782.4 166.2,782.1 163.2,782.2 160.3,782.6 157.4,783.0 154.6,783.7 151.7,784.5 148.9,785.5 146.2,786.9"/><polygon points="154.5,796.8 157.1,797.2 159.8,797.3 162.4,797.2 165,797.0 167.5,796.7 170.1,796.2 172.7,795.6 175.2,794.7 175.2,794.7 172.5,794.4 169.9,794.3 167.3,794.4 164.7,794.6 162.1,794.9 159.6,795.3 157,795.9 154.5,796.8"/><polygon points="135.5,802.9 139.1,802.8 142.6,802.5 146.1,802.0 149.5,801.3 153,800.5 156.4,799.6 159.8,798.6 163.1,797.2 163.1,797.2 159.5,797.3 156,797.7 152.5,798.2 149,798.8 145.6,799.6 142.2,800.5 138.8,801.6 135.5,802.9"/><polygon points="143,871.5 146,871.6 149,871.4 151.9,871.1 154.9,870.7 157.8,870.2 160.7,869.6 163.6,868.8 166.5,867.8 166.5,867.8 163.5,867.8 160.5,868.0 157.5,868.3 154.6,868.7 151.6,869.2 148.7,869.8 145.8,870.5 143,871.5"/><polygon points="207.4,805.6 209.2,805.9 211,805.9 212.7,805.8 214.4,805.7 216.2,805.4 217.9,805.0 219.6,804.5 221.2,803.8 221.2,803.8 219.4,803.6 217.7,803.5 215.9,803.6 214.2,803.8 212.5,804.1 210.8,804.4 209.1,804.9 207.4,805.6"/><polygon points="129,785.0 132.3,785.4 135.6,785.5 138.9,785.3 142.1,785.0 145.4,784.6 148.6,783.9 151.8,783.1 154.9,782.0 154.9,782.0 151.6,781.6 148.3,781.6 145,781.7 141.8,782.0 138.5,782.5 135.3,783.1 132.1,783.9 129,785.0"/><polygon points="186.6,860.2 189.8,860.7 193,860.8 196.2,860.7 199.4,860.5 202.6,860.1 205.7,859.6 208.9,858.9 212,857.8 212,857.8 208.7,857.4 205.5,857.3 202.3,857.3 199.1,857.6 196,858.0 192.8,858.5 189.7,859.2 186.6,860.2"/><polygon points="112.8,815.3 116.6,815.5 120.2,815.4 123.9,815.1 127.5,814.6 131.1,813.9 134.7,813.1 138.3,812.1 141.8,810.8 141.8,810.8 138,810.6 134.3,810.7 130.7,811.0 127,811.5 123.4,812.2 119.9,813.0 116.3,814.0 112.8,815.3"/><polygon points="170,853.1 172.5,853.5 174.9,853.5 177.3,853.4 179.7,853.1 182.1,852.8 184.5,852.3 186.8,851.6 189.1,850.6 189.1,850.6 186.7,850.3 184.2,850.3 181.8,850.4 179.4,850.6 177,851.0 174.7,851.5 172.3,852.2 170,853.1"/><polygon points="166.4,808.8 170,809.2 173.6,809.1 177.1,808.9 180.6,808.5 184.1,807.9 187.6,807.2 191,806.3 194.4,805.0 194.4,805.0 190.8,804.7 187.2,804.7 183.7,804.9 180.2,805.3 176.7,805.9 173.2,806.6 169.8,807.5 166.4,808.8"/><polygon points="170.5,815.3 174.5,815.2 178.5,814.8 182.4,814.4 186.4,813.8 190.3,813.2 194.2,812.4 198.1,811.5 202,810.4 202,810.4 198,810.5 194,810.8 190,811.3 186.1,811.8 182.1,812.5 178.2,813.3 174.3,814.1 170.5,815.3"/><polygon points="181.8,824.7 183.2,825.1 184.6,825.1 186,825.1 187.4,825.0 188.8,824.8 190.1,824.5 191.5,824.1 192.8,823.5 192.8,823.5 191.4,823.2 190,823.1 188.6,823.1 187.2,823.2 185.8,823.4 184.4,823.7 183.1,824.1 181.8,824.7"/><polygon points="182.2,819.9 184.7,820.3 187.2,820.4 189.7,820.3 192.1,820.1 194.5,819.7 197,819.1 199.3,818.4 201.7,817.4 201.7,817.4 199.2,817.0 196.7,816.9 194.2,817.0 191.7,817.2 189.3,817.6 186.9,818.2 184.5,818.9 182.2,819.9"/><polygon points="151.8,791.4 153.8,791.5 155.6,791.4 157.5,791.2 159.3,790.9 161.2,790.5 163,790.1 164.8,789.5 166.5,788.6 166.5,788.6 164.6,788.5 162.7,788.6 160.8,788.8 159,789.1 157.2,789.5 155.4,790.0 153.6,790.6 151.8,791.4"/><polygon points="149.3,785.8 150.7,785.8 152.1,785.7 153.5,785.5 154.9,785.3 156.2,785.0 157.6,784.6 158.9,784.1 160.2,783.5 160.2,783.5 158.8,783.5 157.4,783.6 156,783.7 154.6,784.0 153.3,784.3 151.9,784.7 150.6,785.2 149.3,785.8"/><polygon points="139.2,796.3 141.2,796.2 143.3,796.0 145.3,795.8 147.3,795.4 149.3,795.0 151.3,794.5 153.3,793.9 155.2,793.2 155.2,793.2 153.2,793.2 151.1,793.4 149.1,793.7 147.1,794.1 145.1,794.5 143.1,795.0 141.1,795.6 139.2,796.3"/><polygon points="222.6,822.1 225.3,822.5 228,822.5 230.6,822.4 233.2,822.1 235.8,821.6 238.4,821.0 241,820.1 243.5,819.0 243.5,819.0 240.7,818.6 238.1,818.6 235.4,818.7 232.8,819.0 230.2,819.5 227.6,820.2 225.1,821.0 222.6,822.1"/><polygon points="129,822.0 130.9,822.1 132.7,822.0 134.5,821.8 136.3,821.6 138.1,821.2 139.9,820.7 141.6,820.2 143.3,819.5 143.3,819.5 141.5,819.3 139.6,819.4 137.8,819.6 136,819.9 134.2,820.2 132.5,820.7 130.7,821.2 129,822.0"/><polygon points="212.5,831.4 216.6,831.3 220.7,830.8 224.8,830.2 228.8,829.5 232.8,828.6 236.7,827.5 240.7,826.4 244.6,824.9 244.6,824.9 240.4,825.1 236.3,825.6 232.3,826.2 228.3,826.9 224.3,827.8 220.3,828.8 216.4,830.0 212.5,831.4"/><polygon points="111.6,810.9 114.8,811.0 118.1,810.9 121.2,810.6 124.4,810.2 127.6,809.6 130.7,808.9 133.8,808.1 136.8,807.0 136.8,807.0 133.6,806.9 130.4,807.0 127.2,807.3 124,807.7 120.9,808.3 117.8,809.0 114.7,809.8 111.6,810.9"/><polygon points="126.7,783.4 129.4,783.2 132,782.9 134.7,782.6 137.3,782.2 139.9,781.7 142.5,781.1 145.1,780.5 147.7,779.7 147.7,779.7 145,779.8 142.3,780.1 139.7,780.5 137.1,780.9 134.5,781.4 131.9,781.9 129.3,782.6 126.7,783.4"/><polygon points="203,803.7 205.3,804.0 207.5,803.9 209.7,803.8 211.9,803.5 214.1,803.1 216.3,802.5 218.4,801.9 220.5,800.9 220.5,800.9 218.2,800.6 215.9,800.6 213.7,800.8 211.5,801.1 209.4,801.5 207.2,802.0 205.1,802.7 203,803.7"/><polygon points="130.8,840.7 134.5,841.0 138.2,841.0 141.9,840.7 145.5,840.4 149.1,839.8 152.7,839.1 156.3,838.2 159.8,836.9 159.8,836.9 156.1,836.6 152.4,836.6 148.7,836.8 145.1,837.2 141.5,837.8 137.9,838.5 134.3,839.4 130.8,840.7"/><polygon points="205.5,859.9 208.4,859.8 211.2,859.5 214.1,859.2 216.9,858.7 219.7,858.3 222.5,857.7 225.3,857.1 228.1,856.3 228.1,856.3 225.2,856.4 222.4,856.7 219.5,857.1 216.7,857.5 213.9,858.0 211.1,858.5 208.3,859.2 205.5,859.9"/><polygon points="167.1,877.0 171.2,877.4 175.2,877.5 179.3,877.4 183.3,877.1 187.3,876.6 191.3,876.0 195.3,875.2 199.2,874.0 199.2,874.0 195.1,873.5 191.1,873.4 187,873.6 183,873.9 179,874.3 175,875.0 171,875.8 167.1,877.0"/><polygon points="130.2,816.3 132.1,816.8 133.9,816.9 135.7,816.9 137.4,816.8 139.2,816.5 140.9,816.1 142.7,815.6 144.3,814.7 144.3,814.7 142.5,814.3 140.7,814.1 138.9,814.1 137.2,814.3 135.4,814.5 133.7,814.9 131.9,815.5 130.2,816.3"/><polygon points="208.6,810.0 212.1,809.8 215.5,809.6 218.9,809.2 222.3,808.7 225.6,808.1 229,807.5 232.3,806.8 235.6,805.9 235.6,805.9 232.2,806.0 228.8,806.3 225.4,806.6 222,807.1 218.7,807.7 215.3,808.3 212,809.0 208.6,810.0"/><polygon points="121.8,857.1 124.4,857.0 127,856.8 129.5,856.4 132,855.9 134.5,855.3 137,854.6 139.5,853.9 141.9,852.9 141.9,852.9 139.3,852.9 136.7,853.2 134.2,853.6 131.7,854.1 129.1,854.6 126.7,855.3 124.2,856.1 121.8,857.1"/><polygon points="121.4,864.7 124.9,864.4 128.4,863.9 131.9,863.4 135.3,862.7 138.7,861.9 142.1,861.0 145.5,860.1 148.8,858.9 148.8,858.9 145.3,859.1 141.8,859.6 138.3,860.2 134.9,860.8 131.5,861.6 128.1,862.5 124.7,863.5 121.4,864.7"/><polygon points="212.7,792.3 216.5,792.1 220.2,791.7 223.9,791.3 227.6,790.7 231.3,790.0 235,789.2 238.6,788.4 242.2,787.3 242.2,787.3 238.5,787.5 234.7,787.8 231,788.3 227.3,788.9 223.6,789.6 220,790.3 216.3,791.2 212.7,792.3"/><polygon points="128.3,828.1 131.6,828.4 134.8,828.4 137.9,828.2 141.1,827.8 144.2,827.2 147.3,826.5 150.4,825.6 153.4,824.3 153.4,824.3 150.2,824.0 147,824.1 143.8,824.3 140.6,824.7 137.5,825.2 134.4,825.9 131.3,826.8 128.3,828.1"/><polygon points="133.7,811.4 135.2,812.0 136.7,812.2 138.2,812.3 139.7,812.3 141.1,812.0 142.5,811.6 143.9,811.1 145.3,810.2 145.3,810.2 143.8,809.6 142.3,809.4 140.8,809.3 139.4,809.3 137.9,809.6 136.5,810.0 135.1,810.5 133.7,811.4"/><polygon points="203.7,849.7 206.2,849.8 208.6,849.6 211,849.4 213.5,849.1 215.8,848.6 218.2,848.1 220.6,847.5 222.9,846.8 222.9,846.8 220.5,846.7 218,846.9 215.6,847.1 213.2,847.5 210.8,847.9 208.4,848.4 206.1,849.0 203.7,849.7"/><polygon points="116.3,849.2 118.2,849.6 120,849.7 121.8,849.7 123.5,849.4 125.3,849.0 127,848.5 128.6,847.7 130.2,846.7 130.2,846.7 128.4,846.2 126.5,846.1 124.8,846.2 123,846.4 121.3,846.8 119.6,847.4 117.9,848.1 116.3,849.2"/><polygon points="115.5,803.5 117.2,804.1 118.9,804.3 120.6,804.4 122.2,804.3 123.8,804.1 125.4,803.6 127,803.0 128.6,802.0 128.6,802.0 126.9,801.4 125.2,801.1 123.5,801.1 121.9,801.2 120.2,801.4 118.6,801.9 117,802.5 115.5,803.5"/><polygon points="187.3,839.1 189.7,839.3 192.1,839.2 194.4,839.0 196.8,838.7 199.1,838.3 201.4,837.7 203.7,837.0 205.9,836.0 205.9,836.0 203.5,835.8 201.1,835.9 198.8,836.1 196.4,836.4 194.1,836.9 191.8,837.5 189.5,838.2 187.3,839.1"/><polygon points="134.3,796.6 136.3,796.9 138.2,797.0 140.1,797.0 142.1,796.8 144,796.5 145.9,796.1 147.7,795.5 149.6,794.7 149.6,794.7 147.6,794.4 145.6,794.3 143.7,794.3 141.8,794.5 139.9,794.8 138,795.2 136.1,795.8 134.3,796.6"/><polygon points="180.8,787.5 183,787.8 185.1,787.7 187.2,787.6 189.3,787.3 191.4,786.8 193.4,786.3 195.5,785.6 197.4,784.6 197.4,784.6 195.2,784.3 193.1,784.4 191,784.5 188.9,784.9 186.8,785.3 184.8,785.9 182.8,786.6 180.8,787.5"/><polygon points="120.1,818.2 123.2,818.0 126.2,817.7 129.2,817.2 132.3,816.6 135.3,816.0 138.2,815.3 141.2,814.5 144.1,813.5 144.1,813.5 141,813.6 138,814.0 134.9,814.5 131.9,815.0 128.9,815.6 126,816.4 123,817.2 120.1,818.2"/><polygon points="127.7,833.9 131.3,834.1 134.9,834.0 138.5,833.8 142.1,833.6 145.7,833.2 149.2,832.7 152.8,832.1 156.3,831.3 156.3,831.3 152.7,831.2 149.1,831.2 145.5,831.4 141.9,831.7 138.3,832.1 134.8,832.6 131.2,833.1 127.7,833.9"/><polygon points="186.4,807.1 187.9,807.5 189.4,807.5 190.8,807.5 192.2,807.3 193.6,806.9 194.9,806.4 196.2,805.8 197.5,804.8 197.5,804.8 196,804.5 194.5,804.4 193.1,804.5 191.7,804.7 190.3,805.0 188.9,805.5 187.6,806.1 186.4,807.1"/></g>
<g fill="#000" opacity="1" filter="url(#bl47)"><polygon points="181.7,854.3 185.9,857.7 190.3,860.0 194.9,862.0 199.6,863.5 204.5,864.6 209.4,865.2 214.4,865.4 219.8,864.7 219.8,864.7 215.5,861.3 211.1,858.9 206.5,857.0 201.8,855.5 197,854.4 192,853.8 187,853.6 181.7,854.3"/><polygon points="143.5,833.6 146.9,836.4 150.5,838.5 154.2,840.3 158,841.8 161.9,842.9 165.9,843.7 170.1,844.2 174.4,844.0 174.4,844.0 171.1,841.2 167.5,839.1 163.8,837.3 160,835.9 156.1,834.7 152,833.9 147.9,833.4 143.5,833.6"/><polygon points="155.9,792.3 159.5,794.3 163.2,795.8 167,797.0 170.8,797.9 174.7,798.6 178.7,798.9 182.7,799.0 186.8,798.5 186.8,798.5 183.2,796.4 179.5,794.9 175.7,793.8 171.9,792.8 168,792.2 164,791.8 160,791.8 155.9,792.3"/></g>
</g>
<text x="233.5" y="145.6" font-size="9" font-weight="bold" fill="#1fa34a" text-anchor="middle" >cTnT</text>
<text x="310.8" y="145.6" font-size="9" font-weight="bold" fill="#f0302a" text-anchor="middle" >CD31</text>
<text x="387.5" y="145.6" font-size="9" font-weight="bold" fill="#222" text-anchor="middle" >Merge</text>
<text x="485.3" y="148.8" font-size="9" font-weight="bold" fill="#1fa34a" text-anchor="middle" >cTnT</text>
<text x="564.7" y="148.8" font-size="9" font-weight="bold" fill="#f0302a" text-anchor="middle" >αSMA</text>
<text x="643" y="148.8" font-size="9" font-weight="bold" fill="#222" text-anchor="middle" >Merge</text>
<text x="233.3" y="286.3" font-size="9" font-weight="bold" fill="#1fa34a" text-anchor="middle" >cTnT</text>
<text x="310.5" y="286.3" font-size="9" font-weight="bold" text-anchor="middle"><tspan fill="#f0302a">CD31</tspan><tspan fill="#222">/</tspan><tspan fill="#2e3192">NG2</tspan></text>
<text x="387.5" y="286.3" font-size="9" font-weight="bold" fill="#222" text-anchor="middle" >Merge</text>
<text x="485.3" y="286.7" font-size="9" font-weight="bold" fill="#1fa34a" text-anchor="middle" >cTnT</text>
<text x="564.7" y="286.7" font-size="9" font-weight="bold" fill="#f0302a" text-anchor="middle" >CD45</text>
<text x="643" y="286.7" font-size="9" font-weight="bold" fill="#222" text-anchor="middle" >Merge</text>
<text transform="translate(194.7,184) rotate(-90)" font-size="8.8" font-weight="bold" fill="#000" text-anchor="middle" >Vehicle</text>
<text transform="translate(194.7,243.8) rotate(-90)" font-size="8.8" font-weight="bold" fill="#000" text-anchor="middle" >hPKM2</text>
<text transform="translate(444.2,184.4) rotate(-90)" font-size="8.8" font-weight="bold" fill="#000" text-anchor="middle" >Vehicle</text>
<text transform="translate(444.2,243.8) rotate(-90)" font-size="8.8" font-weight="bold" fill="#000" text-anchor="middle" >hPKM2</text>
<text transform="translate(194.79999999999998,317) rotate(-90)" font-size="8.8" font-weight="bold" fill="#000" text-anchor="middle" >Vehicle</text>
<text transform="translate(194.79999999999998,377) rotate(-90)" font-size="8.8" font-weight="bold" fill="#000" text-anchor="middle" >hPKM2</text>
<text transform="translate(448.2,318) rotate(-90)" font-size="8.8" font-weight="bold" fill="#000" text-anchor="middle" >Vehicle</text>
<text transform="translate(448.2,377.6) rotate(-90)" font-size="8.8" font-weight="bold" fill="#000" text-anchor="middle" >hPKM2</text>
<text transform="translate(16.8,482) rotate(-90)" font-size="8.8" font-weight="bold" fill="#000" text-anchor="middle" >Vehicle</text>
<text transform="translate(16.8,584) rotate(-90)" font-size="8.8" font-weight="bold" fill="#000" text-anchor="middle" >hPKM2</text>
<text transform="translate(16.8,720) rotate(-90)" font-size="8.8" font-weight="bold" fill="#000" text-anchor="middle" >Vehicle</text>
<text transform="translate(16.8,821) rotate(-90)" font-size="8.8" font-weight="bold" fill="#000" text-anchor="middle" >hPKM2</text>
<text x="98.5" y="429" font-size="9.5" font-weight="bold" fill="#1fa34a" text-anchor="middle" >cTnT</text>
<rect x="110.4" y="419.4" width="29.8" height="10.8" fill="#231f20" />
<text x="125.3" y="428.6" font-size="9.5" font-weight="bold" fill="#fff" text-anchor="middle" >WGA</text>
<text x="152" y="429" font-size="9.5" font-weight="bold" fill="#2e3192" text-anchor="middle" >DAPI</text>
<text x="121.6" y="663.2" font-size="11.2" font-weight="bold" text-anchor="middle"><tspan fill="#1fa34a">cTnT</tspan> <tspan fill="#e8202a">Ki67</tspan> <tspan fill="#2e3192">DAPI</tspan></text>
<text x="128" y="679" font-size="9.2" font-weight="bold" fill="#e8e020" text-anchor="start" textLength="61.5" lengthAdjust="spacingAndGlyphs">Enlarged image</text>
<text x="128" y="782.3" font-size="9.2" font-weight="bold" fill="#e8e020" text-anchor="start" textLength="61.5" lengthAdjust="spacingAndGlyphs">Enlarged image</text>
<path d="M172.8,716.8 l4.6,2.2 l-0.4,4.4 l-1.6,-2.8 z" fill="#f0e020"/>
<path d="M174.3,809.6 l4.6,2.2 l-0.4,4.4 l-1.6,-2.8 z" fill="#f0e020"/>
<text x="2.5" y="12.3" font-size="15" font-weight="bold" fill="#111" text-anchor="start" >a</text>
<text x="357" y="12.3" font-size="15" font-weight="bold" fill="#111" text-anchor="start" >o</text>
<text x="3" y="147.6" font-size="15" font-weight="bold" fill="#111" text-anchor="start" >c</text>
<text x="94" y="147.6" font-size="15" font-weight="bold" fill="#111" text-anchor="start" >e</text>
<text x="183.6" y="148.1" font-size="15" font-weight="bold" fill="#111" text-anchor="start" >b</text>
<text x="435.5" y="148.3" font-size="15" font-weight="bold" fill="#111" text-anchor="start" >d</text>
<text x="2.5" y="289.3" font-size="15" font-weight="bold" fill="#111" text-anchor="start" >g</text>
<text x="95.8" y="289.8" font-size="15" font-weight="bold" fill="#111" text-anchor="start" >i</text>
<text x="186" y="290" font-size="15" font-weight="bold" fill="#111" text-anchor="start" >f</text>
<text x="436.5" y="290" font-size="15" font-weight="bold" fill="#111" text-anchor="start" >h</text>
<text x="3" y="431.5" font-size="15" font-weight="bold" fill="#111" text-anchor="start" >j</text>
<text x="242.5" y="431.2" font-size="15" font-weight="bold" fill="#111" text-anchor="start" >k</text>
<text x="419" y="431.2" font-size="15" font-weight="bold" fill="#111" text-anchor="start" >l</text>
<text x="0.5" y="661.2" font-size="15" font-weight="bold" fill="#111" text-anchor="start" >m</text>
<text x="241.5" y="661.2" font-size="15" font-weight="bold" fill="#111" text-anchor="start" >n</text>
<text x="416.5" y="661.2" font-size="15" font-weight="bold" fill="#111" text-anchor="start" >p</text>
<g transform="translate(5,16.5) scale(1.0)">
<path d="M2,4 C4,1.5 9,1 15,1.2 C22,1.5 28,2.2 33,2.5 L36,1.5 L37,-0.5 L39,0.5 L39.5,2.8 C41,4 43,7 45,9.5 C45.5,10.5 44.5,11.5 43,11.5 C41,11.8 38.5,12.2 36.5,13.5 L35,14.5 L35.5,21.5 L34.5,22.8 L32.5,22.5 L33,21 L31.5,15.8 L30.5,22.5 L28.5,22.5 L29,21 L27.5,16 C23,16.8 18,16.8 14,16 L12.5,21 L14,22.5 L11,22.5 L9.5,17 L6,21.5 L6.5,22.8 L3.5,22.8 L3,20 C0.8,16 0.5,9 2,4 Z" fill="#ecc3c3"/>
<path d="M8,13 C14,15.5 22,15.8 28,14.5 L27.5,16 C23,16.8 18,16.8 14,16 Z M33,12 L36.5,13.5 L35,14.5 Z" fill="#dfadad"/>
<path d="M2,3.5 L1,1.5 L2.5,2.5 Z" fill="#ecc3c3"/>
<circle cx="39.5" cy="6" r="0.6" fill="#8a6a6a"/>
</g>
<text x="26" y="52.5" font-size="9" font-weight="bold" fill="#222" text-anchor="middle" >n=10</text>
<text x="25.7" y="63" font-size="9" font-weight="bold" fill="#222" text-anchor="middle" >per group</text>
<text x="25.3" y="76.3" font-size="9.4" font-weight="bold" fill="#000" text-anchor="middle" >Juvenile</text>
<text x="24.2" y="86.8" font-size="9.4" font-weight="bold" fill="#000" text-anchor="middle" >Yorkshire</text>
<text x="24.2" y="97.8" font-size="9.4" font-weight="bold" fill="#000" text-anchor="middle" >pigs</text>
<line x1="67.6" y1="25" x2="259.6" y2="25" stroke="#555" stroke-width="1.3"/>
<line x1="67.6" y1="16.5" x2="67.6" y2="33" stroke="#555" stroke-width="1.3"/>
<line x1="165" y1="16.5" x2="165" y2="33" stroke="#555" stroke-width="1.3"/>
<line x1="259.6" y1="16.5" x2="259.6" y2="33" stroke="#555" stroke-width="1.3"/>
<text x="74.5" y="14.6" font-size="9" font-weight="bold" fill="#222" text-anchor="middle" >Day -7</text>
<text x="167.7" y="14.6" font-size="9" font-weight="bold" fill="#222" text-anchor="middle" >Day 0</text>
<text x="265.7" y="14.6" font-size="9" font-weight="bold" fill="#222" text-anchor="middle" >Day 56</text>
<path d="M80,52 L103,48 M79,62 L105,80" stroke="#b8c4dc" stroke-width="0.8"/>
<circle cx="119" cy="65" r="21.5" fill="#edf1fb" stroke="#c8d2ea" stroke-width="0.8"/>
<g transform="translate(119,65)" fill="none" stroke-linecap="round">
<path d="M-14,-14 C-8,-11 -3,-10 2,-8 C6,-6 10,-6 12,-4" stroke="#c03a3a" stroke-width="1.1"/>
<path d="M-10,-12 L-12,-13" stroke="#3aa040" stroke-width="1.3"/>
<path d="M0,-9 C-2,-4 -5,2 -6,8 M2,-8 C4,-2 2,6 4,12 M6,-6 C8,0 9,4 8,10 M-3,-5 C-6,-1 -9,3 -10,6 M12,-4 C13,0 12,4 12,8 M-2,2 C0,6 -2,10 -3,15" stroke="#a0304a" stroke-width="0.9"/>
<path d="M-4,0 C-6,4 -5,8 -7,12 M4,2 C6,6 5,9 6,13" stroke="#6a3a8a" stroke-width="0.7"/>
</g>
<g transform="translate(54.5,35) scale(1.0)">
<path d="M4.3,0 L7.8,0 L8,10 L4.5,10 Z M4,27 L8,27 L8,36 L4.2,36 Z" fill="#2f7fd6"/>
<path d="M0,11 L5,11 L5,13 L0,13 Z M0.5,14.5 L5,14 L5,16 L0.5,16.2 Z M19,12.5 L25,12 L25.5,14.2 L19,14.8 Z" fill="#dc3a3a"/>
<path d="M0.5,23 C0,16 4,13.5 8,14 L20,14 C25,14 28,19 28,26 C28,32 24,36.5 18,36.5 C12,36.5 6,33.5 3,30 C1.2,28 0.6,25.5 0.5,23 Z" fill="#e2604e"/>
<path d="M0.5,22 C0.5,16 4,14 8,15 C10,19 9,26 8.5,32.5 C4,30 0.5,27 0.5,22 Z" fill="#c34a6c"/>
<path d="M18.5,14 C24,13.5 27,17 27.6,21.5 C24.5,19 21.5,18 18,18.5 Z" fill="#c34a6c"/>
<path d="M9,19 C12,21 14,24 15,28 C16,31 18,33 20,34 M12,23 C10,25 9,28 10,31 M16,18 C18,21 19,24 21,25 M20,15 C21,18 21,21 22,23 M9,27 C12,28 14,30 16,33" stroke="#f2a52a" stroke-width="1.4" fill="none" stroke-linecap="round"/>
<path d="M7.5,5 L9,5 L9,1 L7.5,1 Z M11,4.5 L12.6,4.5 L12.6,0.3 L11,0.3 Z M15,5 L16.6,5 L16.6,1 L15,1 Z" fill="#dc3a3a"/>
<path d="M7,16.5 C6.5,10 8,5 12.5,4.4 C17,4 19,7 18.6,11 C18.3,14 16,16.7 12,16.7 Z" fill="#de3f3f"/>
<path d="M12,16 C15,12 19,10 25.5,8" stroke="#2f7fd6" stroke-width="4" fill="none" stroke-linecap="round"/>
<path d="M19,11 L22.5,14" stroke="#2f7fd6" stroke-width="2.5" stroke-linecap="round"/>
</g>
<g transform="translate(153,35) scale(1.0)">
<path d="M4.3,0 L7.8,0 L8,10 L4.5,10 Z M4,27 L8,27 L8,36 L4.2,36 Z" fill="#2f7fd6"/>
<path d="M0,11 L5,11 L5,13 L0,13 Z M0.5,14.5 L5,14 L5,16 L0.5,16.2 Z M19,12.5 L25,12 L25.5,14.2 L19,14.8 Z" fill="#dc3a3a"/>
<path d="M0.5,23 C0,16 4,13.5 8,14 L20,14 C25,14 28,19 28,26 C28,32 24,36.5 18,36.5 C12,36.5 6,33.5 3,30 C1.2,28 0.6,25.5 0.5,23 Z" fill="#e2604e"/>
<path d="M0.5,22 C0.5,16 4,14 8,15 C10,19 9,26 8.5,32.5 C4,30 0.5,27 0.5,22 Z" fill="#c34a6c"/>
<path d="M18.5,14 C24,13.5 27,17 27.6,21.5 C24.5,19 21.5,18 18,18.5 Z" fill="#c34a6c"/>
<path d="M9,19 C12,21 14,24 15,28 C16,31 18,33 20,34 M12,23 C10,25 9,28 10,31 M16,18 C18,21 19,24 21,25 M20,15 C21,18 21,21 22,23 M9,27 C12,28 14,30 16,33" stroke="#f2a52a" stroke-width="1.4" fill="none" stroke-linecap="round"/>
<path d="M17.5,28 C18,25 21,24.5 23.5,25.5 C25.5,27 25.5,30.5 23.5,32.5 C21.5,34 18.5,33.5 17.5,31.5 C17,30.5 17.2,29 17.5,28 Z" fill="#5a0c12"/>
<path d="M7.5,5 L9,5 L9,1 L7.5,1 Z M11,4.5 L12.6,4.5 L12.6,0.3 L11,0.3 Z M15,5 L16.6,5 L16.6,1 L15,1 Z" fill="#dc3a3a"/>
<path d="M7,16.5 C6.5,10 8,5 12.5,4.4 C17,4 19,7 18.6,11 C18.3,14 16,16.7 12,16.7 Z" fill="#de3f3f"/>
<path d="M12,16 C15,12 19,10 25.5,8" stroke="#2f7fd6" stroke-width="4" fill="none" stroke-linecap="round"/>
<path d="M19,11 L22.5,14" stroke="#2f7fd6" stroke-width="2.5" stroke-linecap="round"/>
</g>
<g transform="translate(248,35) scale(1.0)">
<path d="M4.3,0 L7.8,0 L8,10 L4.5,10 Z M4,27 L8,27 L8,36 L4.2,36 Z" fill="#2f7fd6"/>
<path d="M0,11 L5,11 L5,13 L0,13 Z M0.5,14.5 L5,14 L5,16 L0.5,16.2 Z M19,12.5 L25,12 L25.5,14.2 L19,14.8 Z" fill="#dc3a3a"/>
<path d="M0.5,23 C0,16 4,13.5 8,14 L20,14 C25,14 28,19 28,26 C28,32 24,36.5 18,36.5 C12,36.5 6,33.5 3,30 C1.2,28 0.6,25.5 0.5,23 Z" fill="#e2604e"/>
<path d="M0.5,22 C0.5,16 4,14 8,15 C10,19 9,26 8.5,32.5 C4,30 0.5,27 0.5,22 Z" fill="#c34a6c"/>
<path d="M18.5,14 C24,13.5 27,17 27.6,21.5 C24.5,19 21.5,18 18,18.5 Z" fill="#c34a6c"/>
<path d="M9,19 C12,21 14,24 15,28 C16,31 18,33 20,34 M12,23 C10,25 9,28 10,31 M16,18 C18,21 19,24 21,25 M20,15 C21,18 21,21 22,23 M9,27 C12,28 14,30 16,33" stroke="#f2a52a" stroke-width="1.4" fill="none" stroke-linecap="round"/>
<path d="M17.5,28 C18,25 21,24.5 23.5,25.5 C25.5,27 25.5,30.5 23.5,32.5 C21.5,34 18.5,33.5 17.5,31.5 C17,30.5 17.2,29 17.5,28 Z" fill="#5a0c12"/>
<path d="M7.5,5 L9,5 L9,1 L7.5,1 Z M11,4.5 L12.6,4.5 L12.6,0.3 L11,0.3 Z M15,5 L16.6,5 L16.6,1 L15,1 Z" fill="#dc3a3a"/>
<path d="M7,16.5 C6.5,10 8,5 12.5,4.4 C17,4 19,7 18.6,11 C18.3,14 16,16.7 12,16.7 Z" fill="#de3f3f"/>
<path d="M12,16 C15,12 19,10 25.5,8" stroke="#2f7fd6" stroke-width="4" fill="none" stroke-linecap="round"/>
<path d="M19,11 L22.5,14" stroke="#2f7fd6" stroke-width="2.5" stroke-linecap="round"/>
</g>
<text x="81.8" y="95" font-size="9" font-weight="bold" fill="#333" text-anchor="middle" >I/R LAD Balloon</text>
<text x="81.6" y="106" font-size="9" font-weight="bold" fill="#333" text-anchor="middle" >Occlusion</text>
<text x="81.5" y="117" font-size="9" font-weight="bold" fill="#333" text-anchor="middle" >+Echo</text>
<path d="M167,85 L190,80 M166,88 L192,110" stroke="#7a98d8" stroke-width="1"/>
<circle cx="212.5" cy="94" r="24.5" fill="#edf1fb" stroke="#7a98d8" stroke-width="1.3"/>
<g transform="translate(212.5,94)" fill="none" stroke="#d0343c" stroke-linecap="round"><polyline points="-9.2,-20.5 -8.7,-20.2 -8.1,-19.7 -7.3,-19.1 -6.5,-18.5 -5.6,-17.8 -4.7,-17.2 -3.8,-16.6 -2.9,-16.2 -2.1,-15.9 -1.2,-15.6 -0.4,-15.4 0.4,-15.2 1.3,-15.0 2.2,-14.9 3.1,-14.7 4.0,-14.5 5.0,-14.3 6.1,-14.0 7.3,-13.7 8.5,-13.4 9.6,-13.2 10.6,-12.9 11.5,-12.7 12.1,-12.6" stroke-width="0.9"/><polyline points="-19.8,-7.5 -18.8,-7.4 -17.4,-7.3 -15.8,-7.1 -14.0,-6.9 -12.2,-6.8 -10.3,-6.7 -8.5,-6.6 -6.8,-6.7 -5.3,-6.9 -3.8,-7.3 -2.3,-7.7 -0.8,-8.2 0.7,-8.7 2.1,-9.1 3.6,-9.4 5.0,-9.5 6.5,-9.4 8.1,-9.1 9.8,-8.7 11.4,-8.3 13.0,-7.8 14.4,-7.3 15.5,-7.0 16.4,-6.7" stroke-width="1.1"/><path d="M-18.8,-7.4 l0,1.8 M-15.8,-7.1 l0,1.8 M-12.2,-6.8 l0,1.8 M-8.5,-6.6 l0,1.8 M-5.3,-6.9 l0,1.8 M-2.3,-7.7 l0,1.8 M0.7,-8.7 l0,1.8 M3.6,-9.4 l0,1.8 M6.5,-9.4 l0,1.8 M9.8,-8.7 l0,1.8 M13.0,-7.8 l0,1.8 M15.5,-7.0 l0,1.8 " stroke-width="0.6" stroke="#dc5a62"/><polyline points="-20.2,3.1 -19.2,3.3 -17.8,3.6 -16.2,3.9 -14.3,4.3 -12.4,4.7 -10.5,4.9 -8.6,5.1 -6.8,5.1 -5.1,4.9 -3.3,4.5 -1.6,4.0 0.2,3.4 1.9,2.8 3.6,2.2 5.2,1.8 6.6,1.6 8.0,1.6 9.3,1.7 10.6,2.0 11.7,2.3 12.8,2.7 13.8,3.0 14.6,3.3 15.2,3.5" stroke-width="1.1"/><path d="M-19.2,3.3 l0,-1.8 M-16.2,3.9 l0,-1.8 M-12.4,4.7 l0,-1.8 M-8.6,5.1 l0,-1.8 M-5.1,4.9 l0,-1.8 M-1.6,4.0 l0,-1.8 M1.9,2.8 l0,-1.8 M5.2,1.8 l0,-1.8 M8.0,1.6 l0,-1.8 M10.6,2.0 l0,-1.8 M12.8,2.7 l0,-1.8 M14.6,3.3 l0,-1.8 " stroke-width="0.6" stroke="#dc5a62"/><polyline points="-10.0,16.1 -9.5,16.1 -8.7,16.2 -7.9,16.3 -6.9,16.4 -5.9,16.5 -4.9,16.4 -3.9,16.1 -2.9,15.7 -2.0,15.0 -1.0,14.0 -0.0,12.8 1.0,11.5 1.9,10.2 3.0,9.0 4.0,7.9 5.0,7.1 6.1,6.5 7.3,6.1 8.6,5.8 9.8,5.6 11.0,5.4 12.1,5.3 13.0,5.2 13.7,5.1" stroke-width="0.9"/><path d="M-9.5,16.1 l0,-1.8 M-7.9,16.3 l0,-1.8 M-5.9,16.5 l0,-1.8 M-3.9,16.1 l0,-1.8 M-2.0,15.0 l0,-1.8 M-0.0,12.8 l0,-1.8 M1.9,10.2 l0,-1.8 M4.0,7.9 l0,-1.8 M6.1,6.5 l0,-1.8 M8.6,5.8 l0,-1.8 M11.0,5.4 l0,-1.8 M13.0,5.2 l0,-1.8 " stroke-width="0.6" stroke="#dc5a62"/></g>
<g transform="translate(150,105) rotate(-62.8)">
<rect x="5" y="-2.6" width="16.5" height="5.2" rx="1" fill="#f2f2f2" stroke="#9a9a9a" stroke-width="0.7"/>
<rect x="0" y="-1" width="6" height="2" fill="#e4e4e4" stroke="#9a9a9a" stroke-width="0.6"/>
<rect x="-0.5" y="-3.2" width="1.6" height="6.4" fill="#e0e0e0" stroke="#9a9a9a" stroke-width="0.5"/>
<rect x="21.5" y="-1.4" width="3" height="2.8" fill="#78c8a0"/>
<line x1="24.5" y1="0" x2="39.4" y2="0" stroke="#9aa8b0" stroke-width="0.8"/>
<ellipse cx="20.3" cy="0" rx="2.8" ry="3.3" fill="#e8a0c0" stroke="#7a98d8" stroke-width="0.6"/>
</g>
<text x="160.6" y="117.8" font-size="9" font-weight="bold" fill="#333" text-anchor="middle" >Vehicle or</text>
<text x="160.5" y="128.5" font-size="9" font-weight="bold" fill="#333" text-anchor="middle" >hPKM2 CM SMRTs injections</text>
<path d="M285.5,82 L312,80 M285,85.5 L315,107" stroke="#7a98d8" stroke-width="1"/>
<path d="M243,94.5 L288,77 L293.5,85 L251.5,104 Z" fill="#c7cfdc" stroke="#8a94a8" stroke-width="0.8"/>
<path d="M243,94.5 L257,89 L263,98 L251.5,104 Z" fill="#a9b3c4"/>
<ellipse cx="266" cy="90.5" rx="5.2" ry="4" fill="#e8806a" transform="rotate(-20 266 90.5)"/>
<ellipse cx="266" cy="90.5" rx="2.5" ry="1.8" fill="#c8404a" transform="rotate(-20 266 90.5)"/>
<ellipse cx="279" cy="84" rx="5.5" ry="4.2" fill="#e8906a" transform="rotate(-20 279 84)"/>
<ellipse cx="279" cy="84" rx="3" ry="2" fill="#d04a50" transform="rotate(-20 279 84)"/>
<circle cx="283.5" cy="83.5" r="2" fill="none" stroke="#7a98d8" stroke-width="0.8"/>
<circle cx="335.3" cy="91.6" r="24.8" fill="#eef3fb" stroke="#86a0d8" stroke-width="1.1"/>
<g><rect x="326" y="76.5" width="21" height="4.5" rx="1" fill="#f4b4b8"/><rect x="328" y="78.0" width="1.4" height="1.4" fill="#e89098"/><rect x="332" y="78.0" width="1.4" height="1.4" fill="#e89098"/><rect x="336" y="78.0" width="1.4" height="1.4" fill="#e89098"/><rect x="340" y="78.0" width="1.4" height="1.4" fill="#e89098"/><rect x="344" y="78.0" width="1.4" height="1.4" fill="#e89098"/><ellipse cx="323.0" cy="83.5" rx="3.6" ry="2.0" fill="#d4b4a4"/><circle cx="323.0" cy="83.5" r="0.8" fill="#a88070"/><ellipse cx="329.0" cy="83.5" rx="3.6" ry="2.0" fill="#d4b4a4"/><circle cx="329.0" cy="83.5" r="0.8" fill="#a88070"/><ellipse cx="335.0" cy="83.5" rx="3.6" ry="2.0" fill="#d4b4a4"/><circle cx="335.0" cy="83.5" r="0.8" fill="#a88070"/><ellipse cx="341.0" cy="83.5" rx="3.6" ry="2.0" fill="#d4b4a4"/><circle cx="341.0" cy="83.5" r="0.8" fill="#a88070"/><ellipse cx="347.0" cy="83.5" rx="3.6" ry="2.0" fill="#d4b4a4"/><circle cx="347.0" cy="83.5" r="0.8" fill="#a88070"/><rect x="322" y="86" width="24" height="3.5" rx="1" fill="#f4b4b8"/><rect x="324" y="87.0" width="1.4" height="1.4" fill="#e89098"/><rect x="328" y="87.0" width="1.4" height="1.4" fill="#e89098"/><rect x="332" y="87.0" width="1.4" height="1.4" fill="#e89098"/><rect x="336" y="87.0" width="1.4" height="1.4" fill="#e89098"/><rect x="340" y="87.0" width="1.4" height="1.4" fill="#e89098"/><rect x="344" y="87.0" width="1.4" height="1.4" fill="#e89098"/><ellipse cx="325.0" cy="91.2" rx="3.6" ry="1.8" fill="#d4b4a4"/><circle cx="325.0" cy="91.2" r="0.8" fill="#a88070"/><ellipse cx="331.0" cy="91.2" rx="3.6" ry="1.8" fill="#d4b4a4"/><circle cx="331.0" cy="91.2" r="0.8" fill="#a88070"/><ellipse cx="337.0" cy="91.2" rx="3.6" ry="1.8" fill="#d4b4a4"/><circle cx="337.0" cy="91.2" r="0.8" fill="#a88070"/><rect x="322" y="94" width="21" height="4.5" rx="1" fill="#f4b4b8"/><rect x="324" y="95.5" width="1.4" height="1.4" fill="#e89098"/><rect x="328" y="95.5" width="1.4" height="1.4" fill="#e89098"/><rect x="332" y="95.5" width="1.4" height="1.4" fill="#e89098"/><rect x="336" y="95.5" width="1.4" height="1.4" fill="#e89098"/><rect x="340" y="95.5" width="1.4" height="1.4" fill="#e89098"/><ellipse cx="319.0" cy="101.0" rx="3.6" ry="2.0" fill="#d4b4a4"/><circle cx="319.0" cy="101.0" r="0.8" fill="#a88070"/><ellipse cx="325.0" cy="101.0" rx="3.6" ry="2.0" fill="#d4b4a4"/><circle cx="325.0" cy="101.0" r="0.8" fill="#a88070"/><ellipse cx="331.0" cy="101.0" rx="3.6" ry="2.0" fill="#d4b4a4"/><circle cx="331.0" cy="101.0" r="0.8" fill="#a88070"/><ellipse cx="337.0" cy="101.0" rx="3.6" ry="2.0" fill="#d4b4a4"/><circle cx="337.0" cy="101.0" r="0.8" fill="#a88070"/><ellipse cx="343.0" cy="101.0" rx="3.6" ry="2.0" fill="#d4b4a4"/><circle cx="343.0" cy="101.0" r="0.8" fill="#a88070"/><rect x="320" y="103" width="25" height="3.5" rx="1" fill="#f4b4b8"/><rect x="322" y="104.0" width="1.4" height="1.4" fill="#e89098"/><rect x="326" y="104.0" width="1.4" height="1.4" fill="#e89098"/><rect x="330" y="104.0" width="1.4" height="1.4" fill="#e89098"/><rect x="334" y="104.0" width="1.4" height="1.4" fill="#e89098"/><rect x="338" y="104.0" width="1.4" height="1.4" fill="#e89098"/><rect x="342" y="104.0" width="1.4" height="1.4" fill="#e89098"/><ellipse cx="322.0" cy="108.8" rx="3.6" ry="1.8" fill="#d4b4a4"/><circle cx="322.0" cy="108.8" r="0.8" fill="#a88070"/><ellipse cx="328.0" cy="108.8" rx="3.6" ry="1.8" fill="#d4b4a4"/><circle cx="328.0" cy="108.8" r="0.8" fill="#a88070"/><ellipse cx="334.0" cy="108.8" rx="3.6" ry="1.8" fill="#d4b4a4"/><circle cx="334.0" cy="108.8" r="0.8" fill="#a88070"/></g>
<text x="283.5" y="117.3" font-size="9" font-weight="bold" fill="#222" text-anchor="middle" >Tissue harvest</text>
<text x="282" y="128" font-size="9" font-weight="bold" fill="#222" text-anchor="middle" >and immunostaining</text>
<g transform="translate(366,16.5) scale(1.0)">
<path d="M2,4 C4,1.5 9,1 15,1.2 C22,1.5 28,2.2 33,2.5 L36,1.5 L37,-0.5 L39,0.5 L39.5,2.8 C41,4 43,7 45,9.5 C45.5,10.5 44.5,11.5 43,11.5 C41,11.8 38.5,12.2 36.5,13.5 L35,14.5 L35.5,21.5 L34.5,22.8 L32.5,22.5 L33,21 L31.5,15.8 L30.5,22.5 L28.5,22.5 L29,21 L27.5,16 C23,16.8 18,16.8 14,16 L12.5,21 L14,22.5 L11,22.5 L9.5,17 L6,21.5 L6.5,22.8 L3.5,22.8 L3,20 C0.8,16 0.5,9 2,4 Z" fill="#ecc3c3"/>
<path d="M8,13 C14,15.5 22,15.8 28,14.5 L27.5,16 C23,16.8 18,16.8 14,16 Z M33,12 L36.5,13.5 L35,14.5 Z" fill="#dfadad"/>
<path d="M2,3.5 L1,1.5 L2.5,2.5 Z" fill="#ecc3c3"/>
<circle cx="39.5" cy="6" r="0.6" fill="#8a6a6a"/>
</g>
<text x="383" y="50.5" font-size="9" font-weight="bold" fill="#222" text-anchor="middle" >n=10</text>
<text x="383" y="61" font-size="9" font-weight="bold" fill="#222" text-anchor="middle" >per group</text>
<line x1="428.6" y1="25" x2="621" y2="25" stroke="#555" stroke-width="1.3"/>
<line x1="428.6" y1="16" x2="428.6" y2="33" stroke="#555" stroke-width="1.3"/>
<line x1="526" y1="16" x2="526" y2="33" stroke="#555" stroke-width="1.3"/>
<line x1="621" y1="16" x2="621" y2="33" stroke="#555" stroke-width="1.3"/>
<text x="431.5" y="11.6" font-size="9" font-weight="bold" fill="#222" text-anchor="middle" >Day -7</text>
<text x="525" y="11.6" font-size="9" font-weight="bold" fill="#222" text-anchor="middle" >Day 0</text>
<text x="622.8" y="11.6" font-size="9" font-weight="bold" fill="#222" text-anchor="middle" >Day 56</text>
<path d="M441,52 L464,48 M440,62 L466,80" stroke="#b8c4dc" stroke-width="0.8"/>
<circle cx="480" cy="65" r="21.6" fill="#edf1fb" stroke="#c8d2ea" stroke-width="0.8"/>
<g transform="translate(480,65)" fill="none" stroke-linecap="round">
<path d="M-14,-14 C-8,-11 -3,-10 2,-8 C6,-6 10,-6 12,-4" stroke="#c03a3a" stroke-width="1.1"/>
<path d="M-10,-12 L-12,-13" stroke="#3aa040" stroke-width="1.3"/>
<path d="M0,-9 C-2,-4 -5,2 -6,8 M2,-8 C4,-2 2,6 4,12 M6,-6 C8,0 9,4 8,10 M-3,-5 C-6,-1 -9,3 -10,6 M12,-4 C13,0 12,4 12,8 M-2,2 C0,6 -2,10 -3,15" stroke="#a0304a" stroke-width="0.9"/>
<path d="M-4,0 C-6,4 -5,8 -7,12 M4,2 C6,6 5,9 6,13" stroke="#6a3a8a" stroke-width="0.7"/>
</g>
<g transform="translate(415.5,35) scale(1.0)">
<path d="M4.3,0 L7.8,0 L8,10 L4.5,10 Z M4,27 L8,27 L8,36 L4.2,36 Z" fill="#2f7fd6"/>
<path d="M0,11 L5,11 L5,13 L0,13 Z M0.5,14.5 L5,14 L5,16 L0.5,16.2 Z M19,12.5 L25,12 L25.5,14.2 L19,14.8 Z" fill="#dc3a3a"/>
<path d="M0.5,23 C0,16 4,13.5 8,14 L20,14 C25,14 28,19 28,26 C28,32 24,36.5 18,36.5 C12,36.5 6,33.5 3,30 C1.2,28 0.6,25.5 0.5,23 Z" fill="#e2604e"/>
<path d="M0.5,22 C0.5,16 4,14 8,15 C10,19 9,26 8.5,32.5 C4,30 0.5,27 0.5,22 Z" fill="#c34a6c"/>
<path d="M18.5,14 C24,13.5 27,17 27.6,21.5 C24.5,19 21.5,18 18,18.5 Z" fill="#c34a6c"/>
<path d="M9,19 C12,21 14,24 15,28 C16,31 18,33 20,34 M12,23 C10,25 9,28 10,31 M16,18 C18,21 19,24 21,25 M20,15 C21,18 21,21 22,23 M9,27 C12,28 14,30 16,33" stroke="#f2a52a" stroke-width="1.4" fill="none" stroke-linecap="round"/>
<path d="M7.5,5 L9,5 L9,1 L7.5,1 Z M11,4.5 L12.6,4.5 L12.6,0.3 L11,0.3 Z M15,5 L16.6,5 L16.6,1 L15,1 Z" fill="#dc3a3a"/>
<path d="M7,16.5 C6.5,10 8,5 12.5,4.4 C17,4 19,7 18.6,11 C18.3,14 16,16.7 12,16.7 Z" fill="#de3f3f"/>
<path d="M12,16 C15,12 19,10 25.5,8" stroke="#2f7fd6" stroke-width="4" fill="none" stroke-linecap="round"/>
<path d="M19,11 L22.5,14" stroke="#2f7fd6" stroke-width="2.5" stroke-linecap="round"/>
</g>
<g transform="translate(514,35) scale(1.0)">
<path d="M4.3,0 L7.8,0 L8,10 L4.5,10 Z M4,27 L8,27 L8,36 L4.2,36 Z" fill="#2f7fd6"/>
<path d="M0,11 L5,11 L5,13 L0,13 Z M0.5,14.5 L5,14 L5,16 L0.5,16.2 Z M19,12.5 L25,12 L25.5,14.2 L19,14.8 Z" fill="#dc3a3a"/>
<path d="M0.5,23 C0,16 4,13.5 8,14 L20,14 C25,14 28,19 28,26 C28,32 24,36.5 18,36.5 C12,36.5 6,33.5 3,30 C1.2,28 0.6,25.5 0.5,23 Z" fill="#e2604e"/>
<path d="M0.5,22 C0.5,16 4,14 8,15 C10,19 9,26 8.5,32.5 C4,30 0.5,27 0.5,22 Z" fill="#c34a6c"/>
<path d="M18.5,14 C24,13.5 27,17 27.6,21.5 C24.5,19 21.5,18 18,18.5 Z" fill="#c34a6c"/>
<path d="M9,19 C12,21 14,24 15,28 C16,31 18,33 20,34 M12,23 C10,25 9,28 10,31 M16,18 C18,21 19,24 21,25 M20,15 C21,18 21,21 22,23 M9,27 C12,28 14,30 16,33" stroke="#f2a52a" stroke-width="1.4" fill="none" stroke-linecap="round"/>
<path d="M17.5,28 C18,25 21,24.5 23.5,25.5 C25.5,27 25.5,30.5 23.5,32.5 C21.5,34 18.5,33.5 17.5,31.5 C17,30.5 17.2,29 17.5,28 Z" fill="#5a0c12"/>
<path d="M7.5,5 L9,5 L9,1 L7.5,1 Z M11,4.5 L12.6,4.5 L12.6,0.3 L11,0.3 Z M15,5 L16.6,5 L16.6,1 L15,1 Z" fill="#dc3a3a"/>
<path d="M7,16.5 C6.5,10 8,5 12.5,4.4 C17,4 19,7 18.6,11 C18.3,14 16,16.7 12,16.7 Z" fill="#de3f3f"/>
<path d="M12,16 C15,12 19,10 25.5,8" stroke="#2f7fd6" stroke-width="4" fill="none" stroke-linecap="round"/>
<path d="M19,11 L22.5,14" stroke="#2f7fd6" stroke-width="2.5" stroke-linecap="round"/>
</g>
<text x="420" y="81.2" font-size="9" font-weight="bold" fill="#333" text-anchor="middle" >I/R LAD Balloon</text>
<text x="419.8" y="92.2" font-size="9" font-weight="bold" fill="#333" text-anchor="middle" >Occlusion</text>
<text x="419.8" y="102.8" font-size="9" font-weight="bold" fill="#333" text-anchor="middle" >+Echo</text>
<path d="M528,85 L551,81 M527,88 L553,110" stroke="#7a98d8" stroke-width="1"/>
<circle cx="573.4" cy="93.7" r="24.5" fill="#edf1fb" stroke="#7a98d8" stroke-width="1.3"/>
<g transform="translate(573.4,93.7)" fill="none" stroke="#d0343c" stroke-linecap="round"><polyline points="-9.2,-20.5 -8.7,-20.2 -8.1,-19.7 -7.3,-19.1 -6.5,-18.5 -5.6,-17.8 -4.7,-17.2 -3.8,-16.6 -2.9,-16.2 -2.1,-15.9 -1.2,-15.6 -0.4,-15.4 0.4,-15.2 1.3,-15.0 2.2,-14.9 3.1,-14.7 4.0,-14.5 5.0,-14.3 6.1,-14.0 7.3,-13.7 8.5,-13.4 9.6,-13.2 10.6,-12.9 11.5,-12.7 12.1,-12.6" stroke-width="0.9"/><polyline points="-19.8,-7.5 -18.8,-7.4 -17.4,-7.3 -15.8,-7.1 -14.0,-6.9 -12.2,-6.8 -10.3,-6.7 -8.5,-6.6 -6.8,-6.7 -5.3,-6.9 -3.8,-7.3 -2.3,-7.7 -0.8,-8.2 0.7,-8.7 2.1,-9.1 3.6,-9.4 5.0,-9.5 6.5,-9.4 8.1,-9.1 9.8,-8.7 11.4,-8.3 13.0,-7.8 14.4,-7.3 15.5,-7.0 16.4,-6.7" stroke-width="1.1"/><path d="M-18.8,-7.4 l0,1.8 M-15.8,-7.1 l0,1.8 M-12.2,-6.8 l0,1.8 M-8.5,-6.6 l0,1.8 M-5.3,-6.9 l0,1.8 M-2.3,-7.7 l0,1.8 M0.7,-8.7 l0,1.8 M3.6,-9.4 l0,1.8 M6.5,-9.4 l0,1.8 M9.8,-8.7 l0,1.8 M13.0,-7.8 l0,1.8 M15.5,-7.0 l0,1.8 " stroke-width="0.6" stroke="#dc5a62"/><polyline points="-20.2,3.1 -19.2,3.3 -17.8,3.6 -16.2,3.9 -14.3,4.3 -12.4,4.7 -10.5,4.9 -8.6,5.1 -6.8,5.1 -5.1,4.9 -3.3,4.5 -1.6,4.0 0.2,3.4 1.9,2.8 3.6,2.2 5.2,1.8 6.6,1.6 8.0,1.6 9.3,1.7 10.6,2.0 11.7,2.3 12.8,2.7 13.8,3.0 14.6,3.3 15.2,3.5" stroke-width="1.1"/><path d="M-19.2,3.3 l0,-1.8 M-16.2,3.9 l0,-1.8 M-12.4,4.7 l0,-1.8 M-8.6,5.1 l0,-1.8 M-5.1,4.9 l0,-1.8 M-1.6,4.0 l0,-1.8 M1.9,2.8 l0,-1.8 M5.2,1.8 l0,-1.8 M8.0,1.6 l0,-1.8 M10.6,2.0 l0,-1.8 M12.8,2.7 l0,-1.8 M14.6,3.3 l0,-1.8 " stroke-width="0.6" stroke="#dc5a62"/><polyline points="-10.0,16.1 -9.5,16.1 -8.7,16.2 -7.9,16.3 -6.9,16.4 -5.9,16.5 -4.9,16.4 -3.9,16.1 -2.9,15.7 -2.0,15.0 -1.0,14.0 -0.0,12.8 1.0,11.5 1.9,10.2 3.0,9.0 4.0,7.9 5.0,7.1 6.1,6.5 7.3,6.1 8.6,5.8 9.8,5.6 11.0,5.4 12.1,5.3 13.0,5.2 13.7,5.1" stroke-width="0.9"/><path d="M-9.5,16.1 l0,-1.8 M-7.9,16.3 l0,-1.8 M-5.9,16.5 l0,-1.8 M-3.9,16.1 l0,-1.8 M-2.0,15.0 l0,-1.8 M-0.0,12.8 l0,-1.8 M1.9,10.2 l0,-1.8 M4.0,7.9 l0,-1.8 M6.1,6.5 l0,-1.8 M8.6,5.8 l0,-1.8 M11.0,5.4 l0,-1.8 M13.0,5.2 l0,-1.8 " stroke-width="0.6" stroke="#dc5a62"/></g>
<g transform="translate(512,104) rotate(-62.7)">
<rect x="5" y="-2.6" width="15.6" height="5.2" rx="1" fill="#f2f2f2" stroke="#9a9a9a" stroke-width="0.7"/>
<rect x="0" y="-1" width="6" height="2" fill="#e4e4e4" stroke="#9a9a9a" stroke-width="0.6"/>
<rect x="-0.5" y="-3.2" width="1.6" height="6.4" fill="#e0e0e0" stroke="#9a9a9a" stroke-width="0.5"/>
<rect x="20.6" y="-1.4" width="3" height="2.8" fill="#78c8a0"/>
<line x1="23.6" y1="0" x2="37.1" y2="0" stroke="#9aa8b0" stroke-width="0.8"/>
<ellipse cx="19.5" cy="0" rx="2.8" ry="3.3" fill="#e8a0c0" stroke="#7a98d8" stroke-width="0.6"/>
</g>
<text x="490.8" y="115" font-size="9" font-weight="bold" fill="#333" text-anchor="middle" >Vehicle or</text>
<text x="490.5" y="125.8" font-size="9" font-weight="bold" fill="#333" text-anchor="middle" >hPKM2 CM SMRTs injections</text>
<g fill="#f3c5c5">
<path d="M632,29 C636,29 637,35 637,39 C641,41 645,45 644,59 C644,71 642,81 632,85 C622,81 620,71 620,59 C619,45 623,41 627,39 C627,35 628,29 632,29 Z"/>
<path d="M622,46 C616,45 612,47 608,49 L609,51 C614,50 618,51 622,52 Z"/>
<path d="M642,46 C648,45 652,47 656,49 L655,51 C650,50 646,51 642,52 Z"/>
<path d="M624,77 C621,83 619,89 617,93 L621,93 C623,89 626,84 628,81 Z"/>
<path d="M640,77 C643,83 645,89 647,93 L643,93 C641,89 638,84 636,81 Z"/>
<path d="M628,35 L624,32 L627,39 Z M636,35 L640,32 L637,39 Z"/>
</g>
<ellipse cx="631" cy="49" rx="2.6" ry="1.9" fill="#cde2f4" stroke="#a8c8e8" stroke-width="0.4"/>
<ellipse cx="636" cy="49" rx="2.6" ry="1.9" fill="#cde2f4" stroke="#a8c8e8" stroke-width="0.4"/>
<ellipse cx="624" cy="58" rx="2.6" ry="1.9" fill="#cde2f4" stroke="#a8c8e8" stroke-width="0.4"/>
<ellipse cx="633" cy="58" rx="2.6" ry="1.9" fill="#cde2f4" stroke="#a8c8e8" stroke-width="0.4"/>
<ellipse cx="639" cy="58" rx="2.6" ry="1.9" fill="#cde2f4" stroke="#a8c8e8" stroke-width="0.4"/>
<ellipse cx="624" cy="67" rx="2.6" ry="1.9" fill="#cde2f4" stroke="#a8c8e8" stroke-width="0.4"/>
<ellipse cx="638" cy="67" rx="2.6" ry="1.9" fill="#cde2f4" stroke="#a8c8e8" stroke-width="0.4"/>
<rect x="656" y="2" width="24" height="20" rx="2" fill="#e6e6e6" stroke="#a0a0a0" stroke-width="0.8"/>
<rect x="647.5" y="6" width="9" height="13" rx="1" fill="#dcdcdc" stroke="#a8a8a8" stroke-width="0.6"/>
<rect x="658.5" y="4" width="19" height="14" fill="#2c2c2c"/>
<path d="M659.5,12 L665,12 L666,7 L667,15 L668,12 L677,12" stroke="#c8c8c8" stroke-width="0.5" fill="none"/>
<rect x="665" y="22" width="3.5" height="9" fill="#d0d0d0"/>
<path d="M651,31 L680,31 L681,35.5 L652,35.5 Z" fill="#8a8a8a"/>
<rect x="654" y="31.5" width="20" height="2" fill="#d8d8d8"/>
<rect x="665.5" y="35.5" width="2.4" height="36" fill="#c8c8c8" stroke="#a8a8a8" stroke-width="0.3"/>
<path d="M666.5,71 L653,79 M666.5,71 L680,79 M666.5,71 L657,66.5 M666.5,71 L677,66" stroke="#a8a8a8" stroke-width="2" stroke-linecap="round"/>
<circle cx="653" cy="79.5" r="1.5" fill="#5a5a5a"/>
<circle cx="680" cy="79.5" r="1.5" fill="#5a5a5a"/>
<circle cx="656.5" cy="66.5" r="1.5" fill="#5a5a5a"/>
<circle cx="677.5" cy="66" r="1.5" fill="#5a5a5a"/>
<text x="632.2" y="104.3" font-size="9" font-weight="bold" fill="#333" text-anchor="middle" >EKG post</text>
<text x="632.1" y="115.3" font-size="9" font-weight="bold" fill="#333" text-anchor="middle" >Programmed</text>
<text x="632.3" y="126.3" font-size="9" font-weight="bold" fill="#333" text-anchor="middle" >Electrical Stimulation</text>
</svg>
</body></html>
